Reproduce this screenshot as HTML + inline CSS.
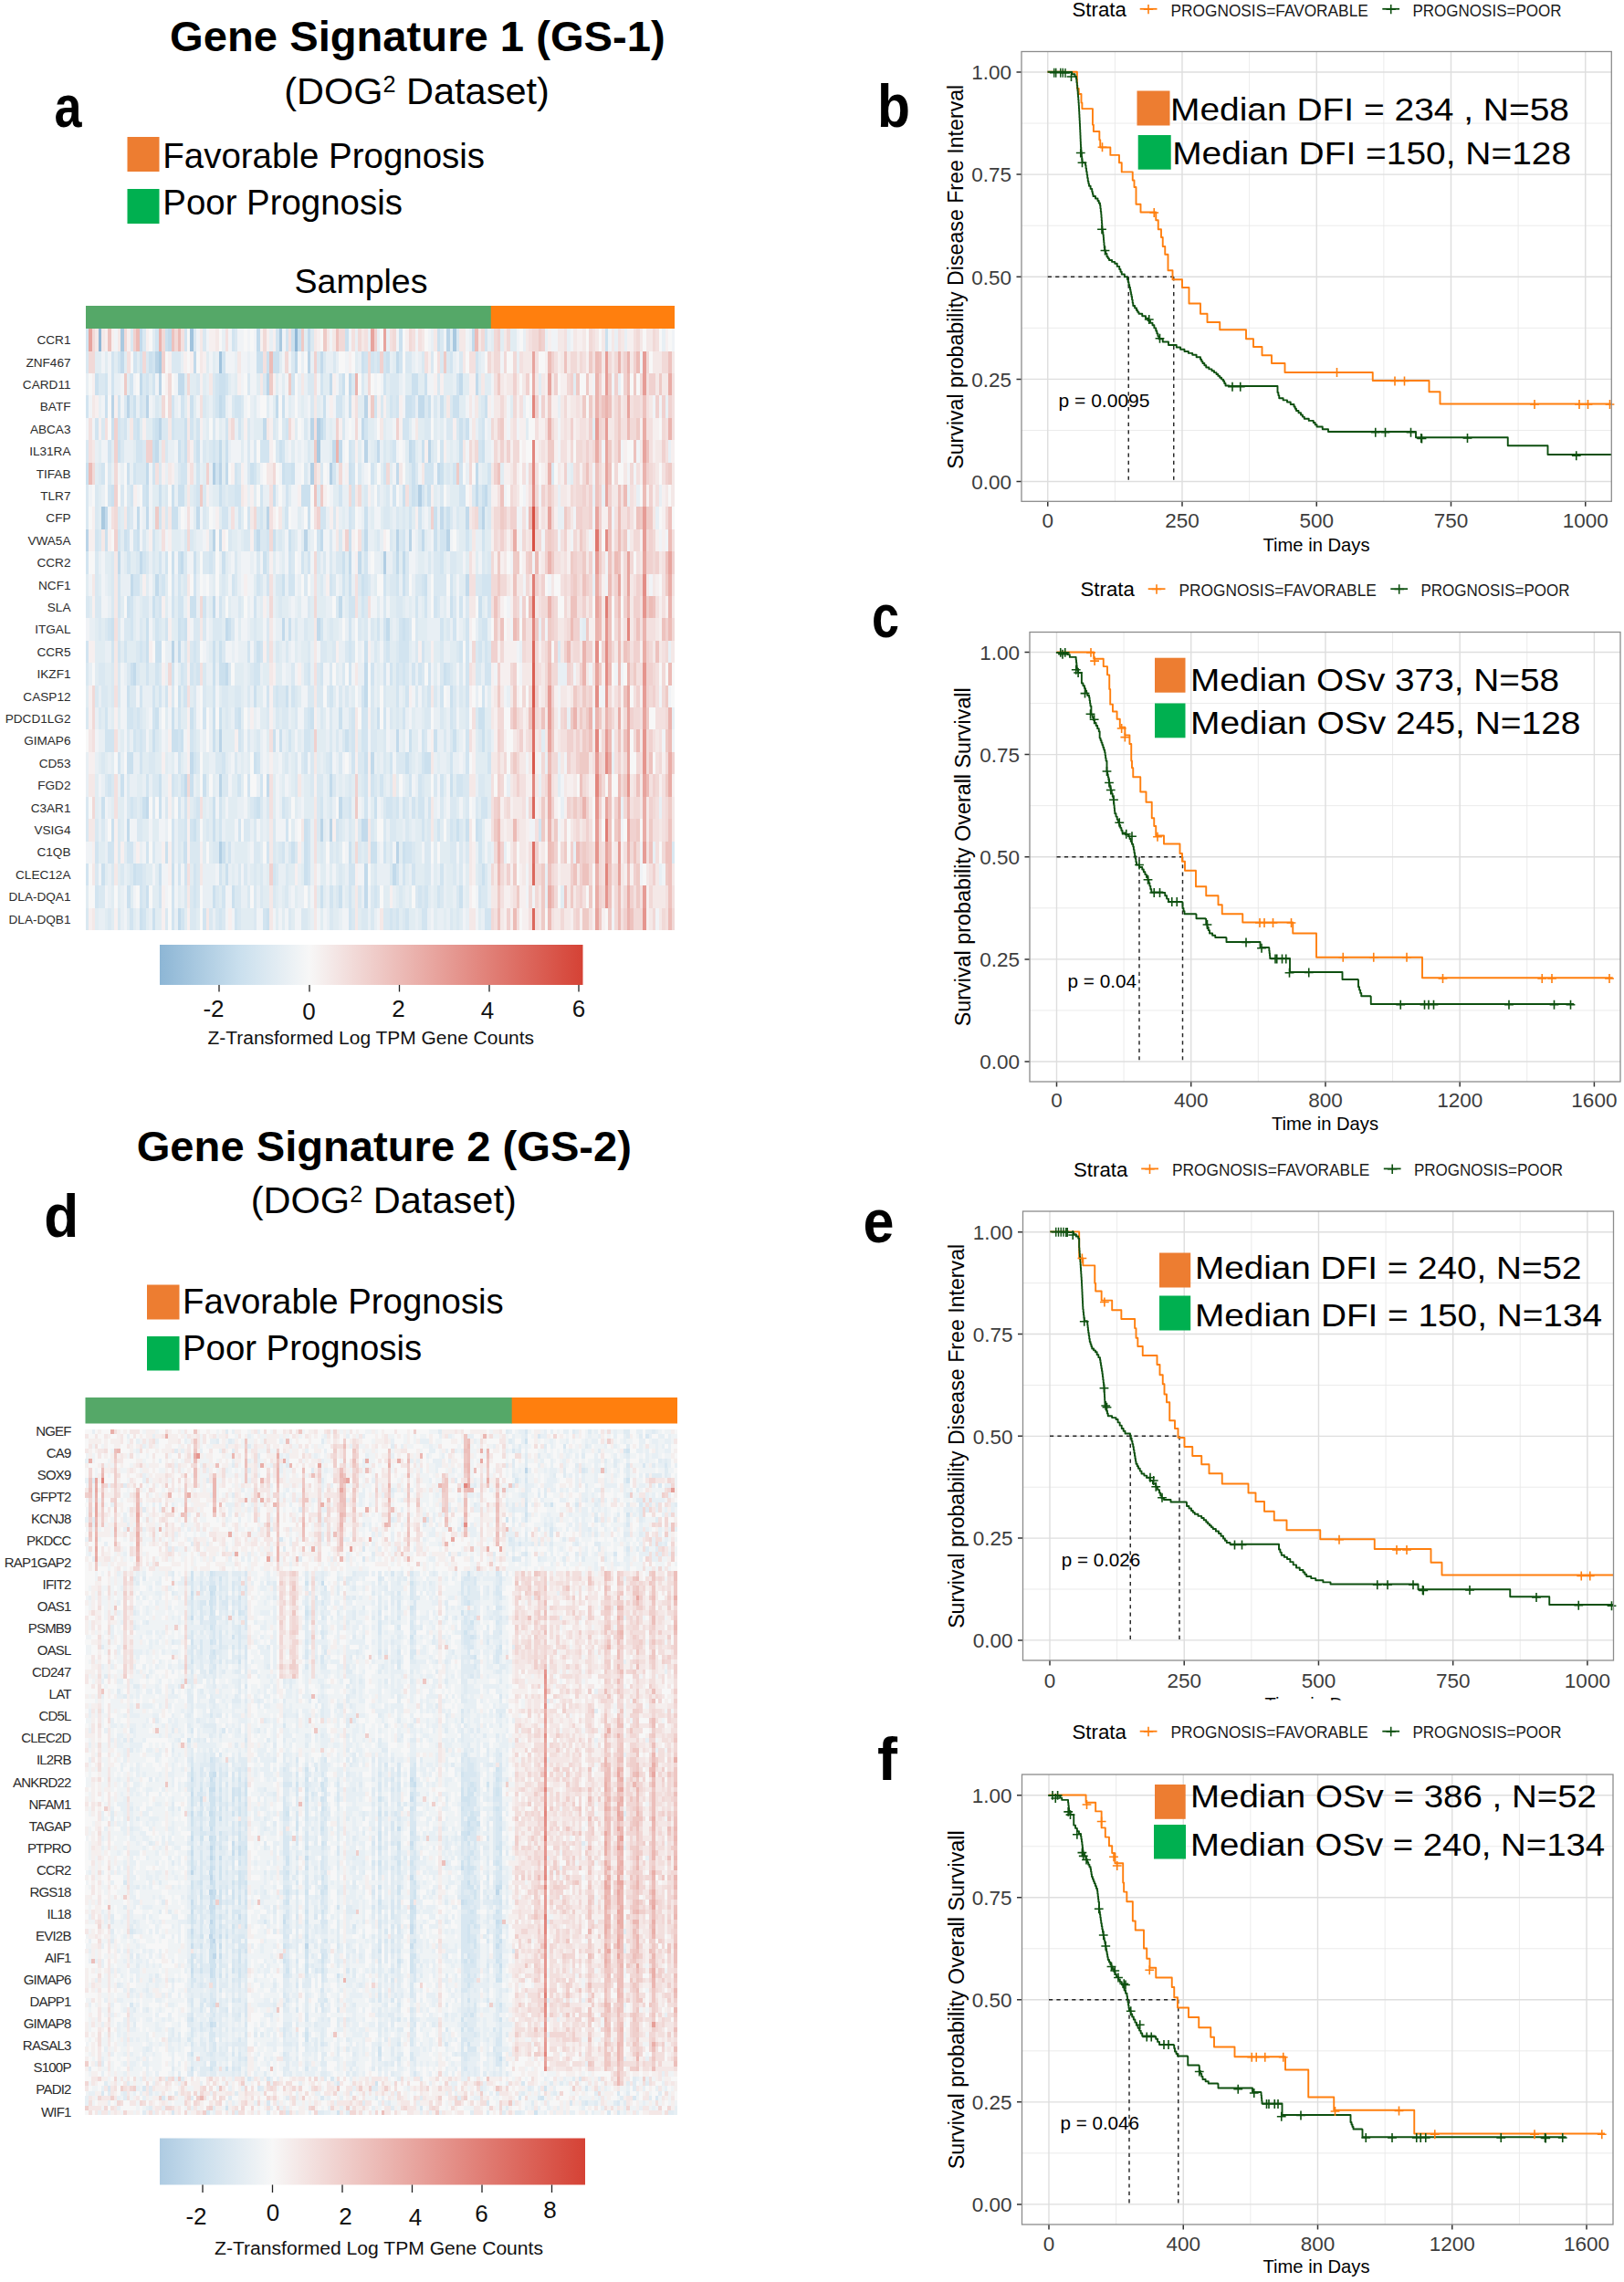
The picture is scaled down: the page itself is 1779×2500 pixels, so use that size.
<!DOCTYPE html>
<html lang="en"><head><meta charset="utf-8"><title>Gene signatures GS-1 and GS-2: heatmaps and Kaplan-Meier curves</title>
<style>html,body{margin:0;padding:0;background:#fff}svg{display:block}text{font-family:'Liberation Sans',Arial,sans-serif}</style></head><body>
<svg width="1779" height="2500" viewBox="0 0 1779 2500">
<rect width="1779" height="2500" fill="#fff"/>
<text x="186.1" y="55.8" font-size="47" font-weight="bold" textLength="542.6" lengthAdjust="spacingAndGlyphs">Gene Signature 1 (GS-1)</text>
<text x="311.3" y="113.5" font-size="41.2" textLength="290.5" lengthAdjust="spacingAndGlyphs">(DOG<tspan font-size="25" dy="-12.7">2</tspan><tspan dy="12.7"> Dataset)</tspan></text>
<text x="59.5" y="139.3" font-size="65" font-weight="bold" textLength="30" lengthAdjust="spacingAndGlyphs">a</text>
<rect x="139.5" y="150" width="35" height="38" fill="#ed7d31"/>
<rect x="139.5" y="207" width="35" height="38" fill="#00b050"/>
<text x="178.3" y="184" font-size="38.4" textLength="352.8" lengthAdjust="spacingAndGlyphs">Favorable Prognosis</text>
<text x="178.3" y="235.2" font-size="38.4" textLength="262.6" lengthAdjust="spacingAndGlyphs">Poor Prognosis</text>
<text x="322.5" y="321" font-size="36" textLength="146" lengthAdjust="spacingAndGlyphs">Samples</text>
<rect x="94" y="335" width="444" height="25.3" fill="#55a868"/>
<rect x="537.8" y="335" width="201.2" height="25.3" fill="#ff7f0e"/>
<g font-size="13.6" fill="#2b2b2b" text-anchor="end">
<text x="77.5" y="377.2">CCR1</text>
<text x="77.5" y="401.6">ZNF467</text>
<text x="77.5" y="426">CARD11</text>
<text x="77.5" y="450.4">BATF</text>
<text x="77.5" y="474.8">ABCA3</text>
<text x="77.5" y="499.2">IL31RA</text>
<text x="77.5" y="523.6">TIFAB</text>
<text x="77.5" y="548">TLR7</text>
<text x="77.5" y="572.4">CFP</text>
<text x="77.5" y="596.8">VWA5A</text>
<text x="77.5" y="621.2">CCR2</text>
<text x="77.5" y="645.6">NCF1</text>
<text x="77.5" y="670">SLA</text>
<text x="77.5" y="694.4">ITGAL</text>
<text x="77.5" y="718.8">CCR5</text>
<text x="77.5" y="743.2">IKZF1</text>
<text x="77.5" y="767.6">CASP12</text>
<text x="77.5" y="792">PDCD1LG2</text>
<text x="77.5" y="816.4">GIMAP6</text>
<text x="77.5" y="840.8">CD53</text>
<text x="77.5" y="865.2">FGD2</text>
<text x="77.5" y="889.6">C3AR1</text>
<text x="77.5" y="914">VSIG4</text>
<text x="77.5" y="938.4">C1QB</text>
<text x="77.5" y="962.8">CLEC12A</text>
<text x="77.5" y="987.2">DLA-DQA1</text>
<text x="77.5" y="1011.6">DLA-DQB1</text>
</g>
<g transform="translate(94 360.3) scale(3.4677 24.4000)" shape-rendering="crispEdges" fill="none" stroke-width="1.03">
<rect x="0" y="0" width="186" height="27" fill="#e1ecf2" stroke="none"/>
<path stroke="#8fb7d6" d="M4.5 0v1M66.5 0v1"/>
<path stroke="#a0c3dd" d="M33.5 0v1M42.5 1v1"/>
<path stroke="#a9c9e0" d="M5.5 8v1M11.5 0v1M23.5 1v1M61.5 0v1M73.5 5v1M116.5 0v1"/>
<path stroke="#b1cee4" d="M40.5 6v1M42.5 23v1M71.5 6v1M73.5 4v1M77.5 6v1M94.5 10v1M105.5 7v1"/>
<path stroke="#bad4e7" d="M0.5 9v1M8.5 3v1M13.5 3v1M19.5 3v1M22.5 1v1M23.5 2v1M23.5 4v1M27.5 14v1M40.5 9v1M42.5 6v1M42.5 18v1M42.5 20v1M57.5 2v1M57.5 8v1M69.5 9v1M70.5 1v1M71.5 4v1M74.5 22v1M77.5 22v1M88.5 3v1M88.5 5v1M98.5 9v1M98.5 23v1M102.5 9v1M108.5 5v1M114.5 0v1M114.5 9v1M125.5 8v1"/>
<path stroke="#c2daeb" d="M6.5 8v1M10.5 10v1M11.5 1v1M13.5 22v1M14.5 11v1M15.5 15v1M16.5 8v1M17.5 0v1M17.5 2v1M17.5 10v1M19.5 6v1M19.5 8v1M19.5 21v1M22.5 5v1M22.5 11v1M26.5 0v1M29.5 2v1M29.5 14v1M29.5 26v1M30.5 2v1M30.5 10v1M31.5 20v1M33.5 19v1M34.5 1v1M35.5 8v1M40.5 12v1M42.5 3v1M42.5 5v1M42.5 9v1M44.5 6v1M44.5 13v1M44.5 15v1M54.5 0v1M54.5 9v1M56.5 4v1M57.5 20v1M60.5 3v1M62.5 13v1M66.5 1v1M70.5 0v1M73.5 13v1M74.5 1v1M74.5 4v1M74.5 9v1M77.5 2v1M77.5 20v1M78.5 5v1M80.5 5v1M80.5 12v1M80.5 21v1M83.5 2v1M83.5 10v1M86.5 10v1M87.5 4v1M87.5 22v1M88.5 9v1M88.5 15v2M88.5 22v1M88.5 24v2M90.5 19v1M92.5 5v1M95.5 13v1M97.5 24v1M98.5 1v1M98.5 6v1M98.5 10v1M98.5 18v1M100.5 10v1M102.5 5v1M105.5 3v1M106.5 3v1M106.5 9v1M111.5 6v1M112.5 8v1M118.5 2v1M120.5 8v1M120.5 11v1M122.5 0v1M123.5 2v1M123.5 6v2M126.5 7v1"/>
<path stroke="#cbe0ee" d="M0.5 6v1M3.5 2v1M5.5 21v1M5.5 24v1M6.5 3v1M6.5 9v1M8.5 4v1M8.5 7v1M8.5 13v1M8.5 22v1M10.5 5v1M11.5 20v1M12.5 9v1M13.5 6v1M13.5 12v1M13.5 16v1M13.5 19v1M13.5 25v1M14.5 15v1M14.5 19v1M15.5 3v1M15.5 24v1M16.5 4v1M16.5 9v1M17.5 26v1M18.5 21v1M19.5 7v1M19.5 13v2M19.5 25v1M20.5 1v1M21.5 5v1M21.5 12v1M21.5 18v1M21.5 26v1M22.5 4v1M22.5 14v1M22.5 17v1M23.5 7v1M23.5 14v1M23.5 20v2M23.5 24v1M25.5 0v1M25.5 23v1M27.5 7v2M27.5 10v1M27.5 17v2M27.5 24v1M28.5 8v1M28.5 18v1M29.5 5v1M29.5 7v1M29.5 10v1M29.5 13v1M29.5 16v1M30.5 7v1M30.5 18v1M31.5 4v2M31.5 13v1M31.5 23v1M33.5 3v1M33.5 12v1M33.5 17v1M33.5 20v1M34.5 10v1M34.5 12v1M34.5 22v1M35.5 5v1M37.5 20v1M40.5 14v2M40.5 17v2M40.5 21v2M40.5 25v1M42.5 2v1M42.5 7v1M42.5 14v2M42.5 17v1M43.5 2v2M43.5 10v1M43.5 15v1M43.5 23v1M44.5 5v1M44.5 24v1M45.5 13v1M46.5 25v1M48.5 17v1M52.5 6v1M53.5 16v1M53.5 19v1M54.5 1v1M54.5 14v1M54.5 21v1M55.5 1v1M56.5 10v1M57.5 1v1M57.5 26v1M59.5 1v1M59.5 7v1M59.5 9v1M59.5 18v1M60.5 1v1M61.5 5v1M61.5 18v1M62.5 3v1M62.5 6v1M62.5 11v1M63.5 16v1M64.5 9v1M64.5 13v1M65.5 0v1M65.5 6v1M65.5 23v1M67.5 0v1M68.5 7v1M69.5 7v1M69.5 22v3M70.5 7v2M71.5 17v1M74.5 25v1M75.5 3v1M80.5 17v1M80.5 25v1M81.5 2v1M81.5 10v1M82.5 0v1M82.5 18v1M83.5 3v1M83.5 6v1M83.5 9v1M83.5 11v1M83.5 23v1M87.5 1v1M87.5 11v1M88.5 8v1M88.5 14v1M88.5 19v1M90.5 23v1M91.5 21v1M91.5 23v1M92.5 17v1M95.5 1v1M99.5 0v1M100.5 7v1M100.5 11v1M100.5 13v1M100.5 23v1M101.5 3v1M101.5 19v1M102.5 3v1M102.5 18v1M103.5 2v1M103.5 5v3M104.5 2v1M106.5 5v1M107.5 2v1M107.5 11v1M107.5 19v1M108.5 3v1M108.5 7v1M108.5 19v1M110.5 8v2M110.5 18v1M111.5 0v1M112.5 3v1M112.5 6v1M113.5 15v1M114.5 8v1M115.5 12v1M115.5 16v1M115.5 20v1M116.5 3v1M116.5 18v1M117.5 3v1M117.5 22v1M118.5 4v2M118.5 25v1M120.5 4v1M120.5 22v1M123.5 22v1M124.5 12v1M124.5 17v1M125.5 5v1M125.5 7v1M125.5 17v2M125.5 24v1M126.5 3v1M164.5 0v1"/>
<path stroke="#d2e4f0" d="M0.5 0v1M0.5 3v1M0.5 10v1M0.5 14v1M0.5 24v1M3.5 4v1M3.5 9v1M3.5 23v1M3.5 25v1M5.5 6v1M6.5 2v1M6.5 17v2M7.5 5v1M7.5 7v1M7.5 13v1M7.5 18v1M7.5 20v1M7.5 23v1M8.5 1v2M8.5 14v1M8.5 18v1M8.5 23v1M10.5 1v1M10.5 3v2M10.5 9v1M10.5 11v2M10.5 14v1M10.5 19v1M12.5 4v1M12.5 14v1M13.5 8v3M13.5 17v1M13.5 23v1M14.5 2v1M14.5 7v1M14.5 12v2M14.5 17v1M14.5 21v1M14.5 23v1M14.5 26v1M15.5 1v1M15.5 4v1M15.5 6v1M15.5 9v1M15.5 11v1M15.5 18v1M16.5 5v1M16.5 11v1M16.5 17v1M16.5 24v1M17.5 1v1M17.5 3v1M17.5 5v1M17.5 14v1M17.5 16v1M17.5 18v2M17.5 24v2M18.5 7v1M18.5 10v1M18.5 26v1M19.5 2v1M19.5 15v1M19.5 20v1M19.5 23v1M21.5 1v2M21.5 4v1M21.5 6v1M21.5 9v1M21.5 16v2M22.5 0v1M22.5 13v1M22.5 15v1M23.5 8v1M23.5 10v1M23.5 12v1M23.5 16v1M23.5 25v1M24.5 11v1M25.5 10v1M25.5 13v1M25.5 16v1M27.5 3v2M27.5 11v2M27.5 15v1M27.5 20v1M27.5 22v2M27.5 25v2M29.5 11v2M29.5 17v3M29.5 21v1M29.5 24v1M30.5 3v1M30.5 6v1M30.5 12v2M30.5 15v1M30.5 20v1M30.5 26v1M31.5 0v1M31.5 6v1M31.5 16v1M31.5 21v2M31.5 24v1M33.5 4v1M33.5 15v1M33.5 18v1M33.5 22v1M34.5 11v1M34.5 14v1M34.5 19v1M34.5 24v2M35.5 4v1M35.5 6v2M35.5 15v1M35.5 21v1M37.5 12v1M37.5 17v1M37.5 26v1M39.5 10v1M40.5 5v1M40.5 16v1M41.5 2v2M41.5 6v1M42.5 12v1M42.5 21v2M42.5 24v1M42.5 26v1M43.5 1v1M43.5 8v1M43.5 19v1M43.5 25v1M44.5 2v1M44.5 4v1M44.5 8v1M45.5 23v1M46.5 0v1M46.5 11v1M47.5 3v1M47.5 6v2M47.5 17v1M47.5 26v1M48.5 3v2M48.5 7v2M48.5 18v1M48.5 20v1M48.5 22v1M51.5 8v1M51.5 14v1M51.5 20v1M53.5 6v1M53.5 9v1M53.5 12v1M53.5 15v1M53.5 21v1M54.5 11v1M54.5 15v1M54.5 19v1M55.5 5v1M55.5 7v2M55.5 14v1M55.5 20v1M56.5 5v1M56.5 26v1M57.5 5v1M57.5 9v1M57.5 11v1M57.5 16v1M57.5 23v1M59.5 24v1M60.5 0v1M60.5 16v1M62.5 5v1M62.5 21v1M62.5 23v1M63.5 0v1M63.5 4v1M63.5 6v3M63.5 22v1M64.5 6v1M64.5 10v2M64.5 18v1M65.5 2v1M65.5 11v1M65.5 16v1M68.5 10v1M69.5 18v2M70.5 10v1M70.5 15v1M70.5 17v2M70.5 22v3M73.5 9v1M74.5 2v1M74.5 8v1M74.5 13v1M74.5 15v1M74.5 21v1M75.5 4v1M75.5 8v1M77.5 11v1M77.5 16v1M77.5 19v1M77.5 25v1M78.5 6v1M79.5 3v1M79.5 22v1M80.5 3v1M80.5 7v1M81.5 11v1M83.5 5v1M83.5 8v1M83.5 12v4M83.5 21v1M83.5 24v3M84.5 6v2M84.5 12v1M84.5 17v3M84.5 24v1M87.5 12v1M87.5 16v3M88.5 1v1M88.5 4v1M88.5 10v2M88.5 17v2M88.5 20v2M90.5 1v1M90.5 6v1M90.5 15v1M90.5 20v1M91.5 3v1M91.5 25v1M92.5 1v1M92.5 13v1M93.5 20v1M94.5 1v2M94.5 6v1M94.5 11v1M94.5 13v1M94.5 15v1M94.5 17v1M94.5 23v1M95.5 14v1M95.5 21v1M96.5 3v1M96.5 15v1M96.5 19v1M96.5 21v1M96.5 26v1M97.5 5v1M97.5 7v1M98.5 3v1M98.5 11v1M98.5 15v2M98.5 21v1M98.5 24v1M98.5 26v1M99.5 1v1M99.5 13v2M100.5 4v1M100.5 9v1M100.5 14v2M100.5 17v1M100.5 21v1M100.5 24v1M101.5 4v1M101.5 13v2M101.5 16v1M101.5 23v1M101.5 26v1M102.5 8v1M102.5 20v1M102.5 23v1M103.5 3v1M103.5 15v1M103.5 21v1M103.5 24v1M104.5 7v1M104.5 12v1M105.5 8v1M105.5 15v1M105.5 20v2M105.5 25v1M106.5 7v1M106.5 11v1M106.5 14v1M106.5 18v2M106.5 21v2M106.5 26v1M107.5 6v1M107.5 12v1M107.5 25v2M108.5 6v1M108.5 15v2M108.5 21v1M109.5 6v1M110.5 12v1M111.5 22v1M111.5 25v1M112.5 5v1M112.5 9v2M112.5 13v1M112.5 16v1M112.5 20v1M112.5 24v1M113.5 9v1M114.5 15v1M115.5 1v1M115.5 11v1M115.5 17v1M115.5 19v1M115.5 22v1M116.5 6v1M116.5 13v1M117.5 2v1M117.5 20v1M118.5 6v2M118.5 12v1M118.5 14v1M118.5 20v1M119.5 7v1M120.5 9v1M120.5 13v4M120.5 18v2M123.5 1v1M124.5 5v1M124.5 8v1M124.5 14v1M124.5 22v2M124.5 25v1M125.5 4v1M125.5 9v1M125.5 11v1M125.5 13v1M125.5 16v1M125.5 21v1M126.5 0v1M126.5 11v1M126.5 13v3M126.5 21v1M126.5 26v1M127.5 6v1M127.5 11v2M127.5 15v1M127.5 19v1M127.5 26v1M143.5 22v1"/>
<path stroke="#dae8f1" d="M0.5 1v1M0.5 5v1M0.5 7v2M0.5 12v1M0.5 15v1M0.5 17v1M0.5 21v2M0.5 26v1M3.5 7v2M3.5 10v3M3.5 16v1M3.5 22v1M3.5 24v1M4.5 2v1M4.5 6v1M4.5 9v1M4.5 12v2M4.5 15v1M4.5 17v1M4.5 25v1M5.5 2v1M5.5 4v1M5.5 15v2M5.5 19v1M5.5 22v1M5.5 25v1M6.5 13v1M6.5 16v1M6.5 20v1M7.5 6v1M7.5 26v1M8.5 10v3M8.5 15v2M8.5 20v1M8.5 24v1M10.5 8v1M10.5 13v1M10.5 15v2M10.5 22v2M10.5 26v1M11.5 4v2M11.5 7v1M11.5 24v1M12.5 3v1M12.5 13v1M13.5 7v1M13.5 13v1M13.5 15v1M13.5 18v1M13.5 20v2M14.5 0v1M14.5 3v1M14.5 8v1M14.5 16v1M14.5 24v1M15.5 16v2M15.5 21v1M16.5 6v1M16.5 10v1M16.5 14v2M16.5 18v1M16.5 22v1M17.5 6v1M17.5 13v1M17.5 17v1M17.5 21v2M18.5 0v1M18.5 2v2M18.5 5v2M18.5 9v1M18.5 12v1M18.5 14v1M18.5 18v1M18.5 24v2M19.5 1v1M19.5 10v1M19.5 12v1M20.5 19v1M21.5 10v1M21.5 19v3M21.5 23v1M22.5 3v1M22.5 12v1M22.5 18v1M22.5 20v1M23.5 6v1M23.5 11v1M23.5 13v1M23.5 15v1M24.5 4v1M25.5 4v2M25.5 7v2M25.5 21v1M25.5 26v1M27.5 1v1M27.5 16v1M28.5 1v1M28.5 4v1M28.5 20v1M29.5 1v1M29.5 4v1M29.5 6v1M29.5 22v2M30.5 4v2M30.5 22v1M31.5 9v3M31.5 14v2M31.5 25v1M33.5 9v1M33.5 14v1M33.5 23v1M33.5 25v2M34.5 0v1M34.5 5v1M34.5 7v1M34.5 13v1M34.5 15v4M34.5 21v1M34.5 23v1M34.5 26v1M35.5 2v1M35.5 13v2M35.5 19v1M35.5 22v4M37.5 0v1M37.5 3v1M37.5 5v1M37.5 7v2M37.5 10v1M37.5 13v1M37.5 15v2M38.5 10v1M38.5 22v1M39.5 5v1M39.5 9v1M39.5 26v1M40.5 2v3M40.5 10v1M40.5 13v1M40.5 23v1M41.5 5v1M41.5 13v1M41.5 19v1M41.5 23v1M41.5 25v2M42.5 13v1M42.5 19v1M43.5 7v1M43.5 11v1M43.5 14v1M43.5 16v1M43.5 20v1M43.5 26v1M44.5 16v2M44.5 20v1M45.5 7v1M45.5 9v1M45.5 15v1M46.5 3v1M46.5 7v1M46.5 13v1M47.5 0v1M47.5 10v2M47.5 16v1M47.5 19v1M47.5 25v1M48.5 6v1M48.5 12v1M48.5 16v1M48.5 24v3M49.5 3v1M49.5 18v1M50.5 9v1M50.5 22v1M50.5 24v1M51.5 2v1M51.5 4v3M51.5 9v1M51.5 16v1M51.5 18v1M51.5 22v1M51.5 25v1M52.5 15v1M52.5 21v1M53.5 5v1M53.5 13v2M53.5 22v5M54.5 8v1M54.5 10v1M54.5 18v1M54.5 23v1M55.5 9v1M55.5 11v1M55.5 21v1M55.5 24v2M56.5 2v1M56.5 9v1M57.5 10v1M57.5 13v2M57.5 17v1M57.5 21v1M59.5 4v1M59.5 16v1M59.5 22v2M59.5 25v1M60.5 5v1M60.5 11v1M60.5 14v1M60.5 17v1M60.5 24v1M61.5 9v1M61.5 11v2M61.5 16v1M61.5 23v1M62.5 4v1M62.5 16v2M63.5 14v1M63.5 17v1M63.5 19v1M63.5 21v1M63.5 24v2M64.5 23v1M64.5 26v1M65.5 1v1M65.5 9v2M65.5 15v1M66.5 13v1M66.5 16v2M66.5 19v2M66.5 23v1M68.5 19v1M68.5 26v1M69.5 4v1M69.5 6v1M69.5 11v1M69.5 13v1M69.5 15v1M69.5 17v1M69.5 26v1M70.5 2v1M70.5 5v1M70.5 12v1M70.5 14v1M70.5 16v1M71.5 0v1M71.5 2v2M71.5 16v1M71.5 18v3M73.5 1v1M73.5 7v1M73.5 10v1M73.5 15v2M73.5 20v3M74.5 6v1M74.5 11v1M74.5 14v1M74.5 16v2M74.5 20v1M74.5 23v1M75.5 1v1M75.5 10v1M75.5 14v1M76.5 16v1M76.5 19v1M77.5 9v2M77.5 13v1M77.5 15v1M77.5 17v2M77.5 21v1M77.5 23v1M77.5 26v1M78.5 1v1M78.5 8v1M78.5 11v1M78.5 14v1M78.5 20v1M79.5 10v1M79.5 12v1M79.5 18v1M79.5 23v1M79.5 25v1M80.5 2v1M80.5 9v2M80.5 16v1M80.5 19v1M80.5 22v1M80.5 24v1M81.5 4v1M81.5 15v1M81.5 18v1M81.5 21v1M82.5 14v1M82.5 16v1M82.5 21v1M83.5 17v2M83.5 20v1M83.5 22v1M84.5 2v1M84.5 5v1M84.5 8v1M84.5 14v1M84.5 26v1M86.5 6v1M86.5 11v1M86.5 13v1M86.5 19v1M86.5 22v2M86.5 25v1M87.5 2v1M87.5 9v1M87.5 19v2M87.5 26v1M88.5 7v1M88.5 12v2M88.5 23v1M88.5 26v1M89.5 11v1M90.5 13v1M90.5 16v3M90.5 22v1M90.5 25v2M91.5 1v1M91.5 5v1M91.5 14v1M91.5 18v1M91.5 20v1M91.5 24v1M92.5 7v1M92.5 9v1M92.5 25v1M93.5 3v1M94.5 5v1M94.5 8v1M94.5 12v1M94.5 14v1M94.5 16v1M94.5 18v2M94.5 21v2M94.5 26v1M95.5 7v2M95.5 26v1M96.5 2v1M96.5 5v1M96.5 9v1M96.5 11v1M96.5 17v1M96.5 20v1M96.5 22v3M97.5 2v2M97.5 10v2M97.5 21v2M97.5 26v1M98.5 2v1M98.5 8v1M98.5 12v1M98.5 14v1M98.5 17v1M98.5 19v1M99.5 9v1M99.5 12v1M99.5 15v1M99.5 19v1M99.5 25v1M100.5 8v1M100.5 19v1M100.5 26v1M101.5 1v1M101.5 10v2M101.5 15v1M101.5 21v2M102.5 1v1M102.5 6v2M102.5 13v1M102.5 19v1M103.5 23v1M104.5 6v1M104.5 11v1M104.5 13v2M104.5 16v1M104.5 25v1M105.5 9v1M105.5 11v1M106.5 1v1M106.5 15v2M106.5 20v1M106.5 25v1M107.5 3v2M107.5 17v2M107.5 23v2M108.5 4v1M108.5 10v1M108.5 17v1M108.5 22v3M109.5 1v1M109.5 5v1M110.5 3v1M110.5 10v2M110.5 16v1M110.5 20v1M111.5 2v1M111.5 10v3M112.5 0v2M112.5 7v1M112.5 11v1M112.5 14v2M112.5 17v1M112.5 21v1M112.5 25v1M113.5 8v1M113.5 11v1M113.5 18v1M114.5 1v1M114.5 4v1M114.5 6v1M114.5 13v1M115.5 3v2M115.5 8v1M115.5 10v1M115.5 15v1M115.5 18v1M115.5 21v1M115.5 23v1M115.5 26v1M116.5 10v1M116.5 12v1M116.5 16v2M116.5 21v4M117.5 0v1M117.5 4v1M117.5 8v1M117.5 14v1M117.5 25v2M118.5 1v1M118.5 15v2M118.5 22v3M119.5 4v1M119.5 20v1M120.5 12v1M120.5 17v1M120.5 20v2M120.5 23v1M122.5 7v1M123.5 11v1M123.5 14v2M123.5 17v1M123.5 21v1M124.5 4v1M124.5 7v1M124.5 11v1M124.5 13v1M124.5 15v1M124.5 18v1M124.5 20v1M124.5 24v1M125.5 3v1M125.5 10v1M125.5 20v1M125.5 25v1M126.5 24v2M127.5 7v2M127.5 10v1M127.5 14v1M127.5 18v1M147.5 6v1M149.5 14v1M185.5 23v1"/>
<path stroke="#e8eff4" d="M0.5 2v1M0.5 19v2M1.5 13v1M1.5 15v1M2.5 13v1M3.5 5v1M3.5 17v1M3.5 19v1M4.5 3v1M4.5 10v1M4.5 16v1M4.5 18v1M4.5 21v2M4.5 26v1M5.5 7v1M5.5 18v1M5.5 20v1M5.5 26v1M6.5 11v1M6.5 14v1M6.5 22v2M7.5 12v1M7.5 14v1M7.5 17v1M7.5 19v1M7.5 21v1M7.5 24v2M8.5 6v1M9.5 2v1M10.5 2v1M10.5 18v1M10.5 20v1M11.5 6v1M11.5 10v2M11.5 19v1M11.5 25v2M12.5 5v1M12.5 11v1M12.5 15v1M12.5 24v1M13.5 4v2M13.5 11v1M14.5 5v2M14.5 18v1M14.5 20v1M15.5 19v2M15.5 23v1M16.5 3v1M16.5 12v2M16.5 19v1M16.5 26v1M17.5 23v1M18.5 8v1M18.5 16v1M18.5 20v1M19.5 9v1M19.5 16v2M20.5 10v1M20.5 12v1M20.5 16v1M20.5 20v1M20.5 26v1M21.5 3v1M22.5 23v1M23.5 9v1M23.5 17v1M23.5 23v1M24.5 10v1M24.5 16v1M24.5 20v1M25.5 6v1M25.5 14v2M25.5 18v1M25.5 20v1M25.5 22v1M26.5 5v1M26.5 14v1M26.5 19v1M27.5 5v1M28.5 3v1M28.5 6v2M28.5 11v1M28.5 14v1M28.5 17v1M28.5 22v2M28.5 26v1M29.5 8v1M30.5 1v1M30.5 9v1M30.5 14v1M30.5 21v1M30.5 25v1M31.5 12v1M31.5 19v1M34.5 6v1M34.5 20v1M35.5 9v1M35.5 11v2M36.5 6v1M36.5 9v1M37.5 4v1M37.5 18v1M37.5 24v2M38.5 2v1M38.5 12v1M38.5 14v2M38.5 21v1M38.5 24v2M39.5 3v1M39.5 6v2M39.5 11v1M39.5 13v1M39.5 15v1M39.5 17v3M39.5 24v2M40.5 19v1M40.5 24v1M40.5 26v1M41.5 1v1M41.5 15v1M41.5 20v1M42.5 10v1M43.5 0v1M43.5 4v1M43.5 22v1M44.5 3v1M45.5 5v1M45.5 8v1M45.5 10v1M45.5 19v1M45.5 24v1M46.5 2v1M46.5 12v1M46.5 14v1M46.5 17v1M46.5 23v1M47.5 1v1M47.5 4v1M47.5 8v1M47.5 12v1M47.5 24v1M48.5 9v3M48.5 14v1M48.5 19v1M48.5 21v1M49.5 14v1M49.5 21v1M49.5 25v1M50.5 14v3M50.5 19v1M50.5 25v1M51.5 1v1M51.5 7v1M51.5 12v2M51.5 17v1M51.5 23v2M52.5 3v2M52.5 10v1M52.5 16v1M52.5 18v1M52.5 22v1M53.5 17v1M54.5 12v1M54.5 20v1M54.5 25v1M55.5 15v1M55.5 18v2M56.5 7v1M56.5 11v1M56.5 21v2M56.5 24v1M57.5 7v1M57.5 12v1M57.5 19v1M58.5 0v1M59.5 11v2M59.5 14v1M59.5 17v1M59.5 19v1M60.5 7v1M60.5 13v1M60.5 19v1M61.5 10v1M61.5 13v1M61.5 20v2M61.5 24v2M62.5 7v1M62.5 14v1M62.5 18v1M62.5 24v1M63.5 5v1M63.5 11v1M63.5 13v1M63.5 15v1M63.5 23v1M64.5 12v1M64.5 14v4M64.5 19v2M64.5 25v1M65.5 3v1M65.5 13v1M66.5 12v1M67.5 2v2M67.5 5v1M67.5 11v1M67.5 13v2M67.5 21v1M67.5 24v2M68.5 1v1M68.5 8v1M68.5 13v1M68.5 15v1M68.5 18v1M68.5 20v1M68.5 23v1M68.5 25v1M69.5 2v2M69.5 5v1M70.5 4v1M70.5 6v1M71.5 1v1M71.5 9v1M71.5 11v1M71.5 14v2M71.5 22v3M71.5 26v1M73.5 17v1M74.5 3v1M74.5 5v1M74.5 10v1M74.5 19v1M75.5 5v1M75.5 11v1M75.5 13v1M75.5 20v2M76.5 1v1M76.5 4v2M76.5 8v1M76.5 12v1M76.5 18v1M76.5 22v1M76.5 25v2M77.5 1v1M77.5 12v1M78.5 4v1M78.5 10v1M78.5 17v2M78.5 21v1M79.5 1v1M79.5 6v1M79.5 17v1M79.5 19v2M80.5 8v1M80.5 11v1M80.5 13v3M80.5 18v1M80.5 26v1M81.5 7v1M81.5 12v1M81.5 14v1M81.5 16v2M81.5 20v1M81.5 25v1M82.5 7v2M82.5 13v1M82.5 17v1M82.5 22v1M82.5 24v1M83.5 16v1M83.5 19v1M84.5 11v1M84.5 13v1M84.5 21v1M85.5 0v1M86.5 1v1M86.5 14v3M87.5 6v1M87.5 8v1M87.5 15v1M87.5 21v1M87.5 25v1M88.5 2v1M89.5 0v1M89.5 5v1M89.5 8v2M89.5 26v1M90.5 7v1M90.5 9v1M90.5 11v1M90.5 14v1M91.5 4v1M91.5 10v1M91.5 15v2M91.5 19v1M91.5 26v1M92.5 0v1M92.5 10v1M92.5 23v2M93.5 5v1M93.5 7v1M93.5 9v1M93.5 13v1M93.5 15v1M93.5 19v1M93.5 21v1M93.5 24v1M94.5 24v1M95.5 0v1M95.5 4v1M95.5 10v1M95.5 20v1M95.5 22v1M95.5 24v1M96.5 1v1M96.5 4v1M96.5 10v1M96.5 18v1M97.5 8v1M97.5 13v1M97.5 18v1M97.5 25v1M99.5 2v1M99.5 7v1M99.5 11v1M99.5 16v1M99.5 18v1M99.5 21v1M99.5 24v1M100.5 20v1M100.5 22v1M101.5 9v1M101.5 12v1M101.5 17v1M101.5 25v1M102.5 15v1M102.5 21v1M102.5 24v1M103.5 1v1M103.5 11v2M103.5 14v1M103.5 22v1M104.5 3v1M104.5 9v2M104.5 15v1M104.5 17v1M104.5 19v2M104.5 26v1M105.5 1v1M105.5 5v1M105.5 12v1M105.5 17v1M106.5 8v1M107.5 10v1M107.5 21v1M108.5 9v1M108.5 11v3M108.5 26v1M109.5 0v1M109.5 10v1M109.5 13v1M109.5 25v1M110.5 13v1M110.5 17v1M110.5 19v1M110.5 21v1M111.5 3v2M111.5 7v2M111.5 13v1M111.5 16v3M111.5 24v1M111.5 26v1M112.5 12v1M112.5 18v2M112.5 26v1M113.5 14v1M113.5 19v1M113.5 21v1M113.5 24v2M114.5 5v1M114.5 7v1M114.5 10v1M114.5 14v1M114.5 17v2M114.5 26v1M115.5 13v1M116.5 1v2M116.5 5v1M116.5 8v1M116.5 19v1M116.5 25v1M117.5 9v1M117.5 16v1M117.5 19v1M117.5 24v1M118.5 13v1M118.5 18v1M119.5 19v1M119.5 23v1M119.5 25v1M120.5 6v1M120.5 26v1M121.5 0v1M123.5 4v1M123.5 9v1M123.5 13v1M123.5 16v1M123.5 20v1M123.5 23v1M124.5 6v1M124.5 9v1M125.5 1v1M125.5 15v1M125.5 26v1M126.5 5v1M126.5 12v1M127.5 0v1M127.5 4v2M127.5 13v1M127.5 24v2M128.5 18v1M128.5 23v1M132.5 23v1M133.5 16v1M133.5 20v1M136.5 1v1M137.5 14v1M138.5 0v1M138.5 3v1M143.5 13v1M143.5 20v1M145.5 0v1M145.5 19v1M145.5 24v2M149.5 3v1M149.5 7v2M149.5 15v1M149.5 19v1M150.5 8v1M150.5 15v1M150.5 21v1M151.5 15v1M152.5 0v1M152.5 6v1M152.5 17v1M154.5 23v1M156.5 13v1M160.5 7v1M160.5 11v1M163.5 7v1M166.5 19v1M167.5 0v1M168.5 2v1M169.5 21v1M170.5 0v1M171.5 7v1M174.5 7v1M179.5 23v1M180.5 8v1M181.5 7v1M181.5 21v1M181.5 24v1M182.5 0v1M183.5 3v1M184.5 5v1M184.5 14v1M185.5 17v1"/>
<path stroke="#f0f3f6" d="M0.5 4v1M0.5 13v1M0.5 23v1M1.5 3v1M1.5 7v1M1.5 11v1M1.5 23v1M2.5 4v1M3.5 18v1M4.5 20v1M4.5 24v1M5.5 1v1M5.5 3v1M5.5 5v1M5.5 10v3M6.5 5v1M6.5 12v1M6.5 21v1M6.5 25v1M7.5 1v2M7.5 8v1M9.5 0v1M10.5 6v1M11.5 2v2M11.5 13v1M11.5 15v3M12.5 16v3M12.5 20v3M12.5 25v2M14.5 9v1M14.5 22v1M15.5 2v1M15.5 8v1M15.5 22v1M15.5 25v1M16.5 7v1M16.5 16v1M17.5 8v2M18.5 23v1M19.5 18v1M20.5 3v1M20.5 6v3M20.5 11v1M20.5 13v1M20.5 17v1M20.5 22v1M21.5 24v1M22.5 2v1M23.5 22v1M24.5 18v1M24.5 21v2M24.5 24v1M25.5 9v1M25.5 24v2M26.5 12v1M26.5 17v1M28.5 2v1M28.5 5v1M28.5 10v1M28.5 15v1M28.5 19v1M28.5 24v2M29.5 3v1M30.5 24v1M31.5 8v1M31.5 18v1M32.5 10v1M33.5 8v1M33.5 10v1M33.5 13v1M35.5 0v1M35.5 3v1M35.5 16v2M36.5 5v1M36.5 8v1M36.5 18v1M37.5 9v1M37.5 11v1M37.5 14v1M38.5 0v1M38.5 13v1M39.5 1v1M40.5 8v1M41.5 4v1M41.5 12v1M41.5 16v1M41.5 21v1M41.5 24v1M44.5 1v1M44.5 14v1M44.5 21v1M44.5 25v2M45.5 0v2M45.5 3v1M45.5 11v1M45.5 14v1M45.5 20v1M45.5 25v1M46.5 1v1M46.5 5v1M46.5 10v1M46.5 19v1M46.5 26v1M47.5 5v1M47.5 13v2M47.5 22v1M48.5 0v1M48.5 5v1M49.5 0v3M49.5 10v2M49.5 13v1M49.5 24v1M50.5 1v1M50.5 3v1M50.5 5v2M50.5 10v1M50.5 13v1M50.5 18v1M50.5 21v1M51.5 0v1M51.5 10v2M52.5 1v2M52.5 5v1M52.5 11v2M52.5 14v1M52.5 23v1M53.5 0v3M53.5 10v1M54.5 3v1M54.5 17v1M54.5 22v1M54.5 26v1M55.5 6v1M55.5 10v1M55.5 26v1M56.5 13v1M56.5 16v1M56.5 18v2M58.5 3v1M59.5 13v1M59.5 26v1M60.5 10v1M60.5 18v1M60.5 20v3M61.5 2v1M61.5 6v1M61.5 19v1M61.5 22v1M61.5 26v1M62.5 0v2M62.5 15v1M62.5 22v1M63.5 2v2M63.5 9v2M63.5 20v1M63.5 26v1M64.5 1v1M64.5 5v1M65.5 7v2M65.5 12v1M65.5 14v1M65.5 25v1M66.5 5v4M66.5 11v1M66.5 15v1M66.5 18v1M66.5 22v1M66.5 26v1M67.5 6v1M67.5 9v2M67.5 17v1M67.5 19v1M67.5 26v1M68.5 4v2M68.5 12v1M68.5 16v2M68.5 21v1M69.5 12v1M69.5 16v1M70.5 3v1M70.5 19v1M71.5 10v1M71.5 25v1M73.5 2v1M73.5 14v1M73.5 24v1M73.5 26v1M75.5 9v1M75.5 15v1M75.5 26v1M76.5 3v1M76.5 6v1M76.5 9v2M76.5 15v1M76.5 17v1M76.5 24v1M77.5 0v1M77.5 7v1M78.5 3v1M78.5 9v1M78.5 19v1M78.5 24v1M79.5 2v1M79.5 11v1M79.5 16v1M81.5 5v2M81.5 19v1M81.5 26v1M82.5 1v1M82.5 3v2M82.5 23v1M82.5 26v1M83.5 0v1M84.5 4v1M84.5 10v1M84.5 15v1M86.5 4v1M86.5 8v1M86.5 21v1M86.5 24v1M87.5 5v1M87.5 14v1M87.5 24v1M88.5 6v1M89.5 10v1M89.5 13v1M89.5 18v1M89.5 21v1M89.5 25v1M90.5 12v1M91.5 2v1M91.5 8v1M91.5 12v1M92.5 8v1M92.5 21v1M92.5 26v1M93.5 2v1M93.5 12v1M93.5 14v1M93.5 23v1M95.5 12v1M95.5 15v1M95.5 17v2M96.5 7v1M97.5 4v1M97.5 6v1M97.5 19v1M97.5 23v1M98.5 0v1M98.5 5v1M100.5 2v2M100.5 5v1M101.5 18v1M102.5 10v1M102.5 17v1M103.5 4v1M103.5 9v2M103.5 16v1M103.5 20v1M104.5 0v2M105.5 6v1M105.5 16v1M105.5 18v1M106.5 23v1M107.5 8v1M108.5 0v1M108.5 2v1M108.5 18v1M109.5 2v2M109.5 9v1M109.5 15v1M109.5 24v1M109.5 26v1M110.5 6v1M111.5 15v1M111.5 20v2M113.5 0v1M113.5 4v1M114.5 12v1M114.5 16v1M114.5 20v2M115.5 9v1M117.5 1v1M117.5 11v3M117.5 15v1M117.5 17v1M117.5 23v1M118.5 19v1M118.5 21v1M119.5 10v1M119.5 12v1M119.5 15v1M119.5 18v1M119.5 24v1M119.5 26v1M120.5 0v1M120.5 3v1M120.5 5v1M121.5 4v1M121.5 14v1M122.5 3v1M122.5 21v1M123.5 25v2M124.5 10v1M126.5 4v1M126.5 16v1M126.5 22v2M127.5 22v1M128.5 2v2M128.5 5v1M129.5 15v1M131.5 1v1M132.5 7v1M132.5 16v1M133.5 3v2M133.5 12v1M134.5 10v1M134.5 13v1M136.5 0v1M136.5 4v1M136.5 8v1M136.5 14v1M137.5 8v2M137.5 12v1M137.5 15v1M138.5 7v1M138.5 11v1M139.5 6v1M139.5 8v1M139.5 19v1M139.5 21v1M139.5 24v2M140.5 3v1M140.5 22v1M141.5 10v1M141.5 22v1M141.5 25v1M143.5 3v1M143.5 7v1M143.5 19v1M144.5 9v1M145.5 13v1M146.5 11v1M147.5 0v1M148.5 0v1M149.5 4v2M149.5 9v1M149.5 16v2M149.5 22v1M150.5 20v1M151.5 19v1M153.5 0v1M153.5 9v1M154.5 8v1M154.5 15v1M159.5 9v1M159.5 15v1M160.5 2v1M160.5 6v1M160.5 8v1M160.5 10v1M160.5 17v1M162.5 16v1M163.5 5v1M163.5 16v1M164.5 10v2M165.5 0v1M166.5 2v1M166.5 8v1M166.5 18v1M166.5 26v1M167.5 15v1M169.5 5v1M169.5 15v1M169.5 22v1M171.5 6v1M171.5 9v1M173.5 6v1M174.5 5v1M175.5 1v1M175.5 23v2M178.5 11v1M179.5 3v1M180.5 26v1M181.5 3v1M181.5 9v1M181.5 16v1M182.5 18v1M182.5 24v1M183.5 9v1M184.5 16v1M185.5 0v1M185.5 18v1"/>
<path stroke="#f7f7f7" d="M0.5 18v1M1.5 2v1M1.5 8v1M1.5 10v1M1.5 21v1M1.5 24v2M2.5 7v1M2.5 10v1M2.5 15v1M2.5 25v1M6.5 6v2M7.5 3v2M7.5 22v1M8.5 9v1M9.5 19v1M9.5 25v1M10.5 7v1M12.5 6v2M12.5 12v1M12.5 19v1M14.5 1v1M16.5 2v1M16.5 25v1M17.5 7v1M20.5 0v1M20.5 21v1M20.5 23v1M20.5 25v1M21.5 14v1M22.5 21v1M24.5 2v1M24.5 14v1M24.5 17v1M25.5 1v1M25.5 3v1M26.5 7v1M26.5 10v2M26.5 22v1M26.5 25v2M27.5 2v1M28.5 16v1M28.5 21v1M30.5 8v1M32.5 0v2M33.5 11v1M35.5 1v1M36.5 10v2M36.5 14v1M36.5 16v2M36.5 19v2M36.5 22v1M36.5 25v2M38.5 11v1M38.5 17v2M38.5 23v1M39.5 4v1M39.5 8v1M39.5 20v1M41.5 9v3M41.5 17v1M42.5 0v1M44.5 9v1M44.5 12v1M45.5 6v1M46.5 15v1M49.5 22v1M50.5 0v1M50.5 2v1M50.5 8v1M50.5 12v1M50.5 17v1M50.5 20v1M51.5 3v1M52.5 0v1M52.5 19v2M52.5 25v1M53.5 20v1M54.5 5v1M54.5 7v1M55.5 3v1M56.5 3v1M56.5 6v1M56.5 20v1M56.5 23v1M59.5 5v1M60.5 6v1M60.5 8v1M61.5 3v2M61.5 7v1M64.5 8v1M64.5 22v1M65.5 21v1M66.5 2v2M66.5 10v1M67.5 1v1M67.5 4v1M67.5 22v1M68.5 6v1M68.5 11v1M69.5 1v1M69.5 8v1M69.5 25v1M70.5 11v1M71.5 7v2M72.5 9v1M74.5 0v1M75.5 6v1M75.5 16v1M76.5 7v1M76.5 23v1M78.5 12v1M78.5 15v1M79.5 21v1M80.5 1v1M81.5 1v1M81.5 13v1M81.5 23v1M82.5 2v1M82.5 5v1M82.5 15v1M82.5 19v1M83.5 4v1M84.5 1v1M85.5 6v1M85.5 8v2M85.5 13v2M85.5 16v1M86.5 2v1M86.5 17v1M89.5 6v1M89.5 15v2M89.5 24v1M90.5 2v1M90.5 10v1M91.5 7v1M92.5 2v1M92.5 4v1M92.5 6v1M92.5 11v1M92.5 22v1M93.5 0v1M93.5 11v1M93.5 16v2M93.5 22v1M93.5 25v1M95.5 9v1M98.5 7v1M99.5 5v1M99.5 20v1M100.5 0v2M100.5 6v1M102.5 11v1M103.5 13v1M103.5 25v1M107.5 0v1M107.5 15v1M109.5 4v1M109.5 11v2M109.5 17v1M109.5 20v1M109.5 23v1M110.5 1v1M111.5 5v1M111.5 23v1M113.5 7v1M113.5 16v1M113.5 22v1M114.5 11v1M116.5 9v1M119.5 6v1M119.5 14v1M120.5 1v1M120.5 7v1M121.5 17v1M121.5 19v1M121.5 21v1M122.5 6v1M122.5 13v1M122.5 16v1M122.5 22v1M122.5 25v1M123.5 12v1M124.5 16v1M126.5 1v1M128.5 13v1M129.5 20v1M132.5 12v2M132.5 17v1M132.5 20v1M133.5 1v1M133.5 7v1M133.5 10v1M133.5 17v3M133.5 23v1M134.5 1v1M134.5 18v1M136.5 15v1M136.5 23v2M137.5 0v1M137.5 2v1M137.5 5v3M137.5 10v1M137.5 13v1M137.5 16v1M137.5 26v1M139.5 3v1M139.5 5v1M139.5 12v1M139.5 16v1M140.5 2v1M140.5 4v2M141.5 4v1M143.5 1v1M143.5 6v1M144.5 1v1M145.5 11v1M145.5 23v1M145.5 26v1M147.5 14v1M148.5 6v1M148.5 11v1M149.5 2v1M149.5 11v2M149.5 21v1M149.5 23v1M149.5 25v1M150.5 12v1M152.5 22v2M154.5 5v1M155.5 20v1M156.5 2v1M157.5 2v1M158.5 0v1M158.5 3v1M158.5 25v1M160.5 12v1M160.5 21v2M160.5 24v2M162.5 0v1M162.5 14v1M163.5 9v1M163.5 22v1M164.5 20v1M164.5 26v1M166.5 6v1M166.5 12v2M166.5 15v1M166.5 20v1M166.5 22v1M167.5 20v1M168.5 6v1M169.5 2v1M169.5 6v1M169.5 12v1M170.5 15v1M170.5 22v1M171.5 5v1M172.5 2v1M172.5 5v1M172.5 16v1M172.5 18v2M173.5 10v1M173.5 19v1M174.5 2v1M175.5 7v1M175.5 22v1M176.5 0v1M176.5 24v1M178.5 1v1M178.5 17v1M179.5 17v1M179.5 19v1M181.5 0v1M181.5 4v1M181.5 6v1M181.5 8v1M181.5 11v1M181.5 15v1M181.5 23v1M183.5 15v1M184.5 0v1M184.5 7v1M185.5 8v1M185.5 15v2"/>
<path stroke="#f6efef" d="M1.5 9v1M1.5 14v1M1.5 16v2M1.5 19v1M1.5 26v1M2.5 2v1M2.5 8v2M2.5 12v1M2.5 14v1M2.5 19v1M2.5 23v1M3.5 3v1M4.5 4v1M6.5 0v1M7.5 9v1M8.5 0v1M9.5 3v1M9.5 17v1M9.5 22v2M9.5 26v1M11.5 23v1M13.5 0v1M15.5 7v1M16.5 23v1M18.5 4v1M18.5 11v1M19.5 0v1M20.5 9v1M20.5 14v1M24.5 6v1M24.5 12v1M24.5 15v1M24.5 19v1M24.5 23v1M24.5 25v2M25.5 2v1M26.5 1v1M26.5 9v1M26.5 13v1M26.5 16v1M26.5 18v1M26.5 20v2M26.5 23v2M27.5 6v1M31.5 1v1M32.5 3v1M32.5 6v1M32.5 12v2M32.5 15v1M32.5 17v3M32.5 22v2M32.5 26v1M33.5 1v1M33.5 5v1M36.5 2v1M36.5 4v1M36.5 23v1M37.5 1v1M38.5 7v1M38.5 9v1M39.5 0v1M40.5 0v1M41.5 8v1M43.5 9v1M45.5 26v1M46.5 6v1M47.5 18v1M48.5 2v1M49.5 6v1M50.5 4v1M50.5 7v1M50.5 11v1M52.5 7v1M52.5 9v1M52.5 17v1M55.5 0v1M56.5 12v1M56.5 14v1M57.5 0v1M58.5 4v2M58.5 10v1M58.5 16v2M58.5 19v1M59.5 0v1M59.5 2v1M59.5 8v1M59.5 15v1M65.5 4v1M66.5 24v1M67.5 7v1M67.5 15v1M67.5 23v1M72.5 17v1M72.5 20v1M73.5 0v1M75.5 7v1M76.5 11v1M77.5 3v1M77.5 8v1M78.5 2v1M78.5 22v1M79.5 8v1M79.5 14v1M80.5 4v1M81.5 9v1M82.5 6v1M83.5 1v1M84.5 3v1M84.5 9v1M85.5 5v1M85.5 10v1M85.5 19v1M85.5 22v1M85.5 24v1M89.5 3v1M89.5 7v1M89.5 14v1M89.5 17v1M89.5 19v2M92.5 3v1M94.5 3v1M94.5 9v1M96.5 25v1M99.5 3v2M101.5 0v1M102.5 16v1M104.5 8v1M105.5 14v1M107.5 5v1M108.5 1v1M109.5 7v1M109.5 14v1M109.5 18v1M110.5 2v1M112.5 2v1M113.5 5v1M116.5 4v1M121.5 2v1M121.5 7v1M121.5 13v1M121.5 16v1M121.5 25v1M122.5 2v1M122.5 10v1M122.5 18v2M122.5 23v2M127.5 3v1M128.5 7v1M128.5 9v1M128.5 15v2M129.5 7v1M129.5 10v1M129.5 17v2M130.5 14v1M131.5 10v1M131.5 12v1M131.5 15v1M131.5 21v1M132.5 2v1M132.5 4v1M132.5 6v1M132.5 14v2M132.5 18v1M132.5 22v1M132.5 25v2M133.5 6v1M133.5 9v1M133.5 13v3M133.5 25v1M134.5 5v1M134.5 11v2M134.5 14v1M134.5 21v1M134.5 24v1M134.5 26v1M135.5 14v1M136.5 3v1M136.5 6v1M136.5 9v1M136.5 16v1M137.5 4v1M137.5 24v2M138.5 4v2M138.5 10v1M138.5 17v2M138.5 25v2M139.5 7v1M139.5 20v1M139.5 22v2M139.5 26v1M140.5 20v1M142.5 5v1M142.5 19v1M142.5 21v1M143.5 4v1M143.5 8v1M143.5 10v1M143.5 14v1M143.5 16v1M143.5 23v1M144.5 4v1M144.5 6v1M145.5 1v3M145.5 22v1M146.5 0v1M147.5 3v1M148.5 3v1M148.5 5v1M148.5 8v1M148.5 16v1M148.5 18v1M148.5 21v1M149.5 1v1M149.5 24v1M150.5 2v1M150.5 6v1M150.5 22v1M151.5 2v1M151.5 21v1M152.5 3v1M152.5 5v1M152.5 7v1M152.5 9v2M152.5 16v1M152.5 20v1M153.5 20v1M153.5 26v1M154.5 4v1M155.5 0v1M156.5 0v1M156.5 6v1M156.5 26v1M158.5 1v1M159.5 2v1M159.5 13v1M159.5 20v1M160.5 9v1M160.5 13v2M160.5 16v1M160.5 20v1M160.5 26v1M162.5 18v1M163.5 2v1M163.5 8v1M163.5 11v1M163.5 15v1M163.5 21v1M163.5 26v1M164.5 8v1M166.5 9v1M166.5 16v1M166.5 21v1M166.5 23v1M166.5 25v1M169.5 10v2M169.5 13v1M169.5 16v2M169.5 23v1M170.5 5v1M170.5 24v1M171.5 0v1M172.5 0v1M172.5 24v1M173.5 8v1M175.5 4v1M175.5 6v1M175.5 9v1M175.5 14v1M175.5 16v1M177.5 7v1M177.5 25v2M179.5 4v2M179.5 7v1M180.5 4v1M180.5 9v1M180.5 11v1M181.5 12v2M181.5 20v1M182.5 7v3M182.5 19v1M183.5 0v1M183.5 12v1M185.5 5v1M185.5 20v1"/>
<path stroke="#f4e8e7" d="M1.5 18v1M1.5 20v1M1.5 22v1M2.5 3v1M2.5 5v1M2.5 11v1M2.5 20v1M2.5 22v1M2.5 24v1M2.5 26v1M3.5 0v1M5.5 0v1M5.5 9v1M9.5 10v3M9.5 14v2M9.5 24v1M10.5 0v1M12.5 8v1M14.5 4v1M24.5 8v1M26.5 4v1M26.5 6v1M26.5 8v1M32.5 4v1M32.5 7v1M32.5 11v1M32.5 14v1M32.5 21v1M32.5 25v1M36.5 0v2M36.5 13v1M36.5 24v1M38.5 26v1M39.5 2v1M41.5 0v1M45.5 4v1M48.5 1v1M49.5 7v1M52.5 8v1M55.5 2v1M57.5 4v1M57.5 6v1M58.5 6v1M58.5 13v1M58.5 15v1M58.5 22v2M58.5 25v2M61.5 8v1M67.5 20v1M68.5 2v1M68.5 22v1M72.5 0v1M72.5 3v1M72.5 13v2M72.5 16v1M72.5 19v1M72.5 21v1M72.5 24v1M72.5 26v1M73.5 6v1M76.5 0v1M78.5 0v1M79.5 9v1M85.5 7v1M85.5 15v1M85.5 17v2M85.5 25v2M87.5 0v1M89.5 22v2M93.5 4v1M93.5 26v1M97.5 20v1M99.5 6v1M104.5 4v1M106.5 0v1M106.5 6v1M109.5 16v1M109.5 19v1M109.5 21v2M110.5 0v1M114.5 3v1M118.5 0v1M119.5 0v2M119.5 5v1M121.5 3v1M121.5 8v1M121.5 12v1M121.5 20v1M121.5 22v3M121.5 26v1M122.5 4v2M122.5 9v1M122.5 12v1M122.5 15v1M122.5 20v1M122.5 26v1M123.5 3v1M124.5 0v1M125.5 2v1M128.5 1v1M128.5 6v1M128.5 8v1M128.5 17v1M128.5 19v1M128.5 25v1M129.5 3v2M129.5 16v1M129.5 19v1M129.5 24v2M130.5 3v1M130.5 5v1M131.5 2v1M131.5 16v1M131.5 19v1M131.5 22v1M131.5 26v1M132.5 0v1M132.5 3v1M132.5 5v1M132.5 10v1M132.5 24v1M133.5 2v1M133.5 11v1M133.5 22v1M134.5 2v1M134.5 4v1M134.5 6v1M134.5 16v1M134.5 20v1M134.5 22v2M134.5 25v1M135.5 18v1M135.5 21v1M136.5 2v1M136.5 7v1M136.5 11v1M136.5 21v1M137.5 11v1M137.5 19v1M137.5 21v3M138.5 1v2M138.5 15v1M138.5 19v1M138.5 22v3M139.5 0v2M139.5 9v1M139.5 15v1M139.5 17v1M140.5 1v1M140.5 11v1M140.5 15v1M140.5 19v1M142.5 2v1M142.5 12v1M142.5 18v1M142.5 20v1M143.5 5v1M143.5 21v1M143.5 25v2M144.5 2v1M144.5 10v1M144.5 15v2M144.5 23v1M145.5 5v2M145.5 8v1M145.5 17v2M145.5 21v1M147.5 2v1M147.5 11v1M148.5 4v1M148.5 7v1M148.5 17v1M148.5 20v1M148.5 26v1M149.5 0v1M149.5 6v1M149.5 13v1M149.5 18v1M149.5 26v1M150.5 0v2M150.5 3v2M150.5 7v1M150.5 10v1M150.5 13v2M150.5 16v1M150.5 19v1M150.5 24v1M151.5 7v1M151.5 16v1M151.5 20v1M151.5 24v1M151.5 26v1M152.5 1v1M152.5 4v1M152.5 12v1M152.5 24v3M153.5 3v1M153.5 8v1M153.5 16v1M153.5 22v1M154.5 0v1M154.5 3v1M154.5 20v1M154.5 25v1M155.5 1v1M155.5 4v1M155.5 9v1M155.5 15v1M155.5 24v1M156.5 3v1M156.5 14v1M156.5 22v1M157.5 0v1M158.5 4v1M158.5 9v2M158.5 12v1M158.5 15v1M159.5 19v1M159.5 21v1M160.5 3v1M160.5 18v1M161.5 0v1M163.5 0v2M163.5 6v1M163.5 12v2M163.5 17v1M165.5 4v1M166.5 0v2M166.5 3v3M166.5 7v1M167.5 7v1M167.5 14v1M167.5 17v1M167.5 23v1M169.5 0v1M169.5 3v1M169.5 14v1M169.5 18v2M169.5 24v2M170.5 6v1M172.5 1v1M172.5 9v1M172.5 11v3M172.5 20v1M173.5 7v1M175.5 0v1M175.5 5v1M175.5 10v1M175.5 18v1M175.5 20v2M177.5 0v1M177.5 11v1M177.5 21v2M177.5 24v1M178.5 0v1M178.5 3v1M178.5 26v1M179.5 1v1M179.5 8v1M179.5 11v1M179.5 14v1M179.5 25v1M180.5 1v2M180.5 5v2M180.5 13v1M180.5 18v1M180.5 24v2M181.5 1v1M181.5 5v1M181.5 10v1M181.5 14v1M181.5 22v1M181.5 25v2M182.5 2v1M182.5 25v1M183.5 2v1M183.5 7v1M185.5 1v1M185.5 6v2M185.5 12v1M185.5 14v1M185.5 21v2M185.5 24v1"/>
<path stroke="#f3e0df" d="M1.5 4v2M2.5 18v1M6.5 4v1M8.5 8v1M9.5 13v1M9.5 16v1M9.5 18v1M9.5 20v2M13.5 1v1M22.5 6v1M24.5 5v1M24.5 9v1M30.5 0v1M32.5 5v1M32.5 8v1M32.5 16v1M32.5 24v1M33.5 6v1M36.5 3v1M36.5 15v1M36.5 21v1M44.5 0v1M46.5 8v1M56.5 1v1M58.5 7v2M58.5 11v1M58.5 14v1M58.5 18v1M58.5 20v2M64.5 0v1M72.5 2v1M72.5 4v1M72.5 8v1M72.5 11v1M72.5 15v1M72.5 22v2M72.5 25v1M84.5 0v1M85.5 3v1M85.5 11v2M86.5 9v1M88.5 0v1M89.5 12v1M96.5 0v1M101.5 7v1M103.5 0v1M105.5 0v1M107.5 1v1M111.5 1v1M121.5 1v1M121.5 10v2M121.5 15v1M121.5 18v1M122.5 1v1M122.5 8v1M122.5 11v1M122.5 17v1M128.5 12v1M128.5 20v3M129.5 2v1M129.5 26v1M130.5 7v1M130.5 9v1M130.5 13v1M131.5 25v1M132.5 9v1M132.5 21v1M133.5 8v1M134.5 9v1M135.5 4v1M135.5 7v1M135.5 20v1M135.5 25v1M136.5 18v1M136.5 22v1M136.5 26v1M137.5 1v1M137.5 3v1M137.5 17v1M137.5 20v1M138.5 6v1M138.5 8v1M138.5 20v2M139.5 13v2M139.5 18v1M140.5 0v1M140.5 7v1M140.5 9v1M140.5 13v2M140.5 23v2M140.5 26v1M142.5 1v1M142.5 4v1M142.5 6v1M142.5 22v1M142.5 26v1M143.5 11v2M143.5 15v1M143.5 17v2M144.5 5v1M144.5 8v1M144.5 14v1M144.5 20v1M145.5 4v1M145.5 7v1M147.5 20v1M147.5 22v1M147.5 26v1M148.5 1v1M148.5 10v1M148.5 24v1M149.5 10v1M150.5 5v1M150.5 9v1M150.5 11v1M150.5 18v1M151.5 0v1M151.5 4v2M151.5 10v1M151.5 13v1M151.5 18v1M152.5 11v1M153.5 14v1M153.5 19v1M154.5 6v2M154.5 18v2M154.5 22v1M155.5 3v1M155.5 12v1M155.5 17v1M156.5 4v1M156.5 11v2M156.5 16v1M156.5 18v1M157.5 1v1M157.5 4v2M157.5 22v1M157.5 25v1M158.5 7v1M158.5 20v1M159.5 5v2M159.5 22v1M159.5 26v1M160.5 0v2M160.5 15v1M160.5 19v1M160.5 23v1M163.5 10v1M163.5 23v2M166.5 10v2M166.5 24v1M167.5 8v1M167.5 16v1M167.5 18v2M168.5 0v1M169.5 1v1M169.5 4v1M169.5 7v2M169.5 26v1M170.5 3v2M170.5 8v1M170.5 13v1M170.5 23v1M172.5 3v1M172.5 7v2M172.5 14v1M172.5 21v1M173.5 0v1M173.5 11v1M173.5 16v1M173.5 20v1M173.5 25v1M174.5 6v1M174.5 10v1M174.5 15v1M175.5 3v1M175.5 12v2M175.5 15v1M175.5 17v1M175.5 19v1M175.5 25v1M177.5 2v3M177.5 13v1M177.5 23v1M178.5 4v2M178.5 13v1M178.5 20v1M178.5 24v1M179.5 6v1M179.5 13v1M179.5 18v1M179.5 22v1M180.5 0v1M180.5 7v1M180.5 12v1M180.5 15v3M180.5 19v1M180.5 21v3M181.5 17v2M182.5 6v1M182.5 10v3M182.5 14v1M182.5 17v1M182.5 20v3M183.5 4v2M183.5 25v2M185.5 2v3M185.5 9v1M185.5 11v1M185.5 25v1"/>
<path stroke="#f1d9d7" d="M1.5 1v1M2.5 0v2M2.5 6v1M2.5 16v2M2.5 21v1M9.5 6v1M9.5 8v1M12.5 0v1M18.5 1v1M24.5 0v1M24.5 3v1M26.5 2v2M26.5 15v1M28.5 0v1M32.5 2v1M32.5 9v1M32.5 20v1M36.5 12v1M46.5 4v1M53.5 8v1M56.5 0v1M58.5 9v1M58.5 12v1M59.5 6v1M63.5 1v1M64.5 4v1M72.5 6v1M72.5 10v1M72.5 12v1M80.5 0v1M80.5 6v1M81.5 0v1M83.5 7v1M85.5 4v1M85.5 23v1M86.5 0v1M86.5 7v1M89.5 1v2M95.5 6v1M97.5 0v1M102.5 0v1M121.5 5v2M122.5 14v1M123.5 5v1M123.5 8v1M125.5 0v1M127.5 1v1M128.5 4v1M128.5 10v2M128.5 24v1M128.5 26v1M129.5 0v2M129.5 5v1M129.5 8v2M129.5 11v1M129.5 23v1M130.5 1v1M130.5 8v1M130.5 12v1M130.5 17v1M130.5 19v1M131.5 3v1M131.5 11v1M131.5 14v1M131.5 17v2M131.5 20v1M131.5 24v1M132.5 1v1M132.5 11v1M132.5 19v1M133.5 0v1M133.5 21v1M134.5 7v1M134.5 15v1M134.5 19v1M135.5 1v1M135.5 3v1M135.5 5v2M135.5 23v1M136.5 5v1M136.5 12v1M136.5 17v1M136.5 19v1M138.5 9v1M138.5 14v1M138.5 16v1M139.5 11v1M140.5 6v1M140.5 16v1M140.5 18v1M140.5 21v1M140.5 25v1M141.5 0v1M142.5 0v1M142.5 7v1M142.5 9v1M142.5 14v2M142.5 17v1M142.5 24v2M143.5 9v1M143.5 24v1M144.5 12v1M144.5 19v1M145.5 12v1M145.5 14v3M145.5 20v1M147.5 4v1M147.5 7v2M147.5 15v1M147.5 19v1M147.5 24v1M148.5 9v1M148.5 12v2M148.5 15v1M148.5 19v1M148.5 25v1M150.5 17v1M150.5 23v1M150.5 26v1M151.5 3v1M151.5 11v2M151.5 22v1M152.5 2v1M152.5 8v1M152.5 13v1M153.5 1v1M153.5 5v1M153.5 7v1M153.5 15v1M153.5 21v1M154.5 1v1M154.5 9v1M154.5 14v1M154.5 26v1M155.5 5v3M155.5 10v2M155.5 14v1M155.5 16v1M155.5 21v2M155.5 25v1M156.5 1v1M156.5 5v1M156.5 7v1M156.5 10v1M157.5 6v1M157.5 8v2M157.5 17v1M157.5 20v1M158.5 8v1M158.5 16v1M159.5 0v1M159.5 11v2M159.5 23v2M160.5 5v1M162.5 6v1M162.5 22v3M163.5 4v1M163.5 18v3M163.5 25v1M165.5 1v1M165.5 16v1M166.5 14v1M166.5 17v1M167.5 1v1M167.5 3v4M167.5 9v1M167.5 13v1M167.5 24v3M169.5 9v1M169.5 20v1M170.5 10v2M170.5 17v1M170.5 19v1M170.5 21v1M170.5 25v1M172.5 4v1M172.5 6v1M172.5 10v1M172.5 15v1M172.5 23v1M173.5 3v2M173.5 9v1M173.5 13v1M173.5 17v2M173.5 21v1M173.5 26v1M174.5 0v1M174.5 3v1M174.5 9v1M174.5 17v1M174.5 19v1M174.5 21v1M174.5 23v1M174.5 26v1M175.5 2v1M175.5 11v1M175.5 26v1M177.5 1v1M177.5 9v1M177.5 18v2M178.5 6v1M178.5 14v1M178.5 16v1M178.5 25v1M179.5 0v1M179.5 9v2M179.5 15v1M179.5 21v1M179.5 26v1M180.5 20v1M181.5 19v1M182.5 1v1M182.5 4v1M182.5 15v2M182.5 23v1M182.5 26v1M183.5 1v1M183.5 8v1M183.5 14v1M183.5 17v1M183.5 19v1M183.5 21v2M185.5 13v1M185.5 26v1"/>
<path stroke="#f0d1cf" d="M9.5 4v2M9.5 7v1M9.5 9v1M15.5 0v1M19.5 5v1M20.5 5v1M24.5 1v1M38.5 6v1M58.5 24v1M72.5 1v1M72.5 18v1M73.5 8v1M79.5 4v1M82.5 9v1M85.5 20v1M91.5 0v1M93.5 1v1M98.5 4v1M109.5 8v1M128.5 14v1M129.5 6v1M129.5 14v1M129.5 21v1M130.5 0v1M130.5 4v1M130.5 15v1M130.5 18v1M130.5 20v1M131.5 5v1M131.5 9v1M131.5 23v1M132.5 8v1M133.5 5v1M133.5 24v1M133.5 26v1M134.5 8v1M134.5 17v1M135.5 2v1M135.5 8v1M135.5 12v1M135.5 15v1M136.5 20v1M137.5 18v1M138.5 12v1M139.5 2v1M139.5 10v1M142.5 3v1M142.5 11v1M142.5 16v1M142.5 23v1M144.5 0v1M144.5 3v1M144.5 7v1M144.5 11v1M144.5 13v1M145.5 9v2M147.5 1v1M147.5 9v1M147.5 12v2M147.5 16v1M147.5 21v1M148.5 2v1M148.5 14v1M148.5 23v1M151.5 6v1M151.5 9v1M151.5 14v1M151.5 17v1M152.5 15v1M152.5 18v2M152.5 21v1M153.5 2v1M153.5 4v1M153.5 11v1M153.5 18v1M153.5 23v2M154.5 10v1M154.5 13v1M155.5 8v1M155.5 13v1M155.5 18v2M155.5 26v1M156.5 8v1M156.5 15v1M156.5 21v1M156.5 23v3M157.5 7v1M157.5 12v1M158.5 5v1M158.5 11v1M158.5 14v1M158.5 18v1M158.5 21v3M159.5 4v1M159.5 7v2M159.5 10v1M159.5 14v1M159.5 16v1M162.5 2v4M162.5 7v2M162.5 11v1M162.5 19v1M162.5 21v1M162.5 25v1M163.5 14v1M165.5 7v1M167.5 2v1M167.5 11v2M167.5 21v1M168.5 16v1M168.5 19v1M170.5 1v2M170.5 12v1M170.5 26v1M171.5 8v1M172.5 17v1M172.5 22v1M172.5 25v1M173.5 1v1M173.5 12v1M173.5 14v1M173.5 22v1M173.5 24v1M174.5 11v2M174.5 14v1M174.5 16v1M177.5 6v1M177.5 10v1M177.5 14v3M178.5 2v1M178.5 7v1M178.5 9v2M178.5 15v1M178.5 18v1M178.5 21v1M179.5 2v1M179.5 16v1M179.5 20v1M179.5 24v1M180.5 3v1M180.5 10v1M182.5 3v1M182.5 5v1M183.5 6v1M183.5 13v1M184.5 3v1M185.5 10v1M185.5 19v1"/>
<path stroke="#eecac6" d="M12.5 2v1M22.5 8v1M36.5 7v1M58.5 2v1M64.5 2v1M68.5 0v1M72.5 5v1M74.5 7v1M75.5 0v1M85.5 21v1M90.5 3v1M113.5 1v1M117.5 6v1M129.5 13v1M129.5 22v1M130.5 2v1M130.5 10v2M130.5 16v1M130.5 21v1M130.5 25v1M131.5 4v1M131.5 8v1M135.5 10v1M135.5 16v1M135.5 19v1M135.5 24v1M136.5 10v1M136.5 13v1M136.5 25v1M138.5 13v1M140.5 10v1M142.5 13v1M143.5 0v1M144.5 21v2M144.5 24v3M146.5 3v1M146.5 5v1M146.5 7v1M146.5 9v1M146.5 13v1M147.5 5v1M147.5 10v1M147.5 17v2M148.5 22v1M151.5 8v1M151.5 23v1M153.5 10v1M153.5 17v1M153.5 25v1M154.5 11v1M154.5 16v1M154.5 21v1M155.5 2v1M156.5 9v1M156.5 17v1M156.5 19v1M157.5 3v1M157.5 10v1M157.5 16v1M157.5 18v2M157.5 23v1M157.5 26v1M158.5 2v1M158.5 13v1M158.5 17v1M158.5 19v1M158.5 26v1M159.5 1v1M159.5 3v1M159.5 25v1M162.5 9v2M162.5 15v1M162.5 17v1M162.5 26v1M165.5 2v1M165.5 5v1M165.5 17v1M165.5 26v1M167.5 22v1M168.5 3v2M170.5 9v1M170.5 20v1M171.5 14v1M173.5 2v1M173.5 15v1M174.5 4v1M174.5 22v1M174.5 24v2M175.5 8v1M177.5 8v1M177.5 12v1M177.5 17v1M178.5 8v1M178.5 22v1M181.5 2v1M183.5 11v1M183.5 16v1M183.5 18v1M183.5 20v1M183.5 24v1M184.5 6v1M184.5 21v1"/>
<path stroke="#edc2be" d="M7.5 0v1M27.5 0v1M72.5 7v1M79.5 0v1M129.5 12v1M130.5 6v1M130.5 26v1M131.5 7v1M131.5 13v1M135.5 11v1M135.5 17v1M140.5 12v1M140.5 17v1M142.5 8v1M144.5 17v1M146.5 14v1M146.5 24v1M147.5 23v1M147.5 25v1M151.5 1v1M151.5 25v1M153.5 12v1M154.5 12v1M154.5 24v1M156.5 20v1M157.5 11v1M157.5 24v1M158.5 6v1M158.5 24v1M159.5 18v1M161.5 6v2M162.5 1v1M162.5 20v1M163.5 3v1M165.5 3v1M165.5 6v1M165.5 8v3M165.5 12v3M165.5 20v3M165.5 24v2M168.5 5v1M168.5 7v1M168.5 10v1M168.5 13v1M168.5 18v1M170.5 14v1M170.5 16v1M170.5 18v1M172.5 26v1M173.5 5v1M173.5 23v1M174.5 8v1M174.5 13v1M174.5 20v1M176.5 3v1M177.5 5v1M178.5 19v1M178.5 23v1M179.5 12v1M180.5 14v1M182.5 13v1M183.5 10v1M183.5 23v1M184.5 1v1M184.5 8v1M184.5 22v4"/>
<path stroke="#ecbbb6" d="M1.5 6v1M16.5 0v1M29.5 0v1M58.5 1v1M123.5 0v1M130.5 22v1M130.5 24v1M135.5 13v1M135.5 22v1M135.5 26v1M140.5 8v1M142.5 10v1M146.5 1v1M146.5 15v1M146.5 19v1M146.5 23v1M146.5 26v1M152.5 14v1M153.5 13v1M155.5 23v1M161.5 1v1M162.5 12v2M165.5 11v1M165.5 15v1M165.5 18v1M165.5 23v1M167.5 10v1M168.5 8v2M168.5 12v1M168.5 14v2M168.5 20v1M168.5 22v1M168.5 25v2M170.5 7v1M171.5 2v1M171.5 4v1M171.5 24v1M174.5 1v1M174.5 18v1M176.5 7v1M177.5 20v1M178.5 12v1M184.5 9v1M184.5 13v1M184.5 15v1M184.5 18v1M184.5 26v1"/>
<path stroke="#eab3ae" d="M23.5 0v1M79.5 5v1M85.5 2v1M130.5 23v1M146.5 4v1M146.5 6v1M146.5 10v1M146.5 12v1M146.5 22v1M154.5 17v1M157.5 14v2M157.5 21v1M159.5 17v1M161.5 2v2M161.5 13v1M161.5 17v1M161.5 24v1M164.5 3v1M164.5 17v1M168.5 1v1M168.5 21v1M171.5 1v1M171.5 12v1M171.5 15v1M171.5 21v1M171.5 26v1M176.5 6v1M176.5 13v1M184.5 4v1M184.5 12v1M184.5 17v1"/>
<path stroke="#e9aca6" d="M135.5 9v1M141.5 2v1M146.5 20v2M146.5 25v1M161.5 5v1M161.5 11v1M161.5 25v1M165.5 19v1M168.5 17v1M171.5 23v1M171.5 25v1M176.5 4v1M176.5 14v1M176.5 21v2M184.5 2v1M184.5 11v1M184.5 19v2"/>
<path stroke="#e7a49e" d="M1.5 0v1M90.5 0v1M94.5 0v1M141.5 1v1M146.5 2v1M146.5 8v1M146.5 18v1M161.5 8v1M161.5 12v1M161.5 15v1M161.5 26v1M164.5 5v3M164.5 21v1M164.5 23v1M168.5 11v1M168.5 24v1M171.5 3v1M171.5 10v2M171.5 16v4M171.5 22v1M176.5 5v1M176.5 10v1M176.5 17v1M176.5 20v1M184.5 10v1"/>
<path stroke="#e69c96" d="M146.5 16v2M161.5 4v1M161.5 10v1M161.5 19v1M161.5 22v1M164.5 1v2M164.5 4v1M164.5 18v1M168.5 23v1M176.5 1v2M176.5 8v2M176.5 16v1M176.5 23v1M176.5 25v1"/>
<path stroke="#e5958e" d="M161.5 21v1M161.5 23v1M164.5 13v1M164.5 16v1M164.5 25v1M171.5 20v1M176.5 12v1M176.5 15v1M176.5 18v2M176.5 26v1"/>
<path stroke="#e38d86" d="M141.5 7v1M161.5 14v1M161.5 16v1M164.5 9v1M164.5 14v2M164.5 19v1M176.5 11v1"/>
<path stroke="#e2867e" d="M141.5 3v1M141.5 5v2M141.5 13v1M141.5 20v1M161.5 18v1M161.5 20v1M164.5 24v1M171.5 13v1"/>
<path stroke="#e07e76" d="M141.5 11v1M164.5 12v1M164.5 22v1"/>
<path stroke="#df776e" d="M161.5 9v1"/>
<path stroke="#de6f66" d="M141.5 17v2M141.5 23v1"/>
<path stroke="#dc685d" d="M141.5 12v1M141.5 14v1M141.5 21v1M141.5 24v1M141.5 26v1"/>
<path stroke="#db6055" d="M141.5 15v1"/>
<path stroke="#d9594d" d="M141.5 16v1M141.5 19v1"/>
<path stroke="#d85145" d="M141.5 8v2"/>
</g>
<defs><linearGradient id="cb1" x1="0" x2="1" y1="0" y2="0"><stop offset="0" stop-color="#8db6d5"/><stop offset="0.193" stop-color="#cbe0ee"/><stop offset="0.3538" stop-color="#f7f7f7"/><stop offset="1" stop-color="#d54235"/></linearGradient>
<linearGradient id="cb2" x1="0" x2="1" y1="0" y2="0"><stop offset="0" stop-color="#aecbe2"/><stop offset="0.09" stop-color="#c8ddec"/><stop offset="0.265" stop-color="#f7f7f7"/><stop offset="1" stop-color="#d54235"/></linearGradient></defs>
<rect x="175" y="1035" width="463.5" height="44" fill="url(#cb1)"/>
<path d="M240 1079v7.5M339 1079v7.5M437.5 1079v7.5M536 1079v7.5M634 1079v7.5" stroke="#222" stroke-width="1.3" fill="none"/>
<text x="234" y="1114" font-size="26" text-anchor="middle" fill="#111">-2</text>
<text x="338.5" y="1116.5" font-size="26" text-anchor="middle" fill="#111">0</text>
<text x="436.5" y="1114" font-size="26" text-anchor="middle" fill="#111">2</text>
<text x="534" y="1116" font-size="26" text-anchor="middle" fill="#111">4</text>
<text x="634" y="1114" font-size="26" text-anchor="middle" fill="#111">6</text>
<text x="227.5" y="1143.5" font-size="19.6" fill="#111" textLength="357.5" lengthAdjust="spacingAndGlyphs">Z-Transformed Log TPM Gene Counts</text>
<text x="149.7" y="1271.5" font-size="47" font-weight="bold" textLength="542.3" lengthAdjust="spacingAndGlyphs">Gene Signature 2 (GS-2)</text>
<text x="274.7" y="1329.2" font-size="41.2" textLength="291.1" lengthAdjust="spacingAndGlyphs">(DOG<tspan font-size="25" dy="-12.7">2</tspan><tspan dy="12.7"> Dataset)</tspan></text>
<text x="48.3" y="1355" font-size="66" font-weight="bold" textLength="38" lengthAdjust="spacingAndGlyphs">d</text>
<rect x="161" y="1407.5" width="35.5" height="38" fill="#ed7d31"/>
<rect x="161" y="1464" width="35.5" height="37.5" fill="#00b050"/>
<text x="200" y="1438.5" font-size="38.4" textLength="351.8" lengthAdjust="spacingAndGlyphs">Favorable Prognosis</text>
<text x="200" y="1490.2" font-size="38.4" textLength="262.1" lengthAdjust="spacingAndGlyphs">Poor Prognosis</text>
<rect x="93.5" y="1531" width="467.5" height="28.5" fill="#55a868"/>
<rect x="560.7" y="1531" width="181.3" height="28.5" fill="#ff7f0e"/>
<g font-size="15" fill="#2b2b2b" text-anchor="end" letter-spacing="-0.8">
<text x="77.6" y="1572.5">NGEF</text>
<text x="77.6" y="1596.57">CA9</text>
<text x="77.6" y="1620.63">SOX9</text>
<text x="77.6" y="1644.69">GFPT2</text>
<text x="77.6" y="1668.76">KCNJ8</text>
<text x="77.6" y="1692.83">PKDCC</text>
<text x="77.6" y="1716.89">RAP1GAP2</text>
<text x="77.6" y="1740.95">IFIT2</text>
<text x="77.6" y="1765.02">OAS1</text>
<text x="77.6" y="1789.09">PSMB9</text>
<text x="77.6" y="1813.15">OASL</text>
<text x="77.6" y="1837.21">CD247</text>
<text x="77.6" y="1861.28">LAT</text>
<text x="77.6" y="1885.35">CD5L</text>
<text x="77.6" y="1909.41">CLEC2D</text>
<text x="77.6" y="1933.48">IL2RB</text>
<text x="77.6" y="1957.54">ANKRD22</text>
<text x="77.6" y="1981.61">NFAM1</text>
<text x="77.6" y="2005.67">TAGAP</text>
<text x="77.6" y="2029.73">PTPRO</text>
<text x="77.6" y="2053.8">CCR2</text>
<text x="77.6" y="2077.86">RGS18</text>
<text x="77.6" y="2101.93">IL18</text>
<text x="77.6" y="2125.99">EVI2B</text>
<text x="77.6" y="2150.06">AIF1</text>
<text x="77.6" y="2174.12">GIMAP6</text>
<text x="77.6" y="2198.19">DAPP1</text>
<text x="77.6" y="2222.25">GIMAP8</text>
<text x="77.6" y="2246.32">RASAL3</text>
<text x="77.6" y="2270.38">S100P</text>
<text x="77.6" y="2294.45">PADI2</text>
<text x="77.6" y="2318.51">WIF1</text>
</g>
<g transform="translate(93.5 1565.5) scale(3.4866 5.3714)" shape-rendering="crispEdges" fill="none" stroke-width="1.03">
<rect x="0" y="0" width="186" height="140" fill="#eff3f5" stroke="none"/>
<path stroke="#bed7e9" d="M33.5 90v1M39.5 85v1M39.5 87v1M39.5 91v1M39.5 94v1M39.5 100v1M39.5 103v1M40.5 104v1M40.5 107v1M69.5 105v1M129.5 94v1M138.5 8v1"/>
<path stroke="#c8deed" d="M33.5 33v1M33.5 38v1M33.5 71v1M33.5 74v1M33.5 78v1M33.5 83v1M33.5 86v1M33.5 96v1M33.5 98v1M33.5 102v1M33.5 105v1M33.5 110v1M36.5 75v1M39.5 33v1M39.5 71v1M39.5 73v1M39.5 78v1M39.5 81v1M39.5 83v1M39.5 86v1M39.5 89v2M39.5 92v1M39.5 95v4M39.5 102v1M39.5 104v2M39.5 110v2M39.5 121v1M40.5 70v1M40.5 73v1M40.5 94v2M40.5 97v1M42.5 79v1M42.5 87v1M42.5 103v1M42.5 105v1M42.5 107v1M46.5 84v1M46.5 86v1M48.5 85v2M48.5 99v1M62.5 100v1M69.5 87v1M74.5 31v1M98.5 81v1M102.5 71v1M102.5 75v1M102.5 84v1M102.5 91v1M102.5 97v1M102.5 101v2M102.5 105v1M103.5 72v1M118.5 89v1M118.5 96v1M120.5 80v1M120.5 82v1M120.5 92v1M129.5 93v1M129.5 100v1M129.5 105v1M130.5 93v1M130.5 104v1M130.5 109v1M130.5 128v1"/>
<path stroke="#d0e3ef" d="M32.5 63v1M33.5 29v2M33.5 34v1M33.5 43v1M33.5 47v1M33.5 69v2M33.5 73v1M33.5 75v2M33.5 79v2M33.5 82v1M33.5 85v1M33.5 87v3M33.5 92v2M33.5 97v1M33.5 99v2M33.5 103v1M33.5 107v3M33.5 111v1M33.5 120v1M33.5 127v1M33.5 130v1M36.5 73v1M36.5 76v1M36.5 78v1M36.5 81v1M36.5 83v1M36.5 92v1M36.5 94v2M36.5 103v1M36.5 105v1M36.5 110v1M39.5 29v1M39.5 32v1M39.5 34v4M39.5 40v1M39.5 43v1M39.5 67v1M39.5 70v1M39.5 72v1M39.5 74v4M39.5 79v2M39.5 84v1M39.5 88v1M39.5 99v1M39.5 101v1M39.5 106v4M39.5 130v1M40.5 32v2M40.5 45v1M40.5 72v1M40.5 75v2M40.5 78v3M40.5 83v3M40.5 87v1M40.5 89v1M40.5 92v2M40.5 98v5M40.5 105v2M40.5 108v4M40.5 117v1M40.5 121v1M42.5 30v1M42.5 73v1M42.5 75v1M42.5 77v1M42.5 82v1M42.5 85v1M42.5 89v3M42.5 94v3M42.5 99v1M42.5 101v1M42.5 111v1M44.5 103v1M44.5 130v1M44.5 138v1M46.5 42v1M46.5 73v3M46.5 78v1M46.5 85v1M46.5 92v1M46.5 94v2M46.5 101v1M46.5 110v1M48.5 34v1M48.5 37v1M48.5 47v1M48.5 71v1M48.5 73v3M48.5 77v2M48.5 80v1M48.5 82v2M48.5 88v1M48.5 90v4M48.5 95v2M48.5 106v3M48.5 110v2M50.5 72v3M50.5 76v1M50.5 85v1M50.5 92v1M50.5 94v1M50.5 96v1M50.5 101v1M50.5 106v1M62.5 99v1M62.5 105v1M62.5 108v1M63.5 78v1M63.5 87v2M63.5 90v1M63.5 94v1M63.5 96v1M63.5 110v1M66.5 72v1M66.5 80v2M69.5 31v1M69.5 37v1M69.5 69v1M69.5 71v1M69.5 73v1M69.5 75v1M69.5 85v1M69.5 89v1M69.5 94v1M69.5 98v1M69.5 100v1M69.5 103v1M69.5 106v2M69.5 109v2M69.5 123v2M74.5 72v2M74.5 75v1M74.5 77v1M74.5 81v1M74.5 84v1M74.5 91v1M74.5 94v1M74.5 98v1M74.5 107v2M74.5 110v1M75.5 93v1M79.5 97v1M79.5 111v1M79.5 139v1M91.5 133v1M92.5 75v1M92.5 78v1M92.5 82v2M92.5 85v1M92.5 88v1M92.5 93v1M92.5 96v1M92.5 106v1M92.5 126v2M98.5 84v2M98.5 88v1M98.5 93v2M98.5 108v1M102.5 31v1M102.5 36v1M102.5 42v1M102.5 72v1M102.5 74v1M102.5 77v1M102.5 82v1M102.5 85v1M102.5 88v1M102.5 96v1M102.5 98v3M102.5 107v4M103.5 92v1M103.5 94v2M103.5 97v2M103.5 104v1M103.5 107v1M118.5 37v1M118.5 70v1M118.5 73v3M118.5 77v1M118.5 82v1M118.5 88v1M118.5 120v1M118.5 122v1M119.5 41v1M119.5 75v1M119.5 82v2M119.5 96v1M119.5 108v1M120.5 29v1M120.5 35v1M120.5 73v4M120.5 79v1M120.5 81v1M120.5 84v1M120.5 87v4M120.5 93v1M120.5 101v4M120.5 107v1M120.5 111v1M120.5 113v1M120.5 116v1M120.5 125v1M121.5 39v1M121.5 42v1M121.5 72v1M121.5 74v1M121.5 78v2M121.5 81v1M121.5 86v1M121.5 89v1M121.5 93v1M121.5 98v1M121.5 100v1M121.5 108v1M121.5 119v1M122.5 46v1M122.5 73v1M122.5 79v1M122.5 94v2M122.5 101v1M122.5 104v2M123.5 80v1M126.5 72v1M129.5 69v1M129.5 71v1M129.5 73v2M129.5 77v1M129.5 85v1M129.5 88v1M129.5 98v1M129.5 101v1M129.5 103v1M129.5 108v1M129.5 112v1M130.5 44v1M130.5 79v1M130.5 81v1M130.5 84v3M130.5 89v1M130.5 92v1M130.5 96v1M130.5 100v1M130.5 102v1M130.5 107v1M130.5 110v1M130.5 112v1M130.5 117v1M130.5 120v1M132.5 18v1M138.5 2v1M138.5 15v1M138.5 17v1M141.5 139v1M143.5 136v1M144.5 134v1M146.5 15v1M170.5 4v1M170.5 10v1M170.5 17v1"/>
<path stroke="#d8e7f1" d="M5.5 135v1M7.5 134v1M12.5 92v1M14.5 102v1M14.5 117v1M18.5 134v1M24.5 136v1M27.5 139v1M32.5 120v1M32.5 124v1M33.5 31v2M33.5 35v3M33.5 41v2M33.5 44v3M33.5 49v1M33.5 61v1M33.5 67v2M33.5 72v1M33.5 77v1M33.5 81v1M33.5 84v1M33.5 94v2M33.5 101v1M33.5 104v1M33.5 112v2M33.5 116v2M33.5 119v1M33.5 122v2M33.5 125v1M33.5 131v1M34.5 89v1M34.5 97v1M34.5 100v1M34.5 107v1M34.5 112v1M35.5 74v1M35.5 78v1M35.5 92v1M36.5 31v2M36.5 35v5M36.5 43v3M36.5 69v2M36.5 72v1M36.5 74v1M36.5 77v1M36.5 79v2M36.5 82v1M36.5 84v1M36.5 86v6M36.5 93v1M36.5 96v7M36.5 107v3M36.5 113v1M36.5 117v2M36.5 121v2M37.5 35v1M37.5 82v1M37.5 116v1M38.5 139v1M39.5 30v2M39.5 38v2M39.5 45v3M39.5 49v1M39.5 58v1M39.5 68v2M39.5 82v1M39.5 93v1M39.5 112v1M39.5 115v4M39.5 120v1M39.5 122v3M39.5 127v1M39.5 129v1M40.5 29v1M40.5 31v1M40.5 34v2M40.5 37v7M40.5 46v1M40.5 48v1M40.5 67v3M40.5 71v1M40.5 74v1M40.5 77v1M40.5 81v2M40.5 86v1M40.5 88v1M40.5 91v1M40.5 96v1M40.5 103v1M40.5 112v2M40.5 116v1M40.5 119v1M40.5 123v1M40.5 125v2M40.5 129v1M42.5 31v2M42.5 34v1M42.5 41v4M42.5 47v1M42.5 66v1M42.5 69v4M42.5 74v1M42.5 76v1M42.5 78v1M42.5 83v2M42.5 88v1M42.5 93v1M42.5 97v1M42.5 100v1M42.5 102v1M42.5 104v1M42.5 106v1M42.5 108v3M42.5 114v1M43.5 35v1M43.5 61v1M44.5 34v3M44.5 70v1M44.5 72v1M44.5 76v2M44.5 83v1M44.5 90v1M44.5 93v2M44.5 96v1M44.5 98v1M44.5 102v1M44.5 111v1M44.5 118v1M46.5 31v2M46.5 35v1M46.5 37v1M46.5 44v1M46.5 70v2M46.5 76v1M46.5 80v3M46.5 87v3M46.5 93v1M46.5 96v1M46.5 98v2M46.5 102v1M46.5 104v1M46.5 106v1M46.5 108v2M46.5 112v1M46.5 116v1M46.5 127v1M46.5 130v1M47.5 73v2M47.5 98v1M48.5 30v1M48.5 32v1M48.5 35v2M48.5 40v5M48.5 46v1M48.5 69v2M48.5 72v1M48.5 76v1M48.5 81v1M48.5 84v1M48.5 87v1M48.5 94v1M48.5 98v1M48.5 100v1M48.5 103v3M48.5 109v1M48.5 112v2M48.5 116v1M48.5 119v1M48.5 124v1M48.5 127v2M48.5 130v1M49.5 37v1M49.5 84v3M49.5 90v3M49.5 103v1M49.5 105v1M50.5 29v1M50.5 32v1M50.5 36v1M50.5 38v3M50.5 44v3M50.5 52v1M50.5 63v1M50.5 69v1M50.5 71v1M50.5 75v1M50.5 77v2M50.5 80v2M50.5 83v2M50.5 86v3M50.5 90v1M50.5 93v1M50.5 95v1M50.5 97v1M50.5 99v2M50.5 104v2M50.5 108v3M50.5 117v3M50.5 121v1M50.5 123v1M50.5 128v1M51.5 132v1M54.5 134v1M56.5 100v1M57.5 132v1M57.5 137v1M61.5 22v1M62.5 60v1M62.5 69v1M62.5 72v1M62.5 75v5M62.5 81v6M62.5 89v3M62.5 93v2M62.5 96v1M62.5 101v3M62.5 107v1M62.5 111v1M62.5 115v1M62.5 117v1M62.5 122v2M62.5 127v1M63.5 72v1M63.5 77v1M63.5 79v1M63.5 83v4M63.5 91v1M63.5 93v1M63.5 95v1M63.5 98v2M63.5 101v1M63.5 103v1M63.5 105v1M63.5 108v2M63.5 111v1M63.5 116v1M63.5 139v1M64.5 72v1M66.5 67v1M66.5 70v1M66.5 73v2M66.5 78v2M66.5 83v2M66.5 87v1M66.5 90v1M66.5 92v1M66.5 94v1M66.5 99v1M66.5 108v1M66.5 113v1M66.5 118v1M69.5 36v1M69.5 38v1M69.5 43v1M69.5 45v2M69.5 48v1M69.5 70v1M69.5 72v1M69.5 74v1M69.5 76v4M69.5 82v3M69.5 88v1M69.5 91v3M69.5 95v3M69.5 99v1M69.5 101v2M69.5 104v1M69.5 108v1M69.5 111v1M69.5 119v2M69.5 122v1M69.5 130v1M71.5 74v1M72.5 34v1M72.5 69v1M72.5 99v1M72.5 110v1M74.5 35v1M74.5 38v1M74.5 41v2M74.5 46v2M74.5 70v1M74.5 76v1M74.5 78v1M74.5 80v1M74.5 82v1M74.5 85v1M74.5 87v3M74.5 92v2M74.5 95v2M74.5 99v3M74.5 106v1M74.5 109v1M74.5 111v2M74.5 114v1M74.5 117v2M74.5 125v1M74.5 136v1M75.5 32v1M75.5 45v1M75.5 67v1M75.5 71v1M75.5 73v3M75.5 77v1M75.5 79v1M75.5 84v1M75.5 90v1M75.5 94v1M75.5 97v1M75.5 100v1M75.5 104v1M75.5 106v2M75.5 116v1M77.5 132v1M79.5 72v1M79.5 74v2M79.5 85v2M79.5 105v1M79.5 118v1M79.5 133v1M82.5 110v1M84.5 101v1M87.5 24v1M87.5 26v1M90.5 84v1M90.5 88v1M90.5 94v1M90.5 97v1M92.5 30v1M92.5 37v1M92.5 39v3M92.5 45v1M92.5 70v1M92.5 72v2M92.5 77v1M92.5 79v3M92.5 84v1M92.5 86v1M92.5 89v2M92.5 95v1M92.5 97v2M92.5 100v2M92.5 104v2M92.5 108v1M92.5 115v2M92.5 128v1M94.5 68v1M94.5 78v1M94.5 102v1M94.5 104v1M96.5 29v1M96.5 71v1M96.5 73v1M96.5 80v2M96.5 84v1M96.5 89v1M96.5 96v4M96.5 101v1M96.5 104v1M96.5 106v1M96.5 110v1M96.5 112v1M96.5 116v1M97.5 78v1M97.5 87v1M98.5 33v1M98.5 35v2M98.5 38v1M98.5 40v1M98.5 45v1M98.5 47v2M98.5 68v3M98.5 72v2M98.5 76v1M98.5 79v1M98.5 86v2M98.5 89v2M98.5 96v2M98.5 101v2M98.5 106v1M98.5 109v1M98.5 117v1M98.5 120v1M98.5 125v1M98.5 128v1M102.5 29v1M102.5 32v3M102.5 37v1M102.5 39v2M102.5 43v1M102.5 45v2M102.5 69v2M102.5 78v4M102.5 83v1M102.5 87v1M102.5 89v2M102.5 92v4M102.5 104v1M102.5 106v1M102.5 113v3M102.5 118v1M102.5 120v1M102.5 122v1M102.5 124v2M102.5 127v2M103.5 35v2M103.5 41v1M103.5 45v1M103.5 68v4M103.5 73v5M103.5 80v4M103.5 86v2M103.5 89v1M103.5 93v1M103.5 99v1M103.5 101v1M103.5 109v4M103.5 121v1M103.5 131v1M105.5 138v1M107.5 18v1M113.5 122v1M113.5 125v1M118.5 31v3M118.5 57v1M118.5 59v1M118.5 67v1M118.5 69v1M118.5 71v2M118.5 76v1M118.5 78v3M118.5 83v4M118.5 92v4M118.5 97v1M118.5 99v10M118.5 114v1M118.5 124v4M119.5 30v1M119.5 34v2M119.5 38v2M119.5 42v2M119.5 66v1M119.5 70v2M119.5 76v3M119.5 80v2M119.5 87v1M119.5 89v5M119.5 95v1M119.5 97v1M119.5 99v8M119.5 109v2M119.5 112v1M119.5 114v1M119.5 119v1M119.5 121v1M119.5 124v1M119.5 127v2M119.5 130v1M120.5 30v1M120.5 32v2M120.5 37v1M120.5 40v1M120.5 42v4M120.5 67v6M120.5 77v1M120.5 85v2M120.5 91v1M120.5 95v6M120.5 105v2M120.5 109v2M120.5 112v1M120.5 118v1M120.5 122v1M120.5 126v1M121.5 40v1M121.5 44v1M121.5 46v1M121.5 50v1M121.5 68v3M121.5 73v1M121.5 75v3M121.5 80v1M121.5 82v2M121.5 90v1M121.5 94v1M121.5 96v1M121.5 99v1M121.5 103v2M121.5 106v2M121.5 109v1M121.5 112v1M121.5 122v1M121.5 126v1M122.5 30v2M122.5 38v1M122.5 42v1M122.5 48v1M122.5 70v1M122.5 72v1M122.5 75v2M122.5 78v1M122.5 80v6M122.5 87v1M122.5 89v1M122.5 91v2M122.5 97v4M122.5 103v1M122.5 107v3M122.5 111v1M122.5 117v2M122.5 123v1M122.5 126v1M123.5 78v1M123.5 93v1M123.5 101v1M126.5 43v1M126.5 83v1M126.5 91v1M126.5 95v1M126.5 102v1M126.5 104v1M126.5 109v1M126.5 116v1M126.5 137v1M128.5 73v3M128.5 77v1M128.5 88v1M128.5 96v1M128.5 99v1M128.5 122v1M128.5 126v1M129.5 29v1M129.5 32v2M129.5 36v1M129.5 39v1M129.5 45v3M129.5 70v1M129.5 72v1M129.5 75v1M129.5 78v7M129.5 87v1M129.5 90v3M129.5 95v2M129.5 99v1M129.5 102v1M129.5 104v1M129.5 106v2M129.5 111v1M129.5 124v2M129.5 127v3M130.5 30v2M130.5 33v2M130.5 36v1M130.5 38v1M130.5 41v1M130.5 45v1M130.5 54v1M130.5 58v1M130.5 66v1M130.5 68v4M130.5 73v6M130.5 80v1M130.5 82v2M130.5 87v2M130.5 90v2M130.5 95v1M130.5 97v3M130.5 101v1M130.5 105v2M130.5 108v1M130.5 111v1M130.5 118v1M130.5 122v4M130.5 127v1M130.5 129v1M133.5 22v1M134.5 4v1M134.5 11v1M134.5 26v1M134.5 106v1M135.5 10v1M136.5 23v1M136.5 136v1M137.5 133v1M138.5 0v1M138.5 10v1M138.5 14v1M138.5 16v1M138.5 18v1M138.5 25v1M142.5 1v1M142.5 136v1M146.5 20v2M150.5 3v1M152.5 137v1M154.5 15v1M155.5 132v1M156.5 8v1M157.5 134v1M157.5 137v1M160.5 18v1M164.5 139v1M166.5 25v1M167.5 135v1M167.5 137v1M167.5 139v1M169.5 4v1M170.5 7v1M170.5 19v1M170.5 24v1M172.5 136v1M174.5 15v1M175.5 7v1M176.5 1v1M179.5 136v1M180.5 11v1M182.5 7v1"/>
<path stroke="#e0ebf2" d="M1.5 130v1M2.5 10v1M2.5 18v1M5.5 44v1M5.5 129v1M6.5 50v1M6.5 133v1M7.5 135v1M8.5 78v2M8.5 99v2M8.5 102v1M8.5 104v1M10.5 53v1M10.5 113v1M12.5 11v1M12.5 54v1M12.5 63v1M12.5 97v1M12.5 135v2M13.5 133v1M14.5 61v1M14.5 63v1M14.5 65v1M14.5 77v1M14.5 81v1M14.5 101v1M14.5 107v1M14.5 114v1M15.5 30v1M15.5 37v1M15.5 40v1M15.5 52v1M15.5 100v1M15.5 102v1M15.5 118v1M15.5 121v1M16.5 31v1M16.5 52v1M16.5 79v1M16.5 93v1M16.5 107v1M16.5 109v1M18.5 16v1M18.5 30v1M18.5 139v1M19.5 39v1M19.5 50v1M19.5 114v1M19.5 118v1M19.5 126v1M20.5 71v1M20.5 84v1M20.5 112v1M20.5 134v2M20.5 138v1M22.5 59v1M22.5 111v1M23.5 92v1M23.5 98v1M24.5 96v1M25.5 132v1M26.5 24v1M26.5 98v1M26.5 124v1M27.5 29v1M27.5 33v1M27.5 43v1M27.5 53v1M27.5 61v1M27.5 65v1M27.5 76v2M27.5 88v1M27.5 112v1M27.5 122v2M27.5 130v1M28.5 4v1M28.5 135v1M29.5 52v1M29.5 63v1M29.5 77v1M29.5 123v2M29.5 131v1M30.5 132v1M32.5 31v1M32.5 35v1M32.5 38v1M32.5 42v1M32.5 45v1M32.5 48v1M32.5 51v1M32.5 53v3M32.5 58v1M32.5 60v1M32.5 64v1M32.5 67v1M32.5 70v1M32.5 72v2M32.5 78v1M32.5 84v1M32.5 86v1M32.5 88v1M32.5 90v1M32.5 95v1M32.5 99v2M32.5 102v2M32.5 108v1M32.5 114v1M32.5 116v1M32.5 119v1M32.5 121v1M32.5 127v1M32.5 131v1M33.5 23v1M33.5 39v1M33.5 48v1M33.5 50v3M33.5 54v4M33.5 65v2M33.5 91v1M33.5 115v1M33.5 118v1M33.5 121v1M33.5 124v1M33.5 126v1M33.5 128v2M33.5 136v1M34.5 44v1M34.5 70v3M34.5 75v2M34.5 79v4M34.5 88v1M34.5 90v1M34.5 92v5M34.5 99v1M34.5 102v2M34.5 105v1M34.5 109v2M34.5 122v1M35.5 35v2M35.5 45v2M35.5 59v1M35.5 63v1M35.5 75v1M35.5 79v1M35.5 81v2M35.5 85v1M35.5 93v1M35.5 97v2M35.5 103v3M35.5 108v1M35.5 110v1M35.5 113v1M36.5 29v2M36.5 33v1M36.5 41v1M36.5 46v4M36.5 53v1M36.5 68v1M36.5 71v1M36.5 85v1M36.5 104v1M36.5 106v1M36.5 111v2M36.5 115v2M36.5 124v2M36.5 128v1M36.5 130v2M37.5 32v1M37.5 37v1M37.5 39v2M37.5 49v2M37.5 60v1M37.5 63v1M37.5 66v3M37.5 70v1M37.5 74v1M37.5 79v1M37.5 88v1M37.5 91v1M37.5 95v1M37.5 97v1M37.5 99v1M37.5 109v2M37.5 113v1M37.5 122v1M37.5 125v2M37.5 129v3M38.5 10v1M38.5 31v1M38.5 39v1M38.5 60v1M38.5 68v1M38.5 72v1M38.5 77v1M38.5 82v1M38.5 85v1M38.5 87v1M38.5 89v1M38.5 91v1M38.5 93v1M38.5 95v1M38.5 98v1M38.5 104v1M38.5 109v2M38.5 117v1M38.5 121v1M38.5 127v1M38.5 130v1M39.5 41v2M39.5 44v1M39.5 48v1M39.5 54v2M39.5 57v1M39.5 60v1M39.5 62v1M39.5 65v2M39.5 114v1M39.5 119v1M39.5 125v2M39.5 128v1M39.5 131v1M40.5 30v1M40.5 36v1M40.5 47v1M40.5 49v4M40.5 55v2M40.5 60v2M40.5 66v1M40.5 90v1M40.5 114v2M40.5 118v1M40.5 120v1M40.5 124v1M40.5 127v2M40.5 130v2M40.5 138v1M41.5 2v1M41.5 29v1M41.5 38v1M41.5 45v1M41.5 58v1M41.5 67v1M41.5 75v1M41.5 78v1M41.5 84v1M41.5 95v1M41.5 97v1M41.5 99v1M41.5 102v2M42.5 29v1M42.5 33v1M42.5 35v4M42.5 40v1M42.5 45v2M42.5 58v1M42.5 62v1M42.5 68v1M42.5 80v1M42.5 86v1M42.5 92v1M42.5 98v1M42.5 112v2M42.5 116v9M42.5 126v2M43.5 29v1M43.5 32v1M43.5 36v1M43.5 44v1M43.5 49v1M43.5 70v1M43.5 76v1M43.5 82v2M43.5 85v2M43.5 92v2M43.5 96v1M43.5 99v1M43.5 101v1M43.5 109v1M43.5 113v1M43.5 118v1M43.5 127v1M44.5 0v1M44.5 29v5M44.5 37v3M44.5 41v1M44.5 44v1M44.5 47v1M44.5 68v2M44.5 73v3M44.5 78v3M44.5 82v1M44.5 85v1M44.5 88v2M44.5 91v2M44.5 95v1M44.5 97v1M44.5 99v3M44.5 104v4M44.5 109v2M44.5 112v2M44.5 116v1M44.5 119v1M44.5 122v1M44.5 125v2M44.5 128v1M45.5 2v1M45.5 87v1M45.5 96v1M45.5 136v1M46.5 4v1M46.5 7v1M46.5 13v1M46.5 29v1M46.5 33v2M46.5 36v1M46.5 39v2M46.5 45v3M46.5 55v1M46.5 67v2M46.5 72v1M46.5 77v1M46.5 83v1M46.5 90v2M46.5 97v1M46.5 100v1M46.5 103v1M46.5 105v1M46.5 107v1M46.5 113v3M46.5 118v2M46.5 122v1M46.5 125v2M46.5 129v1M46.5 131v1M47.5 29v1M47.5 31v1M47.5 35v1M47.5 40v2M47.5 46v1M47.5 49v1M47.5 54v2M47.5 64v1M47.5 69v1M47.5 77v1M47.5 82v1M47.5 85v1M47.5 90v1M47.5 92v1M47.5 100v2M47.5 103v2M47.5 106v1M47.5 108v3M47.5 112v1M47.5 116v1M47.5 119v2M47.5 125v1M47.5 130v1M47.5 135v1M47.5 139v1M48.5 29v1M48.5 31v1M48.5 33v1M48.5 38v1M48.5 45v1M48.5 48v2M48.5 51v3M48.5 55v1M48.5 61v1M48.5 66v2M48.5 89v1M48.5 97v1M48.5 102v1M48.5 114v2M48.5 118v1M48.5 120v1M48.5 125v2M48.5 129v1M48.5 131v1M49.5 42v1M49.5 67v3M49.5 72v1M49.5 74v1M49.5 76v5M49.5 82v2M49.5 87v3M49.5 93v1M49.5 97v1M49.5 99v4M49.5 106v1M49.5 109v3M49.5 125v1M49.5 128v1M50.5 30v2M50.5 33v3M50.5 37v1M50.5 42v1M50.5 47v3M50.5 55v1M50.5 57v1M50.5 62v1M50.5 64v1M50.5 67v2M50.5 70v1M50.5 79v1M50.5 82v1M50.5 89v1M50.5 91v1M50.5 98v1M50.5 102v2M50.5 107v1M50.5 111v4M50.5 116v1M50.5 120v1M50.5 122v1M50.5 124v3M50.5 129v1M50.5 131v1M51.5 3v1M51.5 8v1M53.5 123v1M54.5 5v1M54.5 55v1M54.5 61v1M55.5 123v1M55.5 134v1M56.5 59v1M56.5 73v1M56.5 79v1M56.5 81v1M56.5 84v2M56.5 90v1M56.5 94v1M56.5 131v1M57.5 31v1M57.5 44v1M57.5 48v1M57.5 63v1M57.5 139v1M58.5 20v1M58.5 119v1M59.5 31v2M59.5 34v1M59.5 64v1M59.5 67v1M59.5 74v1M59.5 80v1M59.5 97v2M59.5 102v1M59.5 113v1M59.5 117v1M61.5 90v1M62.5 24v1M62.5 51v1M62.5 55v1M62.5 58v1M62.5 63v1M62.5 66v2M62.5 70v2M62.5 73v2M62.5 80v1M62.5 87v1M62.5 92v1M62.5 97v1M62.5 104v1M62.5 109v2M62.5 112v3M62.5 118v1M62.5 121v1M62.5 124v2M62.5 128v1M62.5 130v2M63.5 7v1M63.5 68v4M63.5 73v2M63.5 76v1M63.5 80v1M63.5 82v1M63.5 89v1M63.5 92v1M63.5 97v1M63.5 100v1M63.5 102v1M63.5 104v1M63.5 106v2M63.5 112v2M63.5 115v1M63.5 118v1M63.5 121v2M63.5 125v1M63.5 127v4M63.5 136v1M64.5 51v2M64.5 70v1M64.5 83v1M64.5 93v2M64.5 102v1M64.5 105v1M64.5 111v1M64.5 121v1M64.5 123v1M64.5 125v1M64.5 131v1M65.5 91v1M66.5 58v1M66.5 68v1M66.5 71v1M66.5 75v2M66.5 82v1M66.5 86v1M66.5 89v1M66.5 95v4M66.5 100v7M66.5 109v2M66.5 112v1M66.5 116v1M66.5 121v1M66.5 123v1M66.5 125v2M66.5 128v1M67.5 16v1M67.5 26v1M68.5 113v1M69.5 29v2M69.5 32v1M69.5 34v2M69.5 39v4M69.5 44v1M69.5 62v1M69.5 64v1M69.5 68v1M69.5 80v2M69.5 86v1M69.5 90v1M69.5 112v2M69.5 115v4M69.5 125v2M69.5 129v1M70.5 33v1M70.5 37v1M70.5 55v1M70.5 70v1M70.5 72v1M70.5 112v2M71.5 8v1M71.5 75v1M71.5 81v1M71.5 104v1M71.5 107v1M71.5 109v1M72.5 30v1M72.5 35v2M72.5 46v1M72.5 68v1M72.5 71v1M72.5 74v1M72.5 77v1M72.5 79v1M72.5 83v2M72.5 89v1M72.5 91v2M72.5 95v1M72.5 97v2M72.5 101v2M72.5 105v1M72.5 118v1M72.5 121v1M72.5 124v3M73.5 55v1M73.5 93v1M73.5 108v1M73.5 110v1M73.5 116v1M73.5 139v1M74.5 2v1M74.5 10v1M74.5 19v1M74.5 21v2M74.5 29v2M74.5 33v1M74.5 37v1M74.5 40v1M74.5 44v1M74.5 48v1M74.5 52v1M74.5 54v1M74.5 56v3M74.5 62v1M74.5 67v3M74.5 79v1M74.5 83v1M74.5 86v1M74.5 90v1M74.5 97v1M74.5 102v1M74.5 104v2M74.5 113v1M74.5 115v2M74.5 120v1M74.5 122v3M74.5 127v3M74.5 131v1M74.5 139v1M75.5 33v2M75.5 36v1M75.5 38v1M75.5 41v1M75.5 44v1M75.5 48v1M75.5 68v2M75.5 72v1M75.5 76v1M75.5 78v1M75.5 80v4M75.5 85v1M75.5 87v3M75.5 91v2M75.5 95v2M75.5 98v1M75.5 101v2M75.5 108v1M75.5 110v3M75.5 118v1M75.5 125v1M75.5 127v1M75.5 129v1M75.5 131v2M76.5 78v1M76.5 120v1M79.5 30v1M79.5 32v2M79.5 37v1M79.5 56v1M79.5 71v1M79.5 73v1M79.5 76v2M79.5 79v5M79.5 88v2M79.5 94v1M79.5 100v5M79.5 106v1M79.5 108v2M79.5 112v1M79.5 116v1M79.5 120v2M79.5 126v2M80.5 56v1M82.5 30v2M82.5 34v1M82.5 39v1M82.5 48v2M82.5 52v1M82.5 54v2M82.5 59v2M82.5 62v1M82.5 65v1M82.5 67v1M82.5 70v1M82.5 79v1M82.5 97v2M82.5 105v1M82.5 107v1M82.5 120v1M82.5 124v1M82.5 126v1M82.5 131v1M82.5 139v1M83.5 30v1M83.5 46v1M83.5 49v1M83.5 51v1M83.5 56v1M83.5 68v1M83.5 97v2M83.5 130v1M83.5 135v1M84.5 29v1M84.5 32v1M84.5 34v1M84.5 37v2M84.5 42v1M84.5 53v1M84.5 59v1M84.5 66v2M84.5 73v1M84.5 83v1M84.5 87v1M84.5 89v1M84.5 92v2M84.5 98v1M84.5 102v1M84.5 106v1M84.5 110v2M84.5 117v1M84.5 127v1M84.5 129v1M84.5 131v1M85.5 45v1M86.5 51v1M86.5 72v1M86.5 107v1M86.5 113v1M87.5 19v1M87.5 36v1M87.5 42v1M87.5 78v2M87.5 82v1M87.5 88v1M87.5 90v1M87.5 100v1M87.5 103v1M87.5 137v1M90.5 25v1M90.5 33v1M90.5 38v1M90.5 67v1M90.5 71v1M90.5 73v2M90.5 76v1M90.5 81v1M90.5 83v1M90.5 85v2M90.5 89v1M90.5 91v1M90.5 93v1M90.5 95v1M90.5 98v2M90.5 103v1M90.5 106v2M90.5 110v1M90.5 116v1M90.5 130v1M90.5 134v1M91.5 134v1M91.5 136v1M92.5 29v1M92.5 31v1M92.5 34v3M92.5 38v1M92.5 42v3M92.5 46v1M92.5 49v1M92.5 58v1M92.5 63v2M92.5 67v3M92.5 71v1M92.5 74v1M92.5 76v1M92.5 87v1M92.5 91v1M92.5 94v1M92.5 99v1M92.5 102v2M92.5 107v1M92.5 109v3M92.5 113v2M92.5 118v2M92.5 121v3M92.5 125v1M92.5 130v1M93.5 30v1M93.5 48v1M93.5 65v1M93.5 75v1M93.5 97v1M94.5 32v1M94.5 36v1M94.5 38v1M94.5 45v1M94.5 51v1M94.5 60v1M94.5 65v1M94.5 69v1M94.5 71v2M94.5 76v1M94.5 81v2M94.5 84v2M94.5 88v2M94.5 97v1M94.5 99v2M94.5 105v4M94.5 111v2M94.5 115v1M94.5 117v1M94.5 122v1M94.5 124v1M94.5 129v1M95.5 119v1M95.5 137v1M96.5 3v1M96.5 12v1M96.5 18v1M96.5 33v3M96.5 39v1M96.5 43v1M96.5 47v1M96.5 67v1M96.5 69v2M96.5 72v1M96.5 74v2M96.5 78v1M96.5 82v2M96.5 87v1M96.5 90v6M96.5 102v2M96.5 105v1M96.5 107v1M96.5 109v1M96.5 113v2M96.5 119v3M96.5 126v2M96.5 129v1M96.5 131v1M96.5 138v1M97.5 83v2M97.5 99v2M97.5 115v1M98.5 30v2M98.5 34v1M98.5 37v1M98.5 42v1M98.5 44v1M98.5 46v1M98.5 54v2M98.5 59v1M98.5 63v1M98.5 71v1M98.5 74v2M98.5 77v2M98.5 80v1M98.5 82v2M98.5 91v2M98.5 95v1M98.5 98v3M98.5 103v3M98.5 107v1M98.5 110v4M98.5 116v1M98.5 118v1M98.5 122v1M98.5 124v1M98.5 127v1M98.5 129v1M98.5 132v1M99.5 29v1M99.5 62v1M99.5 77v1M99.5 91v1M99.5 93v1M99.5 103v1M99.5 108v1M99.5 115v1M99.5 122v1M99.5 127v1M100.5 30v1M100.5 76v1M100.5 87v1M102.5 30v1M102.5 38v1M102.5 41v1M102.5 44v1M102.5 47v1M102.5 49v1M102.5 51v1M102.5 60v1M102.5 63v1M102.5 67v2M102.5 73v1M102.5 76v1M102.5 86v1M102.5 103v1M102.5 111v2M102.5 119v1M102.5 121v1M102.5 123v1M103.5 31v4M103.5 37v2M103.5 40v1M103.5 43v1M103.5 47v1M103.5 59v1M103.5 63v1M103.5 67v1M103.5 78v2M103.5 84v2M103.5 88v1M103.5 90v2M103.5 100v1M103.5 102v2M103.5 105v2M103.5 108v1M103.5 115v2M103.5 118v1M103.5 120v1M103.5 123v1M103.5 128v2M104.5 34v1M104.5 74v1M104.5 83v1M104.5 87v1M104.5 93v1M104.5 108v1M105.5 40v1M105.5 67v1M105.5 101v1M105.5 109v1M105.5 111v1M105.5 132v1M105.5 136v1M106.5 19v1M108.5 31v1M109.5 29v1M109.5 42v2M109.5 94v1M109.5 121v1M110.5 47v1M110.5 49v1M110.5 56v1M111.5 0v1M112.5 81v1M113.5 35v2M113.5 38v1M113.5 47v1M113.5 51v1M113.5 58v1M113.5 61v1M113.5 65v1M113.5 75v1M113.5 83v3M113.5 88v1M113.5 93v1M113.5 96v1M113.5 100v1M113.5 107v1M113.5 111v1M113.5 117v1M113.5 119v1M114.5 16v1M114.5 25v1M115.5 45v1M115.5 68v1M116.5 10v1M116.5 38v1M116.5 83v1M116.5 127v1M117.5 20v1M117.5 25v1M117.5 95v1M117.5 136v1M118.5 19v1M118.5 30v1M118.5 34v2M118.5 39v5M118.5 46v6M118.5 54v2M118.5 58v1M118.5 61v3M118.5 66v1M118.5 68v1M118.5 81v1M118.5 87v1M118.5 90v1M118.5 98v1M118.5 109v5M118.5 115v5M118.5 121v1M118.5 123v1M118.5 128v4M119.5 31v1M119.5 40v1M119.5 44v1M119.5 46v1M119.5 48v2M119.5 51v3M119.5 55v1M119.5 60v1M119.5 65v1M119.5 67v3M119.5 72v3M119.5 84v3M119.5 88v1M119.5 94v1M119.5 98v1M119.5 111v1M119.5 113v1M119.5 118v1M119.5 123v1M119.5 129v1M120.5 31v1M120.5 34v1M120.5 38v2M120.5 41v1M120.5 46v5M120.5 57v1M120.5 64v1M120.5 78v1M120.5 83v1M120.5 94v1M120.5 108v1M120.5 114v2M120.5 117v1M120.5 119v3M120.5 123v2M120.5 127v2M120.5 131v1M121.5 30v6M121.5 37v1M121.5 43v1M121.5 48v2M121.5 61v1M121.5 65v1M121.5 67v1M121.5 71v1M121.5 85v1M121.5 87v2M121.5 91v2M121.5 95v1M121.5 97v1M121.5 101v2M121.5 105v1M121.5 110v2M121.5 113v1M121.5 118v1M121.5 120v2M121.5 123v2M121.5 127v1M121.5 139v1M122.5 11v1M122.5 15v1M122.5 32v3M122.5 36v2M122.5 41v1M122.5 47v1M122.5 67v3M122.5 71v1M122.5 86v1M122.5 96v1M122.5 102v1M122.5 106v1M122.5 110v1M122.5 112v1M122.5 114v1M122.5 116v1M122.5 119v3M122.5 127v1M122.5 130v2M123.5 33v2M123.5 47v1M123.5 49v2M123.5 61v1M123.5 70v5M123.5 77v1M123.5 81v1M123.5 86v2M123.5 92v1M123.5 94v4M123.5 99v1M123.5 102v1M123.5 105v3M123.5 110v1M123.5 123v1M124.5 134v1M125.5 62v1M125.5 85v1M125.5 94v1M125.5 96v1M125.5 103v1M125.5 131v1M126.5 32v2M126.5 36v1M126.5 40v1M126.5 42v1M126.5 65v2M126.5 68v1M126.5 73v1M126.5 75v1M126.5 80v2M126.5 85v1M126.5 87v2M126.5 90v1M126.5 92v2M126.5 96v1M126.5 99v2M126.5 108v1M126.5 110v1M126.5 112v1M126.5 114v1M126.5 124v1M126.5 127v1M126.5 139v1M127.5 38v1M127.5 68v1M127.5 79v1M127.5 96v2M128.5 25v1M128.5 33v1M128.5 37v1M128.5 41v2M128.5 46v2M128.5 70v1M128.5 72v1M128.5 76v1M128.5 78v10M128.5 90v1M128.5 92v2M128.5 95v1M128.5 102v6M128.5 109v1M128.5 127v1M128.5 131v1M129.5 30v2M129.5 34v2M129.5 37v2M129.5 40v3M129.5 44v1M129.5 49v1M129.5 57v1M129.5 62v1M129.5 65v3M129.5 76v1M129.5 86v1M129.5 89v1M129.5 97v1M129.5 109v2M129.5 116v5M129.5 123v1M129.5 126v1M129.5 135v1M130.5 29v1M130.5 32v1M130.5 39v2M130.5 43v1M130.5 48v2M130.5 51v1M130.5 55v1M130.5 57v1M130.5 60v1M130.5 67v1M130.5 72v1M130.5 94v1M130.5 103v1M130.5 114v2M130.5 121v1M130.5 126v1M130.5 130v2M131.5 48v1M131.5 57v1M131.5 139v1M132.5 0v1M132.5 7v1M132.5 15v1M132.5 38v1M132.5 71v1M132.5 86v1M132.5 93v1M132.5 96v1M132.5 101v1M132.5 114v1M132.5 123v1M132.5 129v1M132.5 131v1M132.5 138v1M133.5 2v1M133.5 23v1M134.5 6v2M134.5 9v1M134.5 15v2M134.5 18v1M134.5 22v3M134.5 44v1M135.5 26v1M135.5 139v1M136.5 3v2M136.5 26v1M136.5 139v1M137.5 13v1M137.5 25v1M137.5 135v1M138.5 1v1M138.5 5v3M138.5 9v1M138.5 11v3M138.5 21v2M139.5 134v1M140.5 23v1M140.5 137v1M142.5 5v1M142.5 13v1M142.5 20v1M142.5 23v1M142.5 26v1M144.5 3v1M144.5 12v2M144.5 15v1M144.5 19v1M145.5 55v1M145.5 100v1M145.5 116v1M146.5 19v1M146.5 23v1M146.5 133v1M147.5 9v1M147.5 135v1M149.5 133v1M150.5 8v2M150.5 22v1M150.5 26v1M153.5 0v1M153.5 132v1M154.5 7v1M154.5 23v1M154.5 25v1M156.5 5v1M156.5 26v1M156.5 84v1M156.5 137v1M157.5 3v1M157.5 8v1M157.5 11v1M157.5 14v1M158.5 0v1M158.5 20v1M160.5 15v1M160.5 17v1M160.5 21v1M160.5 23v1M160.5 57v1M160.5 135v1M160.5 137v1M161.5 4v1M161.5 14v1M161.5 23v2M161.5 132v1M163.5 6v1M163.5 8v1M163.5 26v1M166.5 6v2M166.5 18v1M166.5 137v1M167.5 17v1M168.5 136v1M169.5 0v1M169.5 10v1M169.5 21v1M169.5 78v1M169.5 102v1M169.5 106v1M169.5 137v1M170.5 0v2M170.5 3v1M170.5 5v1M170.5 8v2M170.5 13v1M170.5 15v1M170.5 18v1M170.5 21v1M170.5 25v1M170.5 133v1M170.5 135v1M172.5 132v3M173.5 12v1M173.5 14v1M173.5 24v1M174.5 1v1M174.5 14v1M174.5 16v3M174.5 21v1M176.5 9v1M176.5 16v1M176.5 24v1M176.5 133v1M177.5 15v1M177.5 136v1M178.5 0v1M178.5 7v1M178.5 9v1M179.5 9v1M179.5 15v1M179.5 18v1M179.5 24v1M180.5 6v1M180.5 9v1M180.5 23v1M180.5 25v1M180.5 135v1M182.5 6v1M182.5 8v2M182.5 23v1M183.5 139v1M184.5 139v1M185.5 15v1"/>
<path stroke="#e7eff4" d="M0.5 6v1M0.5 10v1M0.5 18v1M0.5 22v1M0.5 136v2M1.5 25v1M1.5 34v1M1.5 57v2M1.5 61v1M1.5 64v1M1.5 67v1M1.5 90v1M1.5 99v1M1.5 104v1M1.5 106v1M1.5 108v1M1.5 117v1M1.5 135v1M2.5 0v1M2.5 19v1M2.5 26v1M2.5 135v1M3.5 108v1M3.5 112v1M3.5 129v1M4.5 139v1M5.5 48v1M5.5 51v1M5.5 54v1M5.5 57v1M5.5 78v2M5.5 83v1M5.5 85v1M5.5 90v1M5.5 98v1M5.5 105v1M5.5 108v2M5.5 121v1M5.5 128v1M5.5 131v1M5.5 134v1M6.5 23v1M6.5 61v1M6.5 81v1M6.5 99v2M6.5 116v1M6.5 126v1M7.5 11v1M7.5 137v1M7.5 139v1M8.5 15v1M8.5 40v3M8.5 48v1M8.5 59v2M8.5 63v1M8.5 77v1M8.5 80v1M8.5 90v1M8.5 92v1M8.5 103v1M8.5 110v1M8.5 117v1M8.5 119v1M8.5 127v1M9.5 60v1M10.5 29v1M10.5 35v1M10.5 37v1M10.5 44v2M10.5 51v1M10.5 54v1M10.5 62v3M10.5 71v1M10.5 76v1M10.5 80v1M10.5 86v1M10.5 89v2M10.5 106v1M10.5 110v1M10.5 116v1M10.5 121v3M10.5 136v1M10.5 138v1M11.5 32v1M11.5 39v1M11.5 51v1M11.5 54v1M11.5 60v1M11.5 62v1M11.5 64v1M11.5 68v2M11.5 74v1M11.5 76v2M11.5 81v1M11.5 100v1M11.5 111v1M11.5 113v1M11.5 116v1M11.5 135v1M12.5 17v2M12.5 20v1M12.5 25v1M12.5 58v1M12.5 65v3M12.5 72v1M12.5 75v8M12.5 85v1M12.5 88v2M12.5 91v1M12.5 99v1M12.5 103v1M12.5 106v1M12.5 108v1M12.5 114v1M12.5 118v1M12.5 120v2M12.5 123v3M12.5 127v1M12.5 129v1M12.5 131v1M13.5 1v1M13.5 19v1M14.5 51v1M14.5 54v1M14.5 56v3M14.5 60v1M14.5 64v1M14.5 69v1M14.5 71v1M14.5 73v2M14.5 76v1M14.5 78v3M14.5 82v2M14.5 86v10M14.5 98v3M14.5 103v1M14.5 106v1M14.5 108v1M14.5 110v1M14.5 112v1M14.5 115v1M14.5 118v3M14.5 122v1M14.5 124v1M14.5 127v1M14.5 129v2M15.5 31v1M15.5 36v1M15.5 39v1M15.5 45v1M15.5 48v1M15.5 58v1M15.5 60v3M15.5 64v1M15.5 72v2M15.5 81v1M15.5 83v1M15.5 86v1M15.5 88v1M15.5 91v1M15.5 93v1M15.5 95v3M15.5 104v1M15.5 110v1M15.5 114v1M15.5 120v1M15.5 122v1M15.5 129v1M15.5 135v1M16.5 2v1M16.5 4v1M16.5 29v2M16.5 34v1M16.5 37v1M16.5 40v1M16.5 45v2M16.5 49v1M16.5 53v2M16.5 58v1M16.5 64v2M16.5 68v3M16.5 72v1M16.5 74v1M16.5 77v1M16.5 81v1M16.5 84v1M16.5 86v1M16.5 96v1M16.5 100v3M16.5 105v1M16.5 108v1M16.5 110v3M16.5 115v1M16.5 117v1M16.5 124v1M16.5 128v1M16.5 134v1M17.5 15v1M17.5 33v1M17.5 42v1M17.5 45v1M17.5 64v1M17.5 82v1M17.5 102v1M17.5 108v1M17.5 132v1M17.5 135v1M18.5 3v1M18.5 9v2M18.5 20v1M18.5 29v1M18.5 34v1M18.5 39v1M18.5 48v1M18.5 56v1M18.5 60v1M18.5 63v1M18.5 70v1M18.5 78v1M18.5 82v2M18.5 85v1M18.5 93v1M18.5 97v1M18.5 99v1M18.5 106v1M18.5 114v1M18.5 118v1M18.5 126v2M18.5 129v1M18.5 136v1M19.5 36v2M19.5 41v1M19.5 45v1M19.5 53v1M19.5 56v1M19.5 59v1M19.5 65v1M19.5 73v2M19.5 77v2M19.5 80v1M19.5 83v1M19.5 87v1M19.5 90v2M19.5 97v1M19.5 108v2M19.5 113v1M19.5 115v1M19.5 120v1M19.5 123v2M19.5 128v4M19.5 138v1M20.5 32v1M20.5 41v1M20.5 43v2M20.5 49v1M20.5 53v1M20.5 56v1M20.5 65v1M20.5 73v1M20.5 77v1M20.5 79v1M20.5 81v1M20.5 91v3M20.5 97v1M20.5 99v1M20.5 102v1M20.5 106v2M20.5 111v1M20.5 115v1M20.5 120v1M20.5 125v2M21.5 1v1M21.5 15v1M21.5 58v1M21.5 79v2M21.5 84v1M21.5 95v1M21.5 100v1M21.5 109v1M21.5 127v1M21.5 133v1M21.5 139v1M22.5 2v1M22.5 31v1M22.5 33v1M22.5 35v1M22.5 41v1M22.5 43v1M22.5 48v1M22.5 52v2M22.5 58v1M22.5 66v2M22.5 71v1M22.5 76v1M22.5 79v1M22.5 86v1M22.5 88v1M22.5 90v2M22.5 101v2M22.5 112v2M22.5 116v1M22.5 119v1M22.5 121v2M22.5 131v1M22.5 135v1M23.5 6v1M23.5 15v2M23.5 30v2M23.5 33v2M23.5 42v1M23.5 47v1M23.5 51v1M23.5 53v1M23.5 56v1M23.5 62v1M23.5 65v2M23.5 70v1M23.5 74v1M23.5 76v1M23.5 85v1M23.5 90v1M23.5 95v1M23.5 100v1M23.5 106v2M23.5 109v1M23.5 112v1M23.5 116v1M23.5 118v1M23.5 122v1M23.5 125v1M24.5 41v1M24.5 45v1M24.5 60v1M24.5 73v1M24.5 83v2M24.5 103v1M24.5 115v1M24.5 120v1M24.5 138v1M26.5 29v1M26.5 32v1M26.5 36v1M26.5 48v1M26.5 52v1M26.5 54v1M26.5 56v1M26.5 59v1M26.5 62v1M26.5 70v1M26.5 77v1M26.5 81v1M26.5 83v2M26.5 87v1M26.5 112v1M26.5 115v1M26.5 117v1M26.5 119v2M26.5 122v2M26.5 125v2M27.5 15v1M27.5 30v1M27.5 38v1M27.5 45v1M27.5 49v1M27.5 52v1M27.5 54v1M27.5 58v1M27.5 60v1M27.5 64v1M27.5 66v1M27.5 68v5M27.5 75v1M27.5 78v1M27.5 80v3M27.5 84v1M27.5 90v1M27.5 93v1M27.5 99v1M27.5 101v1M27.5 103v1M27.5 108v1M27.5 113v2M27.5 117v1M27.5 124v1M27.5 126v4M27.5 131v1M28.5 7v1M28.5 21v1M28.5 24v1M28.5 33v1M28.5 43v1M28.5 45v1M28.5 54v1M28.5 59v2M28.5 63v1M28.5 67v1M28.5 85v1M28.5 91v1M28.5 99v1M28.5 124v1M28.5 132v1M29.5 31v1M29.5 34v1M29.5 38v2M29.5 43v1M29.5 47v2M29.5 61v1M29.5 66v1M29.5 72v2M29.5 85v1M29.5 87v2M29.5 93v1M29.5 100v5M29.5 109v1M29.5 112v1M29.5 115v1M29.5 121v1M29.5 125v2M29.5 129v1M29.5 133v1M30.5 4v1M30.5 19v1M30.5 30v2M30.5 48v1M30.5 51v1M30.5 57v1M30.5 62v1M30.5 69v1M30.5 95v1M30.5 100v1M31.5 2v1M31.5 58v1M31.5 72v1M31.5 100v1M31.5 110v1M31.5 125v1M32.5 17v1M32.5 20v1M32.5 22v1M32.5 30v1M32.5 34v1M32.5 36v2M32.5 39v3M32.5 44v1M32.5 46v2M32.5 50v1M32.5 56v2M32.5 59v1M32.5 61v1M32.5 65v2M32.5 68v1M32.5 71v1M32.5 75v3M32.5 79v3M32.5 83v1M32.5 87v1M32.5 89v1M32.5 91v1M32.5 93v2M32.5 96v2M32.5 104v4M32.5 109v1M32.5 112v2M32.5 115v1M32.5 117v1M32.5 123v1M32.5 128v1M32.5 130v1M33.5 40v1M33.5 53v1M33.5 58v3M33.5 62v1M33.5 114v1M33.5 138v1M34.5 31v3M34.5 35v3M34.5 40v2M34.5 43v1M34.5 46v2M34.5 63v1M34.5 68v2M34.5 73v2M34.5 78v1M34.5 83v5M34.5 91v1M34.5 98v1M34.5 101v1M34.5 104v1M34.5 106v1M34.5 111v1M34.5 113v3M34.5 118v1M34.5 120v2M34.5 123v1M34.5 125v2M34.5 129v2M35.5 30v2M35.5 34v1M35.5 38v1M35.5 40v1M35.5 42v2M35.5 47v2M35.5 50v2M35.5 53v4M35.5 61v2M35.5 64v10M35.5 77v1M35.5 80v1M35.5 83v1M35.5 86v2M35.5 89v3M35.5 94v1M35.5 100v3M35.5 107v1M35.5 111v2M35.5 114v2M35.5 118v2M35.5 121v2M35.5 126v1M35.5 129v1M35.5 131v1M36.5 4v1M36.5 7v1M36.5 34v1M36.5 40v1M36.5 42v1M36.5 50v2M36.5 54v1M36.5 56v1M36.5 59v2M36.5 63v2M36.5 66v2M36.5 114v1M36.5 119v2M36.5 123v1M36.5 126v2M36.5 129v1M36.5 133v1M37.5 30v2M37.5 34v1M37.5 36v1M37.5 42v6M37.5 54v1M37.5 56v4M37.5 61v1M37.5 64v2M37.5 72v2M37.5 76v1M37.5 78v1M37.5 80v2M37.5 84v4M37.5 89v2M37.5 92v3M37.5 96v1M37.5 98v1M37.5 101v2M37.5 105v4M37.5 111v1M37.5 115v1M37.5 118v1M37.5 120v2M37.5 124v1M37.5 127v2M38.5 8v1M38.5 23v1M38.5 29v1M38.5 33v2M38.5 36v2M38.5 40v2M38.5 43v3M38.5 47v1M38.5 50v3M38.5 58v1M38.5 61v1M38.5 64v1M38.5 66v2M38.5 69v1M38.5 71v1M38.5 76v1M38.5 79v1M38.5 81v1M38.5 84v1M38.5 86v1M38.5 88v1M38.5 92v1M38.5 96v1M38.5 99v2M38.5 102v1M38.5 105v1M38.5 111v6M38.5 119v1M38.5 122v1M38.5 128v1M38.5 131v1M39.5 2v1M39.5 13v1M39.5 50v1M39.5 52v2M39.5 56v1M39.5 59v1M39.5 61v1M39.5 63v2M39.5 135v1M40.5 2v1M40.5 26v1M40.5 44v1M40.5 53v2M40.5 57v3M40.5 62v1M40.5 64v1M40.5 122v1M40.5 139v1M41.5 30v2M41.5 33v1M41.5 40v3M41.5 44v1M41.5 47v1M41.5 54v1M41.5 56v2M41.5 65v1M41.5 68v2M41.5 71v4M41.5 76v1M41.5 79v4M41.5 85v9M41.5 98v1M41.5 100v2M41.5 104v1M41.5 108v1M41.5 110v2M41.5 119v2M41.5 122v2M41.5 127v2M41.5 130v1M41.5 134v1M42.5 4v1M42.5 39v1M42.5 48v3M42.5 53v2M42.5 57v1M42.5 61v1M42.5 63v1M42.5 67v1M42.5 81v1M42.5 115v1M42.5 125v1M42.5 128v2M42.5 131v1M43.5 30v2M43.5 33v2M43.5 37v1M43.5 39v2M43.5 42v2M43.5 45v2M43.5 52v1M43.5 55v1M43.5 68v2M43.5 71v1M43.5 73v3M43.5 77v5M43.5 84v1M43.5 87v5M43.5 94v1M43.5 98v1M43.5 102v2M43.5 107v2M43.5 112v1M43.5 116v2M43.5 119v1M43.5 121v1M43.5 123v1M43.5 125v2M43.5 128v1M43.5 130v2M44.5 3v1M44.5 8v1M44.5 15v1M44.5 18v1M44.5 24v1M44.5 40v1M44.5 42v2M44.5 45v2M44.5 48v1M44.5 52v1M44.5 54v1M44.5 56v1M44.5 58v1M44.5 60v1M44.5 65v1M44.5 71v1M44.5 81v1M44.5 84v1M44.5 86v2M44.5 108v1M44.5 114v2M44.5 117v1M44.5 120v2M44.5 123v2M44.5 127v1M44.5 129v1M44.5 131v1M44.5 137v1M45.5 15v3M45.5 26v1M45.5 34v1M45.5 43v1M45.5 47v1M45.5 61v1M45.5 67v1M45.5 76v1M45.5 78v2M45.5 81v2M45.5 88v1M45.5 90v4M45.5 95v1M45.5 100v1M45.5 102v2M45.5 105v1M45.5 114v1M45.5 125v1M45.5 131v1M45.5 134v1M46.5 0v1M46.5 2v1M46.5 6v1M46.5 15v1M46.5 25v1M46.5 30v1M46.5 38v1M46.5 41v1M46.5 43v1M46.5 49v1M46.5 51v1M46.5 56v3M46.5 60v1M46.5 66v1M46.5 69v1M46.5 79v1M46.5 111v1M46.5 117v1M46.5 120v2M46.5 123v2M46.5 128v1M46.5 132v1M46.5 137v1M47.5 30v1M47.5 32v1M47.5 34v1M47.5 36v1M47.5 42v3M47.5 47v1M47.5 51v2M47.5 56v1M47.5 58v1M47.5 61v2M47.5 68v1M47.5 71v2M47.5 75v2M47.5 78v1M47.5 80v2M47.5 84v1M47.5 86v2M47.5 93v3M47.5 97v1M47.5 99v1M47.5 102v1M47.5 107v1M47.5 111v1M47.5 113v2M47.5 117v2M47.5 122v1M47.5 124v1M47.5 128v2M47.5 131v1M48.5 18v1M48.5 39v1M48.5 50v1M48.5 54v1M48.5 56v1M48.5 58v3M48.5 62v1M48.5 65v1M48.5 68v1M48.5 117v1M48.5 121v3M49.5 12v1M49.5 15v1M49.5 26v1M49.5 29v1M49.5 32v1M49.5 34v3M49.5 38v1M49.5 40v2M49.5 43v2M49.5 46v1M49.5 50v1M49.5 59v1M49.5 70v2M49.5 73v1M49.5 75v1M49.5 81v1M49.5 94v3M49.5 98v1M49.5 107v2M49.5 112v1M49.5 114v5M49.5 122v1M49.5 124v1M49.5 126v2M49.5 129v1M49.5 134v1M50.5 41v1M50.5 43v1M50.5 50v2M50.5 53v2M50.5 56v1M50.5 58v4M50.5 65v1M50.5 115v1M50.5 127v1M50.5 130v1M51.5 1v1M51.5 6v1M51.5 10v1M51.5 16v1M51.5 25v2M52.5 15v1M52.5 31v1M52.5 47v1M52.5 49v1M52.5 96v1M52.5 105v1M52.5 132v1M53.5 39v1M53.5 43v1M53.5 49v1M53.5 54v2M53.5 61v1M53.5 67v1M53.5 69v2M53.5 77v3M53.5 88v1M53.5 94v1M53.5 112v1M53.5 122v1M53.5 125v1M53.5 128v1M53.5 131v1M53.5 137v1M54.5 0v1M54.5 6v2M54.5 9v1M54.5 16v1M54.5 18v1M54.5 20v1M54.5 44v1M54.5 50v1M54.5 53v1M54.5 56v1M54.5 65v2M54.5 73v1M54.5 75v1M54.5 79v1M54.5 100v1M54.5 110v1M54.5 117v1M54.5 127v1M54.5 130v1M55.5 31v2M55.5 37v1M55.5 40v1M55.5 42v1M55.5 44v2M55.5 55v1M55.5 65v3M55.5 69v1M55.5 73v2M55.5 77v1M55.5 80v3M55.5 93v4M55.5 99v2M55.5 105v2M55.5 109v1M55.5 113v1M55.5 117v1M55.5 121v1M55.5 132v1M56.5 32v1M56.5 35v1M56.5 37v1M56.5 39v2M56.5 45v4M56.5 52v3M56.5 56v1M56.5 61v1M56.5 64v2M56.5 67v4M56.5 75v3M56.5 80v1M56.5 91v2M56.5 95v1M56.5 97v1M56.5 99v1M56.5 102v1M56.5 104v1M56.5 108v1M56.5 110v2M56.5 116v2M56.5 119v1M56.5 128v1M57.5 29v2M57.5 34v1M57.5 37v1M57.5 45v3M57.5 50v1M57.5 52v1M57.5 54v1M57.5 56v1M57.5 59v1M57.5 66v6M57.5 74v1M57.5 78v2M57.5 81v1M57.5 85v1M57.5 88v1M57.5 95v1M57.5 97v2M57.5 100v2M57.5 109v2M57.5 116v2M57.5 119v1M57.5 122v2M57.5 125v1M57.5 129v1M58.5 7v1M58.5 11v1M58.5 18v1M58.5 24v1M58.5 26v1M58.5 31v1M58.5 43v1M58.5 51v1M58.5 67v1M58.5 70v1M58.5 74v1M58.5 82v1M58.5 90v2M58.5 107v1M58.5 114v1M58.5 117v1M58.5 120v1M58.5 122v1M58.5 125v1M58.5 128v1M58.5 132v2M58.5 138v1M59.5 33v1M59.5 36v4M59.5 41v8M59.5 50v1M59.5 52v2M59.5 55v1M59.5 59v5M59.5 65v2M59.5 69v1M59.5 71v1M59.5 75v1M59.5 78v1M59.5 81v2M59.5 84v5M59.5 90v1M59.5 93v1M59.5 99v2M59.5 105v1M59.5 108v1M59.5 112v1M59.5 114v1M59.5 116v1M59.5 118v1M59.5 123v4M60.5 84v1M60.5 95v1M60.5 132v1M60.5 137v1M61.5 2v1M61.5 5v1M61.5 7v2M61.5 69v2M61.5 78v2M61.5 86v1M61.5 94v1M61.5 97v1M61.5 102v1M61.5 122v1M61.5 138v1M62.5 13v1M62.5 52v1M62.5 56v2M62.5 59v1M62.5 61v2M62.5 64v1M62.5 68v1M62.5 88v1M62.5 95v1M62.5 98v1M62.5 116v1M62.5 119v2M62.5 126v1M63.5 5v2M63.5 12v1M63.5 51v1M63.5 53v2M63.5 57v2M63.5 61v2M63.5 65v2M63.5 75v1M63.5 114v1M63.5 117v1M63.5 119v2M63.5 123v2M63.5 126v1M63.5 131v1M63.5 138v1M64.5 15v1M64.5 20v1M64.5 22v2M64.5 27v1M64.5 53v2M64.5 56v3M64.5 62v1M64.5 64v1M64.5 66v3M64.5 71v1M64.5 76v1M64.5 79v1M64.5 82v1M64.5 86v5M64.5 92v1M64.5 95v1M64.5 97v5M64.5 108v3M64.5 113v2M64.5 116v1M64.5 119v2M64.5 122v1M64.5 124v1M64.5 126v1M64.5 128v1M65.5 51v1M65.5 58v1M65.5 63v1M65.5 73v1M65.5 77v1M65.5 85v1M65.5 94v1M65.5 104v2M65.5 115v1M65.5 124v2M65.5 129v1M66.5 14v1M66.5 53v3M66.5 57v1M66.5 59v3M66.5 66v1M66.5 69v1M66.5 77v1M66.5 85v1M66.5 88v1M66.5 91v1M66.5 93v1M66.5 107v1M66.5 111v1M66.5 114v2M66.5 117v1M66.5 120v1M66.5 124v1M66.5 127v1M66.5 129v3M66.5 135v2M66.5 139v1M67.5 86v1M67.5 101v1M67.5 104v1M67.5 131v1M67.5 133v1M68.5 35v1M68.5 40v1M68.5 46v1M68.5 49v1M68.5 54v1M68.5 57v1M68.5 69v1M68.5 72v1M68.5 81v1M68.5 83v1M68.5 90v1M68.5 92v1M68.5 103v1M68.5 112v1M68.5 123v1M68.5 125v1M68.5 127v1M69.5 4v1M69.5 47v1M69.5 49v6M69.5 57v4M69.5 63v1M69.5 66v2M69.5 114v1M69.5 121v1M69.5 127v2M69.5 131v1M70.5 36v1M70.5 38v1M70.5 41v3M70.5 45v1M70.5 54v1M70.5 58v1M70.5 62v2M70.5 73v1M70.5 79v2M70.5 83v1M70.5 85v1M70.5 87v1M70.5 93v1M70.5 95v1M70.5 101v1M70.5 104v1M70.5 106v1M70.5 109v1M70.5 111v1M70.5 115v1M70.5 121v1M70.5 123v1M70.5 125v3M70.5 129v1M70.5 131v1M70.5 139v1M71.5 14v1M71.5 67v1M71.5 72v2M71.5 77v1M71.5 79v1M71.5 83v1M71.5 85v4M71.5 92v1M71.5 95v2M71.5 102v2M71.5 110v1M71.5 124v1M71.5 126v1M71.5 130v2M72.5 5v1M72.5 29v1M72.5 32v1M72.5 37v2M72.5 40v2M72.5 43v3M72.5 47v1M72.5 50v1M72.5 56v1M72.5 58v1M72.5 62v2M72.5 70v1M72.5 72v1M72.5 75v2M72.5 78v1M72.5 80v3M72.5 85v2M72.5 88v1M72.5 90v1M72.5 93v2M72.5 96v1M72.5 104v1M72.5 107v3M72.5 111v3M72.5 117v1M72.5 122v1M72.5 127v2M72.5 130v1M72.5 135v1M73.5 29v3M73.5 35v1M73.5 39v1M73.5 43v1M73.5 51v1M73.5 54v1M73.5 70v1M73.5 73v1M73.5 85v2M73.5 91v1M73.5 95v1M73.5 98v1M73.5 101v2M73.5 109v1M73.5 120v3M73.5 135v1M74.5 6v1M74.5 11v2M74.5 16v1M74.5 18v1M74.5 32v1M74.5 34v1M74.5 36v1M74.5 39v1M74.5 43v1M74.5 45v1M74.5 49v1M74.5 51v1M74.5 53v1M74.5 55v1M74.5 61v1M74.5 63v2M74.5 66v1M74.5 71v1M74.5 74v1M74.5 103v1M74.5 119v1M74.5 121v1M74.5 126v1M74.5 130v1M75.5 1v1M75.5 4v1M75.5 8v1M75.5 16v1M75.5 29v1M75.5 35v1M75.5 37v1M75.5 39v2M75.5 42v2M75.5 47v1M75.5 49v2M75.5 52v1M75.5 54v6M75.5 61v4M75.5 70v1M75.5 86v1M75.5 99v1M75.5 103v1M75.5 105v1M75.5 109v1M75.5 115v1M75.5 119v5M75.5 130v1M75.5 139v1M76.5 33v3M76.5 37v1M76.5 46v1M76.5 49v1M76.5 52v1M76.5 57v2M76.5 63v1M76.5 68v1M76.5 74v1M76.5 77v1M76.5 79v1M76.5 85v1M76.5 89v1M76.5 105v2M76.5 108v1M76.5 114v1M76.5 117v2M76.5 121v1M76.5 131v1M76.5 136v1M76.5 138v2M77.5 11v1M77.5 26v1M77.5 38v1M77.5 47v1M77.5 81v1M77.5 92v1M77.5 99v1M77.5 102v1M77.5 104v1M78.5 35v1M78.5 47v1M78.5 57v1M78.5 64v1M78.5 72v1M78.5 75v1M78.5 107v2M78.5 128v1M78.5 133v1M78.5 137v1M79.5 29v1M79.5 31v1M79.5 35v1M79.5 38v6M79.5 45v1M79.5 47v4M79.5 55v1M79.5 58v3M79.5 62v1M79.5 64v1M79.5 66v2M79.5 69v2M79.5 78v1M79.5 84v1M79.5 87v1M79.5 90v4M79.5 95v2M79.5 98v2M79.5 107v1M79.5 113v1M79.5 115v1M79.5 117v1M79.5 122v1M79.5 124v2M79.5 128v3M80.5 30v1M80.5 36v1M80.5 38v1M80.5 40v1M80.5 48v1M80.5 51v1M80.5 57v2M80.5 69v2M80.5 73v1M80.5 75v1M80.5 81v1M80.5 93v2M80.5 105v2M80.5 108v1M80.5 111v1M80.5 114v1M80.5 120v1M80.5 122v1M80.5 136v1M80.5 138v1M81.5 22v1M82.5 1v1M82.5 14v1M82.5 22v1M82.5 25v2M82.5 35v1M82.5 37v2M82.5 40v1M82.5 44v4M82.5 50v1M82.5 58v1M82.5 63v2M82.5 69v1M82.5 71v1M82.5 73v3M82.5 77v2M82.5 82v3M82.5 86v3M82.5 92v2M82.5 95v2M82.5 99v4M82.5 104v1M82.5 106v1M82.5 108v2M82.5 111v3M82.5 116v1M82.5 118v1M82.5 121v1M82.5 129v1M83.5 3v1M83.5 32v1M83.5 34v2M83.5 37v2M83.5 43v1M83.5 45v1M83.5 47v1M83.5 50v1M83.5 53v2M83.5 58v1M83.5 64v1M83.5 66v1M83.5 70v1M83.5 72v4M83.5 77v2M83.5 85v3M83.5 89v2M83.5 93v3M83.5 99v1M83.5 102v1M83.5 104v3M83.5 112v2M83.5 115v4M83.5 120v1M83.5 122v1M83.5 124v2M83.5 129v1M83.5 132v1M84.5 30v2M84.5 36v1M84.5 40v2M84.5 43v1M84.5 45v1M84.5 48v1M84.5 50v3M84.5 54v1M84.5 56v3M84.5 61v3M84.5 68v1M84.5 70v3M84.5 74v4M84.5 79v3M84.5 84v3M84.5 88v1M84.5 90v2M84.5 94v4M84.5 104v1M84.5 107v2M84.5 112v1M84.5 114v2M84.5 118v6M84.5 126v1M84.5 128v1M84.5 134v1M85.5 29v2M85.5 39v2M85.5 43v1M85.5 46v1M85.5 60v2M85.5 64v2M85.5 67v2M85.5 71v1M85.5 74v1M85.5 77v1M85.5 81v3M85.5 87v2M85.5 91v1M85.5 93v1M85.5 96v2M85.5 100v1M85.5 113v1M85.5 115v1M85.5 121v1M85.5 123v1M85.5 125v4M85.5 130v2M86.5 13v3M86.5 29v1M86.5 34v1M86.5 37v1M86.5 39v1M86.5 43v3M86.5 50v1M86.5 52v4M86.5 58v1M86.5 65v2M86.5 70v2M86.5 73v3M86.5 78v1M86.5 84v1M86.5 86v6M86.5 95v1M86.5 105v2M86.5 108v1M86.5 115v1M86.5 122v2M87.5 1v1M87.5 6v2M87.5 12v2M87.5 17v1M87.5 23v1M87.5 29v2M87.5 32v1M87.5 37v1M87.5 40v2M87.5 43v1M87.5 46v1M87.5 49v1M87.5 51v2M87.5 55v1M87.5 58v1M87.5 60v2M87.5 63v1M87.5 67v2M87.5 74v1M87.5 81v1M87.5 84v4M87.5 89v1M87.5 93v2M87.5 96v4M87.5 102v1M87.5 106v3M87.5 111v3M87.5 118v1M87.5 120v1M87.5 122v1M87.5 124v4M87.5 131v1M88.5 5v1M88.5 29v1M88.5 44v1M88.5 78v1M88.5 104v1M88.5 110v1M88.5 123v1M89.5 15v1M89.5 19v2M89.5 80v1M89.5 116v1M89.5 121v1M90.5 10v1M90.5 21v1M90.5 23v1M90.5 26v1M90.5 29v1M90.5 31v2M90.5 35v1M90.5 37v1M90.5 40v1M90.5 43v1M90.5 47v1M90.5 56v1M90.5 63v1M90.5 66v1M90.5 68v3M90.5 75v1M90.5 77v4M90.5 87v1M90.5 90v1M90.5 96v1M90.5 100v2M90.5 104v2M90.5 108v2M90.5 112v1M90.5 114v2M90.5 118v1M90.5 121v1M90.5 125v5M90.5 138v1M91.5 57v1M91.5 105v3M91.5 119v1M91.5 125v1M92.5 21v1M92.5 24v1M92.5 32v2M92.5 48v1M92.5 51v5M92.5 57v1M92.5 61v1M92.5 66v1M92.5 92v1M92.5 112v1M92.5 120v1M92.5 124v1M92.5 129v1M92.5 131v1M92.5 137v1M93.5 13v1M93.5 32v1M93.5 39v1M93.5 57v3M93.5 64v1M93.5 67v1M93.5 70v1M93.5 79v1M93.5 85v1M93.5 87v1M93.5 89v2M93.5 96v1M93.5 100v1M93.5 110v1M93.5 117v1M93.5 119v1M93.5 121v1M93.5 129v1M93.5 136v1M94.5 29v1M94.5 31v1M94.5 33v1M94.5 35v1M94.5 39v1M94.5 41v1M94.5 43v2M94.5 47v3M94.5 52v1M94.5 56v2M94.5 64v1M94.5 66v2M94.5 70v1M94.5 73v1M94.5 75v1M94.5 77v1M94.5 79v2M94.5 83v1M94.5 86v2M94.5 90v7M94.5 98v1M94.5 101v1M94.5 103v1M94.5 113v2M94.5 116v1M94.5 118v4M94.5 123v1M94.5 130v2M94.5 137v1M95.5 33v1M95.5 71v1M95.5 110v1M95.5 129v1M96.5 2v1M96.5 5v1M96.5 13v1M96.5 21v2M96.5 30v3M96.5 36v3M96.5 42v1M96.5 44v3M96.5 48v7M96.5 56v2M96.5 66v1M96.5 76v2M96.5 79v1M96.5 85v2M96.5 88v1M96.5 100v1M96.5 108v1M96.5 111v1M96.5 115v1M96.5 118v1M96.5 122v1M96.5 124v2M96.5 128v1M97.5 12v1M97.5 18v1M97.5 24v1M97.5 31v2M97.5 34v1M97.5 39v3M97.5 43v1M97.5 45v3M97.5 49v1M97.5 53v1M97.5 56v1M97.5 70v1M97.5 72v4M97.5 79v1M97.5 82v1M97.5 86v1M97.5 88v3M97.5 92v1M97.5 94v1M97.5 97v1M97.5 103v1M97.5 105v2M97.5 110v2M97.5 118v1M97.5 120v1M97.5 124v2M97.5 128v1M97.5 131v1M97.5 135v1M98.5 29v1M98.5 32v1M98.5 39v1M98.5 41v1M98.5 43v1M98.5 49v1M98.5 51v3M98.5 56v3M98.5 61v2M98.5 67v1M98.5 114v2M98.5 119v1M98.5 123v1M98.5 126v1M98.5 130v2M99.5 3v1M99.5 12v1M99.5 14v1M99.5 16v1M99.5 19v1M99.5 30v1M99.5 32v1M99.5 34v1M99.5 37v1M99.5 41v2M99.5 46v2M99.5 49v2M99.5 52v1M99.5 54v1M99.5 56v2M99.5 60v1M99.5 63v1M99.5 67v1M99.5 79v3M99.5 86v1M99.5 88v1M99.5 90v1M99.5 92v1M99.5 95v1M99.5 98v1M99.5 102v1M99.5 105v1M99.5 111v2M99.5 114v1M99.5 130v1M100.5 70v1M100.5 72v1M100.5 79v1M100.5 86v1M100.5 88v3M100.5 97v2M100.5 101v1M100.5 120v1M101.5 60v1M101.5 99v1M101.5 134v1M102.5 6v1M102.5 12v1M102.5 35v1M102.5 48v1M102.5 50v1M102.5 52v4M102.5 58v1M102.5 61v1M102.5 64v3M102.5 116v2M102.5 126v1M102.5 129v3M103.5 24v1M103.5 29v2M103.5 39v1M103.5 42v1M103.5 44v1M103.5 46v1M103.5 48v1M103.5 51v3M103.5 61v2M103.5 64v3M103.5 114v1M103.5 119v1M103.5 122v1M103.5 124v4M103.5 130v1M104.5 6v1M104.5 29v1M104.5 31v1M104.5 40v1M104.5 47v3M104.5 71v2M104.5 76v1M104.5 78v1M104.5 86v1M104.5 88v2M104.5 92v1M104.5 95v2M104.5 98v1M104.5 103v3M104.5 107v1M104.5 110v1M104.5 112v1M104.5 120v1M104.5 126v2M104.5 131v1M104.5 137v1M105.5 2v1M105.5 8v1M105.5 33v1M105.5 38v2M105.5 42v1M105.5 45v1M105.5 47v1M105.5 50v1M105.5 55v3M105.5 61v1M105.5 63v1M105.5 68v2M105.5 72v1M105.5 76v1M105.5 78v1M105.5 85v1M105.5 88v1M105.5 96v2M105.5 102v1M105.5 104v3M105.5 110v1M105.5 114v1M105.5 116v1M105.5 118v1M105.5 122v1M105.5 125v1M105.5 129v1M105.5 139v1M106.5 2v1M106.5 17v1M106.5 22v1M106.5 31v2M106.5 38v1M106.5 44v2M106.5 47v1M106.5 62v1M106.5 69v2M106.5 82v2M106.5 87v2M106.5 90v1M106.5 92v1M106.5 95v1M106.5 98v1M106.5 100v1M106.5 108v1M106.5 121v1M106.5 126v1M107.5 2v1M107.5 5v1M107.5 30v1M107.5 33v1M107.5 37v2M107.5 41v1M107.5 50v1M107.5 54v4M107.5 59v2M107.5 62v1M107.5 68v1M107.5 72v1M107.5 74v1M107.5 76v2M107.5 79v2M107.5 89v1M107.5 94v1M107.5 97v2M107.5 104v2M107.5 108v2M107.5 115v1M107.5 118v1M107.5 120v1M107.5 123v1M107.5 129v1M108.5 3v2M108.5 10v1M108.5 21v1M108.5 26v1M108.5 29v1M108.5 32v1M108.5 34v1M108.5 39v1M108.5 46v1M108.5 50v1M108.5 53v2M108.5 56v1M108.5 63v1M108.5 68v1M108.5 70v1M108.5 79v1M108.5 82v2M108.5 89v2M108.5 95v1M108.5 97v3M108.5 101v1M108.5 115v1M108.5 119v2M108.5 124v3M108.5 131v1M108.5 133v1M108.5 139v1M109.5 4v1M109.5 6v1M109.5 17v2M109.5 20v2M109.5 26v1M109.5 31v3M109.5 35v1M109.5 37v1M109.5 40v1M109.5 47v1M109.5 51v2M109.5 54v1M109.5 57v1M109.5 60v2M109.5 69v1M109.5 72v1M109.5 81v3M109.5 85v1M109.5 90v2M109.5 93v1M109.5 97v1M109.5 99v1M109.5 101v1M109.5 106v1M109.5 108v4M109.5 115v3M109.5 120v1M110.5 6v3M110.5 13v1M110.5 19v1M110.5 29v1M110.5 34v2M110.5 38v1M110.5 43v2M110.5 51v1M110.5 54v1M110.5 59v2M110.5 64v1M110.5 66v3M110.5 71v1M110.5 75v1M110.5 79v1M110.5 81v1M110.5 83v1M110.5 90v1M110.5 93v1M110.5 100v2M110.5 105v1M110.5 113v1M110.5 116v1M110.5 120v2M110.5 129v1M111.5 1v1M111.5 6v2M111.5 12v1M111.5 15v1M111.5 23v1M111.5 139v1M112.5 5v1M112.5 17v1M112.5 39v1M112.5 42v1M112.5 55v1M112.5 57v1M112.5 60v1M112.5 63v1M112.5 74v1M112.5 77v1M112.5 80v1M112.5 83v2M112.5 86v1M112.5 105v1M112.5 107v1M112.5 112v1M112.5 123v2M113.5 4v1M113.5 30v1M113.5 37v1M113.5 43v1M113.5 46v1M113.5 48v3M113.5 52v1M113.5 54v1M113.5 59v2M113.5 63v2M113.5 67v3M113.5 71v2M113.5 74v1M113.5 76v2M113.5 79v1M113.5 81v1M113.5 87v1M113.5 89v1M113.5 95v1M113.5 99v1M113.5 102v1M113.5 105v2M113.5 108v1M113.5 112v2M113.5 120v1M113.5 126v1M113.5 128v1M113.5 130v2M113.5 135v1M114.5 1v1M114.5 6v1M114.5 15v1M114.5 34v1M114.5 42v1M114.5 45v3M114.5 57v2M114.5 64v1M114.5 71v1M114.5 84v3M114.5 88v2M114.5 91v2M114.5 100v1M114.5 106v1M114.5 108v1M114.5 114v1M114.5 123v2M115.5 8v1M115.5 30v1M115.5 34v1M115.5 36v1M115.5 38v1M115.5 50v1M115.5 54v1M115.5 63v1M115.5 65v2M115.5 81v1M115.5 83v1M115.5 87v1M115.5 92v1M115.5 97v1M115.5 99v1M115.5 102v1M115.5 106v1M115.5 109v1M115.5 115v1M115.5 119v2M115.5 127v1M115.5 129v1M115.5 131v1M115.5 133v2M116.5 4v1M116.5 16v1M116.5 29v1M116.5 40v2M116.5 46v1M116.5 59v1M116.5 69v2M116.5 82v1M116.5 84v1M116.5 86v1M116.5 89v1M116.5 97v1M116.5 105v2M116.5 108v1M116.5 111v2M116.5 114v1M116.5 116v1M116.5 119v1M116.5 124v1M116.5 130v1M116.5 133v1M116.5 135v1M117.5 14v1M117.5 33v1M117.5 36v1M117.5 41v1M117.5 60v2M117.5 63v1M117.5 69v1M117.5 76v1M117.5 83v1M117.5 85v3M117.5 89v1M117.5 91v1M117.5 93v2M117.5 118v1M117.5 121v1M117.5 127v1M118.5 4v1M118.5 11v1M118.5 18v1M118.5 29v1M118.5 36v1M118.5 38v1M118.5 44v2M118.5 52v2M118.5 64v1M118.5 91v1M118.5 132v1M119.5 29v1M119.5 32v2M119.5 37v1M119.5 45v1M119.5 47v1M119.5 50v1M119.5 54v1M119.5 56v3M119.5 62v3M119.5 79v1M119.5 107v1M119.5 115v3M119.5 120v1M119.5 122v1M119.5 125v1M119.5 131v2M120.5 1v1M120.5 13v1M120.5 20v1M120.5 52v2M120.5 55v2M120.5 58v6M120.5 65v2M120.5 129v2M121.5 1v1M121.5 11v1M121.5 13v1M121.5 19v3M121.5 26v1M121.5 29v1M121.5 38v1M121.5 41v1M121.5 52v5M121.5 63v1M121.5 84v1M121.5 114v4M121.5 125v1M121.5 128v4M122.5 2v1M122.5 10v1M122.5 16v1M122.5 20v2M122.5 28v1M122.5 35v1M122.5 39v2M122.5 43v3M122.5 49v3M122.5 53v1M122.5 55v3M122.5 59v1M122.5 62v1M122.5 74v1M122.5 77v1M122.5 88v1M122.5 90v1M122.5 93v1M122.5 113v1M122.5 115v1M122.5 122v1M122.5 124v2M122.5 128v2M122.5 136v1M123.5 13v1M123.5 15v2M123.5 29v2M123.5 32v1M123.5 35v3M123.5 39v1M123.5 42v1M123.5 45v1M123.5 48v1M123.5 53v1M123.5 58v3M123.5 63v7M123.5 75v2M123.5 79v1M123.5 82v1M123.5 84v2M123.5 88v4M123.5 100v1M123.5 103v2M123.5 108v2M123.5 111v1M123.5 113v4M123.5 118v1M123.5 120v1M123.5 122v1M123.5 124v2M123.5 127v2M123.5 130v2M123.5 136v1M124.5 29v1M124.5 55v1M124.5 67v1M124.5 84v1M124.5 113v1M125.5 30v1M125.5 32v3M125.5 38v1M125.5 41v3M125.5 45v1M125.5 52v1M125.5 58v1M125.5 60v1M125.5 64v1M125.5 67v2M125.5 74v2M125.5 77v1M125.5 82v1M125.5 84v1M125.5 86v1M125.5 90v1M125.5 92v1M125.5 95v1M125.5 100v1M125.5 110v1M125.5 112v3M125.5 116v1M125.5 118v1M125.5 120v5M125.5 129v1M125.5 133v2M126.5 29v2M126.5 34v1M126.5 37v2M126.5 41v1M126.5 44v5M126.5 50v1M126.5 52v2M126.5 64v1M126.5 67v1M126.5 69v3M126.5 74v1M126.5 77v3M126.5 82v1M126.5 84v1M126.5 86v1M126.5 89v1M126.5 94v1M126.5 97v2M126.5 101v1M126.5 103v1M126.5 105v3M126.5 111v1M126.5 113v1M126.5 115v1M126.5 117v2M126.5 122v1M126.5 125v2M126.5 128v3M127.5 12v1M127.5 30v1M127.5 37v1M127.5 42v1M127.5 44v1M127.5 48v1M127.5 52v1M127.5 57v2M127.5 60v1M127.5 75v1M127.5 77v1M127.5 94v1M127.5 99v1M127.5 101v2M127.5 108v1M127.5 123v1M127.5 127v1M127.5 131v1M127.5 135v1M128.5 3v1M128.5 26v1M128.5 30v3M128.5 34v2M128.5 38v1M128.5 43v1M128.5 45v1M128.5 49v1M128.5 52v1M128.5 56v1M128.5 66v1M128.5 68v1M128.5 71v1M128.5 91v1M128.5 94v1M128.5 98v1M128.5 100v2M128.5 108v1M128.5 110v2M128.5 113v1M128.5 117v1M128.5 119v2M128.5 123v3M128.5 128v3M129.5 43v1M129.5 52v2M129.5 58v2M129.5 63v1M129.5 113v3M129.5 121v2M129.5 131v1M130.5 35v1M130.5 37v1M130.5 42v1M130.5 46v2M130.5 50v1M130.5 53v1M130.5 56v1M130.5 59v1M130.5 64v2M130.5 113v1M130.5 116v1M131.5 30v1M131.5 34v1M131.5 36v1M131.5 38v2M131.5 56v1M131.5 58v1M131.5 62v3M131.5 69v1M131.5 71v1M131.5 77v1M131.5 80v2M131.5 84v1M131.5 89v1M131.5 91v2M131.5 97v1M131.5 99v1M131.5 101v1M131.5 104v3M131.5 108v2M131.5 114v1M131.5 117v2M131.5 121v1M131.5 126v1M131.5 128v1M132.5 4v1M132.5 12v1M132.5 14v1M132.5 21v1M132.5 25v1M132.5 29v1M132.5 39v1M132.5 43v1M132.5 45v1M132.5 47v3M132.5 52v1M132.5 54v1M132.5 56v1M132.5 59v1M132.5 61v1M132.5 63v3M132.5 67v2M132.5 76v1M132.5 78v1M132.5 83v1M132.5 85v1M132.5 89v4M132.5 94v2M132.5 97v1M132.5 102v2M132.5 106v1M132.5 108v1M132.5 111v1M132.5 118v1M132.5 120v2M132.5 126v1M132.5 133v1M133.5 0v1M133.5 16v1M133.5 20v2M133.5 47v1M133.5 121v1M133.5 127v1M134.5 1v3M134.5 8v1M134.5 17v1M134.5 19v1M134.5 21v1M134.5 25v1M134.5 59v1M134.5 64v1M134.5 87v1M134.5 137v1M135.5 4v1M135.5 9v1M135.5 16v1M135.5 23v1M136.5 0v1M136.5 8v1M136.5 10v1M136.5 13v1M136.5 15v2M136.5 19v1M136.5 22v1M136.5 135v1M137.5 0v3M137.5 16v1M137.5 18v1M137.5 23v1M137.5 139v1M138.5 3v2M138.5 20v1M138.5 23v2M138.5 26v2M138.5 138v1M139.5 8v1M139.5 11v2M139.5 17v1M139.5 23v1M140.5 11v1M140.5 15v1M140.5 34v1M140.5 134v1M140.5 138v1M142.5 7v1M142.5 12v1M142.5 22v1M142.5 134v2M142.5 138v1M143.5 1v1M143.5 6v1M143.5 14v1M143.5 26v1M144.5 0v2M144.5 4v1M144.5 8v1M144.5 11v1M144.5 18v1M144.5 20v1M144.5 23v1M144.5 25v2M144.5 132v1M144.5 139v1M145.5 5v1M145.5 10v2M145.5 15v1M145.5 17v1M145.5 19v1M145.5 67v1M145.5 87v1M145.5 120v1M145.5 123v1M145.5 137v2M146.5 0v1M146.5 2v2M146.5 6v7M146.5 18v1M146.5 22v1M146.5 24v2M146.5 27v1M146.5 135v1M147.5 8v1M147.5 10v1M147.5 12v1M147.5 20v1M147.5 26v1M147.5 134v1M147.5 139v1M148.5 18v1M148.5 33v1M148.5 120v1M148.5 138v1M149.5 12v1M149.5 14v1M149.5 24v1M149.5 38v1M149.5 89v1M150.5 0v1M150.5 4v1M150.5 6v2M150.5 14v1M150.5 27v1M150.5 132v1M150.5 139v1M151.5 0v1M151.5 2v1M151.5 5v1M151.5 12v1M151.5 20v1M151.5 25v1M151.5 133v1M152.5 4v1M152.5 9v1M152.5 17v1M152.5 19v1M152.5 139v1M153.5 23v1M153.5 139v1M154.5 0v1M154.5 5v1M154.5 8v5M154.5 14v1M154.5 16v1M154.5 18v3M154.5 22v1M154.5 26v1M155.5 136v1M156.5 4v1M156.5 7v1M156.5 9v2M156.5 13v2M156.5 16v6M156.5 25v1M156.5 116v1M156.5 138v1M157.5 2v1M157.5 12v2M157.5 16v2M157.5 19v2M157.5 24v2M157.5 129v1M157.5 139v1M158.5 1v1M158.5 3v1M158.5 21v1M158.5 137v1M159.5 2v1M159.5 13v1M159.5 16v1M159.5 137v1M159.5 139v1M160.5 0v1M160.5 2v1M160.5 5v6M160.5 12v1M160.5 14v1M160.5 20v1M160.5 25v1M160.5 27v2M160.5 53v1M160.5 63v1M161.5 1v1M161.5 6v1M161.5 8v1M161.5 12v1M161.5 15v2M161.5 18v1M161.5 134v1M161.5 136v1M162.5 19v1M162.5 138v1M163.5 3v1M163.5 7v1M163.5 10v2M163.5 14v1M163.5 16v3M163.5 20v1M163.5 25v1M163.5 134v1M164.5 11v1M165.5 11v1M166.5 0v2M166.5 3v1M166.5 5v1M166.5 9v1M166.5 11v1M166.5 20v1M166.5 22v1M166.5 26v2M167.5 6v1M167.5 8v1M167.5 14v1M167.5 27v1M169.5 1v2M169.5 5v1M169.5 8v1M169.5 11v3M169.5 16v1M169.5 19v2M169.5 22v1M169.5 24v1M169.5 26v1M169.5 30v1M169.5 38v1M169.5 47v1M169.5 66v1M169.5 85v1M169.5 105v1M169.5 117v1M169.5 128v1M169.5 138v2M170.5 6v1M170.5 11v1M170.5 16v1M170.5 20v1M170.5 23v1M170.5 26v3M170.5 134v1M171.5 12v1M171.5 16v1M172.5 17v1M173.5 0v1M173.5 4v1M173.5 16v1M173.5 22v1M173.5 132v1M173.5 135v1M173.5 139v1M174.5 0v1M174.5 2v3M174.5 6v1M174.5 9v1M174.5 11v1M174.5 19v2M174.5 23v1M174.5 25v2M174.5 138v1M175.5 2v1M175.5 11v1M175.5 15v1M175.5 18v1M175.5 21v1M175.5 25v1M175.5 134v1M175.5 137v1M176.5 0v1M176.5 4v3M176.5 13v2M176.5 20v1M176.5 25v1M176.5 63v1M176.5 87v1M176.5 128v1M176.5 132v1M177.5 0v2M178.5 2v1M178.5 5v1M178.5 11v1M178.5 13v2M178.5 22v2M178.5 25v2M178.5 138v1M179.5 0v1M179.5 2v4M179.5 14v1M179.5 16v1M179.5 26v1M179.5 65v1M179.5 134v1M180.5 1v1M180.5 7v1M180.5 14v1M180.5 20v2M181.5 1v1M181.5 3v1M181.5 6v2M181.5 14v1M181.5 17v1M181.5 23v1M181.5 131v1M181.5 133v1M182.5 2v1M182.5 4v1M182.5 11v1M182.5 16v1M182.5 22v1M182.5 49v1M182.5 119v1M182.5 134v1M183.5 1v4M183.5 6v2M183.5 9v1M183.5 11v1M183.5 13v1M183.5 17v1M183.5 20v1M183.5 25v1M184.5 15v2M185.5 7v1M185.5 20v1M185.5 138v2"/>
<path stroke="#f7f7f7" d="M0.5 0v1M0.5 2v2M0.5 8v2M0.5 15v1M0.5 21v1M0.5 27v6M0.5 36v2M0.5 43v1M0.5 46v3M0.5 52v2M0.5 55v1M0.5 57v1M0.5 60v1M0.5 63v1M0.5 66v2M0.5 70v1M0.5 74v1M0.5 78v3M0.5 84v6M0.5 93v2M0.5 97v1M0.5 99v1M0.5 101v1M0.5 104v1M0.5 107v3M0.5 115v1M0.5 118v3M0.5 124v1M0.5 127v1M0.5 131v2M0.5 139v1M1.5 0v2M1.5 7v1M1.5 23v1M1.5 26v1M1.5 29v3M1.5 33v1M1.5 38v1M1.5 41v1M1.5 43v1M1.5 46v1M1.5 48v1M1.5 51v3M1.5 55v1M1.5 66v1M1.5 73v1M1.5 76v1M1.5 79v2M1.5 83v1M1.5 88v1M1.5 91v2M1.5 94v1M1.5 101v1M1.5 109v4M1.5 114v2M1.5 123v1M1.5 125v2M1.5 128v2M1.5 132v1M1.5 134v1M2.5 1v1M2.5 4v1M2.5 7v3M2.5 15v1M2.5 17v1M2.5 21v5M2.5 27v5M2.5 38v1M2.5 42v1M2.5 44v2M2.5 53v1M2.5 55v1M2.5 68v1M2.5 70v1M2.5 79v1M2.5 81v1M2.5 95v1M2.5 97v1M2.5 101v1M2.5 104v1M2.5 109v1M2.5 111v1M2.5 115v1M2.5 117v3M2.5 122v1M2.5 124v1M2.5 130v1M2.5 139v1M3.5 0v1M3.5 5v3M3.5 35v2M3.5 40v1M3.5 42v1M3.5 44v3M3.5 49v1M3.5 52v2M3.5 59v5M3.5 65v1M3.5 67v1M3.5 70v1M3.5 72v4M3.5 77v3M3.5 82v2M3.5 92v4M3.5 99v1M3.5 101v2M3.5 104v1M3.5 109v1M3.5 111v1M3.5 115v2M3.5 118v2M3.5 122v2M3.5 125v4M3.5 130v1M3.5 137v1M4.5 1v1M4.5 3v1M4.5 6v1M4.5 8v1M4.5 11v1M4.5 13v1M4.5 23v3M4.5 28v2M4.5 75v1M4.5 131v1M4.5 133v2M5.5 0v3M5.5 5v2M5.5 20v1M5.5 22v2M5.5 28v1M5.5 30v2M5.5 36v6M5.5 45v3M5.5 52v1M5.5 61v3M5.5 66v1M5.5 68v1M5.5 71v1M5.5 76v2M5.5 80v2M5.5 89v1M5.5 91v1M5.5 94v4M5.5 103v1M5.5 106v2M5.5 110v2M5.5 114v1M5.5 116v2M5.5 119v2M5.5 123v1M5.5 126v1M5.5 133v1M6.5 0v1M6.5 6v1M6.5 9v2M6.5 14v1M6.5 16v1M6.5 22v1M6.5 24v1M6.5 28v4M6.5 33v1M6.5 39v2M6.5 42v1M6.5 46v2M6.5 51v1M6.5 53v5M6.5 59v2M6.5 62v2M6.5 66v1M6.5 74v2M6.5 78v1M6.5 80v1M6.5 84v1M6.5 87v6M6.5 95v1M6.5 97v1M6.5 102v1M6.5 105v2M6.5 108v2M6.5 114v1M6.5 117v1M6.5 120v1M6.5 122v1M6.5 129v1M6.5 131v1M6.5 135v1M7.5 0v1M7.5 2v4M7.5 10v1M7.5 12v1M7.5 14v2M7.5 18v1M7.5 22v2M7.5 52v1M7.5 55v1M7.5 79v1M7.5 86v1M7.5 138v1M8.5 1v1M8.5 3v1M8.5 9v2M8.5 16v2M8.5 22v4M8.5 28v2M8.5 44v3M8.5 49v1M8.5 51v2M8.5 54v1M8.5 58v1M8.5 67v1M8.5 74v1M8.5 84v1M8.5 91v1M8.5 93v2M8.5 106v1M8.5 108v1M8.5 114v1M8.5 122v1M8.5 125v1M8.5 128v1M8.5 132v1M8.5 137v1M9.5 1v1M9.5 27v1M9.5 32v1M9.5 34v1M9.5 38v1M9.5 40v2M9.5 44v1M9.5 47v1M9.5 49v1M9.5 52v2M9.5 58v2M9.5 61v2M9.5 65v2M9.5 68v1M9.5 70v1M9.5 73v1M9.5 76v2M9.5 79v1M9.5 81v1M9.5 83v1M9.5 89v1M9.5 91v2M9.5 94v1M9.5 97v3M9.5 102v1M9.5 109v1M9.5 112v1M9.5 115v1M9.5 117v2M9.5 120v2M9.5 123v2M9.5 127v4M10.5 7v1M10.5 14v1M10.5 16v1M10.5 18v1M10.5 22v1M10.5 26v1M10.5 36v1M10.5 42v2M10.5 48v1M10.5 68v2M10.5 77v1M10.5 81v1M10.5 87v1M10.5 91v3M10.5 95v1M10.5 99v1M10.5 103v2M10.5 107v1M10.5 111v1M10.5 114v1M10.5 117v2M10.5 120v1M10.5 126v1M10.5 129v1M10.5 134v2M11.5 0v1M11.5 3v2M11.5 9v2M11.5 12v2M11.5 17v1M11.5 20v1M11.5 22v2M11.5 28v1M11.5 35v2M11.5 40v1M11.5 45v1M11.5 48v1M11.5 57v1M11.5 59v1M11.5 67v1M11.5 70v1M11.5 72v1M11.5 79v1M11.5 87v1M11.5 89v1M11.5 91v2M11.5 102v1M11.5 105v2M11.5 112v1M11.5 114v1M11.5 119v2M11.5 128v1M11.5 130v1M11.5 133v1M11.5 138v1M12.5 1v4M12.5 6v2M12.5 9v2M12.5 12v1M12.5 14v3M12.5 23v1M12.5 51v1M12.5 53v1M12.5 55v1M12.5 57v1M12.5 59v1M12.5 69v1M12.5 84v1M12.5 86v1M12.5 96v1M12.5 119v1M12.5 128v1M12.5 130v1M12.5 137v2M13.5 0v1M13.5 4v1M13.5 6v2M13.5 15v1M13.5 17v1M13.5 21v8M13.5 30v1M13.5 35v1M13.5 41v1M13.5 50v1M13.5 61v1M13.5 68v2M13.5 80v1M13.5 83v1M13.5 104v1M13.5 110v3M13.5 117v1M13.5 137v2M14.5 1v1M14.5 6v1M14.5 9v1M14.5 12v1M14.5 15v1M14.5 27v1M14.5 72v1M14.5 113v1M14.5 126v1M14.5 132v1M14.5 138v1M15.5 2v2M15.5 5v2M15.5 9v1M15.5 23v1M15.5 26v1M15.5 34v2M15.5 41v1M15.5 55v1M15.5 68v1M15.5 70v1M15.5 87v1M15.5 90v1M15.5 98v1M15.5 103v1M15.5 107v1M15.5 111v3M15.5 116v1M15.5 138v1M16.5 1v1M16.5 8v1M16.5 10v2M16.5 33v1M16.5 48v1M16.5 88v2M16.5 91v1M16.5 94v2M16.5 97v2M16.5 103v1M16.5 121v1M16.5 135v1M17.5 0v1M17.5 5v1M17.5 10v1M17.5 13v1M17.5 18v1M17.5 30v3M17.5 34v1M17.5 36v2M17.5 39v1M17.5 46v3M17.5 51v1M17.5 54v2M17.5 66v1M17.5 73v1M17.5 77v1M17.5 80v1M17.5 86v2M17.5 98v1M17.5 104v1M17.5 106v1M17.5 116v3M17.5 120v3M17.5 127v1M17.5 129v1M17.5 131v1M17.5 136v1M17.5 138v2M18.5 1v1M18.5 4v2M18.5 11v1M18.5 13v3M18.5 17v1M18.5 19v1M18.5 24v1M18.5 26v2M18.5 32v1M18.5 35v1M18.5 42v1M18.5 46v2M18.5 51v1M18.5 53v1M18.5 64v2M18.5 68v1M18.5 71v2M18.5 74v1M18.5 76v2M18.5 81v1M18.5 84v1M18.5 87v1M18.5 104v1M18.5 125v1M18.5 130v1M18.5 133v1M19.5 6v1M19.5 12v1M19.5 21v1M19.5 23v2M19.5 28v3M19.5 35v1M19.5 38v1M19.5 43v1M19.5 48v2M19.5 63v2M19.5 67v1M19.5 71v1M19.5 81v2M19.5 89v1M19.5 92v1M19.5 99v2M19.5 102v1M19.5 105v1M19.5 107v1M19.5 122v1M19.5 137v1M20.5 4v3M20.5 8v1M20.5 11v1M20.5 15v2M20.5 24v3M20.5 29v1M20.5 34v1M20.5 51v1M20.5 55v1M20.5 57v1M20.5 59v1M20.5 61v1M20.5 63v1M20.5 67v1M20.5 74v3M20.5 78v1M20.5 82v1M20.5 85v1M20.5 89v1M20.5 98v1M20.5 101v1M20.5 105v1M20.5 108v1M20.5 117v1M20.5 123v1M20.5 128v1M20.5 130v1M20.5 133v1M21.5 4v1M21.5 9v1M21.5 13v1M21.5 24v2M21.5 31v2M21.5 35v1M21.5 37v1M21.5 41v2M21.5 46v1M21.5 48v1M21.5 50v2M21.5 53v1M21.5 60v1M21.5 63v2M21.5 67v2M21.5 71v1M21.5 74v1M21.5 83v1M21.5 93v1M21.5 101v3M21.5 105v1M21.5 107v1M21.5 116v5M21.5 124v1M21.5 126v1M21.5 131v1M22.5 5v2M22.5 8v1M22.5 12v1M22.5 15v2M22.5 18v1M22.5 24v2M22.5 47v1M22.5 49v1M22.5 54v1M22.5 56v1M22.5 63v1M22.5 68v2M22.5 74v1M22.5 82v1M22.5 89v1M22.5 93v1M22.5 96v1M22.5 103v4M22.5 108v1M22.5 117v1M22.5 137v1M23.5 0v1M23.5 2v4M23.5 7v1M23.5 11v2M23.5 17v1M23.5 21v1M23.5 23v1M23.5 26v2M23.5 43v1M23.5 45v2M23.5 49v2M23.5 58v1M23.5 63v2M23.5 69v1M23.5 73v1M23.5 83v2M23.5 86v1M23.5 88v1M23.5 99v1M23.5 102v1M23.5 105v1M23.5 108v1M23.5 110v1M23.5 119v1M23.5 124v1M23.5 126v1M23.5 131v1M23.5 139v1M24.5 0v1M24.5 2v2M24.5 5v3M24.5 14v2M24.5 19v1M24.5 24v1M24.5 27v1M24.5 30v2M24.5 34v1M24.5 38v1M24.5 46v1M24.5 49v1M24.5 51v3M24.5 59v1M24.5 63v1M24.5 66v3M24.5 74v1M24.5 80v1M24.5 87v1M24.5 94v1M24.5 98v2M24.5 101v1M24.5 104v3M24.5 109v1M24.5 111v1M24.5 114v1M24.5 117v1M24.5 119v1M24.5 126v6M24.5 133v1M25.5 2v1M25.5 12v1M25.5 22v1M25.5 27v1M25.5 31v1M25.5 37v1M25.5 42v1M25.5 44v1M25.5 46v3M25.5 51v1M25.5 57v3M25.5 63v2M25.5 67v1M25.5 75v1M25.5 77v1M25.5 82v2M25.5 87v3M25.5 94v2M25.5 99v1M25.5 101v1M25.5 103v3M25.5 107v1M25.5 109v1M25.5 114v1M25.5 116v1M25.5 118v2M25.5 121v1M25.5 123v1M25.5 127v2M25.5 130v2M25.5 135v1M25.5 139v1M26.5 6v1M26.5 8v1M26.5 11v1M26.5 15v2M26.5 18v1M26.5 27v1M26.5 30v2M26.5 33v2M26.5 41v1M26.5 46v1M26.5 49v2M26.5 58v1M26.5 64v3M26.5 69v1M26.5 74v1M26.5 85v1M26.5 92v1M26.5 95v2M26.5 99v1M26.5 101v1M26.5 103v1M26.5 108v2M26.5 113v1M26.5 118v1M26.5 121v1M26.5 128v1M26.5 130v1M27.5 0v1M27.5 3v1M27.5 5v1M27.5 13v1M27.5 18v1M27.5 23v1M27.5 28v1M27.5 35v2M27.5 44v1M27.5 47v1M27.5 50v2M27.5 56v2M27.5 83v1M27.5 87v1M27.5 92v1M27.5 109v1M27.5 115v1M27.5 119v1M27.5 133v3M27.5 137v1M28.5 0v1M28.5 3v1M28.5 5v1M28.5 9v3M28.5 13v1M28.5 17v1M28.5 19v1M28.5 23v1M28.5 25v2M28.5 28v3M28.5 32v1M28.5 35v1M28.5 37v1M28.5 41v2M28.5 44v1M28.5 47v1M28.5 49v2M28.5 53v1M28.5 55v1M28.5 71v3M28.5 76v1M28.5 79v1M28.5 86v1M28.5 89v1M28.5 92v1M28.5 95v1M28.5 103v2M28.5 107v2M28.5 111v1M28.5 113v3M28.5 118v3M28.5 127v3M28.5 131v1M28.5 134v1M29.5 1v1M29.5 6v1M29.5 9v1M29.5 15v2M29.5 19v1M29.5 22v1M29.5 26v1M29.5 28v1M29.5 30v1M29.5 68v1M29.5 76v1M29.5 81v1M29.5 95v2M29.5 98v2M29.5 113v1M29.5 117v1M29.5 128v1M30.5 2v1M30.5 5v1M30.5 10v2M30.5 13v1M30.5 16v1M30.5 18v1M30.5 21v2M30.5 27v3M30.5 34v1M30.5 38v1M30.5 40v2M30.5 44v3M30.5 49v1M30.5 53v2M30.5 58v1M30.5 63v1M30.5 71v1M30.5 74v1M30.5 77v3M30.5 82v1M30.5 85v1M30.5 87v2M30.5 90v1M30.5 92v1M30.5 97v1M30.5 99v1M30.5 101v4M30.5 110v2M30.5 113v1M30.5 115v1M30.5 117v1M30.5 120v4M30.5 129v3M30.5 138v2M31.5 3v1M31.5 8v1M31.5 20v1M31.5 23v1M31.5 52v1M31.5 54v2M31.5 60v4M31.5 67v2M31.5 70v2M31.5 75v2M31.5 79v2M31.5 82v2M31.5 85v1M31.5 89v1M31.5 108v1M31.5 111v2M31.5 116v3M31.5 121v2M31.5 126v3M31.5 131v1M32.5 0v1M32.5 7v1M32.5 9v1M32.5 12v1M32.5 15v1M32.5 21v1M32.5 23v1M32.5 25v4M32.5 43v1M32.5 82v1M32.5 126v1M32.5 132v2M33.5 0v1M33.5 3v2M33.5 8v1M33.5 10v1M33.5 17v2M33.5 21v1M33.5 24v1M33.5 135v1M33.5 137v1M34.5 17v1M34.5 25v1M34.5 53v3M34.5 57v2M34.5 61v2M34.5 65v1M34.5 131v2M34.5 136v1M35.5 7v1M35.5 12v1M35.5 18v1M35.5 21v1M35.5 26v3M35.5 49v1M35.5 52v1M36.5 0v1M36.5 14v1M36.5 19v1M36.5 24v1M36.5 27v1M36.5 52v1M36.5 132v1M37.5 0v1M37.5 3v2M37.5 14v1M37.5 16v1M37.5 27v1M37.5 51v1M37.5 132v2M37.5 137v2M38.5 1v2M38.5 4v1M38.5 11v1M38.5 16v3M38.5 20v2M38.5 25v1M38.5 54v1M38.5 57v1M38.5 63v1M38.5 118v1M38.5 129v1M38.5 134v1M38.5 137v1M39.5 0v1M39.5 15v5M39.5 22v1M39.5 27v2M39.5 133v1M39.5 136v1M40.5 0v1M40.5 4v3M40.5 8v1M40.5 18v2M40.5 23v1M40.5 27v2M40.5 134v1M41.5 4v2M41.5 15v3M41.5 19v1M41.5 23v1M41.5 26v1M41.5 28v1M41.5 37v1M41.5 51v1M41.5 55v1M41.5 59v1M41.5 66v1M41.5 124v1M41.5 136v1M42.5 0v1M42.5 2v1M42.5 5v1M42.5 7v1M42.5 12v2M42.5 18v3M42.5 24v3M42.5 65v1M42.5 132v2M43.5 6v1M43.5 12v1M43.5 15v1M43.5 20v1M43.5 26v1M43.5 58v1M43.5 60v1M43.5 64v1M43.5 115v1M43.5 137v1M43.5 139v1M44.5 10v3M44.5 16v2M44.5 20v1M44.5 22v1M44.5 28v1M44.5 51v1M44.5 61v1M44.5 64v1M44.5 134v1M44.5 136v1M45.5 0v2M45.5 4v1M45.5 6v1M45.5 11v1M45.5 14v1M45.5 19v1M45.5 22v3M45.5 28v1M45.5 33v1M45.5 36v1M45.5 45v2M45.5 48v1M45.5 56v1M45.5 58v2M45.5 62v1M45.5 66v1M45.5 68v1M45.5 70v1M45.5 84v2M45.5 94v1M45.5 109v1M45.5 117v2M45.5 126v1M45.5 129v1M46.5 1v1M46.5 8v1M46.5 10v1M46.5 12v1M46.5 17v2M46.5 20v1M46.5 26v1M46.5 53v1M46.5 136v1M47.5 18v1M47.5 28v1M47.5 88v1M47.5 133v2M47.5 136v1M48.5 2v1M48.5 4v1M48.5 8v1M48.5 10v1M48.5 21v1M48.5 24v3M48.5 138v1M49.5 0v2M49.5 4v4M49.5 13v1M49.5 18v2M49.5 22v2M49.5 27v2M49.5 49v1M49.5 52v1M49.5 54v1M49.5 60v2M50.5 0v1M50.5 12v1M50.5 15v1M50.5 17v2M50.5 20v1M50.5 26v2M50.5 138v2M51.5 5v1M51.5 19v1M51.5 24v1M51.5 34v1M51.5 39v1M51.5 45v3M51.5 51v3M51.5 68v1M51.5 73v2M51.5 84v2M51.5 95v1M51.5 98v3M51.5 104v1M51.5 112v1M51.5 115v2M51.5 121v2M51.5 124v2M51.5 134v1M51.5 138v1M52.5 11v1M52.5 17v3M52.5 26v1M52.5 30v1M52.5 33v1M52.5 35v3M52.5 39v3M52.5 44v1M52.5 46v1M52.5 48v1M52.5 50v2M52.5 54v1M52.5 56v2M52.5 59v1M52.5 62v2M52.5 65v1M52.5 68v1M52.5 72v2M52.5 75v1M52.5 78v2M52.5 82v1M52.5 84v4M52.5 89v1M52.5 91v1M52.5 98v1M52.5 102v1M52.5 104v1M52.5 106v1M52.5 108v2M52.5 111v2M52.5 116v1M52.5 119v7M52.5 127v1M52.5 131v1M53.5 1v1M53.5 19v2M53.5 24v1M53.5 28v1M53.5 31v3M53.5 35v1M53.5 40v1M53.5 44v1M53.5 48v1M53.5 50v2M53.5 56v3M53.5 63v1M53.5 66v1M53.5 75v1M53.5 81v2M53.5 86v1M53.5 91v1M53.5 95v1M53.5 97v1M53.5 101v2M53.5 104v2M53.5 113v2M53.5 119v2M53.5 126v1M53.5 133v2M53.5 136v1M53.5 138v1M54.5 2v1M54.5 10v2M54.5 23v1M54.5 25v1M54.5 27v5M54.5 34v1M54.5 38v1M54.5 40v1M54.5 42v1M54.5 45v1M54.5 49v1M54.5 51v2M54.5 59v2M54.5 62v1M54.5 67v1M54.5 85v1M54.5 87v1M54.5 89v1M54.5 91v1M54.5 95v1M54.5 97v1M54.5 99v1M54.5 101v1M54.5 104v1M54.5 108v1M54.5 111v1M54.5 113v1M54.5 118v4M54.5 123v1M54.5 125v1M54.5 128v2M55.5 0v1M55.5 5v1M55.5 8v2M55.5 16v3M55.5 22v1M55.5 26v2M55.5 29v1M55.5 33v1M55.5 38v1M55.5 41v1M55.5 43v1M55.5 46v1M55.5 54v1M55.5 56v1M55.5 68v1M55.5 70v2M55.5 75v1M55.5 78v1M55.5 84v1M55.5 98v1M55.5 108v1M55.5 111v1M55.5 115v1M55.5 119v1M55.5 122v1M55.5 127v2M55.5 130v1M55.5 133v1M55.5 136v1M55.5 138v2M56.5 5v1M56.5 8v2M56.5 13v1M56.5 16v3M56.5 23v1M56.5 26v1M56.5 31v1M56.5 55v1M56.5 57v1M56.5 63v1M56.5 83v1M56.5 98v1M56.5 101v1M56.5 109v1M56.5 114v1M56.5 126v1M56.5 130v1M56.5 133v1M56.5 136v1M56.5 139v1M57.5 0v1M57.5 6v1M57.5 41v1M57.5 43v1M57.5 53v1M57.5 61v2M57.5 65v1M57.5 80v1M57.5 84v1M57.5 89v1M57.5 103v1M57.5 111v1M57.5 114v1M57.5 120v2M57.5 135v1M58.5 3v1M58.5 8v1M58.5 10v1M58.5 15v1M58.5 21v1M58.5 28v2M58.5 35v1M58.5 37v1M58.5 41v1M58.5 44v5M58.5 52v1M58.5 54v2M58.5 58v1M58.5 60v1M58.5 64v1M58.5 68v2M58.5 77v1M58.5 84v2M58.5 88v1M58.5 92v1M58.5 94v1M58.5 97v1M58.5 99v2M58.5 102v2M58.5 110v1M58.5 112v1M58.5 116v1M58.5 123v1M58.5 129v1M58.5 131v1M58.5 135v1M58.5 137v1M58.5 139v1M59.5 11v2M59.5 14v1M59.5 17v1M59.5 21v2M59.5 24v2M59.5 27v1M59.5 72v1M59.5 79v1M59.5 103v1M59.5 106v1M59.5 111v1M59.5 127v1M59.5 132v1M59.5 138v1M60.5 0v1M60.5 2v1M60.5 30v2M60.5 33v1M60.5 36v2M60.5 39v5M60.5 45v3M60.5 49v2M60.5 54v1M60.5 58v1M60.5 61v1M60.5 63v3M60.5 67v3M60.5 71v1M60.5 76v2M60.5 79v5M60.5 85v2M60.5 92v2M60.5 96v1M60.5 98v4M60.5 103v2M60.5 108v1M60.5 111v2M60.5 114v1M60.5 121v1M60.5 123v1M60.5 126v2M60.5 129v3M60.5 135v1M60.5 139v1M61.5 0v1M61.5 3v2M61.5 11v2M61.5 16v6M61.5 24v1M61.5 51v2M61.5 55v1M61.5 59v1M61.5 62v3M61.5 66v2M61.5 71v1M61.5 73v2M61.5 76v2M61.5 93v1M61.5 103v1M61.5 105v1M61.5 109v1M61.5 111v3M61.5 115v1M61.5 118v4M61.5 124v1M61.5 126v1M61.5 131v1M61.5 134v3M62.5 19v1M62.5 21v1M62.5 28v1M62.5 53v1M62.5 132v2M63.5 13v1M63.5 15v5M63.5 22v3M63.5 26v1M63.5 28v1M63.5 32v1M63.5 34v1M63.5 36v1M63.5 38v3M63.5 46v1M63.5 132v1M63.5 137v1M64.5 1v1M64.5 6v1M64.5 9v1M64.5 12v1M64.5 16v1M64.5 19v1M64.5 24v2M64.5 78v1M64.5 84v1M64.5 103v1M65.5 0v1M65.5 2v1M65.5 6v2M65.5 15v1M65.5 19v1M65.5 21v2M65.5 28v1M65.5 60v1M65.5 62v1M65.5 64v2M65.5 69v1M65.5 75v2M65.5 80v1M65.5 82v1M65.5 93v1M65.5 95v1M65.5 99v1M65.5 102v1M65.5 107v1M65.5 110v1M65.5 117v1M65.5 121v1M65.5 133v1M65.5 135v1M65.5 138v1M66.5 6v1M66.5 8v1M66.5 12v1M66.5 15v2M66.5 24v2M66.5 28v1M66.5 133v1M66.5 138v1M67.5 2v1M67.5 4v2M67.5 7v3M67.5 12v1M67.5 17v1M67.5 19v1M67.5 23v1M67.5 27v3M67.5 31v1M67.5 34v2M67.5 37v1M67.5 41v2M67.5 44v3M67.5 48v5M67.5 54v1M67.5 57v2M67.5 67v2M67.5 70v1M67.5 74v1M67.5 79v1M67.5 81v2M67.5 84v2M67.5 88v1M67.5 91v2M67.5 95v1M67.5 98v1M67.5 102v1M67.5 105v2M67.5 108v2M67.5 112v3M67.5 116v3M67.5 122v7M67.5 130v1M68.5 1v3M68.5 23v1M68.5 26v1M68.5 28v1M68.5 30v2M68.5 33v1M68.5 36v2M68.5 39v1M68.5 41v2M68.5 47v1M68.5 52v2M68.5 55v1M68.5 67v1M68.5 73v2M68.5 78v1M68.5 80v1M68.5 89v1M68.5 95v2M68.5 99v1M68.5 108v1M68.5 115v2M68.5 119v2M68.5 122v1M68.5 124v1M68.5 126v1M68.5 134v2M69.5 0v1M69.5 2v1M69.5 7v2M69.5 10v1M69.5 17v2M69.5 20v2M69.5 24v1M69.5 26v1M69.5 132v3M69.5 136v1M69.5 139v1M70.5 3v2M70.5 6v1M70.5 8v1M70.5 10v1M70.5 16v1M70.5 19v2M70.5 22v1M70.5 27v2M70.5 32v1M70.5 40v1M70.5 44v1M70.5 52v1M70.5 68v1M70.5 71v1M70.5 84v1M70.5 94v1M70.5 110v1M70.5 135v1M71.5 1v2M71.5 4v1M71.5 10v3M71.5 27v2M71.5 52v2M71.5 55v2M71.5 59v1M71.5 61v4M71.5 66v1M71.5 69v1M71.5 78v1M71.5 93v2M71.5 112v3M71.5 116v3M71.5 120v1M71.5 123v1M71.5 132v1M71.5 136v1M71.5 139v1M72.5 2v1M72.5 7v1M72.5 15v2M72.5 27v1M72.5 53v1M72.5 55v1M72.5 57v1M72.5 66v2M72.5 115v2M72.5 133v1M73.5 0v3M73.5 28v1M73.5 34v1M73.5 38v1M73.5 40v1M73.5 42v1M73.5 44v2M73.5 56v1M73.5 59v1M73.5 66v1M73.5 71v1M73.5 74v1M73.5 77v1M73.5 83v2M73.5 87v1M73.5 92v1M73.5 99v1M73.5 104v1M73.5 107v1M73.5 111v3M73.5 118v1M73.5 127v2M73.5 130v1M73.5 138v1M74.5 0v1M74.5 4v2M74.5 24v3M74.5 133v1M74.5 135v1M74.5 137v1M75.5 3v1M75.5 12v1M75.5 14v1M75.5 17v1M75.5 22v1M75.5 24v4M75.5 31v1M75.5 133v2M75.5 137v2M76.5 3v2M76.5 7v1M76.5 9v2M76.5 24v1M76.5 28v1M76.5 30v1M76.5 32v1M76.5 36v1M76.5 38v2M76.5 42v1M76.5 48v1M76.5 51v1M76.5 53v1M76.5 60v2M76.5 65v1M76.5 67v1M76.5 70v1M76.5 73v1M76.5 75v1M76.5 80v1M76.5 84v1M76.5 99v1M76.5 109v1M76.5 111v1M76.5 115v1M76.5 119v1M76.5 122v2M76.5 127v1M76.5 129v2M76.5 132v1M77.5 1v2M77.5 4v1M77.5 7v1M77.5 10v1M77.5 14v1M77.5 17v1M77.5 19v1M77.5 23v1M77.5 25v1M77.5 29v3M77.5 34v2M77.5 37v1M77.5 42v2M77.5 46v1M77.5 48v1M77.5 50v1M77.5 53v1M77.5 56v3M77.5 60v1M77.5 62v1M77.5 70v1M77.5 72v7M77.5 85v2M77.5 90v2M77.5 94v2M77.5 97v2M77.5 101v1M77.5 105v1M77.5 107v2M77.5 111v1M77.5 113v1M77.5 116v3M77.5 120v3M77.5 125v2M77.5 129v2M77.5 136v1M78.5 11v2M78.5 17v1M78.5 23v1M78.5 29v2M78.5 37v2M78.5 40v2M78.5 46v1M78.5 48v1M78.5 51v1M78.5 55v1M78.5 65v2M78.5 68v1M78.5 73v1M78.5 77v1M78.5 81v1M78.5 83v1M78.5 85v1M78.5 89v3M78.5 94v3M78.5 100v2M78.5 105v1M78.5 113v2M78.5 118v1M78.5 120v2M78.5 124v1M78.5 129v1M78.5 131v1M78.5 136v1M79.5 6v2M79.5 26v1M79.5 28v1M80.5 1v2M80.5 27v1M80.5 31v1M80.5 33v1M80.5 35v1M80.5 41v1M80.5 43v1M80.5 46v2M80.5 53v1M80.5 59v2M80.5 63v1M80.5 68v1M80.5 76v1M80.5 84v1M80.5 91v1M80.5 99v1M80.5 102v1M80.5 110v1M80.5 115v1M80.5 123v1M80.5 125v1M80.5 127v1M80.5 132v1M80.5 134v1M81.5 23v3M81.5 27v3M81.5 32v1M81.5 37v1M81.5 41v1M81.5 43v1M81.5 51v2M81.5 54v1M81.5 60v1M81.5 67v1M81.5 70v1M81.5 72v1M81.5 76v2M81.5 83v1M81.5 88v1M81.5 97v1M81.5 105v3M81.5 119v1M81.5 124v2M81.5 127v2M81.5 131v1M81.5 133v2M81.5 136v1M82.5 2v1M82.5 4v3M82.5 13v1M82.5 16v1M82.5 20v2M82.5 24v1M82.5 51v1M82.5 57v1M82.5 132v2M83.5 1v1M83.5 4v2M83.5 10v1M83.5 12v1M83.5 20v1M83.5 22v1M83.5 42v1M83.5 44v1M83.5 63v1M83.5 65v1M83.5 67v1M83.5 92v1M83.5 127v1M84.5 0v1M84.5 25v1M84.5 27v1M84.5 35v1M84.5 44v1M84.5 46v1M84.5 103v1M84.5 125v1M84.5 135v1M85.5 14v1M85.5 16v1M85.5 24v1M85.5 26v1M85.5 31v1M85.5 41v1M85.5 44v1M85.5 48v2M85.5 66v1M85.5 85v1M85.5 90v1M85.5 92v1M85.5 103v1M85.5 105v2M85.5 111v1M86.5 0v1M86.5 4v3M86.5 10v1M86.5 12v1M86.5 16v1M86.5 18v1M86.5 21v1M86.5 26v2M86.5 31v1M86.5 33v1M86.5 40v1M86.5 59v1M86.5 68v1M86.5 81v1M86.5 93v1M86.5 102v1M86.5 110v1M86.5 114v1M86.5 118v1M86.5 121v1M86.5 136v1M87.5 0v1M87.5 2v1M87.5 5v1M87.5 16v1M87.5 25v1M87.5 59v1M87.5 64v1M87.5 70v1M87.5 77v1M87.5 80v1M87.5 133v1M88.5 1v2M88.5 9v1M88.5 12v4M88.5 20v3M88.5 24v2M88.5 27v1M88.5 30v1M88.5 33v1M88.5 36v1M88.5 39v1M88.5 42v2M88.5 45v2M88.5 48v6M88.5 55v3M88.5 60v2M88.5 65v1M88.5 70v1M88.5 72v1M88.5 75v1M88.5 77v1M88.5 79v2M88.5 82v1M88.5 84v2M88.5 90v1M88.5 94v2M88.5 98v2M88.5 101v3M88.5 106v4M88.5 111v1M88.5 116v1M88.5 118v3M88.5 125v1M88.5 129v3M88.5 139v1M89.5 1v3M89.5 9v2M89.5 17v1M89.5 21v1M89.5 23v1M89.5 25v1M89.5 27v4M89.5 32v2M89.5 36v10M89.5 47v1M89.5 49v2M89.5 52v1M89.5 54v2M89.5 57v4M89.5 67v4M89.5 72v3M89.5 77v1M89.5 84v1M89.5 87v2M89.5 90v2M89.5 95v2M89.5 98v1M89.5 101v2M89.5 105v2M89.5 108v1M89.5 112v2M89.5 117v2M89.5 120v1M89.5 123v1M89.5 125v2M89.5 128v2M89.5 138v1M90.5 1v1M90.5 11v2M90.5 16v1M90.5 18v2M90.5 27v2M90.5 30v1M90.5 48v2M90.5 52v1M90.5 58v2M90.5 64v1M90.5 123v2M90.5 131v1M90.5 137v1M91.5 6v3M91.5 17v2M91.5 26v1M91.5 28v4M91.5 34v2M91.5 46v1M91.5 48v1M91.5 58v1M91.5 60v4M91.5 67v2M91.5 74v1M91.5 77v1M91.5 80v1M91.5 83v2M91.5 86v2M91.5 89v3M91.5 93v3M91.5 99v1M91.5 102v1M91.5 104v1M91.5 109v1M91.5 112v1M91.5 120v2M91.5 123v1M91.5 127v1M91.5 130v2M91.5 137v1M92.5 0v2M92.5 3v3M92.5 8v2M92.5 14v3M92.5 19v1M92.5 22v2M92.5 28v1M92.5 133v1M92.5 136v1M92.5 139v1M93.5 4v1M93.5 6v2M93.5 24v1M93.5 26v1M93.5 28v2M93.5 33v1M93.5 37v2M93.5 53v1M93.5 56v1M93.5 60v1M93.5 62v1M93.5 81v1M93.5 94v2M93.5 98v1M93.5 105v4M93.5 114v1M93.5 124v1M93.5 126v1M93.5 128v1M93.5 131v1M93.5 138v1M94.5 0v1M94.5 4v1M94.5 7v1M94.5 21v1M94.5 25v1M94.5 28v1M94.5 30v1M94.5 136v1M95.5 0v1M95.5 3v1M95.5 20v3M95.5 24v1M95.5 26v2M95.5 31v2M95.5 34v4M95.5 40v1M95.5 44v2M95.5 51v1M95.5 55v1M95.5 59v1M95.5 61v6M95.5 68v1M95.5 72v1M95.5 74v3M95.5 82v2M95.5 85v2M95.5 90v3M95.5 98v2M95.5 101v2M95.5 107v3M95.5 112v1M95.5 117v1M95.5 121v1M95.5 131v1M96.5 0v1M96.5 9v2M96.5 28v1M96.5 40v1M96.5 55v1M96.5 59v2M96.5 64v1M96.5 123v1M96.5 132v1M96.5 134v1M96.5 139v1M97.5 1v2M97.5 5v1M97.5 7v1M97.5 10v1M97.5 13v3M97.5 20v3M97.5 27v2M97.5 48v1M97.5 54v2M97.5 57v2M97.5 61v1M97.5 64v1M97.5 69v1M97.5 102v1M97.5 116v1M97.5 121v1M97.5 129v2M98.5 0v1M98.5 2v2M98.5 7v3M98.5 13v1M98.5 15v2M98.5 19v2M98.5 28v1M98.5 133v2M99.5 0v3M99.5 5v1M99.5 8v1M99.5 13v1M99.5 15v1M99.5 18v1M99.5 21v2M99.5 24v1M99.5 26v2M99.5 40v1M99.5 45v1M99.5 55v1M99.5 65v1M99.5 69v1M99.5 71v2M99.5 110v1M99.5 118v1M99.5 124v1M99.5 134v2M99.5 139v1M100.5 0v1M100.5 5v2M100.5 8v1M100.5 10v2M100.5 15v3M100.5 20v1M100.5 27v3M100.5 35v1M100.5 40v2M100.5 43v1M100.5 46v3M100.5 52v1M100.5 55v2M100.5 58v1M100.5 62v5M100.5 68v1M100.5 75v1M100.5 77v1M100.5 82v1M100.5 84v1M100.5 96v1M100.5 100v1M100.5 103v1M100.5 105v1M100.5 107v1M100.5 112v2M100.5 116v4M100.5 122v1M100.5 126v2M100.5 129v1M100.5 131v1M100.5 133v1M100.5 139v1M101.5 4v1M101.5 28v1M101.5 30v1M101.5 32v2M101.5 37v6M101.5 44v6M101.5 51v1M101.5 53v2M101.5 58v2M101.5 62v1M101.5 65v1M101.5 68v4M101.5 73v3M101.5 77v1M101.5 81v3M101.5 87v1M101.5 90v1M101.5 92v2M101.5 96v1M101.5 98v1M101.5 100v1M101.5 102v1M101.5 105v1M101.5 107v4M101.5 114v1M101.5 117v1M101.5 119v2M101.5 122v1M101.5 125v4M101.5 130v2M102.5 0v3M102.5 4v1M102.5 7v1M102.5 10v2M102.5 13v1M102.5 15v2M102.5 18v1M102.5 20v2M102.5 23v2M102.5 27v1M102.5 133v1M102.5 135v3M103.5 3v2M103.5 9v1M103.5 12v1M103.5 15v3M103.5 21v1M103.5 25v4M103.5 58v1M103.5 133v1M104.5 0v2M104.5 3v1M104.5 26v1M104.5 28v1M104.5 33v1M104.5 37v1M104.5 39v1M104.5 41v1M104.5 44v1M104.5 52v1M104.5 54v2M104.5 57v2M104.5 60v1M104.5 62v1M104.5 64v1M104.5 67v2M104.5 70v1M104.5 77v1M104.5 81v1M104.5 99v1M104.5 113v1M104.5 115v2M104.5 119v1M104.5 121v3M104.5 125v1M104.5 130v1M104.5 133v1M104.5 135v1M105.5 0v1M105.5 3v1M105.5 11v1M105.5 19v2M105.5 22v1M105.5 26v1M105.5 28v2M105.5 41v1M105.5 66v1M105.5 71v1M105.5 77v1M105.5 79v1M105.5 82v1M105.5 87v1M105.5 90v1M105.5 94v2M105.5 103v1M105.5 119v1M105.5 123v2M106.5 0v1M106.5 4v5M106.5 11v1M106.5 15v1M106.5 21v1M106.5 26v1M106.5 30v1M106.5 33v1M106.5 40v2M106.5 43v1M106.5 49v1M106.5 53v2M106.5 56v1M106.5 58v1M106.5 60v1M106.5 63v2M106.5 72v1M106.5 79v1M106.5 81v1M106.5 84v1M106.5 86v1M106.5 91v1M106.5 94v1M106.5 96v1M106.5 99v1M106.5 101v1M106.5 113v4M106.5 130v3M106.5 138v1M107.5 0v2M107.5 4v1M107.5 16v1M107.5 23v1M107.5 25v1M107.5 29v1M107.5 34v1M107.5 47v1M107.5 53v1M107.5 58v1M107.5 64v1M107.5 69v1M107.5 78v1M107.5 86v1M107.5 96v1M107.5 99v1M107.5 101v3M107.5 117v1M107.5 119v1M107.5 121v1M107.5 132v2M108.5 6v1M108.5 9v1M108.5 13v3M108.5 17v1M108.5 22v1M108.5 24v1M108.5 27v2M108.5 37v2M108.5 42v1M108.5 44v2M108.5 48v1M108.5 51v1M108.5 58v1M108.5 61v1M108.5 71v1M108.5 73v4M108.5 80v2M108.5 85v1M108.5 91v1M108.5 93v1M108.5 96v1M108.5 100v1M108.5 104v1M108.5 109v1M108.5 111v2M108.5 114v1M108.5 118v1M108.5 123v1M108.5 127v1M108.5 130v1M108.5 134v2M109.5 1v2M109.5 5v1M109.5 10v1M109.5 19v1M109.5 22v1M109.5 24v1M109.5 44v1M109.5 49v1M109.5 70v2M109.5 79v1M109.5 92v1M109.5 100v1M109.5 102v1M109.5 113v1M109.5 118v1M109.5 122v2M109.5 126v1M109.5 128v1M109.5 131v1M109.5 137v1M110.5 1v1M110.5 4v2M110.5 16v1M110.5 18v1M110.5 20v1M110.5 24v1M110.5 26v1M110.5 28v1M110.5 33v1M110.5 36v1M110.5 40v1M110.5 46v1M110.5 50v1M110.5 53v1M110.5 55v1M110.5 69v1M110.5 73v2M110.5 77v1M110.5 85v1M110.5 87v2M110.5 96v1M110.5 99v1M110.5 102v1M110.5 104v1M110.5 106v1M110.5 108v1M110.5 124v1M110.5 130v1M110.5 133v1M111.5 8v2M111.5 20v1M111.5 27v3M111.5 38v1M111.5 48v1M111.5 53v1M111.5 73v1M111.5 76v1M111.5 97v1M111.5 119v1M111.5 126v1M111.5 132v1M111.5 138v1M112.5 2v2M112.5 8v1M112.5 18v2M112.5 24v1M112.5 27v2M112.5 32v1M112.5 34v1M112.5 36v2M112.5 41v1M112.5 44v3M112.5 50v1M112.5 52v1M112.5 54v1M112.5 58v2M112.5 62v1M112.5 69v1M112.5 73v1M112.5 75v1M112.5 78v2M112.5 90v1M112.5 93v1M112.5 97v2M112.5 103v1M112.5 109v1M112.5 111v1M112.5 113v5M112.5 122v1M112.5 126v1M112.5 128v1M112.5 130v1M112.5 133v1M112.5 136v3M113.5 2v2M113.5 5v2M113.5 21v2M113.5 25v1M113.5 28v1M113.5 40v1M113.5 53v1M113.5 56v1M113.5 101v1M113.5 115v1M113.5 129v1M113.5 136v1M114.5 2v3M114.5 11v1M114.5 13v1M114.5 17v1M114.5 21v4M114.5 26v1M114.5 29v3M114.5 35v1M114.5 38v2M114.5 41v1M114.5 54v1M114.5 56v1M114.5 67v1M114.5 69v2M114.5 76v1M114.5 81v1M114.5 94v1M114.5 97v1M114.5 99v1M114.5 107v1M114.5 111v1M114.5 117v2M114.5 127v1M114.5 131v1M114.5 138v1M115.5 3v1M115.5 11v1M115.5 13v1M115.5 15v1M115.5 18v2M115.5 24v1M115.5 31v1M115.5 35v1M115.5 42v3M115.5 47v2M115.5 52v2M115.5 55v1M115.5 57v1M115.5 60v1M115.5 67v1M115.5 69v2M115.5 74v2M115.5 77v1M115.5 85v1M115.5 88v1M115.5 91v1M115.5 93v2M115.5 98v1M115.5 100v2M115.5 114v1M115.5 116v1M115.5 122v1M115.5 125v1M115.5 128v1M115.5 135v1M115.5 139v1M116.5 1v1M116.5 3v1M116.5 5v1M116.5 7v1M116.5 9v1M116.5 11v5M116.5 17v4M116.5 22v3M116.5 26v1M116.5 35v1M116.5 42v1M116.5 44v1M116.5 49v2M116.5 54v1M116.5 56v2M116.5 61v1M116.5 63v1M116.5 65v1M116.5 71v1M116.5 77v2M116.5 80v1M116.5 87v2M116.5 93v1M116.5 95v2M116.5 98v2M116.5 101v1M116.5 103v1M116.5 110v1M116.5 123v1M116.5 125v2M116.5 128v1M116.5 131v1M117.5 1v2M117.5 5v2M117.5 8v1M117.5 10v1M117.5 17v1M117.5 22v3M117.5 26v5M117.5 39v2M117.5 42v1M117.5 47v2M117.5 51v1M117.5 55v1M117.5 62v1M117.5 67v1M117.5 72v1M117.5 74v1M117.5 82v1M117.5 90v1M117.5 97v1M117.5 106v2M117.5 111v1M117.5 116v1M117.5 124v1M117.5 128v1M117.5 130v1M117.5 133v2M117.5 138v1M118.5 3v1M118.5 6v1M118.5 13v1M118.5 17v1M118.5 23v1M118.5 26v3M118.5 60v1M118.5 138v1M119.5 0v1M119.5 22v2M119.5 27v1M119.5 137v1M119.5 139v1M120.5 0v1M120.5 14v3M120.5 18v2M120.5 22v1M120.5 25v1M120.5 27v1M120.5 135v2M120.5 139v1M121.5 17v2M121.5 132v1M122.5 1v1M122.5 3v1M122.5 6v2M122.5 9v1M122.5 12v1M122.5 14v1M122.5 17v1M122.5 22v2M122.5 25v2M122.5 134v1M122.5 137v1M123.5 1v1M123.5 5v1M123.5 8v2M123.5 12v1M123.5 17v1M123.5 20v1M123.5 26v1M123.5 55v2M124.5 27v1M124.5 32v2M124.5 36v4M124.5 41v2M124.5 45v2M124.5 48v2M124.5 52v2M124.5 56v1M124.5 59v1M124.5 64v3M124.5 68v1M124.5 71v2M124.5 75v1M124.5 78v3M124.5 85v2M124.5 88v1M124.5 90v1M124.5 92v4M124.5 98v1M124.5 102v1M124.5 104v1M124.5 111v1M124.5 114v1M124.5 117v1M124.5 125v1M124.5 127v5M125.5 3v1M125.5 6v1M125.5 9v1M125.5 13v1M125.5 15v1M125.5 19v3M125.5 23v1M125.5 25v3M125.5 40v1M125.5 65v1M125.5 70v1M125.5 73v1M125.5 76v1M125.5 78v1M125.5 81v1M125.5 83v1M125.5 91v1M125.5 98v1M125.5 102v1M125.5 104v1M125.5 117v1M125.5 128v1M125.5 132v1M125.5 138v2M126.5 0v1M126.5 2v1M126.5 12v3M126.5 28v1M126.5 55v1M126.5 57v1M126.5 60v1M126.5 135v1M127.5 2v1M127.5 4v1M127.5 7v2M127.5 13v2M127.5 17v1M127.5 23v2M127.5 39v3M127.5 46v1M127.5 51v1M127.5 53v1M127.5 56v1M127.5 61v1M127.5 63v2M127.5 67v1M127.5 69v1M127.5 80v1M127.5 88v1M127.5 91v2M127.5 103v1M127.5 105v2M127.5 110v1M127.5 114v2M127.5 126v1M127.5 134v1M127.5 136v2M127.5 139v1M128.5 2v1M128.5 5v3M128.5 14v1M128.5 17v1M128.5 19v1M128.5 21v1M128.5 24v1M128.5 36v1M128.5 51v1M128.5 53v2M128.5 57v1M128.5 59v1M128.5 63v1M128.5 135v1M128.5 137v1M129.5 2v1M129.5 5v2M129.5 9v1M129.5 24v2M129.5 27v1M129.5 54v1M129.5 133v1M129.5 139v1M130.5 3v4M130.5 10v1M130.5 13v1M130.5 21v1M130.5 23v1M130.5 136v1M131.5 0v1M131.5 6v1M131.5 8v2M131.5 14v1M131.5 18v1M131.5 27v1M131.5 29v1M131.5 33v1M131.5 44v1M131.5 55v1M131.5 73v2M131.5 78v1M131.5 82v1M131.5 86v1M131.5 95v1M131.5 98v1M131.5 103v1M131.5 113v1M131.5 127v1M131.5 132v2M132.5 10v1M132.5 17v1M132.5 19v1M132.5 27v1M132.5 32v2M132.5 40v1M132.5 57v1M132.5 62v1M132.5 79v1M132.5 88v1M132.5 110v1M132.5 119v1M132.5 124v1M132.5 130v1M133.5 1v1M133.5 3v1M133.5 5v2M133.5 8v3M133.5 13v1M133.5 18v2M133.5 25v1M133.5 29v1M133.5 32v6M133.5 39v8M133.5 50v2M133.5 53v2M133.5 56v1M133.5 58v4M133.5 65v2M133.5 68v3M133.5 74v1M133.5 76v5M133.5 82v3M133.5 86v1M133.5 92v1M133.5 95v2M133.5 98v1M133.5 101v4M133.5 107v2M133.5 112v1M133.5 115v2M133.5 125v1M133.5 129v2M133.5 132v1M133.5 134v1M134.5 0v1M134.5 5v1M134.5 30v3M134.5 36v1M134.5 40v2M134.5 52v1M134.5 54v1M134.5 56v2M134.5 60v2M134.5 69v1M134.5 71v1M134.5 74v1M134.5 78v1M134.5 80v1M134.5 82v2M134.5 91v1M134.5 93v1M134.5 97v1M134.5 100v1M134.5 102v2M134.5 113v3M134.5 131v1M134.5 135v1M134.5 138v1M135.5 2v1M135.5 6v2M135.5 12v1M135.5 17v1M135.5 19v1M135.5 25v1M135.5 27v1M135.5 52v1M135.5 105v1M135.5 120v1M135.5 129v3M135.5 134v1M135.5 136v1M135.5 138v1M136.5 2v1M136.5 17v2M136.5 31v1M136.5 35v1M136.5 42v1M136.5 49v1M136.5 55v2M136.5 66v1M136.5 74v2M136.5 79v1M136.5 91v1M136.5 93v1M136.5 100v1M136.5 114v1M136.5 128v2M136.5 131v1M137.5 4v1M137.5 6v1M137.5 20v2M137.5 24v1M137.5 26v1M137.5 28v1M137.5 33v1M137.5 50v1M137.5 54v1M137.5 58v1M137.5 94v1M137.5 111v1M137.5 128v2M137.5 132v1M137.5 136v3M138.5 36v1M138.5 49v1M138.5 58v1M138.5 63v1M138.5 66v1M138.5 71v1M138.5 75v1M138.5 77v1M138.5 84v1M138.5 99v1M138.5 113v1M138.5 116v2M138.5 121v1M138.5 128v1M138.5 131v1M138.5 133v1M138.5 139v1M139.5 1v2M139.5 4v1M139.5 7v1M139.5 15v2M139.5 19v1M139.5 21v1M139.5 24v1M139.5 28v1M139.5 52v2M139.5 65v1M139.5 77v1M139.5 112v2M139.5 119v1M139.5 130v1M139.5 132v1M140.5 0v1M140.5 2v4M140.5 7v2M140.5 12v1M140.5 14v1M140.5 16v1M140.5 18v3M140.5 24v6M140.5 31v1M140.5 40v1M140.5 42v1M140.5 58v2M140.5 61v1M140.5 64v1M140.5 66v1M140.5 68v1M140.5 71v1M140.5 76v1M140.5 95v1M140.5 97v1M140.5 100v1M140.5 105v1M140.5 109v1M140.5 127v1M141.5 4v1M141.5 7v1M141.5 9v1M141.5 12v2M141.5 18v1M141.5 26v2M141.5 126v1M141.5 129v1M141.5 134v1M142.5 3v1M142.5 11v1M142.5 14v1M142.5 16v3M142.5 21v1M142.5 24v1M142.5 28v1M142.5 53v1M142.5 124v1M142.5 128v1M142.5 130v4M142.5 137v1M143.5 2v1M143.5 9v2M143.5 12v2M143.5 15v2M143.5 20v1M143.5 24v1M143.5 53v1M143.5 56v1M143.5 58v1M143.5 95v1M143.5 129v2M143.5 132v1M143.5 135v1M143.5 138v1M144.5 6v1M144.5 16v1M144.5 24v1M144.5 27v1M144.5 131v1M144.5 138v1M145.5 0v1M145.5 3v2M145.5 6v2M145.5 13v1M145.5 25v1M145.5 27v1M145.5 29v2M145.5 32v1M145.5 35v1M145.5 37v1M145.5 39v5M145.5 46v2M145.5 50v1M145.5 54v1M145.5 60v1M145.5 62v2M145.5 66v1M145.5 70v1M145.5 72v1M145.5 77v1M145.5 85v1M145.5 89v1M145.5 92v1M145.5 94v1M145.5 97v1M145.5 102v2M145.5 108v2M145.5 112v2M145.5 115v1M145.5 118v1M145.5 121v2M145.5 125v3M145.5 129v1M145.5 139v1M146.5 1v1M146.5 13v1M146.5 35v1M146.5 54v1M146.5 56v1M146.5 63v1M146.5 85v1M146.5 104v1M146.5 127v1M146.5 132v1M146.5 137v1M147.5 0v1M147.5 4v2M147.5 7v1M147.5 14v1M147.5 21v2M147.5 24v2M147.5 44v1M147.5 53v1M147.5 76v1M147.5 91v1M147.5 97v1M147.5 136v2M148.5 1v3M148.5 6v2M148.5 9v1M148.5 11v2M148.5 14v3M148.5 19v1M148.5 22v1M148.5 26v1M148.5 28v1M148.5 46v1M148.5 50v2M148.5 53v1M148.5 55v1M148.5 57v1M148.5 63v1M148.5 108v1M148.5 113v2M148.5 126v1M148.5 134v1M148.5 137v1M149.5 0v1M149.5 3v2M149.5 9v2M149.5 15v1M149.5 19v1M149.5 21v1M149.5 25v1M149.5 27v2M149.5 35v1M149.5 41v1M149.5 57v1M149.5 60v1M149.5 73v1M149.5 81v1M149.5 87v2M149.5 114v1M149.5 121v1M149.5 128v1M149.5 131v1M149.5 134v1M149.5 136v1M150.5 1v1M150.5 10v1M150.5 13v1M150.5 15v1M150.5 17v1M150.5 19v2M150.5 28v1M150.5 35v1M150.5 37v1M150.5 42v1M150.5 51v1M150.5 58v1M150.5 65v1M150.5 83v1M150.5 88v1M150.5 92v1M150.5 94v1M150.5 101v1M150.5 127v1M150.5 131v1M150.5 134v3M151.5 3v1M151.5 8v1M151.5 11v1M151.5 21v1M151.5 23v2M151.5 27v1M151.5 40v1M151.5 47v1M151.5 56v1M151.5 112v1M151.5 134v3M152.5 0v3M152.5 6v3M152.5 12v1M152.5 14v2M152.5 18v1M152.5 20v2M152.5 23v1M152.5 25v2M152.5 28v1M152.5 31v1M152.5 33v1M152.5 40v1M152.5 43v1M152.5 47v1M152.5 52v1M152.5 54v1M152.5 69v1M152.5 85v1M152.5 90v1M152.5 93v2M152.5 104v1M152.5 114v1M152.5 129v1M152.5 138v1M153.5 3v1M153.5 5v1M153.5 7v1M153.5 9v3M153.5 13v2M153.5 16v1M153.5 19v1M153.5 24v3M153.5 28v1M153.5 54v2M153.5 64v1M153.5 83v1M153.5 128v1M153.5 133v1M153.5 138v1M154.5 2v1M154.5 13v1M154.5 21v1M154.5 24v1M154.5 34v1M154.5 58v2M154.5 75v2M154.5 106v2M154.5 109v1M154.5 112v1M154.5 116v1M154.5 119v1M154.5 127v2M154.5 131v1M154.5 136v1M154.5 138v2M155.5 2v1M155.5 4v3M155.5 9v1M155.5 12v1M155.5 18v1M155.5 22v1M155.5 26v1M155.5 28v1M155.5 36v1M155.5 90v1M155.5 135v1M156.5 0v2M156.5 11v2M156.5 15v1M156.5 23v1M156.5 28v1M156.5 33v2M156.5 36v1M156.5 39v2M156.5 44v1M156.5 48v1M156.5 52v1M156.5 55v1M156.5 58v1M156.5 60v1M156.5 65v4M156.5 71v2M156.5 75v4M156.5 80v1M156.5 83v1M156.5 86v1M156.5 90v1M156.5 92v2M156.5 99v1M156.5 102v1M156.5 104v1M156.5 109v2M156.5 115v1M156.5 120v1M156.5 122v1M156.5 126v1M156.5 130v1M156.5 133v1M157.5 5v2M157.5 31v1M157.5 33v1M157.5 35v3M157.5 43v1M157.5 45v1M157.5 53v1M157.5 62v2M157.5 68v1M157.5 81v1M157.5 92v1M157.5 100v3M157.5 107v1M157.5 118v1M157.5 131v1M157.5 138v1M158.5 5v1M158.5 16v1M158.5 19v1M158.5 23v3M158.5 51v1M158.5 54v1M158.5 135v1M158.5 139v1M159.5 3v1M159.5 5v1M159.5 7v1M159.5 12v1M159.5 18v1M159.5 22v2M159.5 50v2M159.5 53v1M159.5 70v1M159.5 104v1M159.5 121v1M159.5 135v1M159.5 138v1M160.5 11v1M160.5 24v1M160.5 32v1M160.5 37v1M160.5 44v1M160.5 50v3M160.5 55v2M160.5 58v3M160.5 62v1M160.5 69v1M160.5 77v1M160.5 80v2M160.5 84v1M160.5 89v1M160.5 91v1M160.5 94v1M160.5 102v1M160.5 107v1M160.5 116v1M160.5 119v1M160.5 122v1M160.5 125v1M160.5 131v1M161.5 0v1M161.5 2v1M161.5 5v1M161.5 9v1M161.5 11v1M161.5 13v1M161.5 17v1M161.5 19v2M161.5 22v1M161.5 26v2M161.5 33v3M161.5 37v1M161.5 42v1M161.5 47v1M161.5 52v1M161.5 57v2M161.5 62v1M161.5 89v1M161.5 131v1M161.5 133v1M161.5 138v1M162.5 7v1M162.5 9v1M162.5 20v1M162.5 22v1M162.5 27v1M162.5 32v2M162.5 38v1M162.5 49v1M162.5 51v1M162.5 60v1M162.5 64v1M162.5 73v1M162.5 83v1M162.5 87v1M162.5 91v1M162.5 112v1M162.5 115v1M162.5 123v1M162.5 131v1M163.5 1v1M163.5 5v1M163.5 13v1M163.5 28v1M163.5 131v1M163.5 139v1M164.5 3v1M164.5 5v1M164.5 13v3M164.5 19v1M164.5 22v1M164.5 24v1M164.5 131v2M165.5 1v1M165.5 6v1M165.5 8v1M165.5 12v2M165.5 16v3M165.5 20v1M165.5 22v3M165.5 26v1M165.5 32v1M165.5 38v1M165.5 42v1M165.5 45v1M165.5 47v2M165.5 57v1M165.5 65v1M165.5 94v1M165.5 99v1M165.5 105v1M165.5 111v1M165.5 114v2M165.5 117v1M165.5 121v1M165.5 134v1M165.5 136v1M165.5 139v1M166.5 4v1M166.5 16v1M166.5 21v1M166.5 29v4M166.5 37v1M166.5 45v1M166.5 54v2M166.5 58v1M166.5 113v1M166.5 115v1M166.5 135v2M167.5 1v2M167.5 5v1M167.5 10v2M167.5 13v1M167.5 15v1M167.5 22v1M167.5 24v3M167.5 28v1M168.5 1v1M168.5 3v1M168.5 7v4M168.5 13v2M168.5 16v3M168.5 20v2M168.5 24v3M168.5 28v1M168.5 135v1M169.5 3v1M169.5 6v1M169.5 15v1M169.5 32v2M169.5 39v1M169.5 42v2M169.5 45v2M169.5 50v2M169.5 55v1M169.5 59v1M169.5 61v1M169.5 64v1M169.5 67v4M169.5 76v1M169.5 81v1M169.5 83v1M169.5 86v2M169.5 90v1M169.5 93v1M169.5 95v2M169.5 98v2M169.5 104v1M169.5 109v1M169.5 112v1M169.5 122v1M169.5 125v3M169.5 130v1M170.5 50v1M170.5 52v1M170.5 60v1M170.5 98v1M170.5 111v2M170.5 117v2M170.5 120v2M170.5 126v1M171.5 0v1M171.5 3v2M171.5 6v1M171.5 10v2M171.5 14v1M171.5 23v1M171.5 28v1M171.5 46v1M171.5 50v2M171.5 131v2M171.5 134v2M172.5 0v3M172.5 4v1M172.5 6v1M172.5 12v1M172.5 18v3M172.5 22v1M172.5 28v1M172.5 135v1M172.5 137v1M173.5 2v2M173.5 5v2M173.5 8v2M173.5 15v1M173.5 19v1M173.5 23v1M173.5 25v2M173.5 133v1M174.5 59v1M174.5 62v1M174.5 66v1M174.5 95v1M174.5 131v1M174.5 135v2M174.5 139v1M175.5 0v2M175.5 5v1M175.5 9v2M175.5 12v1M175.5 26v1M175.5 29v2M175.5 55v2M175.5 59v1M175.5 61v2M175.5 69v1M175.5 76v1M175.5 87v1M175.5 111v1M175.5 114v1M175.5 121v1M175.5 127v1M176.5 2v1M176.5 17v1M176.5 23v1M176.5 27v1M176.5 33v1M176.5 38v1M176.5 41v2M176.5 44v2M176.5 49v2M176.5 52v1M176.5 59v1M176.5 61v1M176.5 66v1M176.5 70v2M176.5 74v1M176.5 79v1M176.5 84v1M176.5 90v1M176.5 92v1M176.5 96v1M176.5 99v1M176.5 104v1M176.5 111v1M176.5 115v3M176.5 119v1M176.5 126v1M176.5 134v1M177.5 4v1M177.5 17v1M177.5 21v1M177.5 127v1M177.5 131v1M178.5 1v1M178.5 20v1M178.5 27v1M178.5 134v3M179.5 1v1M179.5 6v1M179.5 8v1M179.5 11v1M179.5 13v1M179.5 17v1M179.5 36v1M179.5 45v1M179.5 55v1M179.5 60v1M179.5 91v1M179.5 104v1M179.5 120v1M179.5 133v1M179.5 135v1M180.5 17v1M180.5 33v2M180.5 46v1M180.5 92v1M180.5 105v1M180.5 126v1M180.5 133v1M181.5 0v1M181.5 5v1M181.5 11v1M181.5 15v1M181.5 18v2M181.5 21v1M181.5 34v1M181.5 53v1M181.5 55v1M181.5 64v1M181.5 118v1M181.5 135v1M181.5 138v1M182.5 1v1M182.5 3v1M182.5 27v1M182.5 29v1M182.5 33v1M182.5 40v1M182.5 50v5M182.5 59v2M182.5 67v1M182.5 69v1M182.5 71v1M182.5 83v1M182.5 89v1M182.5 91v1M182.5 94v2M182.5 103v1M182.5 105v1M182.5 107v1M182.5 109v1M182.5 114v1M182.5 117v1M182.5 122v1M182.5 127v2M182.5 137v2M183.5 18v1M183.5 23v1M183.5 53v1M183.5 55v1M183.5 134v1M184.5 3v2M184.5 6v2M184.5 9v1M184.5 13v1M184.5 18v1M184.5 27v2M184.5 39v1M184.5 42v2M184.5 49v1M184.5 52v1M184.5 118v1M184.5 120v1M184.5 132v1M185.5 0v1M185.5 3v1M185.5 5v1M185.5 8v1M185.5 14v1M185.5 21v1M185.5 23v1M185.5 26v1M185.5 28v1M185.5 132v1M185.5 135v2"/>
<path stroke="#f5efee" d="M0.5 7v1M0.5 19v1M0.5 23v1M0.5 26v1M0.5 33v1M0.5 35v1M0.5 39v3M0.5 49v1M0.5 54v1M0.5 56v1M0.5 58v1M0.5 61v2M0.5 64v1M0.5 69v1M0.5 73v1M0.5 75v1M0.5 77v1M0.5 81v2M0.5 91v1M0.5 95v2M0.5 98v1M0.5 100v1M0.5 106v1M0.5 110v4M0.5 117v1M0.5 121v2M0.5 126v1M0.5 128v1M0.5 130v1M1.5 2v1M1.5 4v2M1.5 27v2M1.5 37v1M1.5 49v1M1.5 62v1M1.5 95v1M1.5 103v1M1.5 119v1M2.5 2v1M2.5 32v5M2.5 41v1M2.5 43v1M2.5 48v3M2.5 54v1M2.5 56v1M2.5 58v2M2.5 62v5M2.5 69v1M2.5 72v4M2.5 78v1M2.5 82v3M2.5 86v2M2.5 89v2M2.5 92v1M2.5 96v1M2.5 102v2M2.5 105v3M2.5 110v1M2.5 112v1M2.5 114v1M2.5 120v1M2.5 123v1M2.5 125v3M2.5 129v1M2.5 131v1M2.5 136v1M3.5 2v1M3.5 4v1M3.5 31v2M3.5 37v3M3.5 43v1M3.5 48v1M3.5 51v1M3.5 56v1M3.5 68v1M3.5 71v1M3.5 76v1M3.5 80v2M3.5 84v3M3.5 97v2M3.5 105v1M3.5 113v1M3.5 124v1M3.5 131v1M3.5 133v1M3.5 135v1M4.5 0v1M4.5 2v1M4.5 7v1M4.5 9v2M4.5 12v1M4.5 15v2M4.5 18v2M4.5 21v1M4.5 26v1M4.5 31v1M4.5 37v1M4.5 39v1M4.5 41v1M4.5 45v1M4.5 47v1M4.5 55v1M4.5 63v1M4.5 70v1M4.5 72v2M4.5 77v1M4.5 80v1M4.5 85v2M4.5 88v2M4.5 91v1M4.5 93v2M4.5 97v2M4.5 103v1M4.5 106v2M4.5 110v1M4.5 113v1M4.5 115v3M4.5 121v1M4.5 130v1M4.5 135v1M4.5 137v1M5.5 21v1M5.5 26v2M5.5 87v1M5.5 100v1M5.5 102v1M5.5 122v1M5.5 132v1M5.5 137v1M6.5 2v2M6.5 5v1M6.5 8v1M6.5 12v2M6.5 18v1M6.5 20v2M6.5 25v1M6.5 27v1M6.5 73v1M6.5 86v1M6.5 103v1M6.5 110v1M6.5 121v1M6.5 132v1M6.5 137v1M7.5 1v1M7.5 7v2M7.5 13v1M7.5 17v1M7.5 19v3M7.5 24v2M7.5 30v2M7.5 35v2M7.5 42v1M7.5 44v1M7.5 48v2M7.5 53v2M7.5 60v1M7.5 65v1M7.5 67v2M7.5 73v1M7.5 78v1M7.5 81v1M7.5 87v1M7.5 90v1M7.5 92v1M7.5 94v3M7.5 100v1M7.5 103v1M7.5 107v1M7.5 115v2M7.5 126v1M7.5 128v1M7.5 131v1M8.5 2v1M8.5 5v2M8.5 12v2M8.5 19v1M8.5 27v1M8.5 39v1M8.5 65v1M8.5 68v1M8.5 133v1M8.5 139v1M9.5 2v2M9.5 26v1M9.5 28v4M9.5 35v1M9.5 39v1M9.5 42v2M9.5 46v1M9.5 48v1M9.5 50v2M9.5 54v1M9.5 57v1M9.5 63v2M9.5 67v1M9.5 72v1M9.5 74v2M9.5 78v1M9.5 80v1M9.5 85v1M9.5 87v2M9.5 90v1M9.5 93v1M9.5 104v5M9.5 110v2M9.5 113v2M9.5 116v1M9.5 119v1M9.5 122v1M9.5 125v2M9.5 131v1M9.5 135v1M10.5 0v4M10.5 5v1M10.5 8v1M10.5 10v1M10.5 15v1M10.5 17v1M10.5 19v3M10.5 25v1M10.5 27v1M10.5 66v1M10.5 139v1M11.5 7v1M11.5 15v2M11.5 18v2M11.5 21v1M11.5 24v1M11.5 26v2M11.5 50v1M11.5 55v1M11.5 124v1M12.5 0v1M12.5 5v1M12.5 19v1M12.5 27v1M12.5 61v1M13.5 8v2M13.5 14v1M13.5 29v1M13.5 32v2M13.5 37v1M13.5 39v2M13.5 42v3M13.5 46v1M13.5 48v2M13.5 54v3M13.5 58v3M13.5 62v2M13.5 67v1M13.5 70v1M13.5 72v1M13.5 74v1M13.5 81v2M13.5 84v2M13.5 87v2M13.5 95v3M13.5 103v1M13.5 105v1M13.5 107v2M13.5 113v2M13.5 123v1M13.5 125v5M13.5 131v1M13.5 139v1M14.5 3v2M14.5 11v1M14.5 14v1M14.5 18v2M14.5 28v1M14.5 38v1M14.5 42v1M14.5 50v1M14.5 139v1M15.5 7v2M15.5 10v1M15.5 12v1M15.5 15v1M15.5 17v2M15.5 22v1M15.5 27v1M15.5 47v1M15.5 133v1M15.5 136v1M16.5 3v1M16.5 6v1M16.5 9v1M16.5 139v1M17.5 1v1M17.5 6v1M17.5 12v1M17.5 19v1M17.5 21v1M17.5 23v3M17.5 28v1M17.5 43v1M17.5 49v1M17.5 71v1M17.5 78v1M17.5 96v1M17.5 103v1M17.5 112v1M17.5 115v1M18.5 7v2M18.5 50v1M18.5 52v1M18.5 57v1M18.5 66v1M18.5 86v1M18.5 110v1M18.5 128v1M18.5 131v1M18.5 135v1M19.5 0v2M19.5 4v1M19.5 8v1M19.5 14v1M19.5 16v1M19.5 19v2M19.5 25v2M19.5 136v1M19.5 139v1M20.5 0v2M20.5 7v1M20.5 9v1M20.5 14v1M20.5 17v1M20.5 19v1M20.5 21v1M20.5 23v1M20.5 132v1M21.5 0v1M21.5 3v1M21.5 6v3M21.5 10v1M21.5 18v2M21.5 38v1M21.5 45v1M21.5 47v1M21.5 55v1M21.5 61v1M21.5 75v1M21.5 81v2M21.5 85v1M21.5 89v1M21.5 92v1M21.5 112v1M21.5 114v1M21.5 123v1M21.5 136v3M22.5 1v1M22.5 4v1M22.5 7v1M22.5 9v2M22.5 13v2M22.5 17v1M22.5 23v1M22.5 36v1M22.5 65v1M22.5 84v1M22.5 114v2M22.5 132v1M22.5 134v1M22.5 136v1M23.5 1v1M23.5 9v1M23.5 19v1M23.5 25v1M23.5 28v1M23.5 115v1M23.5 133v2M23.5 137v1M24.5 4v1M24.5 9v3M24.5 13v1M24.5 17v1M24.5 21v1M24.5 23v1M24.5 25v2M24.5 28v1M24.5 32v1M24.5 57v2M24.5 100v1M24.5 107v2M24.5 134v1M25.5 3v2M25.5 6v1M25.5 8v1M25.5 16v1M25.5 28v3M25.5 33v4M25.5 38v1M25.5 41v1M25.5 43v1M25.5 49v2M25.5 52v3M25.5 60v3M25.5 66v1M25.5 68v4M25.5 73v1M25.5 76v1M25.5 78v4M25.5 84v1M25.5 86v1M25.5 91v1M25.5 93v1M25.5 97v2M25.5 102v1M25.5 106v1M25.5 108v1M25.5 110v2M25.5 113v1M25.5 115v1M25.5 117v1M25.5 122v1M25.5 124v3M25.5 129v1M25.5 137v1M26.5 0v5M26.5 14v1M26.5 19v3M26.5 28v1M26.5 93v1M26.5 134v1M26.5 139v1M27.5 1v2M27.5 6v1M27.5 9v1M27.5 14v1M27.5 26v2M28.5 1v2M28.5 16v1M28.5 20v1M28.5 27v1M28.5 34v1M28.5 46v1M28.5 61v1M28.5 98v1M28.5 109v1M28.5 133v1M28.5 136v1M28.5 138v2M29.5 0v1M29.5 4v1M29.5 11v1M29.5 13v1M29.5 18v1M29.5 21v1M29.5 23v1M29.5 25v1M29.5 27v1M29.5 64v1M29.5 106v1M29.5 134v2M30.5 1v1M30.5 3v1M30.5 7v1M30.5 23v1M30.5 43v1M30.5 76v1M30.5 105v1M30.5 109v1M30.5 118v1M31.5 4v2M31.5 7v1M31.5 19v1M31.5 22v1M31.5 26v3M31.5 36v1M31.5 56v1M31.5 64v3M31.5 69v1M31.5 73v1M31.5 87v1M31.5 90v2M31.5 114v1M31.5 129v2M31.5 132v1M31.5 134v1M32.5 8v1M32.5 10v2M33.5 1v1M33.5 11v4M33.5 20v1M33.5 25v3M33.5 133v1M33.5 139v1M34.5 1v1M34.5 14v3M34.5 19v1M34.5 24v1M34.5 28v1M34.5 50v1M34.5 64v1M34.5 133v2M34.5 139v1M35.5 0v1M35.5 4v1M35.5 6v1M35.5 8v3M35.5 13v3M35.5 22v1M35.5 132v3M36.5 5v1M36.5 13v1M36.5 15v2M36.5 22v1M36.5 28v1M36.5 137v2M37.5 10v4M37.5 15v1M37.5 17v1M37.5 19v1M37.5 22v2M37.5 26v1M37.5 28v1M38.5 0v1M38.5 5v1M38.5 7v1M38.5 13v2M38.5 19v1M38.5 24v1M38.5 27v2M39.5 1v1M39.5 5v2M39.5 8v1M39.5 14v1M39.5 23v4M40.5 3v1M40.5 7v1M40.5 20v1M40.5 24v2M40.5 132v1M40.5 137v1M41.5 3v1M41.5 9v1M41.5 20v3M41.5 24v1M41.5 27v1M41.5 53v1M41.5 133v1M41.5 135v1M41.5 138v1M42.5 1v1M42.5 3v1M42.5 6v1M42.5 8v2M42.5 11v1M42.5 14v1M42.5 17v1M42.5 21v3M42.5 27v2M42.5 135v1M42.5 138v1M43.5 0v4M43.5 5v1M43.5 7v1M43.5 16v1M43.5 18v1M43.5 21v1M43.5 24v1M43.5 27v1M43.5 135v1M44.5 4v1M44.5 6v2M44.5 14v1M44.5 21v1M44.5 26v1M45.5 3v1M45.5 10v1M45.5 12v1M45.5 64v1M45.5 132v1M45.5 137v2M46.5 3v1M46.5 19v1M46.5 24v1M46.5 133v3M47.5 0v1M47.5 2v1M47.5 5v2M47.5 10v3M47.5 14v1M47.5 16v1M47.5 21v1M47.5 24v1M47.5 26v1M48.5 0v1M48.5 3v1M48.5 6v1M48.5 12v2M48.5 15v2M48.5 22v1M48.5 27v2M48.5 134v4M49.5 17v1M49.5 21v1M49.5 24v1M49.5 58v1M49.5 64v1M49.5 135v2M50.5 1v1M50.5 11v1M50.5 16v1M50.5 19v1M50.5 21v1M50.5 23v3M50.5 28v1M51.5 7v1M51.5 11v1M51.5 23v1M51.5 29v1M51.5 31v3M51.5 35v4M51.5 40v2M51.5 44v1M51.5 49v1M51.5 54v1M51.5 56v3M51.5 60v8M51.5 70v2M51.5 75v3M51.5 79v1M51.5 81v3M51.5 86v6M51.5 93v2M51.5 96v2M51.5 101v3M51.5 105v2M51.5 111v1M51.5 113v1M51.5 117v4M51.5 123v1M51.5 127v5M51.5 136v2M51.5 139v1M52.5 0v1M52.5 5v1M52.5 7v3M52.5 13v1M52.5 20v1M52.5 22v1M52.5 24v2M52.5 27v2M52.5 32v1M52.5 34v1M52.5 38v1M52.5 43v1M52.5 55v1M52.5 64v1M52.5 66v1M52.5 71v1M52.5 83v1M52.5 103v1M52.5 110v1M52.5 114v1M52.5 118v1M52.5 128v3M52.5 133v1M52.5 137v1M53.5 2v1M53.5 26v2M53.5 135v1M54.5 1v1M54.5 3v1M54.5 12v1M54.5 19v1M54.5 21v1M54.5 24v1M54.5 64v1M54.5 76v1M54.5 78v1M54.5 132v1M54.5 135v1M55.5 3v1M55.5 13v1M55.5 23v1M55.5 25v1M55.5 104v1M56.5 6v2M56.5 11v1M56.5 14v1M56.5 20v2M56.5 24v1M56.5 27v2M56.5 132v1M56.5 134v1M56.5 137v2M57.5 1v2M57.5 5v1M57.5 15v2M57.5 24v1M57.5 27v2M57.5 102v1M57.5 118v1M58.5 1v2M58.5 5v1M58.5 14v1M58.5 16v1M58.5 27v1M58.5 32v1M58.5 40v1M58.5 42v1M58.5 49v1M58.5 76v1M58.5 86v1M59.5 1v3M59.5 5v2M59.5 10v1M59.5 18v1M59.5 23v1M59.5 26v1M59.5 28v1M59.5 139v1M60.5 1v1M60.5 3v1M60.5 29v1M60.5 32v1M60.5 35v1M60.5 38v1M60.5 48v1M60.5 51v3M60.5 56v1M60.5 59v1M60.5 62v1M60.5 66v1M60.5 70v1M60.5 72v4M60.5 78v1M60.5 87v1M60.5 89v3M60.5 97v1M60.5 102v1M60.5 105v1M60.5 107v1M60.5 117v1M60.5 120v1M60.5 122v1M60.5 136v1M61.5 15v1M61.5 23v1M61.5 25v1M61.5 28v1M61.5 53v2M61.5 56v3M61.5 61v1M61.5 65v1M61.5 82v1M61.5 95v1M61.5 116v2M61.5 123v1M61.5 132v1M61.5 137v1M62.5 1v1M62.5 3v1M62.5 8v4M62.5 15v1M62.5 17v2M62.5 20v1M62.5 23v1M62.5 25v1M62.5 27v1M62.5 42v2M62.5 45v3M62.5 135v1M63.5 0v1M63.5 3v2M63.5 11v1M63.5 21v1M63.5 27v1M63.5 30v2M63.5 33v1M63.5 35v1M63.5 37v1M63.5 41v4M63.5 47v1M63.5 49v1M63.5 134v2M64.5 5v1M64.5 10v1M64.5 132v1M64.5 137v2M65.5 4v2M65.5 9v2M65.5 17v1M65.5 20v1M65.5 25v3M65.5 139v1M66.5 1v2M66.5 4v2M66.5 7v1M66.5 10v2M66.5 20v1M66.5 35v1M66.5 37v1M66.5 42v1M66.5 47v1M66.5 132v1M66.5 134v1M67.5 10v1M67.5 15v1M67.5 20v2M67.5 24v1M67.5 32v2M67.5 38v3M67.5 43v1M67.5 47v1M67.5 53v1M67.5 55v1M67.5 59v2M67.5 65v2M67.5 69v1M67.5 75v1M67.5 77v2M67.5 83v1M67.5 87v1M67.5 89v1M67.5 93v1M67.5 97v1M67.5 99v2M67.5 103v1M67.5 119v2M67.5 129v1M67.5 135v2M67.5 138v2M68.5 4v1M68.5 27v1M68.5 88v1M68.5 111v1M68.5 133v1M68.5 137v3M69.5 5v2M69.5 11v2M69.5 15v1M69.5 19v1M69.5 23v1M69.5 25v1M69.5 27v2M70.5 0v3M70.5 7v1M70.5 12v4M70.5 21v1M70.5 23v1M70.5 25v2M70.5 47v1M70.5 51v1M70.5 116v1M70.5 133v1M70.5 136v2M71.5 0v1M71.5 6v2M71.5 13v1M71.5 18v1M71.5 21v1M71.5 23v1M71.5 25v1M71.5 57v2M71.5 60v1M71.5 65v1M71.5 129v1M71.5 135v1M72.5 1v1M72.5 3v2M72.5 6v1M72.5 8v1M72.5 10v4M72.5 20v1M72.5 22v1M72.5 25v1M72.5 28v1M72.5 136v1M72.5 138v1M73.5 4v1M73.5 27v1M73.5 76v1M73.5 133v1M73.5 137v1M75.5 7v1M75.5 15v1M75.5 21v1M75.5 28v1M76.5 2v1M76.5 5v1M76.5 26v1M76.5 45v1M76.5 59v1M76.5 66v1M76.5 90v1M76.5 137v1M77.5 6v1M77.5 12v1M77.5 18v1M77.5 24v1M77.5 27v2M77.5 32v2M77.5 40v1M77.5 44v1M77.5 51v1M77.5 55v1M77.5 61v1M77.5 63v1M77.5 65v1M77.5 80v1M77.5 82v1M77.5 109v1M77.5 127v1M77.5 133v1M77.5 135v1M78.5 16v1M78.5 18v3M78.5 22v1M78.5 25v1M78.5 28v1M78.5 31v1M78.5 36v1M78.5 43v2M78.5 59v1M78.5 61v1M78.5 70v1M78.5 80v1M78.5 134v1M78.5 138v1M79.5 0v1M79.5 2v1M79.5 4v2M79.5 11v1M79.5 27v1M79.5 136v1M79.5 138v1M80.5 25v1M80.5 28v1M80.5 42v1M80.5 62v1M80.5 88v1M80.5 107v1M80.5 116v1M80.5 118v1M81.5 0v2M81.5 19v1M81.5 21v1M81.5 26v1M81.5 30v1M81.5 35v2M81.5 38v2M81.5 42v1M81.5 44v2M81.5 49v1M81.5 53v1M81.5 55v2M81.5 58v2M81.5 63v4M81.5 69v1M81.5 71v1M81.5 74v2M81.5 78v3M81.5 84v2M81.5 87v1M81.5 89v2M81.5 92v1M81.5 95v2M81.5 98v7M81.5 109v3M81.5 114v2M81.5 118v1M81.5 122v2M81.5 126v1M81.5 129v2M81.5 135v1M81.5 138v1M82.5 3v1M82.5 8v2M82.5 12v1M82.5 15v1M82.5 19v1M82.5 23v1M82.5 136v1M83.5 2v1M83.5 9v1M83.5 13v1M83.5 16v1M83.5 18v2M83.5 23v1M83.5 26v2M84.5 1v1M84.5 23v2M84.5 132v1M84.5 137v1M85.5 0v1M85.5 13v1M85.5 17v2M85.5 20v4M85.5 25v1M85.5 47v1M85.5 108v1M85.5 133v1M85.5 136v1M85.5 138v2M86.5 2v1M86.5 19v1M86.5 23v2M86.5 28v1M86.5 132v1M86.5 135v1M86.5 138v1M87.5 4v1M87.5 11v1M87.5 22v1M87.5 132v1M87.5 134v1M88.5 3v1M88.5 17v1M88.5 23v1M88.5 26v1M88.5 32v1M88.5 38v1M88.5 41v1M88.5 47v1M88.5 66v1M88.5 68v1M88.5 74v1M88.5 87v1M88.5 91v3M88.5 100v1M88.5 113v2M88.5 122v1M88.5 124v1M88.5 127v1M88.5 134v1M88.5 138v1M89.5 13v1M89.5 16v1M89.5 34v1M89.5 51v1M89.5 63v1M89.5 66v1M89.5 75v1M89.5 81v1M89.5 83v1M89.5 93v2M89.5 111v1M89.5 115v1M89.5 119v1M89.5 124v1M89.5 131v1M89.5 133v1M90.5 0v1M90.5 3v2M90.5 20v1M90.5 55v1M90.5 57v1M90.5 119v1M91.5 1v2M91.5 5v1M91.5 21v1M91.5 23v3M91.5 27v1M91.5 54v1M91.5 66v1M91.5 79v1M91.5 100v2M91.5 108v1M91.5 111v1M91.5 113v1M91.5 115v1M91.5 138v1M92.5 2v1M92.5 10v1M92.5 13v1M92.5 25v1M92.5 27v1M92.5 134v2M93.5 0v4M93.5 5v1M93.5 10v1M93.5 14v1M93.5 16v1M93.5 18v1M93.5 20v4M93.5 27v1M93.5 91v1M93.5 132v1M94.5 3v1M94.5 5v1M94.5 8v1M94.5 10v2M94.5 14v1M94.5 16v1M94.5 18v1M94.5 23v2M94.5 26v2M94.5 133v1M94.5 135v1M95.5 2v1M95.5 25v1M95.5 28v1M95.5 58v1M95.5 70v1M95.5 79v1M95.5 94v1M95.5 115v1M95.5 124v2M95.5 133v1M96.5 6v1M96.5 14v1M96.5 136v1M97.5 4v1M97.5 6v1M97.5 9v1M97.5 16v1M97.5 19v1M97.5 60v1M97.5 62v2M97.5 112v1M97.5 138v1M98.5 1v1M98.5 4v2M98.5 12v1M98.5 22v1M98.5 25v3M98.5 137v1M98.5 139v1M99.5 10v1M99.5 17v1M99.5 74v2M99.5 78v1M99.5 96v1M99.5 101v1M100.5 3v1M100.5 9v1M100.5 12v1M100.5 19v1M100.5 21v1M100.5 23v1M100.5 25v1M100.5 32v1M100.5 37v1M100.5 57v1M100.5 60v1M100.5 125v1M100.5 135v2M101.5 0v3M101.5 25v1M101.5 27v1M101.5 31v1M101.5 36v1M101.5 52v1M101.5 55v1M101.5 57v1M101.5 61v1M101.5 64v1M101.5 67v1M101.5 80v1M101.5 84v1M101.5 86v1M101.5 88v1M101.5 91v1M101.5 94v1M101.5 101v1M101.5 103v2M101.5 111v1M101.5 116v1M101.5 118v1M101.5 121v1M101.5 124v1M101.5 129v1M101.5 132v1M102.5 5v1M102.5 8v1M102.5 14v1M102.5 19v1M102.5 22v1M102.5 26v1M102.5 28v1M102.5 134v1M103.5 6v1M103.5 14v1M103.5 18v1M103.5 139v1M104.5 2v1M104.5 4v2M104.5 8v1M104.5 18v1M104.5 45v1M104.5 51v1M104.5 53v1M104.5 63v1M104.5 66v1M104.5 90v1M104.5 117v2M104.5 134v1M104.5 139v1M105.5 6v1M105.5 10v1M105.5 13v1M105.5 16v2M105.5 23v1M105.5 25v1M105.5 86v1M105.5 137v1M106.5 12v1M106.5 27v2M106.5 66v1M106.5 133v1M106.5 135v1M106.5 137v1M106.5 139v1M107.5 7v2M107.5 24v1M107.5 71v1M107.5 114v1M107.5 135v3M108.5 1v2M108.5 18v2M108.5 41v1M108.5 66v1M108.5 87v1M108.5 132v1M108.5 136v1M109.5 11v1M109.5 25v1M109.5 73v1M109.5 105v1M109.5 132v5M109.5 139v1M110.5 9v1M110.5 12v1M110.5 15v1M110.5 21v1M110.5 25v1M110.5 27v1M110.5 134v2M111.5 14v1M111.5 19v1M111.5 25v2M111.5 31v1M111.5 34v1M111.5 40v1M111.5 45v3M111.5 49v3M111.5 58v1M111.5 60v4M111.5 68v1M111.5 71v2M111.5 75v1M111.5 77v1M111.5 80v1M111.5 84v1M111.5 86v1M111.5 91v2M111.5 94v1M111.5 96v1M111.5 101v1M111.5 103v1M111.5 107v1M111.5 109v1M111.5 111v1M111.5 114v1M111.5 118v1M111.5 127v4M111.5 135v1M112.5 0v2M112.5 4v1M112.5 6v2M112.5 21v1M112.5 25v2M112.5 43v1M112.5 48v2M112.5 65v3M112.5 76v1M112.5 94v1M112.5 106v1M112.5 129v1M112.5 132v1M112.5 134v2M113.5 0v1M113.5 7v1M113.5 27v1M113.5 132v1M113.5 139v1M114.5 0v1M114.5 8v1M114.5 12v1M114.5 14v1M114.5 18v1M114.5 28v1M114.5 65v1M114.5 90v1M114.5 112v1M114.5 137v1M114.5 139v1M115.5 0v1M115.5 2v1M115.5 5v3M115.5 14v1M115.5 16v1M115.5 20v1M115.5 25v1M115.5 27v2M115.5 40v1M115.5 58v1M115.5 96v1M115.5 123v1M115.5 132v1M116.5 2v1M116.5 6v1M116.5 25v1M116.5 27v1M116.5 34v1M116.5 47v1M116.5 113v1M116.5 138v2M117.5 0v1M117.5 7v1M117.5 15v2M117.5 65v1M117.5 96v1M117.5 110v1M117.5 131v2M117.5 135v1M118.5 1v1M118.5 12v1M118.5 16v1M118.5 22v1M118.5 133v1M118.5 135v1M119.5 26v1M119.5 28v1M119.5 134v1M120.5 17v1M120.5 21v1M120.5 23v2M120.5 26v1M120.5 28v1M120.5 133v1M120.5 137v1M121.5 0v1M121.5 2v1M121.5 5v1M121.5 10v1M121.5 133v2M122.5 0v1M122.5 19v1M123.5 0v1M123.5 4v1M123.5 7v1M123.5 23v1M123.5 135v1M123.5 137v1M124.5 0v2M124.5 5v1M124.5 15v1M124.5 43v1M124.5 47v1M124.5 50v1M124.5 54v1M124.5 57v1M124.5 60v1M124.5 83v1M124.5 89v1M124.5 103v1M124.5 110v1M124.5 115v1M124.5 119v1M124.5 126v1M124.5 138v1M125.5 0v1M125.5 2v1M125.5 7v1M125.5 12v1M125.5 14v1M125.5 17v2M125.5 22v1M125.5 28v1M125.5 136v1M126.5 1v1M126.5 3v1M126.5 17v2M126.5 20v2M126.5 27v1M127.5 6v1M127.5 10v1M127.5 15v2M127.5 18v1M127.5 20v2M127.5 26v1M127.5 28v1M127.5 107v1M127.5 132v1M128.5 0v1M128.5 4v1M128.5 9v3M128.5 13v1M128.5 20v1M128.5 23v1M128.5 132v3M128.5 138v2M129.5 0v1M129.5 3v2M129.5 26v1M129.5 132v1M130.5 1v1M130.5 7v1M130.5 11v1M130.5 16v4M130.5 25v1M130.5 27v2M131.5 15v2M131.5 23v3M131.5 134v1M131.5 136v1M132.5 127v2M132.5 132v1M132.5 136v1M132.5 139v1M133.5 7v1M133.5 17v1M133.5 38v1M133.5 55v1M133.5 63v1M133.5 67v1M133.5 71v1M133.5 73v1M133.5 81v1M133.5 88v1M133.5 93v1M133.5 99v2M133.5 109v2M133.5 113v1M133.5 118v1M133.5 120v1M133.5 123v2M133.5 128v1M133.5 135v1M133.5 138v1M134.5 20v1M134.5 34v2M134.5 37v1M134.5 42v1M134.5 46v1M134.5 48v3M134.5 53v1M134.5 55v1M134.5 58v1M134.5 62v1M134.5 66v1M134.5 68v1M134.5 73v1M134.5 75v2M134.5 86v1M134.5 88v2M134.5 94v1M134.5 99v1M134.5 104v1M134.5 107v1M134.5 109v1M134.5 112v1M134.5 116v2M134.5 119v1M134.5 122v2M134.5 125v1M134.5 129v1M134.5 133v2M134.5 136v1M134.5 139v1M135.5 15v1M135.5 53v1M135.5 56v3M135.5 62v1M135.5 65v1M135.5 67v1M135.5 87v2M135.5 97v1M135.5 99v1M135.5 104v1M135.5 112v1M135.5 132v1M136.5 6v1M136.5 40v1M136.5 43v1M136.5 50v1M136.5 53v1M136.5 65v1M136.5 68v2M136.5 72v1M136.5 77v1M136.5 82v1M136.5 84v2M136.5 94v1M136.5 106v3M136.5 111v1M136.5 118v1M136.5 124v1M136.5 130v1M136.5 133v2M136.5 137v2M137.5 12v1M137.5 14v2M137.5 19v1M137.5 34v2M137.5 41v1M137.5 44v1M137.5 53v1M137.5 59v1M137.5 62v2M137.5 65v2M137.5 69v1M137.5 72v1M137.5 74v1M137.5 78v1M137.5 81v1M137.5 83v2M137.5 87v1M137.5 104v1M137.5 107v1M137.5 113v1M137.5 116v1M137.5 121v1M137.5 123v2M137.5 126v2M137.5 130v2M137.5 134v1M138.5 29v1M138.5 42v1M138.5 48v1M138.5 50v1M138.5 52v2M138.5 55v3M138.5 60v1M138.5 62v1M138.5 64v1M138.5 67v1M138.5 70v1M138.5 80v4M138.5 90v2M138.5 94v1M138.5 97v1M138.5 100v1M138.5 105v1M138.5 110v1M138.5 122v1M138.5 129v1M139.5 5v1M139.5 37v1M139.5 40v2M139.5 48v1M139.5 50v2M139.5 54v1M139.5 59v2M139.5 64v1M139.5 73v1M139.5 82v1M139.5 92v2M139.5 96v1M139.5 107v1M139.5 110v1M139.5 116v1M139.5 128v2M139.5 131v1M139.5 135v1M139.5 139v1M140.5 17v1M140.5 22v1M140.5 32v1M140.5 35v5M140.5 43v2M140.5 51v1M140.5 53v1M140.5 55v3M140.5 63v1M140.5 67v1M140.5 69v1M140.5 77v1M140.5 79v1M140.5 81v1M140.5 84v1M140.5 89v3M140.5 98v1M140.5 103v1M140.5 110v1M140.5 121v1M140.5 126v1M140.5 129v1M140.5 131v1M140.5 139v1M141.5 0v3M141.5 5v2M141.5 8v1M141.5 10v1M141.5 14v1M141.5 16v1M141.5 21v3M141.5 35v1M141.5 50v2M141.5 53v1M141.5 58v2M141.5 72v1M141.5 85v1M141.5 104v1M141.5 120v1M141.5 130v4M141.5 135v1M141.5 137v1M142.5 0v1M142.5 15v1M142.5 30v1M142.5 47v1M142.5 51v1M142.5 60v1M142.5 77v1M142.5 83v2M142.5 129v1M143.5 7v1M143.5 11v1M143.5 23v1M143.5 25v1M143.5 28v1M143.5 37v1M143.5 39v1M143.5 50v2M143.5 54v2M143.5 63v1M143.5 68v1M143.5 71v1M143.5 78v1M143.5 82v1M143.5 89v1M143.5 92v1M143.5 96v1M143.5 100v1M143.5 108v1M143.5 111v2M143.5 115v1M143.5 124v2M144.5 133v1M145.5 1v1M145.5 12v1M145.5 22v1M145.5 33v1M145.5 38v1M145.5 51v1M145.5 59v1M145.5 61v1M145.5 68v1M145.5 75v2M145.5 80v2M145.5 83v1M145.5 91v1M145.5 93v1M145.5 96v1M145.5 104v1M145.5 114v1M145.5 124v1M145.5 135v2M146.5 33v2M146.5 37v1M146.5 43v1M146.5 52v2M146.5 69v1M146.5 72v1M146.5 79v1M146.5 88v1M146.5 103v1M146.5 120v3M146.5 134v1M146.5 139v1M147.5 30v1M147.5 32v2M147.5 40v4M147.5 46v1M147.5 56v1M147.5 58v2M147.5 61v1M147.5 68v1M147.5 70v1M147.5 73v2M147.5 83v1M147.5 86v1M147.5 99v1M147.5 102v1M147.5 106v2M147.5 110v1M147.5 115v1M147.5 130v1M147.5 133v1M147.5 138v1M148.5 27v1M148.5 30v1M148.5 34v1M148.5 37v1M148.5 47v3M148.5 59v1M148.5 73v1M148.5 78v1M148.5 80v1M148.5 82v1M148.5 87v1M148.5 98v2M148.5 105v1M148.5 118v1M148.5 131v1M148.5 139v1M149.5 1v1M149.5 5v1M149.5 8v1M149.5 11v1M149.5 13v1M149.5 18v1M149.5 32v1M149.5 34v1M149.5 37v1M149.5 42v2M149.5 45v1M149.5 47v2M149.5 56v1M149.5 58v1M149.5 64v1M149.5 66v1M149.5 69v1M149.5 71v2M149.5 74v2M149.5 79v2M149.5 85v1M149.5 90v1M149.5 101v1M149.5 108v3M149.5 115v1M149.5 120v1M149.5 122v1M149.5 126v1M149.5 132v1M149.5 137v3M150.5 11v1M150.5 29v2M150.5 38v1M150.5 40v2M150.5 45v1M150.5 54v1M150.5 59v2M150.5 63v1M150.5 68v1M150.5 72v2M150.5 99v1M150.5 106v1M150.5 111v1M150.5 120v1M151.5 6v1M151.5 10v1M151.5 16v1M151.5 26v1M151.5 35v1M151.5 38v1M151.5 43v1M151.5 52v1M151.5 54v1M151.5 59v2M151.5 64v1M151.5 68v1M151.5 90v1M151.5 94v1M151.5 125v1M151.5 131v1M151.5 137v3M152.5 3v1M152.5 10v2M152.5 13v1M152.5 24v1M152.5 29v1M152.5 32v1M152.5 35v1M152.5 38v2M152.5 46v1M152.5 49v1M152.5 51v1M152.5 53v1M152.5 61v2M152.5 65v3M152.5 71v1M152.5 77v1M152.5 80v1M152.5 96v1M152.5 98v1M152.5 102v2M152.5 108v2M152.5 119v1M152.5 121v1M152.5 125v2M152.5 131v1M152.5 136v1M153.5 21v1M153.5 39v1M153.5 41v4M153.5 51v2M153.5 58v2M153.5 61v1M153.5 65v1M153.5 70v1M153.5 78v1M153.5 85v1M153.5 95v1M153.5 113v2M153.5 116v1M153.5 130v2M153.5 137v1M154.5 28v1M154.5 32v1M154.5 35v1M154.5 37v1M154.5 52v1M154.5 55v1M154.5 57v1M154.5 60v1M154.5 62v2M154.5 69v1M154.5 80v2M154.5 87v1M154.5 93v2M154.5 96v1M154.5 98v3M154.5 105v1M154.5 115v1M154.5 125v2M154.5 130v1M154.5 132v1M154.5 134v2M155.5 0v2M155.5 3v1M155.5 10v1M155.5 13v2M155.5 16v1M155.5 19v3M155.5 24v2M155.5 27v1M155.5 31v1M155.5 40v1M155.5 47v1M155.5 54v2M155.5 58v1M155.5 60v1M155.5 64v1M155.5 72v1M155.5 98v1M155.5 112v2M155.5 128v1M155.5 131v1M155.5 137v1M155.5 139v1M156.5 30v1M156.5 41v2M156.5 45v1M156.5 47v1M156.5 50v1M156.5 53v2M156.5 56v2M156.5 59v1M156.5 62v1M156.5 70v1M156.5 74v1M156.5 82v1M156.5 89v1M156.5 94v4M156.5 100v2M156.5 103v1M156.5 107v2M156.5 111v1M156.5 114v1M156.5 117v2M156.5 123v1M156.5 125v1M156.5 128v1M156.5 135v1M156.5 139v1M157.5 29v2M157.5 32v1M157.5 38v1M157.5 40v1M157.5 42v1M157.5 46v1M157.5 48v1M157.5 50v3M157.5 64v1M157.5 66v1M157.5 69v3M157.5 74v2M157.5 79v1M157.5 89v2M157.5 93v1M157.5 95v2M157.5 110v1M157.5 112v1M157.5 117v1M157.5 120v2M157.5 123v1M157.5 125v1M157.5 130v1M158.5 28v1M158.5 55v1M158.5 77v1M158.5 117v1M158.5 132v1M158.5 138v1M159.5 4v1M159.5 8v1M159.5 17v1M159.5 19v1M159.5 21v1M159.5 29v1M159.5 33v1M159.5 35v1M159.5 39v1M159.5 42v2M159.5 63v2M159.5 66v1M159.5 74v1M159.5 84v1M159.5 87v1M159.5 92v1M159.5 99v1M159.5 103v1M159.5 114v1M159.5 118v1M159.5 124v2M159.5 127v1M159.5 131v1M159.5 134v1M159.5 136v1M160.5 30v2M160.5 35v2M160.5 38v3M160.5 42v1M160.5 46v2M160.5 49v1M160.5 65v2M160.5 70v2M160.5 73v1M160.5 75v1M160.5 82v1M160.5 85v2M160.5 90v1M160.5 93v1M160.5 97v3M160.5 103v4M160.5 108v1M160.5 112v1M160.5 115v1M160.5 117v2M160.5 121v1M160.5 123v1M160.5 126v2M160.5 129v1M160.5 132v1M161.5 10v1M161.5 25v1M161.5 29v2M161.5 38v1M161.5 40v2M161.5 43v1M161.5 48v2M161.5 51v1M161.5 56v1M161.5 59v2M161.5 63v1M161.5 65v2M161.5 68v1M161.5 70v1M161.5 72v1M161.5 74v1M161.5 78v1M161.5 82v2M161.5 85v1M161.5 92v1M161.5 95v1M161.5 99v1M161.5 104v2M161.5 107v2M161.5 110v2M161.5 114v2M161.5 123v1M161.5 128v2M162.5 1v1M162.5 4v1M162.5 6v1M162.5 10v2M162.5 15v1M162.5 17v1M162.5 21v1M162.5 24v2M162.5 30v2M162.5 34v1M162.5 42v1M162.5 45v3M162.5 52v1M162.5 56v2M162.5 61v1M162.5 63v1M162.5 67v1M162.5 70v1M162.5 75v1M162.5 78v3M162.5 84v1M162.5 86v1M162.5 96v2M162.5 99v1M162.5 103v1M162.5 106v1M162.5 116v1M162.5 125v1M162.5 128v1M162.5 130v1M162.5 134v1M162.5 139v1M163.5 132v1M163.5 135v1M163.5 137v1M164.5 18v1M164.5 59v1M164.5 133v1M164.5 135v2M164.5 138v1M165.5 3v1M165.5 9v2M165.5 27v2M165.5 31v1M165.5 33v1M165.5 43v1M165.5 46v1M165.5 51v1M165.5 53v1M165.5 56v1M165.5 58v1M165.5 60v1M165.5 63v1M165.5 66v1M165.5 69v1M165.5 71v1M165.5 76v1M165.5 80v3M165.5 84v1M165.5 88v1M165.5 90v1M165.5 92v2M165.5 100v1M165.5 102v1M165.5 107v1M165.5 122v2M165.5 127v1M165.5 133v1M165.5 135v1M166.5 34v1M166.5 38v1M166.5 44v1M166.5 52v1M166.5 71v1M166.5 73v1M166.5 83v1M166.5 88v1M166.5 91v1M166.5 116v1M166.5 123v1M166.5 126v1M166.5 130v1M166.5 134v1M166.5 139v1M167.5 18v1M167.5 20v1M168.5 4v1M168.5 11v2M168.5 15v1M168.5 23v1M168.5 138v1M169.5 35v1M169.5 40v2M169.5 48v2M169.5 54v1M169.5 65v1M169.5 72v1M169.5 75v1M169.5 82v1M169.5 88v1M169.5 94v1M169.5 101v1M169.5 103v1M169.5 108v1M169.5 115v1M169.5 120v1M169.5 132v2M169.5 136v1M170.5 34v1M170.5 46v3M170.5 51v1M170.5 54v1M170.5 57v2M170.5 64v2M170.5 69v2M170.5 83v1M170.5 86v1M170.5 88v2M170.5 91v1M170.5 105v2M170.5 114v1M170.5 122v2M170.5 127v2M170.5 130v2M170.5 139v1M171.5 1v1M171.5 15v1M171.5 17v1M171.5 19v2M171.5 24v1M171.5 27v1M171.5 29v1M171.5 37v1M171.5 53v1M171.5 57v1M171.5 117v2M171.5 128v1M171.5 137v1M172.5 3v1M172.5 15v1M172.5 26v1M172.5 45v1M172.5 48v1M172.5 131v1M173.5 18v1M173.5 131v1M173.5 137v2M174.5 29v2M174.5 40v1M174.5 53v1M174.5 55v1M174.5 58v1M174.5 63v1M174.5 65v1M174.5 71v1M174.5 102v1M174.5 114v1M174.5 124v1M174.5 128v1M174.5 130v1M174.5 134v1M175.5 39v1M175.5 52v3M175.5 57v1M175.5 66v1M175.5 78v1M175.5 80v3M175.5 90v1M175.5 95v1M175.5 103v1M175.5 105v1M175.5 109v1M175.5 113v1M175.5 116v1M175.5 118v1M175.5 122v1M175.5 124v1M175.5 131v1M175.5 135v1M175.5 139v1M176.5 32v1M176.5 34v3M176.5 39v1M176.5 46v3M176.5 51v1M176.5 55v1M176.5 57v1M176.5 62v1M176.5 64v1M176.5 67v1M176.5 69v1M176.5 72v1M176.5 75v1M176.5 77v2M176.5 80v3M176.5 88v2M176.5 93v1M176.5 101v1M176.5 105v4M176.5 110v1M176.5 113v1M176.5 121v2M176.5 124v1M176.5 131v1M176.5 139v1M177.5 7v1M177.5 9v1M177.5 12v1M177.5 19v1M177.5 49v2M177.5 61v1M177.5 65v1M177.5 80v1M177.5 134v1M177.5 137v1M178.5 4v1M178.5 15v1M178.5 131v1M179.5 20v1M179.5 29v1M179.5 31v2M179.5 35v1M179.5 42v1M179.5 44v1M179.5 51v1M179.5 56v1M179.5 66v1M179.5 70v1M179.5 83v1M179.5 119v1M179.5 129v1M179.5 131v2M180.5 47v3M180.5 51v2M180.5 56v1M180.5 59v1M180.5 63v2M180.5 68v1M180.5 77v1M180.5 115v3M180.5 124v1M181.5 31v1M181.5 36v1M181.5 49v1M181.5 52v1M181.5 56v1M181.5 81v1M181.5 87v1M181.5 90v1M181.5 92v1M181.5 98v1M181.5 109v1M181.5 119v1M181.5 129v1M181.5 137v1M182.5 10v1M182.5 31v1M182.5 36v2M182.5 39v1M182.5 42v1M182.5 45v1M182.5 55v2M182.5 61v1M182.5 66v1M182.5 72v1M182.5 76v1M182.5 81v2M182.5 85v2M182.5 88v1M182.5 90v1M182.5 92v1M182.5 96v1M182.5 98v5M182.5 104v1M182.5 108v1M182.5 116v1M182.5 118v1M182.5 123v2M182.5 126v1M182.5 129v1M182.5 132v1M182.5 136v1M183.5 16v1M183.5 26v1M183.5 38v2M183.5 45v1M183.5 51v1M183.5 54v1M183.5 60v2M183.5 103v1M183.5 125v1M183.5 127v1M183.5 129v1M183.5 132v2M184.5 0v1M184.5 5v1M184.5 14v1M184.5 21v1M184.5 32v2M184.5 35v2M184.5 41v1M184.5 47v1M184.5 50v2M184.5 54v2M184.5 64v1M184.5 66v1M184.5 77v1M184.5 80v1M184.5 87v3M184.5 99v1M184.5 106v1M184.5 111v1M184.5 123v1M184.5 126v1M184.5 129v1M184.5 135v1M184.5 137v2M185.5 4v1M185.5 6v1M185.5 12v2M185.5 18v1M185.5 131v1M185.5 133v2"/>
<path stroke="#f4e7e6" d="M0.5 1v1M0.5 4v1M0.5 12v1M0.5 38v1M0.5 50v2M0.5 65v1M0.5 68v1M0.5 76v1M0.5 102v1M0.5 114v1M0.5 123v1M0.5 134v1M1.5 3v1M1.5 136v1M1.5 138v1M2.5 39v2M2.5 46v2M2.5 52v1M2.5 57v1M2.5 60v2M2.5 67v1M2.5 71v1M2.5 76v2M2.5 85v1M2.5 88v1M2.5 91v1M2.5 93v2M2.5 98v2M2.5 113v1M2.5 116v1M2.5 121v1M2.5 132v2M2.5 138v1M3.5 1v1M3.5 100v1M3.5 103v1M3.5 132v1M3.5 138v2M4.5 4v2M4.5 17v1M4.5 32v1M4.5 34v2M4.5 38v1M4.5 40v1M4.5 43v1M4.5 46v1M4.5 48v2M4.5 51v1M4.5 56v1M4.5 58v2M4.5 61v2M4.5 65v1M4.5 67v1M4.5 74v1M4.5 78v2M4.5 81v1M4.5 83v2M4.5 87v1M4.5 92v1M4.5 95v2M4.5 99v1M4.5 102v1M4.5 105v1M4.5 108v2M4.5 112v1M4.5 114v1M4.5 118v3M4.5 122v1M4.5 126v3M4.5 138v1M5.5 4v1M5.5 24v2M5.5 136v1M5.5 139v1M6.5 1v1M6.5 17v1M6.5 26v1M6.5 134v1M6.5 136v1M6.5 139v1M7.5 16v1M7.5 26v1M7.5 29v1M7.5 34v1M7.5 37v3M7.5 46v1M7.5 50v2M7.5 56v3M7.5 61v4M7.5 66v1M7.5 69v2M7.5 72v1M7.5 74v4M7.5 82v4M7.5 88v1M7.5 91v1M7.5 93v1M7.5 98v2M7.5 102v1M7.5 104v3M7.5 108v7M7.5 117v1M7.5 119v1M7.5 121v1M7.5 124v2M7.5 127v1M7.5 129v2M7.5 136v1M8.5 8v1M8.5 134v2M9.5 33v1M9.5 37v1M9.5 45v1M9.5 95v1M9.5 133v1M9.5 136v1M9.5 138v2M10.5 6v1M10.5 11v2M10.5 23v1M10.5 28v1M11.5 1v2M11.5 5v2M11.5 132v1M12.5 21v1M12.5 133v1M13.5 3v1M13.5 11v1M13.5 31v1M13.5 34v1M13.5 36v1M13.5 38v1M13.5 45v1M13.5 47v1M13.5 51v3M13.5 57v1M13.5 65v2M13.5 71v1M13.5 73v1M13.5 76v3M13.5 86v1M13.5 89v4M13.5 94v1M13.5 98v4M13.5 106v1M13.5 109v1M13.5 115v1M13.5 118v1M13.5 120v3M13.5 124v1M13.5 130v1M13.5 132v1M13.5 134v2M14.5 0v1M14.5 2v1M14.5 8v1M14.5 10v1M14.5 13v1M14.5 17v1M14.5 21v2M14.5 29v1M14.5 32v1M14.5 34v2M14.5 37v1M14.5 40v1M14.5 44v1M14.5 49v1M14.5 137v1M15.5 0v2M15.5 14v1M15.5 16v1M15.5 20v2M15.5 24v2M15.5 137v1M16.5 0v1M16.5 7v1M16.5 136v1M17.5 3v1M17.5 9v1M17.5 14v1M17.5 16v2M17.5 26v2M18.5 2v1M18.5 132v1M19.5 13v1M19.5 27v1M19.5 134v2M20.5 2v2M20.5 20v1M20.5 28v1M20.5 137v1M21.5 5v1M21.5 11v2M21.5 14v1M21.5 16v2M21.5 23v1M21.5 26v3M21.5 59v1M21.5 134v1M22.5 133v1M22.5 138v2M23.5 10v1M23.5 14v1M23.5 18v1M23.5 22v1M23.5 24v1M23.5 138v1M24.5 1v1M24.5 124v1M24.5 132v1M24.5 135v1M24.5 137v1M24.5 139v1M25.5 7v1M25.5 10v1M25.5 13v2M25.5 18v1M25.5 20v1M25.5 24v3M25.5 32v1M25.5 40v1M25.5 55v2M25.5 65v1M25.5 85v1M25.5 90v1M25.5 96v1M25.5 112v1M25.5 134v1M26.5 9v1M26.5 12v1M26.5 133v1M27.5 4v1M27.5 7v2M27.5 10v3M27.5 19v4M27.5 24v2M29.5 2v1M29.5 7v2M29.5 12v1M29.5 20v1M29.5 138v2M30.5 9v1M30.5 133v1M31.5 0v1M31.5 6v1M31.5 29v1M31.5 32v1M31.5 39v1M31.5 45v1M31.5 50v1M31.5 135v2M32.5 1v1M32.5 3v2M32.5 6v1M32.5 16v1M32.5 137v1M33.5 2v1M33.5 16v1M33.5 106v1M33.5 132v1M34.5 13v1M34.5 18v1M34.5 22v2M34.5 51v1M34.5 138v1M35.5 1v3M35.5 11v1M35.5 19v2M36.5 25v1M36.5 139v1M37.5 1v2M37.5 8v1M37.5 20v1M37.5 25v1M37.5 75v1M37.5 135v1M38.5 132v2M38.5 135v1M39.5 4v1M39.5 9v2M39.5 21v1M39.5 137v1M40.5 1v1M40.5 21v1M41.5 132v1M41.5 139v1M42.5 16v1M42.5 139v1M43.5 10v2M43.5 14v1M43.5 19v1M43.5 22v2M43.5 28v1M43.5 132v1M43.5 134v1M44.5 1v1M44.5 13v1M44.5 25v1M44.5 135v1M44.5 139v1M45.5 25v1M45.5 135v1M46.5 138v1M47.5 3v2M47.5 7v1M47.5 9v1M47.5 13v1M47.5 15v1M47.5 19v2M47.5 22v2M47.5 27v1M47.5 132v1M48.5 1v1M48.5 5v1M48.5 14v1M48.5 23v1M48.5 79v1M48.5 101v1M48.5 132v2M49.5 11v1M49.5 14v1M50.5 22v1M50.5 136v1M51.5 30v1M51.5 42v2M51.5 50v1M51.5 69v1M51.5 72v1M51.5 80v1M51.5 110v1M51.5 114v1M51.5 126v1M51.5 135v1M52.5 4v1M52.5 10v1M52.5 23v1M52.5 126v1M52.5 135v1M52.5 139v1M53.5 0v1M53.5 3v2M53.5 7v2M53.5 10v1M53.5 15v1M53.5 22v2M53.5 132v1M54.5 17v1M54.5 136v1M54.5 139v1M55.5 12v1M55.5 20v2M55.5 59v1M56.5 10v1M56.5 12v1M56.5 22v1M57.5 3v1M57.5 12v2M57.5 22v2M58.5 6v1M58.5 22v1M58.5 25v1M58.5 136v1M59.5 0v1M59.5 8v2M59.5 19v2M59.5 135v1M59.5 137v1M60.5 94v1M60.5 110v1M60.5 128v1M61.5 6v1M61.5 10v1M61.5 128v1M61.5 133v1M62.5 0v1M62.5 4v1M62.5 14v1M62.5 26v1M62.5 30v1M62.5 34v1M62.5 36v2M62.5 39v2M62.5 44v1M62.5 49v1M62.5 138v1M63.5 20v1M63.5 25v1M63.5 29v1M63.5 48v1M63.5 50v1M63.5 81v1M64.5 3v1M64.5 17v1M64.5 36v2M64.5 43v1M64.5 47v1M64.5 50v1M64.5 134v3M65.5 1v1M65.5 8v1M65.5 11v1M65.5 13v2M65.5 18v1M65.5 23v2M65.5 132v1M66.5 0v1M66.5 19v1M66.5 22v2M66.5 27v1M66.5 30v3M66.5 44v2M67.5 3v1M67.5 6v1M67.5 14v1M67.5 18v1M67.5 73v1M67.5 111v1M67.5 115v1M67.5 132v1M68.5 7v1M68.5 25v1M68.5 132v1M69.5 1v1M69.5 3v1M69.5 13v1M69.5 16v1M69.5 22v1M69.5 33v1M70.5 5v1M70.5 9v1M70.5 17v1M71.5 17v1M71.5 29v1M71.5 33v2M71.5 40v1M71.5 45v2M71.5 133v1M72.5 0v1M72.5 9v1M72.5 17v1M72.5 19v1M72.5 23v1M72.5 26v1M72.5 137v1M73.5 6v1M73.5 11v1M73.5 20v1M73.5 134v1M74.5 132v1M75.5 0v1M75.5 13v1M75.5 135v1M76.5 1v1M76.5 11v1M76.5 13v1M76.5 18v1M76.5 23v1M76.5 133v3M77.5 3v1M77.5 13v1M77.5 16v1M77.5 106v1M77.5 134v1M77.5 137v1M78.5 2v1M78.5 8v1M78.5 13v3M78.5 24v1M78.5 26v1M79.5 1v1M79.5 14v1M79.5 17v2M79.5 137v1M80.5 4v2M80.5 133v1M80.5 137v1M80.5 139v1M81.5 20v1M81.5 34v1M81.5 40v1M81.5 46v3M81.5 50v1M81.5 57v1M81.5 61v2M81.5 68v1M81.5 73v1M81.5 81v2M81.5 86v1M81.5 91v1M81.5 93v2M81.5 108v1M81.5 117v1M81.5 120v2M81.5 132v1M81.5 137v1M82.5 17v1M82.5 134v2M82.5 137v1M83.5 0v1M83.5 6v2M83.5 14v2M83.5 17v1M83.5 134v1M85.5 2v1M85.5 6v1M85.5 12v1M85.5 134v1M85.5 137v1M86.5 1v1M86.5 8v1M86.5 22v1M86.5 133v1M87.5 136v1M88.5 10v1M88.5 132v2M88.5 137v1M89.5 8v1M89.5 135v1M89.5 137v1M89.5 139v1M90.5 7v1M90.5 132v2M91.5 3v1M91.5 20v1M91.5 132v1M91.5 135v1M92.5 6v1M92.5 132v1M93.5 8v2M93.5 11v2M93.5 15v1M93.5 19v1M93.5 25v1M93.5 134v1M93.5 137v1M94.5 1v2M94.5 6v1M94.5 9v1M94.5 12v1M94.5 132v1M94.5 138v2M95.5 23v1M95.5 103v1M95.5 114v1M95.5 134v1M95.5 136v1M95.5 138v2M96.5 26v1M96.5 135v1M97.5 0v1M97.5 3v1M97.5 8v1M97.5 23v1M98.5 11v1M98.5 18v1M98.5 21v1M98.5 23v1M99.5 4v1M99.5 6v2M99.5 133v1M99.5 136v2M100.5 4v1M100.5 7v1M100.5 14v1M100.5 26v1M100.5 50v1M100.5 53v1M100.5 137v1M101.5 16v1M101.5 29v1M101.5 78v1M101.5 97v1M101.5 123v1M101.5 137v3M102.5 138v2M103.5 7v1M103.5 19v2M103.5 22v1M103.5 96v1M103.5 132v1M103.5 134v1M103.5 137v2M104.5 9v1M104.5 11v2M104.5 17v1M104.5 23v3M104.5 56v1M104.5 59v1M104.5 132v1M104.5 136v1M105.5 7v1M105.5 12v1M105.5 21v1M105.5 24v1M105.5 135v1M106.5 25v1M106.5 134v1M106.5 136v1M107.5 17v1M107.5 139v1M108.5 12v1M110.5 136v2M111.5 3v1M111.5 17v1M111.5 30v1M111.5 32v1M111.5 35v2M111.5 41v3M111.5 52v1M111.5 54v4M111.5 59v1M111.5 65v3M111.5 69v2M111.5 74v1M111.5 78v1M111.5 81v2M111.5 85v1M111.5 87v4M111.5 93v1M111.5 95v1M111.5 98v1M111.5 100v1M111.5 102v1M111.5 105v2M111.5 108v1M111.5 110v1M111.5 112v2M111.5 116v1M111.5 120v1M111.5 122v2M112.5 22v2M112.5 139v1M113.5 1v1M113.5 24v1M113.5 134v1M114.5 5v1M114.5 134v3M115.5 10v1M115.5 21v1M115.5 136v1M116.5 0v1M116.5 21v1M116.5 132v1M116.5 134v1M117.5 139v1M118.5 0v1M118.5 10v1M118.5 21v1M118.5 137v1M118.5 139v1M119.5 24v1M121.5 16v1M121.5 135v1M122.5 138v2M123.5 27v1M123.5 132v1M123.5 138v2M124.5 3v1M124.5 7v2M124.5 18v2M124.5 22v5M124.5 28v1M124.5 139v1M125.5 11v1M125.5 24v1M126.5 16v1M126.5 19v1M126.5 25v1M126.5 133v1M126.5 136v1M127.5 5v1M127.5 25v1M127.5 133v1M128.5 15v1M128.5 22v1M129.5 7v2M129.5 68v1M130.5 0v1M130.5 2v1M130.5 8v2M130.5 14v2M130.5 20v1M130.5 22v1M130.5 132v1M130.5 135v1M131.5 1v2M131.5 4v1M131.5 10v1M131.5 13v1M131.5 22v1M131.5 26v1M131.5 28v1M131.5 135v1M131.5 137v1M132.5 74v1M132.5 135v1M132.5 137v1M133.5 57v1M133.5 136v1M134.5 33v1M134.5 38v2M134.5 43v1M134.5 45v1M134.5 47v1M134.5 51v1M134.5 65v1M134.5 67v1M134.5 77v1M134.5 79v1M134.5 85v1M134.5 90v1M134.5 92v1M134.5 95v1M134.5 98v1M134.5 101v1M134.5 105v1M134.5 110v2M134.5 118v1M134.5 120v1M134.5 126v2M135.5 11v1M135.5 33v1M135.5 39v1M135.5 46v1M135.5 48v3M135.5 55v1M135.5 59v1M135.5 64v1M135.5 69v1M135.5 72v2M135.5 75v2M135.5 80v1M135.5 92v1M135.5 95v1M135.5 98v1M135.5 101v2M135.5 108v3M135.5 113v2M135.5 116v2M135.5 119v1M135.5 124v1M135.5 133v1M135.5 135v1M135.5 137v1M136.5 29v2M136.5 37v3M136.5 41v1M136.5 45v4M136.5 51v2M136.5 54v1M136.5 57v1M136.5 59v1M136.5 62v1M136.5 64v1M136.5 70v2M136.5 76v1M136.5 81v1M136.5 83v1M136.5 86v3M136.5 92v1M136.5 96v2M136.5 101v3M136.5 109v1M136.5 115v2M136.5 119v3M136.5 125v3M136.5 132v1M137.5 36v1M137.5 42v1M137.5 47v2M137.5 51v2M137.5 60v1M137.5 64v1M137.5 70v1M137.5 75v1M137.5 77v1M137.5 86v1M137.5 89v1M137.5 92v2M137.5 95v7M137.5 103v1M137.5 105v1M137.5 108v3M137.5 114v2M137.5 118v1M137.5 120v1M137.5 125v1M138.5 34v1M138.5 37v1M138.5 39v1M138.5 41v1M138.5 45v3M138.5 59v1M138.5 68v1M138.5 73v2M138.5 76v1M138.5 79v1M138.5 87v3M138.5 93v1M138.5 96v1M138.5 98v1M138.5 101v1M138.5 103v2M138.5 106v2M138.5 118v2M138.5 123v1M138.5 125v3M139.5 36v1M139.5 49v1M139.5 55v2M139.5 68v2M139.5 71v1M139.5 74v1M139.5 80v1M139.5 86v1M139.5 88v2M139.5 95v1M139.5 97v2M139.5 100v1M139.5 102v2M139.5 105v1M139.5 109v1M139.5 114v1M139.5 133v1M140.5 30v1M140.5 33v1M140.5 45v1M140.5 47v3M140.5 60v1M140.5 62v1M140.5 70v1M140.5 72v4M140.5 80v1M140.5 82v1M140.5 85v3M140.5 102v1M140.5 106v2M140.5 111v2M140.5 114v1M140.5 117v1M140.5 120v1M140.5 122v1M140.5 124v1M140.5 133v1M141.5 15v1M141.5 20v1M141.5 32v1M141.5 36v1M141.5 49v1M141.5 52v1M141.5 54v3M141.5 63v1M141.5 66v1M141.5 69v1M141.5 80v1M141.5 89v1M141.5 101v3M141.5 105v1M141.5 113v2M141.5 117v1M141.5 124v1M141.5 128v1M141.5 138v1M142.5 40v1M142.5 45v1M142.5 50v1M142.5 55v3M142.5 59v1M142.5 63v1M142.5 67v1M142.5 70v1M142.5 75v1M142.5 94v1M142.5 105v1M142.5 107v1M142.5 113v1M142.5 121v2M143.5 3v1M143.5 22v1M143.5 34v1M143.5 41v1M143.5 43v1M143.5 49v1M143.5 59v1M143.5 61v2M143.5 66v1M143.5 74v1M143.5 76v2M143.5 84v2M143.5 88v1M143.5 97v1M143.5 101v2M143.5 109v1M143.5 113v1M143.5 119v2M143.5 123v1M143.5 126v1M143.5 134v1M144.5 21v1M144.5 137v1M145.5 34v1M145.5 45v1M145.5 52v1M145.5 57v2M145.5 65v1M145.5 71v1M145.5 78v2M145.5 84v1M145.5 86v1M145.5 88v1M146.5 29v1M146.5 31v2M146.5 39v1M146.5 44v2M146.5 49v1M146.5 55v1M146.5 58v1M146.5 60v3M146.5 65v1M146.5 67v1M146.5 71v1M146.5 78v1M146.5 82v1M146.5 84v1M146.5 86v2M146.5 98v1M146.5 101v2M146.5 116v1M146.5 124v2M146.5 129v2M147.5 31v1M147.5 34v2M147.5 37v1M147.5 39v1M147.5 47v1M147.5 51v1M147.5 60v1M147.5 62v1M147.5 65v1M147.5 67v1M147.5 72v1M147.5 75v1M147.5 77v1M147.5 79v1M147.5 81v2M147.5 96v1M147.5 100v1M147.5 103v1M147.5 109v1M147.5 112v1M147.5 120v2M147.5 124v2M147.5 127v3M147.5 132v1M148.5 29v1M148.5 32v1M148.5 35v2M148.5 39v1M148.5 41v1M148.5 52v1M148.5 56v1M148.5 58v1M148.5 60v1M148.5 66v2M148.5 72v1M148.5 79v1M148.5 88v1M148.5 92v1M148.5 96v1M148.5 100v2M148.5 106v2M148.5 109v1M148.5 117v1M148.5 119v1M148.5 121v2M148.5 125v1M148.5 127v2M148.5 130v1M148.5 136v1M149.5 7v1M149.5 29v2M149.5 33v1M149.5 36v1M149.5 39v1M149.5 46v1M149.5 50v1M149.5 52v1M149.5 54v2M149.5 59v1M149.5 63v1M149.5 65v1M149.5 67v2M149.5 76v1M149.5 78v1M149.5 83v2M149.5 96v1M149.5 99v2M149.5 102v4M149.5 107v1M149.5 111v1M149.5 113v1M149.5 124v2M149.5 130v1M150.5 31v1M150.5 34v1M150.5 36v1M150.5 43v1M150.5 47v3M150.5 53v1M150.5 61v2M150.5 66v2M150.5 74v2M150.5 79v1M150.5 82v1M150.5 91v1M150.5 97v1M150.5 105v1M150.5 114v1M150.5 118v1M150.5 122v1M150.5 128v1M150.5 130v1M151.5 39v1M151.5 41v2M151.5 44v1M151.5 46v1M151.5 51v1M151.5 55v1M151.5 57v1M151.5 61v1M151.5 63v1M151.5 67v1M151.5 76v1M151.5 78v3M151.5 83v2M151.5 99v1M151.5 101v1M151.5 106v1M151.5 109v3M151.5 118v1M151.5 121v1M151.5 123v1M151.5 127v1M151.5 129v1M152.5 16v1M152.5 22v1M152.5 30v1M152.5 34v1M152.5 37v1M152.5 45v1M152.5 48v1M152.5 57v1M152.5 59v2M152.5 70v1M152.5 72v1M152.5 74v3M152.5 79v1M152.5 82v1M152.5 87v2M152.5 91v1M152.5 95v1M152.5 100v2M152.5 106v1M152.5 111v1M152.5 117v2M152.5 120v1M152.5 122v1M152.5 127v2M152.5 133v1M153.5 1v1M153.5 22v1M153.5 31v3M153.5 38v1M153.5 40v1M153.5 45v6M153.5 53v1M153.5 56v2M153.5 74v1M153.5 81v1M153.5 86v1M153.5 90v1M153.5 96v2M153.5 102v1M153.5 104v2M153.5 115v1M153.5 117v1M153.5 120v1M153.5 125v1M153.5 127v1M153.5 136v1M154.5 31v1M154.5 36v1M154.5 40v3M154.5 44v1M154.5 46v2M154.5 49v1M154.5 64v1M154.5 66v1M154.5 68v1M154.5 78v2M154.5 84v3M154.5 89v2M154.5 95v1M154.5 97v1M154.5 101v1M154.5 104v1M154.5 108v1M154.5 110v1M154.5 113v1M154.5 117v1M154.5 122v2M155.5 7v2M155.5 11v1M155.5 15v1M155.5 43v1M155.5 48v1M155.5 50v2M155.5 56v2M155.5 61v2M155.5 65v1M155.5 67v1M155.5 71v1M155.5 83v1M155.5 88v1M155.5 95v1M155.5 103v3M155.5 107v1M155.5 110v1M155.5 117v1M155.5 121v1M155.5 123v1M155.5 126v1M155.5 130v1M155.5 134v1M156.5 31v1M156.5 35v1M156.5 37v1M156.5 43v1M156.5 63v1M156.5 69v1M156.5 79v1M156.5 88v1M156.5 98v1M156.5 105v2M156.5 129v1M157.5 41v1M157.5 44v1M157.5 49v1M157.5 54v4M157.5 61v1M157.5 67v1M157.5 72v2M157.5 76v1M157.5 78v1M157.5 85v1M157.5 87v2M157.5 91v1M157.5 98v1M157.5 105v1M157.5 109v1M157.5 116v1M157.5 122v1M157.5 126v1M157.5 132v1M158.5 33v3M158.5 39v2M158.5 44v1M158.5 50v1M158.5 52v1M158.5 62v1M158.5 68v1M158.5 72v1M158.5 133v1M159.5 14v1M159.5 30v1M159.5 32v1M159.5 34v1M159.5 36v2M159.5 45v5M159.5 52v1M159.5 54v2M159.5 59v2M159.5 62v1M159.5 79v1M159.5 85v2M159.5 89v3M159.5 93v1M159.5 97v1M159.5 102v1M159.5 108v2M159.5 112v1M159.5 123v1M159.5 126v1M160.5 33v2M160.5 41v1M160.5 48v1M160.5 54v1M160.5 67v1M160.5 72v1M160.5 74v1M160.5 83v1M160.5 92v1M160.5 109v1M160.5 111v1M160.5 120v1M160.5 128v1M160.5 130v1M160.5 133v1M160.5 138v1M161.5 31v2M161.5 39v1M161.5 44v1M161.5 53v1M161.5 55v1M161.5 69v1M161.5 71v1M161.5 76v2M161.5 79v1M161.5 81v1M161.5 84v1M161.5 87v2M161.5 90v1M161.5 93v2M161.5 101v2M161.5 112v1M161.5 116v1M161.5 118v1M161.5 120v2M161.5 125v1M161.5 127v1M161.5 130v1M162.5 0v1M162.5 2v1M162.5 5v1M162.5 13v2M162.5 18v1M162.5 29v1M162.5 36v1M162.5 39v2M162.5 43v1M162.5 48v1M162.5 53v1M162.5 58v1M162.5 62v1M162.5 65v2M162.5 71v2M162.5 76v2M162.5 81v1M162.5 85v1M162.5 89v2M162.5 94v1M162.5 98v1M162.5 101v2M162.5 104v2M162.5 108v2M162.5 111v1M162.5 114v1M162.5 118v1M162.5 124v1M162.5 126v2M162.5 129v1M162.5 136v2M163.5 54v1M164.5 31v1M164.5 33v1M164.5 41v1M164.5 57v2M164.5 63v1M164.5 126v1M165.5 2v1M165.5 15v1M165.5 21v1M165.5 29v1M165.5 34v2M165.5 37v1M165.5 39v2M165.5 44v1M165.5 49v2M165.5 54v1M165.5 59v1M165.5 61v2M165.5 64v1M165.5 67v2M165.5 70v1M165.5 72v1M165.5 74v1M165.5 78v1M165.5 83v1M165.5 85v3M165.5 91v1M165.5 98v1M165.5 101v1M165.5 104v1M165.5 106v1M165.5 108v1M165.5 116v1M165.5 118v1M165.5 120v1M165.5 128v1M165.5 131v1M166.5 14v2M166.5 33v1M166.5 39v1M166.5 43v1M166.5 46v1M166.5 50v1M166.5 60v1M166.5 63v3M166.5 76v1M166.5 87v1M166.5 89v1M166.5 98v1M166.5 110v1M166.5 114v1M166.5 120v1M166.5 124v2M166.5 128v1M166.5 132v1M167.5 57v1M167.5 134v1M167.5 138v1M168.5 34v1M169.5 29v1M169.5 36v2M169.5 44v1M169.5 53v1M169.5 63v1M169.5 73v2M169.5 80v1M169.5 89v1M169.5 97v1M169.5 107v1M169.5 113v1M169.5 116v1M170.5 29v1M170.5 31v1M170.5 33v1M170.5 36v1M170.5 39v1M170.5 41v2M170.5 44v2M170.5 53v1M170.5 55v2M170.5 59v1M170.5 62v2M170.5 66v1M170.5 78v1M170.5 80v1M170.5 84v2M170.5 87v1M170.5 92v2M170.5 96v2M170.5 100v4M170.5 113v1M170.5 119v1M170.5 124v1M170.5 132v1M170.5 136v2M171.5 7v1M171.5 21v1M171.5 32v5M171.5 44v1M171.5 56v1M171.5 63v1M171.5 73v1M171.5 88v1M171.5 115v2M171.5 120v1M171.5 125v1M171.5 127v1M171.5 133v1M171.5 136v1M172.5 8v1M172.5 10v2M172.5 29v1M172.5 38v1M172.5 46v1M172.5 51v4M172.5 56v1M172.5 63v1M172.5 74v1M172.5 83v1M172.5 128v1M172.5 139v1M173.5 37v1M173.5 49v1M173.5 134v1M174.5 13v1M174.5 42v1M174.5 46v1M174.5 48v2M174.5 51v2M174.5 54v1M174.5 60v1M174.5 64v1M174.5 67v2M174.5 75v1M174.5 88v1M174.5 99v3M174.5 104v1M174.5 113v1M174.5 117v1M174.5 121v2M174.5 125v1M174.5 129v1M175.5 13v1M175.5 20v1M175.5 22v2M175.5 27v1M175.5 34v2M175.5 37v1M175.5 44v1M175.5 46v1M175.5 48v1M175.5 50v2M175.5 58v1M175.5 60v1M175.5 63v2M175.5 67v1M175.5 72v1M175.5 74v1M175.5 77v1M175.5 83v1M175.5 85v2M175.5 89v1M175.5 92v1M175.5 94v1M175.5 101v2M175.5 106v3M175.5 119v2M175.5 123v1M175.5 126v1M175.5 128v1M175.5 136v1M175.5 138v1M176.5 3v1M176.5 10v1M176.5 12v1M176.5 31v1M176.5 37v1M176.5 40v1M176.5 54v1M176.5 58v1M176.5 60v1M176.5 65v1M176.5 68v1M176.5 73v1M176.5 83v1M176.5 85v2M176.5 94v1M176.5 97v1M176.5 100v1M176.5 102v2M176.5 112v1M176.5 135v2M176.5 138v1M177.5 30v1M177.5 32v1M177.5 35v1M177.5 45v1M177.5 53v1M177.5 58v1M177.5 71v1M177.5 73v1M177.5 83v1M177.5 113v1M177.5 115v2M177.5 118v1M177.5 122v1M177.5 130v1M177.5 139v1M178.5 16v1M178.5 21v1M178.5 28v1M178.5 54v1M178.5 133v1M178.5 139v1M179.5 10v1M179.5 33v2M179.5 38v4M179.5 46v4M179.5 52v2M179.5 58v1M179.5 62v1M179.5 64v1M179.5 71v3M179.5 77v3M179.5 81v2M179.5 85v1M179.5 87v3M179.5 92v2M179.5 97v1M179.5 101v2M179.5 106v1M179.5 110v1M179.5 112v1M179.5 115v1M179.5 123v2M179.5 130v1M179.5 139v1M180.5 10v1M180.5 29v1M180.5 32v1M180.5 35v1M180.5 37v1M180.5 40v1M180.5 42v1M180.5 50v1M180.5 53v1M180.5 62v1M180.5 69v1M180.5 71v3M180.5 75v1M180.5 80v1M180.5 83v2M180.5 86v1M180.5 89v1M180.5 93v2M180.5 108v2M180.5 118v1M180.5 120v1M180.5 130v3M180.5 134v1M180.5 139v1M181.5 10v1M181.5 29v1M181.5 33v1M181.5 37v1M181.5 39v4M181.5 44v1M181.5 48v1M181.5 54v1M181.5 57v1M181.5 61v1M181.5 68v1M181.5 70v1M181.5 74v1M181.5 76v1M181.5 79v2M181.5 82v1M181.5 86v1M181.5 89v1M181.5 106v2M181.5 111v1M181.5 113v2M181.5 116v2M181.5 122v1M181.5 124v1M181.5 130v1M181.5 136v1M182.5 17v1M182.5 20v1M182.5 24v2M182.5 28v1M182.5 32v1M182.5 34v1M182.5 41v1M182.5 44v1M182.5 58v1M182.5 62v1M182.5 64v1M182.5 68v1M182.5 70v1M182.5 73v1M182.5 77v2M182.5 80v1M182.5 87v1M182.5 97v1M182.5 112v2M182.5 121v1M182.5 130v2M182.5 133v1M183.5 15v1M183.5 27v1M183.5 41v1M183.5 49v2M183.5 52v1M183.5 56v1M183.5 63v1M183.5 104v1M183.5 114v1M183.5 118v1M183.5 121v2M183.5 126v1M183.5 128v1M183.5 130v1M184.5 22v1M184.5 30v1M184.5 34v1M184.5 40v1M184.5 45v1M184.5 48v1M184.5 53v1M184.5 56v1M184.5 58v1M184.5 60v1M184.5 65v1M184.5 67v3M184.5 73v1M184.5 76v1M184.5 79v1M184.5 84v1M184.5 86v1M184.5 94v1M184.5 96v3M184.5 100v1M184.5 104v2M184.5 107v3M184.5 112v2M184.5 115v2M184.5 121v2M184.5 124v1M184.5 127v1M184.5 130v1M184.5 133v1M184.5 136v1M185.5 2v1M185.5 19v1M185.5 47v1"/>
<path stroke="#f2dfdd" d="M1.5 24v1M1.5 137v1M1.5 139v1M2.5 37v1M3.5 3v1M4.5 30v1M4.5 33v1M4.5 36v1M4.5 42v1M4.5 44v1M4.5 50v1M4.5 52v3M4.5 57v1M4.5 60v1M4.5 64v1M4.5 66v1M4.5 68v2M4.5 71v1M4.5 76v1M4.5 82v1M4.5 90v1M4.5 100v1M4.5 104v1M4.5 111v1M4.5 123v3M4.5 129v1M6.5 4v1M7.5 32v2M7.5 40v2M7.5 43v1M7.5 47v1M7.5 59v1M7.5 71v1M7.5 80v1M7.5 89v1M7.5 118v1M7.5 120v1M7.5 123v1M8.5 11v1M8.5 138v1M9.5 0v1M9.5 24v1M9.5 134v1M10.5 9v1M10.5 13v1M10.5 24v1M11.5 11v1M11.5 137v1M12.5 29v1M12.5 32v1M12.5 41v3M12.5 45v3M12.5 134v1M13.5 75v1M13.5 79v1M13.5 93v1M13.5 102v1M13.5 119v1M13.5 136v1M14.5 5v1M14.5 16v1M14.5 24v2M14.5 31v1M14.5 36v1M14.5 39v1M14.5 41v1M14.5 43v1M14.5 45v4M15.5 11v1M15.5 13v1M15.5 132v1M17.5 4v1M17.5 20v1M17.5 22v1M18.5 137v1M19.5 10v1M19.5 18v1M19.5 133v1M20.5 12v1M20.5 139v1M21.5 2v1M21.5 20v1M21.5 22v1M24.5 18v1M25.5 0v1M25.5 5v1M25.5 9v1M25.5 15v1M25.5 17v1M25.5 21v1M25.5 23v1M25.5 133v1M26.5 7v1M26.5 17v1M26.5 25v1M26.5 132v1M27.5 17v1M27.5 136v1M27.5 138v1M29.5 5v1M29.5 10v1M30.5 134v2M31.5 10v1M31.5 24v1M31.5 30v1M31.5 33v3M31.5 37v2M31.5 41v1M31.5 43v2M32.5 5v1M32.5 135v1M32.5 138v1M33.5 7v1M35.5 23v2M35.5 137v1M35.5 139v1M36.5 134v1M37.5 7v1M37.5 136v1M39.5 113v1M39.5 134v1M40.5 22v1M40.5 133v1M40.5 135v2M41.5 137v1M42.5 130v1M43.5 4v1M43.5 8v2M43.5 25v1M43.5 136v1M44.5 133v1M46.5 139v1M47.5 17v1M47.5 138v1M48.5 139v1M49.5 39v1M49.5 132v1M49.5 137v1M49.5 139v1M50.5 135v1M52.5 14v1M52.5 134v1M52.5 136v1M53.5 5v2M53.5 9v1M53.5 11v1M53.5 16v1M54.5 133v1M55.5 11v1M56.5 0v1M56.5 2v1M56.5 15v1M56.5 19v1M57.5 4v1M57.5 8v1M57.5 11v1M57.5 17v2M57.5 25v1M57.5 134v1M57.5 138v1M59.5 7v1M59.5 134v1M60.5 133v1M61.5 29v2M61.5 32v1M61.5 35v1M61.5 38v1M61.5 41v1M61.5 44v1M61.5 47v1M61.5 49v1M62.5 29v1M62.5 31v3M62.5 38v1M62.5 41v1M62.5 48v1M62.5 50v1M62.5 106v1M62.5 139v1M63.5 133v1M64.5 0v1M64.5 30v1M64.5 32v1M64.5 34v2M64.5 38v3M64.5 42v1M64.5 44v1M64.5 46v1M64.5 49v1M64.5 133v1M64.5 139v1M65.5 30v1M65.5 36v1M65.5 42v1M65.5 136v2M66.5 29v1M66.5 33v2M66.5 36v1M66.5 38v2M66.5 46v1M66.5 50v1M66.5 122v1M68.5 5v1M69.5 135v1M70.5 11v1M70.5 18v1M70.5 132v1M71.5 30v1M71.5 32v1M71.5 35v2M71.5 38v1M71.5 41v1M71.5 43v2M71.5 48v3M71.5 134v1M72.5 21v1M73.5 12v2M73.5 19v1M73.5 23v2M74.5 59v1M75.5 18v1M76.5 0v1M76.5 12v1M76.5 15v1M76.5 19v2M77.5 5v1M78.5 1v1M78.5 9v1M79.5 3v1M79.5 8v3M79.5 12v2M79.5 19v1M79.5 21v3M79.5 25v1M79.5 132v1M80.5 3v1M80.5 7v1M81.5 8v1M81.5 31v1M81.5 33v1M83.5 137v1M84.5 2v2M84.5 11v1M84.5 19v1M84.5 133v1M84.5 138v1M85.5 4v1M85.5 9v1M85.5 19v1M86.5 17v1M86.5 137v1M86.5 139v1M87.5 135v1M87.5 138v1M91.5 10v2M91.5 14v2M93.5 17v1M93.5 133v1M93.5 135v1M94.5 13v1M94.5 15v1M94.5 17v1M94.5 20v1M97.5 25v1M97.5 134v1M97.5 139v1M98.5 17v1M98.5 24v1M98.5 135v2M99.5 132v1M99.5 138v1M100.5 22v1M100.5 24v1M101.5 10v1M101.5 133v1M103.5 136v1M104.5 10v1M104.5 13v1M104.5 16v1M104.5 19v1M104.5 21v2M105.5 133v2M108.5 137v2M110.5 132v1M110.5 138v1M111.5 33v1M111.5 37v1M111.5 39v1M111.5 44v1M111.5 64v1M111.5 79v1M111.5 83v1M111.5 104v1M111.5 115v1M111.5 117v1M111.5 121v1M111.5 124v2M111.5 137v1M113.5 9v1M114.5 132v1M115.5 4v1M115.5 17v1M115.5 26v1M115.5 138v1M117.5 11v1M118.5 134v1M118.5 136v1M119.5 10v1M119.5 133v1M119.5 135v1M120.5 36v1M120.5 132v1M121.5 137v1M122.5 133v1M123.5 83v1M123.5 112v1M123.5 134v1M124.5 2v1M124.5 9v2M124.5 13v2M124.5 16v2M124.5 20v2M124.5 133v1M124.5 136v2M125.5 137v1M127.5 1v1M130.5 26v1M130.5 139v1M131.5 3v1M131.5 5v1M131.5 7v1M131.5 17v1M131.5 19v3M133.5 133v1M133.5 139v1M134.5 130v1M135.5 5v1M135.5 21v1M135.5 29v1M135.5 32v1M135.5 36v1M135.5 42v2M135.5 47v1M135.5 51v1M135.5 54v1M135.5 60v2M135.5 68v1M135.5 71v1M135.5 77v2M135.5 81v2M135.5 86v1M135.5 90v1M135.5 93v2M135.5 100v1M135.5 111v1M135.5 118v1M135.5 121v2M135.5 125v1M135.5 127v2M136.5 5v1M136.5 33v1M136.5 36v1M136.5 44v1M136.5 73v1M136.5 78v1M136.5 80v1M136.5 89v2M136.5 98v2M136.5 110v1M136.5 112v1M136.5 122v2M137.5 31v2M137.5 37v3M137.5 43v1M137.5 45v2M137.5 49v1M137.5 57v1M137.5 61v1M137.5 67v2M137.5 71v1M137.5 76v1M137.5 79v2M137.5 82v1M137.5 88v1M137.5 106v1M137.5 117v1M137.5 119v1M137.5 122v1M138.5 30v1M138.5 32v1M138.5 38v1M138.5 40v1M138.5 43v1M138.5 54v1M138.5 61v1M138.5 69v1M138.5 72v1M138.5 85v2M138.5 95v1M138.5 108v1M138.5 111v1M138.5 120v1M138.5 136v1M139.5 29v1M139.5 34v2M139.5 39v1M139.5 42v1M139.5 45v3M139.5 62v2M139.5 67v1M139.5 72v1M139.5 75v1M139.5 78v2M139.5 83v2M139.5 90v1M139.5 99v1M139.5 101v1M139.5 106v1M139.5 108v1M139.5 111v1M139.5 115v1M139.5 117v1M139.5 120v4M139.5 125v2M140.5 41v1M140.5 46v1M140.5 52v1M140.5 54v1M140.5 65v1M140.5 88v1M140.5 92v3M140.5 96v1M140.5 101v1M140.5 108v1M140.5 115v2M140.5 118v2M140.5 123v1M140.5 132v1M141.5 3v1M141.5 25v1M141.5 30v1M141.5 38v1M141.5 41v1M141.5 57v1M141.5 60v2M141.5 64v1M141.5 67v2M141.5 70v2M141.5 73v1M141.5 75v2M141.5 78v2M141.5 83v1M141.5 88v1M141.5 92v1M141.5 100v1M141.5 106v1M141.5 111v1M141.5 115v2M141.5 118v2M141.5 121v1M142.5 39v1M142.5 42v1M142.5 44v1M142.5 46v1M142.5 48v2M142.5 54v1M142.5 58v1M142.5 64v3M142.5 69v1M142.5 71v1M142.5 74v1M142.5 76v1M142.5 81v1M142.5 86v1M142.5 95v1M142.5 98v1M142.5 100v1M142.5 118v1M142.5 120v1M142.5 123v1M142.5 125v1M143.5 29v5M143.5 35v2M143.5 42v1M143.5 44v3M143.5 57v1M143.5 64v2M143.5 67v1M143.5 80v1M143.5 83v1M143.5 86v2M143.5 90v2M143.5 94v1M143.5 98v2M143.5 103v1M143.5 106v1M143.5 110v1M143.5 117v1M143.5 122v1M143.5 127v1M144.5 39v1M144.5 42v1M144.5 135v1M145.5 44v1M145.5 73v1M145.5 82v1M145.5 128v1M145.5 130v1M146.5 30v1M146.5 40v3M146.5 46v1M146.5 48v1M146.5 50v2M146.5 57v1M146.5 59v1M146.5 66v1M146.5 68v1M146.5 73v4M146.5 80v1M146.5 83v1M146.5 89v1M146.5 92v2M146.5 95v1M146.5 97v1M146.5 107v7M146.5 118v1M146.5 126v1M146.5 128v1M147.5 36v1M147.5 48v2M147.5 57v1M147.5 63v2M147.5 66v1M147.5 71v1M147.5 78v1M147.5 84v1M147.5 87v1M147.5 94v2M147.5 98v1M147.5 101v1M147.5 104v2M147.5 108v1M147.5 111v1M147.5 113v1M147.5 116v4M147.5 122v1M147.5 126v1M148.5 21v1M148.5 31v1M148.5 38v1M148.5 40v1M148.5 44v1M148.5 54v1M148.5 61v1M148.5 64v1M148.5 68v1M148.5 70v1M148.5 76v2M148.5 83v2M148.5 86v1M148.5 89v1M148.5 91v1M148.5 110v2M148.5 115v1M148.5 124v1M148.5 129v1M149.5 17v1M149.5 31v1M149.5 44v1M149.5 53v1M149.5 62v1M149.5 70v1M149.5 82v1M149.5 98v1M149.5 106v1M149.5 112v1M149.5 116v3M149.5 129v1M150.5 33v1M150.5 50v1M150.5 52v1M150.5 55v1M150.5 64v1M150.5 77v2M150.5 80v2M150.5 85v1M150.5 87v1M150.5 100v1M150.5 102v3M150.5 109v1M150.5 113v1M150.5 115v1M150.5 119v1M150.5 121v1M150.5 125v1M150.5 129v1M151.5 15v1M151.5 30v2M151.5 33v1M151.5 36v2M151.5 45v1M151.5 50v1M151.5 58v1M151.5 62v1M151.5 65v2M151.5 71v1M151.5 73v2M151.5 77v1M151.5 82v1M151.5 86v1M151.5 89v1M151.5 92v2M151.5 95v2M151.5 98v1M151.5 100v1M151.5 103v1M151.5 105v1M151.5 108v1M151.5 116v1M151.5 120v1M151.5 126v1M151.5 130v1M152.5 36v1M152.5 41v2M152.5 50v1M152.5 55v2M152.5 63v2M152.5 73v1M152.5 78v1M152.5 81v1M152.5 84v1M152.5 86v1M152.5 89v1M152.5 92v1M152.5 97v1M152.5 99v1M152.5 105v1M152.5 115v1M152.5 123v2M152.5 130v1M153.5 29v2M153.5 35v2M153.5 62v2M153.5 66v4M153.5 71v2M153.5 75v1M153.5 77v1M153.5 79v2M153.5 89v1M153.5 91v1M153.5 93v2M153.5 99v3M153.5 103v1M153.5 110v3M153.5 118v1M153.5 121v1M153.5 126v1M153.5 129v1M154.5 29v2M154.5 39v1M154.5 43v1M154.5 45v1M154.5 50v2M154.5 56v1M154.5 61v1M154.5 67v1M154.5 70v1M154.5 74v1M154.5 82v2M154.5 91v1M154.5 102v2M154.5 114v1M154.5 121v1M154.5 129v1M154.5 133v1M155.5 29v1M155.5 32v4M155.5 37v2M155.5 42v1M155.5 44v1M155.5 46v1M155.5 49v1M155.5 52v2M155.5 59v1M155.5 68v1M155.5 74v1M155.5 79v3M155.5 84v4M155.5 91v3M155.5 97v1M155.5 99v2M155.5 109v1M155.5 115v2M155.5 122v1M155.5 124v2M155.5 129v1M156.5 64v1M156.5 73v1M156.5 119v1M156.5 121v1M156.5 132v1M157.5 39v1M157.5 47v1M157.5 58v3M157.5 65v1M157.5 77v1M157.5 82v2M157.5 94v1M157.5 97v1M157.5 99v1M157.5 108v1M157.5 111v1M157.5 113v2M157.5 119v1M157.5 127v2M158.5 32v1M158.5 41v1M158.5 43v1M158.5 46v3M158.5 58v2M158.5 61v1M158.5 64v1M158.5 66v2M158.5 86v1M158.5 91v1M158.5 103v1M158.5 115v1M158.5 122v1M158.5 128v1M159.5 41v1M159.5 44v1M159.5 56v1M159.5 65v1M159.5 67v2M159.5 71v3M159.5 75v2M159.5 80v1M159.5 83v1M159.5 94v1M159.5 98v1M159.5 105v2M159.5 111v1M159.5 113v1M159.5 116v1M159.5 119v1M159.5 122v1M159.5 128v1M160.5 43v1M160.5 61v1M160.5 87v1M160.5 101v1M160.5 113v2M160.5 134v1M161.5 45v1M161.5 50v1M161.5 54v1M161.5 64v1M161.5 67v1M161.5 73v1M161.5 86v1M161.5 91v1M161.5 96v1M161.5 98v1M161.5 100v1M161.5 109v1M161.5 113v1M161.5 117v1M162.5 12v1M162.5 26v1M162.5 28v1M162.5 35v1M162.5 41v1M162.5 44v1M162.5 50v1M162.5 54v1M162.5 59v1M162.5 74v1M162.5 82v1M162.5 88v1M162.5 92v2M162.5 95v1M162.5 100v1M162.5 107v1M162.5 110v1M162.5 113v1M162.5 132v1M163.5 42v1M163.5 50v1M163.5 52v1M163.5 56v1M163.5 133v1M163.5 138v1M164.5 0v1M164.5 46v1M164.5 49v2M164.5 52v2M164.5 55v2M164.5 65v1M164.5 67v1M165.5 30v1M165.5 36v1M165.5 52v1M165.5 55v1M165.5 73v1M165.5 75v1M165.5 77v1M165.5 89v1M165.5 95v3M165.5 103v1M165.5 109v1M165.5 112v2M165.5 119v1M165.5 125v1M165.5 129v2M165.5 132v1M165.5 138v1M166.5 35v1M166.5 41v1M166.5 47v3M166.5 51v1M166.5 53v1M166.5 59v1M166.5 61v1M166.5 67v3M166.5 72v1M166.5 74v1M166.5 78v2M166.5 84v1M166.5 97v1M166.5 100v2M166.5 103v2M166.5 106v4M166.5 112v1M166.5 119v1M166.5 121v1M166.5 127v1M166.5 129v1M167.5 50v1M167.5 54v1M168.5 30v1M168.5 32v1M168.5 55v1M169.5 92v1M169.5 119v1M169.5 129v1M169.5 131v1M170.5 30v1M170.5 37v2M170.5 40v1M170.5 43v1M170.5 61v1M170.5 67v1M170.5 71v1M170.5 75v1M170.5 77v1M170.5 79v1M170.5 81v1M170.5 90v1M170.5 94v1M170.5 108v1M170.5 110v1M170.5 115v1M170.5 125v1M170.5 129v1M171.5 30v1M171.5 40v1M171.5 42v2M171.5 45v1M171.5 47v2M171.5 54v1M171.5 60v1M171.5 66v1M171.5 72v1M171.5 86v1M171.5 89v1M171.5 94v1M171.5 96v1M171.5 99v1M171.5 101v5M171.5 110v1M171.5 124v1M171.5 126v1M171.5 129v1M172.5 36v1M172.5 39v1M172.5 41v1M172.5 61v1M172.5 66v1M172.5 71v1M172.5 73v1M172.5 78v1M172.5 84v1M172.5 109v1M172.5 112v1M172.5 129v1M173.5 31v1M173.5 41v1M173.5 46v1M173.5 52v1M173.5 55v1M173.5 61v2M173.5 64v1M173.5 67v1M174.5 32v1M174.5 37v3M174.5 41v1M174.5 45v1M174.5 47v1M174.5 61v1M174.5 69v1M174.5 74v1M174.5 76v1M174.5 81v1M174.5 85v1M174.5 87v1M174.5 89v1M174.5 97v1M174.5 103v1M174.5 106v1M174.5 108v2M174.5 115v1M174.5 119v1M174.5 123v1M175.5 24v1M175.5 28v1M175.5 31v1M175.5 33v1M175.5 36v1M175.5 40v4M175.5 45v1M175.5 47v1M175.5 65v1M175.5 68v1M175.5 70v1M175.5 73v1M175.5 75v1M175.5 79v1M175.5 91v1M175.5 96v1M175.5 99v2M175.5 104v1M175.5 110v1M175.5 112v1M175.5 115v1M175.5 130v1M175.5 133v1M176.5 15v1M176.5 21v2M176.5 30v1M176.5 53v1M176.5 95v1M176.5 98v1M176.5 120v1M176.5 129v2M177.5 11v1M177.5 23v1M177.5 25v3M177.5 33v1M177.5 38v2M177.5 42v1M177.5 48v1M177.5 51v1M177.5 56v2M177.5 64v1M177.5 66v1M177.5 68v1M177.5 76v1M177.5 78v1M177.5 82v1M177.5 92v1M177.5 105v1M177.5 107v1M177.5 109v1M177.5 111v1M177.5 114v1M177.5 120v2M177.5 128v2M177.5 132v2M178.5 17v1M178.5 49v4M178.5 56v1M179.5 19v1M179.5 21v2M179.5 25v1M179.5 30v1M179.5 37v1M179.5 43v1M179.5 57v1M179.5 59v1M179.5 61v1M179.5 69v1M179.5 74v3M179.5 80v1M179.5 84v1M179.5 94v2M179.5 98v1M179.5 100v1M179.5 103v1M179.5 107v2M179.5 113v1M179.5 116v1M179.5 126v3M179.5 137v1M180.5 15v2M180.5 18v1M180.5 22v1M180.5 24v1M180.5 26v1M180.5 31v1M180.5 36v1M180.5 38v2M180.5 44v2M180.5 54v1M180.5 57v2M180.5 60v2M180.5 65v3M180.5 74v1M180.5 76v1M180.5 79v1M180.5 81v1M180.5 85v1M180.5 87v2M180.5 91v1M180.5 95v1M180.5 99v5M180.5 107v1M180.5 112v3M180.5 121v3M180.5 125v1M180.5 127v2M181.5 25v1M181.5 30v1M181.5 32v1M181.5 35v1M181.5 38v1M181.5 43v1M181.5 45v1M181.5 50v2M181.5 58v1M181.5 60v1M181.5 62v2M181.5 65v3M181.5 73v1M181.5 77v1M181.5 83v1M181.5 85v1M181.5 88v1M181.5 93v5M181.5 101v3M181.5 115v1M181.5 123v1M181.5 127v2M182.5 12v1M182.5 15v1M182.5 35v1M182.5 46v1M182.5 63v1M182.5 74v2M182.5 93v1M182.5 106v1M182.5 111v1M182.5 120v1M182.5 135v1M182.5 139v1M183.5 14v1M183.5 30v3M183.5 37v1M183.5 40v1M183.5 43v2M183.5 48v1M183.5 62v1M183.5 64v1M183.5 66v1M183.5 68v2M183.5 75v3M183.5 80v1M183.5 84v3M183.5 89v2M183.5 92v1M183.5 98v1M183.5 101v2M183.5 109v4M183.5 117v1M183.5 119v2M183.5 124v1M184.5 10v1M184.5 24v1M184.5 29v1M184.5 31v1M184.5 37v2M184.5 46v1M184.5 59v1M184.5 61v3M184.5 71v2M184.5 74v1M184.5 78v1M184.5 81v3M184.5 91v3M184.5 101v1M184.5 103v1M184.5 110v1M184.5 114v1M184.5 117v1M184.5 119v1M184.5 125v1M184.5 128v1M185.5 51v2M185.5 54v1M185.5 57v1M185.5 59v1M185.5 61v1M185.5 124v1M185.5 130v1"/>
<path stroke="#f1d7d5" d="M0.5 133v1M1.5 8v2M1.5 14v1M1.5 18v1M1.5 20v1M4.5 101v1M4.5 132v1M4.5 136v1M5.5 7v1M6.5 11v1M6.5 138v1M7.5 45v1M7.5 101v1M7.5 122v1M8.5 14v1M8.5 38v1M9.5 7v1M9.5 12v2M9.5 17v2M9.5 132v1M10.5 137v1M12.5 30v2M12.5 34v7M12.5 48v2M12.5 139v1M14.5 30v1M14.5 33v1M14.5 134v1M15.5 28v1M16.5 28v1M16.5 56v1M17.5 7v1M17.5 11v1M17.5 137v1M21.5 21v1M22.5 27v1M23.5 132v1M25.5 19v1M25.5 138v1M26.5 138v1M27.5 132v1M31.5 31v1M31.5 40v1M31.5 42v1M31.5 46v2M31.5 49v1M31.5 78v1M31.5 137v1M31.5 139v1M32.5 136v1M34.5 7v1M34.5 135v1M34.5 137v1M35.5 17v1M35.5 33v1M35.5 128v1M36.5 135v1M37.5 134v1M38.5 138v1M39.5 132v1M42.5 136v2M43.5 17v1M44.5 67v1M49.5 31v1M49.5 33v1M49.5 138v1M50.5 134v1M50.5 137v1M52.5 138v1M53.5 12v3M53.5 17v2M54.5 137v1M56.5 135v1M57.5 9v2M57.5 14v1M57.5 20v1M57.5 133v1M57.5 136v1M58.5 134v1M59.5 13v1M59.5 133v1M59.5 136v1M60.5 13v1M60.5 27v2M60.5 138v1M61.5 33v2M61.5 36v2M61.5 40v1M61.5 42v2M61.5 45v2M61.5 50v1M61.5 139v1M62.5 35v1M62.5 134v1M64.5 29v1M64.5 31v1M64.5 33v1M64.5 41v1M64.5 45v1M65.5 33v1M65.5 38v3M65.5 43v4M65.5 49v1M65.5 134v1M66.5 40v2M66.5 43v1M66.5 48v2M67.5 134v1M68.5 9v1M70.5 138v1M71.5 31v1M71.5 37v1M71.5 47v1M72.5 132v1M72.5 134v1M72.5 139v1M73.5 8v1M73.5 10v1M73.5 14v3M73.5 21v2M73.5 25v2M74.5 65v1M76.5 16v2M76.5 21v2M77.5 138v1M78.5 0v1M78.5 3v1M78.5 5v1M78.5 10v1M78.5 135v1M79.5 15v2M79.5 20v1M81.5 7v1M81.5 18v1M83.5 139v1M84.5 8v1M84.5 15v1M84.5 17v1M84.5 20v2M84.5 136v1M84.5 139v1M85.5 3v1M85.5 5v1M85.5 7v1M85.5 10v1M90.5 113v1M91.5 9v1M91.5 13v1M91.5 16v1M91.5 139v1M94.5 22v1M97.5 133v1M100.5 138v1M101.5 15v1M101.5 24v1M104.5 20v1M105.5 113v1M106.5 75v1M107.5 134v1M109.5 138v1M111.5 131v1M111.5 134v1M112.5 10v1M112.5 14v2M113.5 17v1M113.5 133v1M116.5 136v2M117.5 137v1M119.5 13v1M123.5 38v1M124.5 11v2M126.5 15v1M127.5 138v1M129.5 12v1M130.5 134v1M130.5 137v2M132.5 46v1M132.5 134v1M135.5 30v1M135.5 34v2M135.5 37v1M135.5 41v1M135.5 44v2M135.5 63v1M135.5 66v1M135.5 70v1M135.5 74v1M135.5 85v1M135.5 89v1M135.5 91v1M135.5 96v1M135.5 106v1M135.5 115v1M136.5 32v1M136.5 60v1M136.5 104v2M137.5 30v1M137.5 40v1M137.5 73v1M137.5 85v1M137.5 90v1M137.5 102v1M137.5 112v1M138.5 31v1M138.5 44v1M138.5 65v1M138.5 78v1M138.5 102v1M138.5 114v1M139.5 30v2M139.5 33v1M139.5 43v2M139.5 57v2M139.5 61v1M139.5 66v1M139.5 70v1M139.5 81v1M139.5 85v1M139.5 87v1M139.5 91v1M139.5 94v1M139.5 118v1M139.5 127v1M140.5 21v1M140.5 78v1M140.5 99v1M141.5 31v1M141.5 34v1M141.5 37v1M141.5 40v1M141.5 43v4M141.5 62v1M141.5 65v1M141.5 77v1M141.5 81v2M141.5 84v1M141.5 86v2M141.5 90v2M141.5 93v1M141.5 96v2M141.5 107v2M141.5 110v1M141.5 123v1M141.5 125v1M142.5 31v2M142.5 35v2M142.5 41v1M142.5 43v1M142.5 52v1M142.5 61v2M142.5 68v1M142.5 72v2M142.5 78v3M142.5 82v1M142.5 87v1M142.5 89v2M142.5 92v1M142.5 97v1M142.5 99v1M142.5 101v1M142.5 103v2M142.5 108v2M142.5 111v2M142.5 114v1M142.5 116v2M142.5 119v1M142.5 126v1M143.5 38v1M143.5 40v1M143.5 47v2M143.5 69v1M143.5 72v1M143.5 75v1M143.5 79v1M143.5 81v1M143.5 104v1M143.5 114v1M143.5 116v1M144.5 29v1M144.5 33v2M144.5 44v2M144.5 47v1M146.5 36v1M146.5 38v1M146.5 47v1M146.5 64v1M146.5 70v1M146.5 81v1M146.5 91v1M146.5 94v1M146.5 100v1M146.5 105v2M146.5 114v2M146.5 117v1M146.5 123v1M147.5 1v1M147.5 38v1M147.5 45v1M147.5 54v1M147.5 69v1M147.5 80v1M147.5 85v1M147.5 92v1M147.5 114v1M147.5 123v1M148.5 42v2M148.5 71v1M148.5 74v2M148.5 81v1M148.5 85v1M148.5 94v2M148.5 97v1M148.5 102v3M148.5 112v1M148.5 116v1M148.5 123v1M149.5 92v3M149.5 97v1M149.5 123v1M149.5 135v1M150.5 32v1M150.5 39v1M150.5 44v1M150.5 46v1M150.5 56v1M150.5 69v1M150.5 71v1M150.5 76v1M150.5 84v1M150.5 86v1M150.5 89v2M150.5 93v1M150.5 95v1M150.5 108v1M150.5 110v1M150.5 112v1M150.5 117v1M150.5 123v2M150.5 126v1M151.5 29v1M151.5 34v1M151.5 48v1M151.5 53v1M151.5 69v1M151.5 85v1M151.5 87v1M151.5 97v1M151.5 102v1M151.5 107v1M151.5 124v1M151.5 128v1M152.5 68v1M152.5 107v1M152.5 112v2M153.5 60v1M153.5 73v1M153.5 84v1M153.5 88v1M153.5 106v4M153.5 119v1M153.5 122v1M154.5 38v1M154.5 48v1M154.5 53v2M154.5 65v1M154.5 71v3M154.5 77v1M154.5 118v1M154.5 120v1M154.5 124v1M155.5 30v1M155.5 45v1M155.5 63v1M155.5 66v1M155.5 69v2M155.5 75v2M155.5 94v1M155.5 96v1M155.5 101v2M155.5 106v1M155.5 108v1M155.5 111v1M155.5 118v3M155.5 127v1M157.5 34v1M157.5 103v1M157.5 106v1M158.5 29v1M158.5 45v1M158.5 49v1M158.5 56v2M158.5 60v1M158.5 63v1M158.5 65v1M158.5 70v2M158.5 74v1M158.5 78v1M158.5 81v4M158.5 88v1M158.5 94v1M158.5 100v2M158.5 106v1M158.5 109v2M158.5 112v1M158.5 125v3M158.5 130v1M159.5 31v1M159.5 38v1M159.5 58v1M159.5 61v1M159.5 77v2M159.5 96v1M159.5 100v1M159.5 110v1M159.5 130v1M160.5 79v1M161.5 80v1M161.5 97v1M161.5 126v1M161.5 135v1M162.5 37v1M162.5 55v1M162.5 69v1M162.5 117v1M162.5 122v1M163.5 35v1M163.5 39v1M163.5 43v1M163.5 46v1M163.5 48v1M163.5 55v1M163.5 57v1M163.5 61v1M164.5 35v1M164.5 38v1M164.5 42v1M164.5 45v1M164.5 51v1M164.5 114v3M164.5 124v1M164.5 130v1M165.5 41v1M165.5 79v1M165.5 110v1M165.5 126v1M166.5 42v1M166.5 62v1M166.5 66v1M166.5 70v1M166.5 80v3M166.5 85v2M166.5 90v1M166.5 93v1M166.5 95v2M166.5 99v1M166.5 102v1M166.5 111v1M166.5 117v2M166.5 122v1M166.5 131v1M166.5 133v1M167.5 32v1M167.5 47v1M167.5 52v1M167.5 55v2M167.5 61v1M168.5 29v1M168.5 39v1M168.5 43v1M168.5 45v4M168.5 51v3M168.5 56v1M168.5 58v1M168.5 61v1M168.5 77v1M168.5 119v1M168.5 131v2M170.5 32v1M170.5 35v1M170.5 49v1M170.5 68v1M170.5 72v3M170.5 76v1M170.5 82v1M170.5 95v1M170.5 104v1M170.5 107v1M170.5 138v1M171.5 31v1M171.5 38v2M171.5 41v1M171.5 49v1M171.5 52v1M171.5 58v1M171.5 62v1M171.5 64v2M171.5 69v2M171.5 74v1M171.5 76v4M171.5 82v3M171.5 87v1M171.5 90v1M171.5 92v1M171.5 95v1M171.5 98v1M171.5 100v1M171.5 107v1M171.5 109v1M171.5 111v1M171.5 113v2M171.5 121v3M172.5 31v1M172.5 34v1M172.5 37v1M172.5 40v1M172.5 43v2M172.5 47v1M172.5 50v1M172.5 58v3M172.5 62v1M172.5 64v1M172.5 75v2M172.5 81v2M172.5 88v1M172.5 91v1M172.5 99v1M172.5 110v2M172.5 115v4M172.5 124v1M172.5 126v1M173.5 40v1M173.5 42v2M173.5 50v2M173.5 56v1M173.5 58v1M173.5 63v1M173.5 108v1M173.5 117v1M173.5 120v1M174.5 31v1M174.5 33v1M174.5 35v1M174.5 44v1M174.5 56v2M174.5 70v1M174.5 72v2M174.5 77v1M174.5 80v1M174.5 82v3M174.5 90v5M174.5 105v1M174.5 110v2M174.5 120v1M174.5 126v2M175.5 14v1M175.5 16v2M175.5 32v1M175.5 49v1M175.5 71v1M175.5 88v1M175.5 93v1M175.5 97v1M175.5 117v1M175.5 129v1M176.5 26v1M176.5 91v1M177.5 10v1M177.5 14v1M177.5 16v1M177.5 22v1M177.5 36v1M177.5 40v1M177.5 43v2M177.5 47v1M177.5 54v2M177.5 60v1M177.5 63v1M177.5 67v1M177.5 74v2M177.5 77v1M177.5 81v1M177.5 85v5M177.5 91v1M177.5 93v1M177.5 95v1M177.5 98v3M177.5 102v2M177.5 112v1M177.5 119v1M177.5 123v4M178.5 10v1M178.5 19v1M178.5 41v2M178.5 44v1M178.5 57v2M178.5 63v1M178.5 123v1M179.5 23v1M179.5 54v1M179.5 90v1M179.5 99v1M179.5 105v1M179.5 109v1M179.5 111v1M179.5 114v1M179.5 117v2M179.5 121v2M180.5 19v1M180.5 28v1M180.5 30v1M180.5 43v1M180.5 55v1M180.5 70v1M180.5 78v1M180.5 82v1M180.5 90v1M180.5 96v3M180.5 106v1M180.5 119v1M180.5 129v1M180.5 138v1M181.5 24v1M181.5 46v1M181.5 72v1M181.5 75v1M181.5 84v1M181.5 99v2M181.5 104v2M181.5 108v1M181.5 110v1M181.5 120v2M181.5 126v1M182.5 13v1M182.5 18v2M182.5 47v1M182.5 115v1M183.5 10v1M183.5 12v1M183.5 29v1M183.5 33v1M183.5 35v1M183.5 47v1M183.5 57v3M183.5 65v1M183.5 67v1M183.5 71v4M183.5 83v1M183.5 88v1M183.5 93v4M183.5 99v1M183.5 107v2M183.5 115v1M183.5 138v1M184.5 11v1M184.5 17v1M184.5 23v1M184.5 44v1M184.5 70v1M184.5 75v1M184.5 90v1M184.5 95v1M184.5 102v1M185.5 36v1M185.5 46v1M185.5 50v1M185.5 56v1M185.5 60v1M185.5 64v2M185.5 68v1M185.5 73v1M185.5 90v1M185.5 96v1M185.5 110v1M185.5 117v1M185.5 121v1M185.5 125v1M185.5 127v1"/>
<path stroke="#efcfcc" d="M0.5 13v1M0.5 129v1M0.5 138v1M1.5 15v2M1.5 22v1M5.5 12v1M5.5 16v3M6.5 77v1M8.5 136v1M9.5 6v1M9.5 8v4M9.5 14v2M9.5 22v1M11.5 134v1M12.5 33v1M12.5 44v1M12.5 50v1M12.5 95v1M15.5 134v1M16.5 27v1M23.5 136v1M24.5 16v1M25.5 11v1M26.5 136v1M27.5 46v1M28.5 40v1M29.5 132v1M30.5 52v1M31.5 11v2M31.5 48v1M31.5 133v1M34.5 3v1M35.5 136v1M37.5 139v1M39.5 138v1M41.5 96v1M41.5 117v1M49.5 133v1M50.5 3v1M50.5 5v1M50.5 8v1M57.5 21v1M60.5 4v1M60.5 14v1M60.5 20v1M60.5 22v1M61.5 31v1M61.5 39v1M61.5 48v1M61.5 107v1M64.5 48v1M65.5 29v1M65.5 31v1M65.5 34v2M65.5 41v1M65.5 47v2M65.5 83v1M68.5 16v2M68.5 136v1M70.5 59v1M71.5 39v1M71.5 42v1M71.5 138v1M73.5 9v1M73.5 17v2M78.5 4v1M78.5 6v2M79.5 24v1M81.5 2v1M81.5 4v2M81.5 11v1M82.5 138v1M83.5 59v1M84.5 5v1M84.5 9v2M84.5 13v1M84.5 18v1M84.5 22v1M85.5 8v1M85.5 11v1M85.5 58v1M85.5 86v1M85.5 98v1M86.5 134v1M88.5 62v1M89.5 46v1M89.5 134v1M91.5 12v1M94.5 46v1M94.5 134v1M95.5 5v1M95.5 8v3M95.5 13v1M95.5 16v1M101.5 5v1M101.5 7v2M101.5 12v1M101.5 14v1M101.5 17v1M101.5 19v1M101.5 22v1M103.5 0v1M104.5 14v1M104.5 27v1M107.5 83v1M109.5 76v1M110.5 139v1M111.5 136v1M112.5 9v1M112.5 13v1M113.5 12v5M113.5 44v1M116.5 28v1M119.5 9v1M119.5 136v1M123.5 28v1M123.5 133v1M124.5 135v1M126.5 8v2M127.5 27v1M127.5 117v1M129.5 10v1M129.5 14v1M129.5 20v1M129.5 28v1M132.5 72v1M135.5 38v1M135.5 40v1M135.5 79v1M135.5 83v2M135.5 103v1M135.5 107v1M135.5 123v1M135.5 126v1M136.5 34v1M136.5 117v1M137.5 29v1M137.5 91v1M138.5 33v1M139.5 32v1M139.5 76v1M139.5 104v1M140.5 83v1M141.5 39v1M141.5 42v1M141.5 47v2M141.5 74v1M141.5 94v2M141.5 98v1M141.5 109v1M141.5 112v1M141.5 127v1M142.5 29v1M142.5 33v1M142.5 37v2M142.5 85v1M142.5 88v1M142.5 93v1M142.5 96v1M142.5 102v1M142.5 106v1M142.5 110v1M142.5 115v1M142.5 127v1M143.5 73v1M143.5 93v1M143.5 107v1M143.5 118v1M144.5 30v2M144.5 36v1M144.5 40v1M144.5 43v1M144.5 46v1M145.5 53v1M146.5 77v1M146.5 90v1M146.5 96v1M146.5 119v1M147.5 88v2M147.5 93v1M148.5 62v1M148.5 65v1M148.5 69v1M148.5 90v1M148.5 93v1M150.5 57v1M150.5 96v1M150.5 98v1M150.5 107v1M151.5 70v1M151.5 72v1M151.5 75v1M151.5 88v1M151.5 91v1M151.5 113v2M151.5 117v1M151.5 122v1M153.5 34v1M153.5 37v1M153.5 76v1M153.5 82v1M153.5 87v1M153.5 92v1M153.5 98v1M153.5 123v2M153.5 134v1M155.5 41v1M155.5 73v1M155.5 78v1M157.5 86v1M158.5 36v3M158.5 42v1M158.5 53v1M158.5 76v1M158.5 80v1M158.5 87v1M158.5 89v1M158.5 92v1M158.5 95v1M158.5 97v1M158.5 104v2M158.5 108v1M158.5 111v1M158.5 114v1M158.5 120v2M158.5 123v1M159.5 57v1M159.5 81v2M159.5 88v1M159.5 95v1M159.5 101v1M159.5 107v1M159.5 117v1M159.5 129v1M161.5 75v1M161.5 103v1M161.5 106v1M162.5 68v1M162.5 119v1M163.5 31v1M163.5 34v1M163.5 37v2M163.5 44v2M163.5 47v1M163.5 49v1M163.5 51v1M163.5 60v1M163.5 66v1M163.5 87v1M163.5 111v1M163.5 123v2M164.5 2v1M164.5 32v1M164.5 34v1M164.5 37v1M164.5 39v1M164.5 47v2M164.5 60v1M164.5 62v1M164.5 64v1M164.5 66v1M164.5 86v2M164.5 90v1M164.5 98v1M164.5 104v1M164.5 113v1M164.5 119v2M164.5 125v1M164.5 128v1M166.5 75v1M166.5 77v1M166.5 92v1M166.5 94v1M167.5 29v1M167.5 33v1M167.5 35v1M167.5 37v1M167.5 44v1M167.5 49v1M167.5 63v2M167.5 66v1M167.5 117v1M168.5 31v1M168.5 35v1M168.5 37v1M168.5 44v1M168.5 50v1M168.5 54v1M168.5 59v1M168.5 62v2M168.5 68v1M168.5 80v1M168.5 91v1M168.5 120v1M168.5 129v2M168.5 133v1M170.5 99v1M170.5 116v1M171.5 13v1M171.5 67v2M171.5 71v1M171.5 80v1M171.5 85v1M171.5 93v1M171.5 97v1M171.5 106v1M171.5 108v1M171.5 119v1M171.5 130v1M172.5 32v1M172.5 35v1M172.5 42v1M172.5 49v1M172.5 57v1M172.5 67v3M172.5 77v1M172.5 85v3M172.5 89v2M172.5 92v1M172.5 94v2M172.5 101v1M172.5 104v2M172.5 114v1M172.5 121v3M172.5 127v1M172.5 130v1M173.5 29v1M173.5 36v1M173.5 38v2M173.5 44v1M173.5 47v1M173.5 53v2M173.5 57v1M173.5 59v2M173.5 72v1M173.5 84v1M173.5 90v1M173.5 95v1M173.5 99v1M173.5 102v1M173.5 111v1M173.5 113v1M173.5 119v1M173.5 121v1M173.5 123v1M173.5 125v2M173.5 129v1M174.5 34v1M174.5 36v1M174.5 43v1M174.5 78v1M174.5 86v1M174.5 96v1M174.5 98v1M174.5 107v1M174.5 112v1M175.5 84v1M175.5 98v1M175.5 132v1M177.5 29v1M177.5 34v1M177.5 37v1M177.5 41v1M177.5 46v1M177.5 52v1M177.5 59v1M177.5 62v1M177.5 72v1M177.5 79v1M177.5 84v1M177.5 90v1M177.5 97v1M177.5 101v1M177.5 104v1M178.5 31v1M178.5 36v2M178.5 40v1M178.5 47v2M178.5 61v1M178.5 65v1M178.5 88v1M178.5 104v1M178.5 117v2M178.5 120v1M178.5 122v1M178.5 124v1M178.5 127v1M178.5 129v1M179.5 67v2M179.5 86v1M179.5 96v1M179.5 125v1M180.5 41v1M180.5 104v1M180.5 110v2M181.5 13v1M181.5 47v1M181.5 69v1M181.5 71v1M181.5 78v1M181.5 112v1M181.5 125v1M182.5 21v1M183.5 34v1M183.5 36v1M183.5 42v1M183.5 46v1M183.5 78v1M183.5 91v1M183.5 97v1M183.5 100v1M183.5 113v1M183.5 116v1M183.5 123v1M184.5 25v2M184.5 85v1M185.5 37v1M185.5 42v4M185.5 48v2M185.5 53v1M185.5 55v1M185.5 58v1M185.5 62v1M185.5 66v1M185.5 75v1M185.5 77v1M185.5 100v1M185.5 102v1M185.5 113v1M185.5 116v1M185.5 120v1M185.5 123v1"/>
<path stroke="#eec7c3" d="M1.5 10v2M1.5 13v1M1.5 17v1M1.5 21v1M3.5 27v2M5.5 11v1M5.5 14v1M5.5 19v1M5.5 53v1M9.5 5v1M9.5 16v1M9.5 19v1M9.5 36v1M13.5 20v1M16.5 12v1M22.5 61v1M25.5 72v1M27.5 31v1M30.5 64v1M31.5 9v1M31.5 13v2M31.5 17v2M31.5 51v1M34.5 0v1M34.5 2v1M34.5 4v1M34.5 10v2M40.5 9v1M40.5 15v1M40.5 17v1M42.5 134v1M45.5 38v1M50.5 2v1M50.5 4v1M50.5 9v2M51.5 21v1M54.5 83v1M54.5 96v1M57.5 19v1M60.5 6v1M60.5 12v1M60.5 15v2M60.5 19v1M60.5 21v1M60.5 23v1M60.5 118v1M65.5 32v1M65.5 37v1M65.5 50v1M67.5 0v1M68.5 10v2M68.5 13v3M68.5 22v1M68.5 24v1M69.5 14v1M72.5 61v1M76.5 14v1M78.5 123v1M79.5 134v1M80.5 15v2M80.5 21v1M80.5 24v1M81.5 6v1M81.5 9v1M81.5 12v2M81.5 16v1M84.5 4v1M84.5 7v1M84.5 12v1M84.5 14v1M84.5 16v1M95.5 4v1M95.5 12v1M95.5 15v1M99.5 25v1M101.5 11v1M101.5 13v1M101.5 18v1M101.5 20v1M101.5 23v1M104.5 15v1M106.5 18v1M106.5 51v1M112.5 11v2M112.5 16v1M113.5 10v2M113.5 19v1M119.5 1v3M119.5 5v2M119.5 8v1M119.5 16v1M119.5 18v1M119.5 20v1M121.5 24v1M126.5 6v2M126.5 11v1M126.5 132v1M129.5 17v1M129.5 19v1M129.5 22v1M129.5 134v1M131.5 100v1M133.5 11v1M133.5 137v1M135.5 31v1M138.5 109v1M141.5 29v1M141.5 33v1M141.5 99v1M141.5 122v1M142.5 34v1M143.5 70v1M143.5 105v1M144.5 32v1M144.5 38v1M151.5 32v1M151.5 81v1M151.5 104v1M151.5 115v1M151.5 119v1M154.5 92v1M155.5 77v1M155.5 82v1M155.5 89v1M155.5 114v1M158.5 30v2M158.5 69v1M158.5 73v1M158.5 90v1M158.5 93v1M158.5 96v1M158.5 98v2M158.5 116v1M158.5 118v2M158.5 129v1M159.5 115v1M159.5 120v1M163.5 33v1M163.5 36v1M163.5 40v2M163.5 58v2M163.5 63v3M163.5 69v1M163.5 75v1M163.5 80v2M163.5 91v1M163.5 104v1M163.5 110v1M163.5 112v2M163.5 115v1M163.5 118v2M163.5 122v1M163.5 126v5M164.5 29v2M164.5 36v1M164.5 40v1M164.5 43v1M164.5 54v1M164.5 68v1M164.5 72v1M164.5 74v1M164.5 76v1M164.5 78v1M164.5 83v3M164.5 88v1M164.5 102v2M164.5 105v1M164.5 107v1M164.5 109v2M164.5 112v1M164.5 121v1M164.5 123v1M164.5 127v1M164.5 129v1M166.5 105v1M167.5 30v2M167.5 39v2M167.5 42v1M167.5 53v1M167.5 58v1M167.5 65v1M167.5 68v1M167.5 82v1M167.5 109v3M167.5 120v5M167.5 130v1M168.5 33v1M168.5 38v1M168.5 40v1M168.5 57v1M168.5 64v3M168.5 70v1M168.5 74v1M168.5 107v1M168.5 114v1M168.5 116v3M168.5 126v3M170.5 109v1M171.5 61v1M171.5 75v1M171.5 81v1M171.5 91v1M171.5 112v1M172.5 30v1M172.5 33v1M172.5 55v1M172.5 65v1M172.5 79v2M172.5 93v1M172.5 96v2M172.5 103v1M172.5 106v1M172.5 108v1M172.5 113v1M172.5 119v2M172.5 125v1M173.5 32v2M173.5 45v1M173.5 65v2M173.5 68v2M173.5 71v1M173.5 76v1M173.5 79v1M173.5 82v2M173.5 85v2M173.5 94v1M173.5 97v1M173.5 107v1M173.5 112v1M173.5 115v2M173.5 118v1M173.5 122v1M173.5 124v1M173.5 130v1M174.5 79v1M174.5 116v1M177.5 31v1M177.5 70v1M177.5 94v1M177.5 108v1M177.5 110v1M177.5 117v1M178.5 29v2M178.5 32v2M178.5 35v1M178.5 43v1M178.5 45v2M178.5 62v1M178.5 73v1M178.5 89v1M178.5 105v2M178.5 114v3M178.5 119v1M178.5 128v1M181.5 91v1M183.5 70v1M183.5 79v1M183.5 82v1M183.5 105v2M184.5 19v2M185.5 31v3M185.5 38v1M185.5 63v1M185.5 69v3M185.5 76v1M185.5 78v1M185.5 85v1M185.5 94v1M185.5 101v1M185.5 103v2M185.5 109v1M185.5 112v1M185.5 119v1M185.5 128v1"/>
<path stroke="#ecbfbb" d="M1.5 12v1M1.5 19v1M2.5 108v1M3.5 20v1M5.5 8v1M5.5 13v1M5.5 15v1M7.5 97v1M9.5 4v1M9.5 21v1M9.5 23v1M16.5 14v1M16.5 20v1M16.5 25v1M30.5 17v1M31.5 15v1M34.5 6v1M34.5 8v2M40.5 14v1M41.5 7v1M42.5 15v1M50.5 6v2M58.5 130v1M60.5 7v1M60.5 11v1M60.5 17v2M63.5 2v1M66.5 26v1M67.5 76v1M68.5 8v1M68.5 12v1M68.5 18v1M68.5 20v2M71.5 9v1M71.5 54v1M78.5 21v1M80.5 8v1M80.5 10v2M80.5 13v2M80.5 18v1M80.5 20v1M80.5 22v2M81.5 3v1M81.5 14v2M81.5 17v1M84.5 6v1M88.5 8v1M93.5 139v1M95.5 6v1M95.5 17v3M96.5 16v1M101.5 6v1M101.5 21v1M112.5 88v1M113.5 18v1M117.5 12v1M119.5 4v1M119.5 7v1M119.5 12v1M119.5 14v2M119.5 21v1M120.5 2v1M120.5 4v3M120.5 9v1M122.5 8v1M126.5 5v1M129.5 11v1M129.5 13v1M129.5 15v2M129.5 18v1M129.5 21v1M129.5 23v1M131.5 12v1M132.5 20v1M139.5 38v1M142.5 91v1M144.5 35v1M144.5 37v1M144.5 41v1M144.5 48v1M158.5 75v1M158.5 79v1M158.5 85v1M158.5 107v1M158.5 113v1M158.5 124v1M162.5 8v1M163.5 29v2M163.5 32v1M163.5 53v1M163.5 70v1M163.5 74v1M163.5 78v1M163.5 89v1M163.5 114v1M163.5 116v1M163.5 121v1M163.5 125v1M164.5 69v3M164.5 73v1M164.5 79v4M164.5 92v1M164.5 95v1M164.5 97v1M164.5 100v1M164.5 108v1M164.5 111v1M164.5 117v2M164.5 122v1M167.5 34v1M167.5 41v1M167.5 43v1M167.5 45v2M167.5 48v1M167.5 51v1M167.5 59v2M167.5 67v1M167.5 72v1M167.5 74v2M167.5 80v1M167.5 86v1M167.5 97v1M167.5 106v1M167.5 108v1M167.5 112v2M167.5 116v1M167.5 118v2M167.5 129v1M167.5 131v1M168.5 36v1M168.5 42v1M168.5 49v1M168.5 60v1M168.5 67v1M168.5 72v1M168.5 84v1M168.5 87v1M168.5 102v1M168.5 104v3M168.5 108v1M168.5 110v4M168.5 115v1M168.5 121v1M168.5 123v3M172.5 70v1M172.5 98v1M172.5 102v1M172.5 107v1M173.5 30v1M173.5 35v1M173.5 48v1M173.5 74v2M173.5 77v1M173.5 80v2M173.5 88v1M173.5 91v1M173.5 96v1M173.5 101v1M173.5 106v1M173.5 110v1M173.5 114v1M173.5 127v1M177.5 69v1M177.5 96v1M177.5 106v1M178.5 34v1M178.5 38v2M178.5 53v1M178.5 55v1M178.5 59v2M178.5 64v1M178.5 67v1M178.5 71v1M178.5 74v5M178.5 82v4M178.5 92v2M178.5 98v2M178.5 108v2M178.5 126v1M178.5 130v1M183.5 81v1M183.5 87v1M185.5 29v2M185.5 35v1M185.5 39v1M185.5 41v1M185.5 72v1M185.5 74v1M185.5 79v2M185.5 82v1M185.5 84v1M185.5 86v1M185.5 88v1M185.5 92v1M185.5 95v1M185.5 97v2M185.5 106v3M185.5 111v1M185.5 115v1M185.5 122v1M185.5 126v1M185.5 129v1"/>
<path stroke="#ebb7b2" d="M3.5 14v1M3.5 18v1M3.5 21v1M3.5 23v1M5.5 9v1M9.5 20v1M10.5 4v1M16.5 13v1M16.5 15v2M16.5 19v1M16.5 22v1M16.5 24v1M16.5 26v1M23.5 20v1M26.5 13v1M31.5 16v1M36.5 136v1M40.5 10v4M46.5 5v1M54.5 13v1M55.5 10v1M59.5 15v1M60.5 8v3M60.5 24v3M64.5 7v1M68.5 19v1M80.5 9v1M80.5 17v1M80.5 19v1M80.5 26v1M81.5 10v1M81.5 112v1M94.5 19v1M95.5 11v1M95.5 14v1M101.5 9v1M101.5 26v1M105.5 5v1M111.5 11v1M113.5 23v1M114.5 20v1M119.5 17v1M120.5 3v1M120.5 7v2M120.5 10v1M120.5 12v1M121.5 12v1M125.5 1v1M126.5 4v1M158.5 102v1M163.5 62v1M163.5 67v2M163.5 71v1M163.5 76v1M163.5 79v1M163.5 83v1M163.5 90v1M163.5 94v1M163.5 96v1M163.5 98v3M163.5 103v1M163.5 106v2M163.5 109v1M163.5 117v1M163.5 120v1M164.5 44v1M164.5 75v1M164.5 77v1M164.5 94v1M164.5 96v1M164.5 99v1M164.5 101v1M167.5 36v1M167.5 38v1M167.5 62v1M167.5 71v1M167.5 87v2M167.5 90v1M167.5 93v1M167.5 99v1M167.5 101v2M167.5 114v2M167.5 125v4M167.5 132v2M168.5 41v1M168.5 69v1M168.5 76v1M168.5 78v1M168.5 81v2M168.5 86v1M168.5 89v1M168.5 94v3M168.5 103v1M168.5 109v1M168.5 122v1M172.5 72v1M172.5 100v1M173.5 70v1M173.5 73v1M173.5 78v1M173.5 87v1M173.5 89v1M173.5 92v2M173.5 98v1M173.5 100v1M173.5 103v3M173.5 128v1M178.5 66v1M178.5 69v1M178.5 72v1M178.5 80v2M178.5 86v2M178.5 91v1M178.5 95v1M178.5 101v1M178.5 103v1M178.5 107v1M178.5 112v2M185.5 40v1M185.5 81v1M185.5 83v1M185.5 87v1M185.5 91v1M185.5 93v1M185.5 99v1M185.5 105v1M185.5 114v1M185.5 118v1"/>
<path stroke="#e9afa9" d="M1.5 6v1M3.5 11v1M3.5 13v1M3.5 19v1M3.5 22v1M3.5 25v1M8.5 0v1M16.5 18v1M16.5 21v1M16.5 23v1M25.5 1v1M27.5 16v1M32.5 13v1M34.5 5v1M40.5 16v1M45.5 21v1M47.5 25v1M50.5 14v1M55.5 7v1M55.5 14v1M60.5 5v1M62.5 6v1M71.5 24v1M74.5 15v1M88.5 6v1M88.5 16v1M95.5 7v1M98.5 6v1M124.5 4v1M126.5 10v1M126.5 24v1M144.5 57v1M144.5 61v1M163.5 72v2M163.5 77v1M163.5 85v2M163.5 88v1M163.5 95v1M163.5 97v1M163.5 101v2M163.5 105v1M163.5 108v1M164.5 61v1M164.5 89v1M164.5 91v1M164.5 93v1M167.5 69v1M167.5 73v1M167.5 76v2M167.5 79v1M167.5 83v2M167.5 89v1M167.5 95v2M167.5 103v1M168.5 71v1M168.5 75v1M168.5 79v1M168.5 85v1M168.5 88v1M168.5 90v1M168.5 93v1M168.5 97v5M173.5 109v1M178.5 68v1M178.5 79v1M178.5 90v1M178.5 94v1M178.5 96v1M178.5 100v1M178.5 102v1M178.5 110v2M178.5 125v1M185.5 34v1M185.5 67v1M185.5 89v1"/>
<path stroke="#e8a7a1" d="M3.5 10v1M3.5 12v1M3.5 15v3M3.5 24v1M3.5 26v1M16.5 17v1M57.5 26v1M73.5 7v1M80.5 12v1M82.5 10v1M89.5 22v1M115.5 22v1M120.5 11v1M124.5 6v1M130.5 24v1M144.5 55v1M144.5 58v1M144.5 60v1M144.5 64v2M144.5 92v1M144.5 120v1M144.5 123v1M144.5 128v1M163.5 82v1M163.5 84v1M163.5 92v2M164.5 106v1M167.5 70v1M167.5 78v1M167.5 81v1M167.5 91v2M167.5 94v1M167.5 98v1M167.5 100v1M167.5 104v2M167.5 107v1M168.5 73v1M168.5 92v1M173.5 34v1M178.5 70v1M178.5 97v1"/>
<path stroke="#e69f98" d="M83.5 24v1M144.5 52v1M144.5 54v1M144.5 59v1M144.5 63v1M144.5 66v1M144.5 69v1M144.5 71v2M144.5 74v2M144.5 84v1M144.5 88v1M144.5 94v1M144.5 98v1M144.5 106v1M144.5 112v1M144.5 116v1M144.5 124v1M144.5 129v1M167.5 85v1M168.5 83v1M178.5 121v1M184.5 12v1"/>
<path stroke="#e59690" d="M35.5 5v1M144.5 49v1M144.5 51v1M144.5 53v1M144.5 68v1M144.5 70v1M144.5 76v1M144.5 81v1M144.5 85v2M144.5 95v3M144.5 103v2M144.5 107v4M144.5 113v1M144.5 121v1M144.5 125v2"/>
<path stroke="#e38e87" d="M119.5 19v1M144.5 50v1M144.5 56v1M144.5 62v1M144.5 67v1M144.5 77v1M144.5 79v2M144.5 82v1M144.5 87v1M144.5 89v2M144.5 105v1M144.5 111v1M144.5 114v1M144.5 118v2M144.5 122v1M144.5 130v1"/>
<path stroke="#e2867e" d="M5.5 10v1M119.5 11v1M144.5 73v1M144.5 78v1M144.5 91v1M144.5 93v1M144.5 100v3M144.5 117v1M144.5 127v1"/>
<path stroke="#e07e76" d="M144.5 83v1M144.5 99v1M144.5 115v1"/>
</g>
<rect x="175" y="2342.5" width="466" height="51" fill="url(#cb2)"/>
<path d="M222 2393.5v8.5M298.5 2393.5v8.5M375 2393.5v8.5M451.5 2393.5v8.5M528 2393.5v8.5M604.5 2393.5v8.5" stroke="#222" stroke-width="1.3" fill="none"/>
<text x="215" y="2436.5" font-size="26" text-anchor="middle" fill="#111">-2</text>
<text x="299" y="2433" font-size="26" text-anchor="middle" fill="#111">0</text>
<text x="378.5" y="2436.5" font-size="26" text-anchor="middle" fill="#111">2</text>
<text x="455" y="2437.5" font-size="26" text-anchor="middle" fill="#111">4</text>
<text x="527.5" y="2434" font-size="26" text-anchor="middle" fill="#111">6</text>
<text x="602.5" y="2430" font-size="26" text-anchor="middle" fill="#111">8</text>
<text x="235" y="2469.5" font-size="19.6" fill="#111" textLength="360" lengthAdjust="spacingAndGlyphs">Z-Transformed Log TPM Gene Counts</text>
<text x="961" y="139" font-size="66" font-weight="bold" textLength="36" lengthAdjust="spacingAndGlyphs">b</text>
<path d="M1221.38 56.5V549.3M1368.62 56.5V549.3M1515.88 56.5V549.3M1663.12 56.5V549.3M1119 471.44H1765.3M1119 359.31H1765.3M1119 247.19H1765.3M1119 135.06H1765.3" stroke="#e9e9e9" stroke-width="0.9" fill="none"/>
<path d="M1147.75 56.5V549.3M1295 56.5V549.3M1442.25 56.5V549.3M1589.5 56.5V549.3M1736.75 56.5V549.3M1119 527.5H1765.3M1119 415.38H1765.3M1119 303.25H1765.3M1119 191.12H1765.3M1119 79H1765.3" stroke="#dedede" stroke-width="1.4" fill="none"/>
<path d="M1147.75 549.3v5.5M1295 549.3v5.5M1442.25 549.3v5.5M1589.5 549.3v5.5M1736.75 549.3v5.5M1119 527.5h-5.5M1119 415.38h-5.5M1119 303.25h-5.5M1119 191.12h-5.5M1119 79h-5.5" stroke="#333" stroke-width="1.5" fill="none"/>
<g font-size="22.5" fill="#3d3d3d">
<text x="1108" y="535.8" text-anchor="end">0.00</text>
<text x="1108" y="423.68" text-anchor="end">0.25</text>
<text x="1108" y="311.55" text-anchor="end">0.50</text>
<text x="1108" y="199.43" text-anchor="end">0.75</text>
<text x="1108" y="87.3" text-anchor="end">1.00</text>
<text x="1147.75" y="578.3" text-anchor="middle">0</text>
<text x="1295" y="578.3" text-anchor="middle">250</text>
<text x="1442.25" y="578.3" text-anchor="middle">500</text>
<text x="1589.5" y="578.3" text-anchor="middle">750</text>
<text x="1736.75" y="578.3" text-anchor="middle">1000</text>
</g>
<text x="1054.5" y="513.75" font-size="23" textLength="421" lengthAdjust="spacingAndGlyphs" transform="rotate(-90 1054.5 513.75)">Survival probability Disease Free Interval</text>
<text x="1383.5" y="604.3" font-size="21" textLength="117" lengthAdjust="spacingAndGlyphs">Time in Days</text>
<text x="1174.5" y="18" font-size="21.7" textLength="59.3" lengthAdjust="spacingAndGlyphs">Strata</text>
<path d="M1248.7 9.8h18.8" stroke="#ff7f0e" stroke-width="1.8"/>
<path d="M1252.8 10.1h10.4M1258 4.9v10.4" stroke="#ff7f0e" stroke-width="1.6" fill="none"/>
<text x="1282.5" y="17.5" font-size="18" fill="#1a1a1a" textLength="216.3" lengthAdjust="spacingAndGlyphs">PROGNOSIS=FAVORABLE</text>
<path d="M1514.3 9.8h18.8" stroke="#0e5010" stroke-width="1.8"/>
<path d="M1518.5 10.1h10.4M1523.7 4.9v10.4" stroke="#0e5010" stroke-width="1.6" fill="none"/>
<text x="1547.5" y="17.5" font-size="18" fill="#1a1a1a" textLength="163" lengthAdjust="spacingAndGlyphs">PROGNOSIS=POOR</text>
<path d="M1147.75 303.25H1285.75M1236.25 303.25V527.5M1285.75 303.25V527.5" stroke="#262626" stroke-width="1.45" stroke-dasharray="4.2 4.2" fill="none"/>
<path d="M1147.5 78.75H1179.88V97H1181.75V103H1184.5V112.5H1185.4V119.1H1196.95V136.65H1197.88V144H1204.35V153.25H1205.25V161.5H1216.35V169.9H1226V178.2H1228.75V188.38H1240.75V197.5H1242.5V205H1244.5V223.75H1249.5V232.5H1266.25V241.25H1268.75V251.25H1272V260H1273.75V270H1276.25V278.75H1279.5V296.25H1284.5V306.25H1295V315H1302.5V332.5H1315V343.75H1322.5V353H1336.25V361.25H1365V371.25H1373V380H1382.5V389.25H1393V398H1407.5V408H1503.75V417H1565.5V429.25H1577.5V442.5H1765.3" stroke="#ff7f0e" stroke-width="1.9" fill="none" stroke-linejoin="round"/>
<path d="M1147.5 78.75H1167.5V79H1174.25V81.25H1177.5V83.75H1179V86.75H1179.42V90.17H1179.83V93.58H1180.25V97H1180.5V100.08H1180.75V103.17H1181V106.25H1181.25V109.33H1181.5V112.42H1181.75V115.5H1181.93V118.79H1182.11V122.07H1182.29V125.36H1182.46V128.64H1182.64V131.93H1182.82V135.21H1183V138.5H1183.14V141.79H1183.29V145.07H1183.43V148.36H1183.57V151.64H1183.71V154.93H1183.86V158.21H1184V161.5H1184.3V164.85H1184.6V168.2H1184.9V171.55H1185.2V174.9H1185.5V178.25H1189V181H1189.55V184.5H1190.1V188H1190.65V191.5H1191.2V195H1191.75V198.5H1192.38V201.12H1193V203.75H1194.62V206.88H1196.25V210H1196.88V212.5H1197.5V215H1200V217.5H1202.5V220H1203.75V222.5H1205V225H1205.42V228.33H1205.83V231.67H1206.25V235H1206.5V238.25H1206.75V241.5H1207V244.75H1207.25V248H1207.5V251.25H1207.92V254.17H1208.33V257.08H1208.75V260H1209V262.9H1209.25V265.8H1209.5V268.7H1209.75V271.6H1210V274.5H1211.25V277.88H1212.5V281.25H1213.75V283.12H1215V285H1218.12V286.88H1221.25V288.75H1223.75V291.88H1226.25V295H1227.5V297.75H1228.75V300.5H1231.88V303.38H1235V306.25H1235.75V309.06H1236.5V311.88H1237.25V314.69H1238V317.5H1238.5V320H1239V322.5H1239.5V325H1240.08V328.33H1240.67V331.67H1241.25V335H1243.12V337.5H1245V340H1246.25V341.88H1247.5V343.75H1251.25V346.25H1255V348.75H1257.5V351.25H1260V353.75H1262.5V356.25H1264.38V359.38H1266.25V362.5H1267.33V365.42H1268.42V368.33H1269.5V371.25H1273.75V374.5H1280V378H1288.75V380.5H1293.12V382.75H1297.5V385H1301.88V386.88H1306.25V388.75H1310.62V391.25H1315V393.75H1316.25V395.88H1317.5V398H1319.38V400.25H1321.25V402.5H1324.38V404.38H1327.5V406.25H1330V408.12H1332.5V410H1334.38V411.88H1336.25V413.75H1338.12V415.62H1340V417.5H1341.25V420H1342.5V422.5H1346.25V423H1398.75V423H1399.5V430H1400.38V433.12H1401.25V436.25H1405.62V438.38H1410V440.5H1413.75V443H1417.5V445.5H1418.75V447.75H1420V450H1422.5V452.25H1425V454.5H1426.88V456.62H1428.75V458.75H1433.75V460.88H1438.75V463H1440.62V465.25H1442.5V467.5H1448.75V470.25H1455V473H1551V479.25H1651.75V488.25H1695.5V498H1765.3" stroke="#0e5010" stroke-width="1.9" fill="none" stroke-linejoin="round"/>
<path d="M1202.6 161.25h9.8M1207.5 156.35v9.8M1259.35 233h9.8M1264.25 228.1v9.8M1459.6 408h9.8M1464.5 403.1v9.8M1523.1 417.5h9.8M1528 412.6v9.8M1533.6 417.5h9.8M1538.5 412.6v9.8M1676.1 443h9.8M1681 438.1v9.8M1725.1 443h9.8M1730 438.1v9.8M1734.6 443h9.8M1739.5 438.1v9.8M1758.6 443h9.8M1763.5 438.1v9.8" stroke="#ff7f0e" stroke-width="1.6" fill="none"/>
<path d="M1149.85 79.75h9.8M1154.75 74.85v9.8M1151.85 79.75h9.8M1156.75 74.85v9.8M1156.85 79.75h9.8M1161.75 74.85v9.8M1159.35 79.75h9.8M1164.25 74.85v9.8M1162.1 80h9.8M1167 75.1v9.8" stroke="#0e5010" stroke-width="1.4" fill="none"/>
<path d="M1168.6 84h9.8M1173.5 79.1v9.8M1178.85 167.5h9.8M1183.75 162.6v9.8M1180.6 178.25h9.8M1185.5 173.35v9.8M1202.1 251.25h9.8M1207 246.35v9.8M1205.6 274.5h9.8M1210.5 269.6v9.8M1253.85 350h9.8M1258.75 345.1v9.8M1265.6 370.75h9.8M1270.5 365.85v9.8M1345.1 423.75h9.8M1350 418.85v9.8M1353.85 423.75h9.8M1358.75 418.85v9.8M1501.85 473.75h9.8M1506.75 468.85v9.8M1512.6 473.75h9.8M1517.5 468.85v9.8M1540.6 473.75h9.8M1545.5 468.85v9.8M1551.85 480h9.8M1556.75 475.1v9.8M1552.6 480.5h9.8M1557.5 475.6v9.8M1602.6 480h9.8M1607.5 475.1v9.8M1721.85 499.25h9.8M1726.75 494.35v9.8" stroke="#0e5010" stroke-width="1.6" fill="none"/>
<text x="1159.5" y="446" font-size="21" textLength="100" lengthAdjust="spacingAndGlyphs">p = 0.0095</text>
<rect x="1245.5" y="99.5" width="36" height="38" fill="#ed7d31"/>
<rect x="1246.7" y="148" width="36" height="37.7" fill="#00b050"/>
<text x="1282" y="132" font-size="35.5" textLength="437" lengthAdjust="spacingAndGlyphs">Median DFI = 234 , N=58</text>
<text x="1284.2" y="180" font-size="35.5" textLength="436.9" lengthAdjust="spacingAndGlyphs">Median DFI =150, N=128</text>
<rect x="1119" y="56.5" width="646.3" height="492.8" fill="none" stroke="#8c8c8c" stroke-width="1.3"/>
<text x="955" y="697.5" font-size="66" font-weight="bold" textLength="30" lengthAdjust="spacingAndGlyphs">c</text>
<path d="M1231.11 692.5V1185M1378.34 692.5V1185M1525.56 692.5V1185M1672.78 692.5V1185M1128 1106.94H1775M1128 994.81H1775M1128 882.69H1775M1128 770.56H1775" stroke="#e9e9e9" stroke-width="0.9" fill="none"/>
<path d="M1157.5 692.5V1185M1304.72 692.5V1185M1451.95 692.5V1185M1599.17 692.5V1185M1746.4 692.5V1185M1128 1163H1775M1128 1050.88H1775M1128 938.75H1775M1128 826.62H1775M1128 714.5H1775" stroke="#dedede" stroke-width="1.4" fill="none"/>
<path d="M1157.5 1185v5.5M1304.72 1185v5.5M1451.95 1185v5.5M1599.17 1185v5.5M1746.4 1185v5.5M1128 1163h-5.5M1128 1050.88h-5.5M1128 938.75h-5.5M1128 826.62h-5.5M1128 714.5h-5.5" stroke="#333" stroke-width="1.5" fill="none"/>
<g font-size="22.5" fill="#3d3d3d">
<text x="1117" y="1171.3" text-anchor="end">0.00</text>
<text x="1117" y="1059.17" text-anchor="end">0.25</text>
<text x="1117" y="947.05" text-anchor="end">0.50</text>
<text x="1117" y="834.92" text-anchor="end">0.75</text>
<text x="1117" y="722.8" text-anchor="end">1.00</text>
<text x="1157.5" y="1213.3" text-anchor="middle">0</text>
<text x="1304.72" y="1213.3" text-anchor="middle">400</text>
<text x="1451.95" y="1213.3" text-anchor="middle">800</text>
<text x="1599.17" y="1213.3" text-anchor="middle">1200</text>
<text x="1746.4" y="1213.3" text-anchor="middle">1600</text>
</g>
<text x="1063" y="1124.25" font-size="23" textLength="371" lengthAdjust="spacingAndGlyphs" transform="rotate(-90 1063 1124.25)">Survival probability Overall Survivall</text>
<text x="1393" y="1238.3" font-size="21" textLength="117" lengthAdjust="spacingAndGlyphs">Time in Days</text>
<text x="1183.5" y="653.4" font-size="21.7" textLength="59.3" lengthAdjust="spacingAndGlyphs">Strata</text>
<path d="M1257.7 645.2h18.8" stroke="#ff7f0e" stroke-width="1.8"/>
<path d="M1261.8 645.5h10.4M1267 640.3v10.4" stroke="#ff7f0e" stroke-width="1.6" fill="none"/>
<text x="1291.5" y="652.9" font-size="18" fill="#1a1a1a" textLength="216.3" lengthAdjust="spacingAndGlyphs">PROGNOSIS=FAVORABLE</text>
<path d="M1523.3 645.2h18.8" stroke="#0e5010" stroke-width="1.8"/>
<path d="M1527.5 645.5h10.4M1532.7 640.3v10.4" stroke="#0e5010" stroke-width="1.6" fill="none"/>
<text x="1556.5" y="652.9" font-size="18" fill="#1a1a1a" textLength="163" lengthAdjust="spacingAndGlyphs">PROGNOSIS=POOR</text>
<path d="M1157.5 938.75H1295.5M1248 938.75V1163M1295.5 938.75V1163" stroke="#262626" stroke-width="1.45" stroke-dasharray="4.2 4.2" fill="none"/>
<path d="M1157.5 714.5H1198.17V721.75H1208.75V730.1H1213V739.33H1215.25V755H1216.2V771.65H1218.95V779.5H1223.58V787.8H1226.8V796.58H1232.35V805.35H1237.42V815H1239.25V833.5H1240V841.25H1241.25V851.25H1249.25V867.5H1255.5V878.75H1261.75V896.25H1264.25V905H1266.25V915.5H1275V924.5H1292.5V935H1295V943.75H1298V953.75H1310V971.25H1321.25V981.25H1334.5V991.25H1338.75V1001.25H1361.25V1010.5H1416.25V1022.5H1442V1048.75H1558V1071.25H1766.75" stroke="#ff7f0e" stroke-width="1.9" fill="none" stroke-linejoin="round"/>
<path d="M1157.55 714.85H1165V715.5H1169.5V717.17H1171.85V719.92H1178.33V720H1178.67V722.99H1179.01V725.98H1179.36V728.96H1179.7V731.95H1180.35V734.48H1181V737H1184.75V738.4H1184.88V748.5H1186.44V751.3H1188V754.1H1189.08V756.73H1190.17V759.37H1191.25V762H1193.1V764.25H1193.57V767.33H1194.03V770.42H1194.5V773.5H1195.4V782.75H1196.63V785.83H1197.87V788.92H1199.1V792H1200.65V795.07H1202.2V798.13H1203.75V801.2H1204.65V808.6H1205.58V811.07H1206.5V813.53H1207.42V816H1208.34V818.75H1209.26V821.5H1210.17V824.25H1210.64V827.33H1211.11V830.42H1211.58V833.5H1212.5V845H1213.12V848.12H1213.75V851.25H1214.38V854.38H1215V857.5H1215.58V860.33H1216.17V863.17H1216.75V866H1217.75V869.42H1218.75V872.83H1219.75V876.25H1220.05V879.25H1220.35V882.25H1220.65V885.25H1220.95V888.25H1221.25V891.25H1222.5V894.58H1223.75V897.92H1225V901.25H1226.12V904.06H1227.25V906.88H1228.38V909.69H1229.5V912.5H1232.88V914.38H1236.25V916.25H1237.5V919.06H1238.75V921.88H1240V924.69H1241.25V927.5H1241.88V930.83H1242.5V934.17H1243.12V937.5H1243.75V940.83H1244.38V944.17H1245V947.5H1248.12V950H1251.25V952.5H1252.81V955.31H1254.38V958.12H1255.94V960.94H1257.5V963.75H1258.44V967.19H1259.38V970.62H1260.31V974.06H1261.25V977.5H1273.75V978H1276.25V981.25H1278.12V984.62H1280V988H1295V988.5H1295.5V995H1296.5V998.12H1297.5V1001.25H1310V1001.75H1310.5V1006.25H1320.5V1006.75H1321.25V1012.5H1322.5V1015.83H1323.75V1019.17H1325V1022.5H1328.12V1024.75H1331.25V1027H1343V1027.5H1343.5V1032H1380V1032H1380.5V1038H1390V1038.5H1390.31V1041.38H1390.62V1044.25H1390.94V1047.12H1391.25V1050H1412.5V1050H1413V1065H1470V1065H1470.5V1073H1487.5V1073.5H1488V1081.25H1489.08V1084.58H1490.17V1087.92H1491.25V1091.25H1501.25V1091.75H1501.75V1100H1724.25" stroke="#0e5010" stroke-width="1.9" fill="none" stroke-linejoin="round"/>
<path d="M1190.1 714.85h9.8M1195 709.95v9.8M1194.2 724.1h9.8M1199.1 719.2v9.8M1223.75 798h9.8M1228.65 793.1v9.8M1227.45 807.67h9.8M1232.35 802.77v9.8M1263.1 916.75h9.8M1268 911.85v9.8M1375.1 1011h9.8M1380 1006.1v9.8M1380.1 1011h9.8M1385 1006.1v9.8M1389.6 1011h9.8M1394.5 1006.1v9.8M1409.6 1011h9.8M1414.5 1006.1v9.8M1466.35 1048.75h9.8M1471.25 1043.85v9.8M1499.85 1048.75h9.8M1504.75 1043.85v9.8M1536.1 1048.75h9.8M1541 1043.85v9.8M1575.6 1072h9.8M1580.5 1067.1v9.8M1684.35 1072h9.8M1689.25 1067.1v9.8M1695.1 1072h9.8M1700 1067.1v9.8M1758.1 1072h9.8M1763 1067.1v9.8" stroke="#ff7f0e" stroke-width="1.6" fill="none"/>
<path d="M1156.85 714.85h9.8M1161.75 709.95v9.8M1159.1 716.75h9.8M1164 711.85v9.8M1161.85 714.85h9.8M1166.75 709.95v9.8M1173.85 733.75h9.8M1178.75 728.85v9.8M1176.2 737h9.8M1181.1 732.1v9.8M1183.6 759.65h9.8M1188.5 754.75v9.8M1189.6 782.25h9.8M1194.5 777.35v9.8M1193.75 788.25h9.8M1198.65 783.35v9.8M1207.6 845h9.8M1212.5 840.1v9.8M1210.1 857.5h9.8M1215 852.6v9.8M1211.85 865.5h9.8M1216.75 860.6v9.8M1215.1 876.25h9.8M1220 871.35v9.8M1221.35 901.25h9.8M1226.25 896.35v9.8M1228.85 913.75h9.8M1233.75 908.85v9.8M1235.1 916.25h9.8M1240 911.35v9.8M1243.1 947.5h9.8M1248 942.6v9.8M1252.6 963.75h9.8M1257.5 958.85v9.8M1259.35 978h9.8M1264.25 973.1v9.8M1265.6 978h9.8M1270.5 973.1v9.8M1278.85 988h9.8M1283.75 983.1v9.8M1284.35 988h9.8M1289.25 983.1v9.8M1317.6 1013h9.8M1322.5 1008.1v9.8M1360.1 1032.5h9.8M1365 1027.6v9.8M1377.1 1038.75h9.8M1382 1033.85v9.8M1392.1 1050.5h9.8M1397 1045.6v9.8M1393.85 1050.5h9.8M1398.75 1045.6v9.8M1399.6 1050.5h9.8M1404.5 1045.6v9.8M1403.85 1050.5h9.8M1408.75 1045.6v9.8M1407.6 1065.75h9.8M1412.5 1060.85v9.8M1428.85 1065.5h9.8M1433.75 1060.6v9.8M1529.35 1100.75h9.8M1534.25 1095.85v9.8M1555.6 1100.75h9.8M1560.5 1095.85v9.8M1560.1 1100.75h9.8M1565 1095.85v9.8M1565.6 1100.75h9.8M1570.5 1095.85v9.8M1648.1 1100.75h9.8M1653 1095.85v9.8M1697.6 1100.75h9.8M1702.5 1095.85v9.8M1715.6 1100.75h9.8M1720.5 1095.85v9.8" stroke="#0e5010" stroke-width="1.6" fill="none"/>
<text x="1169.5" y="1081.6" font-size="21" textLength="75.5" lengthAdjust="spacingAndGlyphs">p = 0.04</text>
<rect x="1265" y="720.7" width="33.5" height="38" fill="#ed7d31"/>
<rect x="1265" y="770.5" width="33.5" height="37.8" fill="#00b050"/>
<text x="1304" y="757" font-size="35.5" textLength="404" lengthAdjust="spacingAndGlyphs">Median OSv 373, N=58</text>
<text x="1304" y="803.75" font-size="35.5" textLength="427.5" lengthAdjust="spacingAndGlyphs">Median OSv 245, N=128</text>
<rect x="1128" y="692.5" width="647" height="492.5" fill="none" stroke="#8c8c8c" stroke-width="1.3"/>
<text x="945.5" y="1360.7" font-size="66" font-weight="bold" textLength="34" lengthAdjust="spacingAndGlyphs">e</text>
<path d="M1223.61 1327V1819M1370.84 1327V1819M1518.06 1327V1819M1665.29 1327V1819M1120.5 1741.01H1767.5M1120.5 1629.22H1767.5M1120.5 1517.43H1767.5M1120.5 1405.64H1767.5" stroke="#e9e9e9" stroke-width="0.9" fill="none"/>
<path d="M1150 1327V1819M1297.22 1327V1819M1444.45 1327V1819M1591.67 1327V1819M1738.9 1327V1819M1120.5 1796.9H1767.5M1120.5 1685.11H1767.5M1120.5 1573.33H1767.5M1120.5 1461.54H1767.5M1120.5 1349.75H1767.5" stroke="#dedede" stroke-width="1.4" fill="none"/>
<path d="M1150 1819v5.5M1297.22 1819v5.5M1444.45 1819v5.5M1591.67 1819v5.5M1738.9 1819v5.5M1120.5 1796.9h-5.5M1120.5 1685.11h-5.5M1120.5 1573.33h-5.5M1120.5 1461.54h-5.5M1120.5 1349.75h-5.5" stroke="#333" stroke-width="1.5" fill="none"/>
<g font-size="22.5" fill="#3d3d3d">
<text x="1109.5" y="1805.2" text-anchor="end">0.00</text>
<text x="1109.5" y="1693.41" text-anchor="end">0.25</text>
<text x="1109.5" y="1581.62" text-anchor="end">0.50</text>
<text x="1109.5" y="1469.84" text-anchor="end">0.75</text>
<text x="1109.5" y="1358.05" text-anchor="end">1.00</text>
<text x="1150" y="1848.8" text-anchor="middle">0</text>
<text x="1297.22" y="1848.8" text-anchor="middle">250</text>
<text x="1444.45" y="1848.8" text-anchor="middle">500</text>
<text x="1591.67" y="1848.8" text-anchor="middle">750</text>
<text x="1738.9" y="1848.8" text-anchor="middle">1000</text>
</g>
<text x="1056.5" y="1783.83" font-size="23" textLength="421" lengthAdjust="spacingAndGlyphs" transform="rotate(-90 1056.5 1783.83)">Survival probability Disease Free Interval</text>
<clipPath id="clipx1327"><rect x="1300" y="1832.5" width="300" height="30"/></clipPath>
<text x="1385.5" y="1873.5" font-size="21" textLength="117" lengthAdjust="spacingAndGlyphs" clip-path="url(#clipx1327)">Time in Days</text>
<text x="1176" y="1288.6" font-size="21.7" textLength="59.3" lengthAdjust="spacingAndGlyphs">Strata</text>
<path d="M1250.2 1280.4h18.8" stroke="#ff7f0e" stroke-width="1.8"/>
<path d="M1254.3 1280.7h10.4M1259.5 1275.5v10.4" stroke="#ff7f0e" stroke-width="1.6" fill="none"/>
<text x="1284" y="1288.1" font-size="18" fill="#1a1a1a" textLength="216.3" lengthAdjust="spacingAndGlyphs">PROGNOSIS=FAVORABLE</text>
<path d="M1515.8 1280.4h18.8" stroke="#0e5010" stroke-width="1.8"/>
<path d="M1520 1280.7h10.4M1525.2 1275.5v10.4" stroke="#0e5010" stroke-width="1.6" fill="none"/>
<text x="1549" y="1288.1" font-size="18" fill="#1a1a1a" textLength="163" lengthAdjust="spacingAndGlyphs">PROGNOSIS=POOR</text>
<path d="M1150 1573.33H1292M1238.25 1573.33V1796.9M1292 1573.33V1796.9" stroke="#262626" stroke-width="1.45" stroke-dasharray="4.2 4.2" fill="none"/>
<path d="M1150.33 1349.4H1182.17V1378.5H1186.33V1386.33H1199.25V1405.75H1200.17V1414.5H1206.65V1424.65H1218.2V1435.25H1228.35V1445H1243.12V1455.12H1244.5V1465.75H1246.35V1475H1251.75V1485H1267.5V1495H1270.5V1506.25H1273.75V1516.25H1275.5V1527.5H1278V1536.25H1281.25V1556.25H1287V1565H1290.5V1575H1297.5V1585H1306.25V1595H1316.25V1604.25H1324.5V1614.25H1338.75V1625.5H1367.5V1635.5H1375.5V1645H1385V1655.75H1395.75V1665.5H1409.5V1676.25H1446.25V1686.25H1505.75V1697H1567.5V1711.75H1579.5V1725.5H1767.5" stroke="#ff7f0e" stroke-width="1.9" fill="none" stroke-linejoin="round"/>
<path d="M1150.33 1349.4H1170.62V1349.85H1176.17V1352.17H1178.71V1354.46H1181.25V1356.75H1182.17V1366.95H1182.41V1370.03H1182.64V1373.1H1182.88V1376.18H1183.11V1379.25H1183.34V1382.33H1183.58V1385.4H1183.8V1388.79H1184.03V1392.18H1184.26V1395.58H1184.49V1398.97H1184.72V1402.36H1184.95V1405.75H1185.1V1408.93H1185.26V1412.11H1185.41V1415.28H1185.56V1418.46H1185.71V1421.64H1185.87V1424.82H1186.02V1427.99H1186.17V1431.17H1186.33V1434.35H1186.67V1437.57H1187.03V1440.8H1187.38V1444.03H1187.72V1447.25H1190.95V1449.12H1191.28V1451.84H1191.6V1454.56H1191.92V1457.28H1192.25V1460H1192.75V1463.33H1193.25V1466.67H1193.75V1470H1194.58V1472.5H1195.42V1475H1196.25V1477.5H1198.12V1479.38H1200V1481.25H1201.67V1484.17H1203.33V1487.08H1205V1490H1205.5V1493H1206V1496H1206.5V1499H1207V1502H1207.5V1505H1207.9V1508.25H1208.3V1511.5H1208.7V1514.75H1209.1V1518H1209.5V1521.25H1209.67V1524.38H1209.83V1527.5H1210V1530.62H1210.17V1533.75H1210.33V1536.88H1210.5V1540H1211.31V1542.81H1212.12V1545.62H1212.94V1548.44H1213.75V1551.25H1218.12V1553.12H1222.5V1555H1224.58V1558.33H1226.67V1561.67H1228.75V1565H1230.62V1567.75H1232.5V1570.5H1238V1572.5H1238.81V1575.62H1239.62V1578.75H1240.44V1581.88H1241.25V1585H1241.83V1588.33H1242.42V1591.67H1243V1595H1243.5V1597.92H1244V1600.83H1244.5V1603.75H1245.75V1606.25H1247V1608.75H1248.75V1611.62H1250.5V1614.5H1253.38V1616.62H1256.25V1618.75H1259.58V1622.08H1262.92V1625.42H1266.25V1628.75H1268.12V1632.12H1270V1635.5H1271.25V1638.38H1272.5V1641.25H1275V1643H1282.5V1645.5H1299.5V1646H1300V1650H1302.5V1652.5H1305V1655H1306.88V1656.88H1308.75V1658.75H1312.5V1660.88H1316.25V1663H1318.75V1665.25H1321.25V1667.5H1323.12V1669.38H1325V1671.25H1326.88V1673.12H1328.75V1675H1331.88V1677.5H1335V1680H1337.5V1682.75H1340V1685.5H1341.88V1687.75H1343.75V1690H1347.5V1691.75H1400.5V1691.75H1401V1697.5H1402.38V1700.62H1403.75V1703.75H1406.88V1705.88H1410V1708H1413.33V1711.17H1416.67V1714.33H1420V1717.5H1423.75V1720H1427.5V1722.5H1429.38V1724.75H1431.25V1727H1436.25V1729.12H1441.25V1731.25H1449.38V1733.38H1457.5V1735.5H1553.5V1741.25H1654.25V1749.25H1697.25V1758H1767.5" stroke="#0e5010" stroke-width="1.9" fill="none" stroke-linejoin="round"/>
<path d="M1180.5 1378.5h9.8M1185.4 1373.6v9.8M1204.97 1426.5h9.8M1209.88 1421.6v9.8M1462.1 1686.75h9.8M1467 1681.85v9.8M1525.1 1698h9.8M1530 1693.1v9.8M1536.1 1698h9.8M1541 1693.1v9.8M1727.35 1726.5h9.8M1732.25 1721.6v9.8M1736.85 1726.5h9.8M1741.75 1721.6v9.8" stroke="#ff7f0e" stroke-width="1.6" fill="none"/>
<path d="M1151.85 1349.75h9.8M1156.75 1344.85v9.8M1154.6 1349.75h9.8M1159.5 1344.85v9.8M1157.35 1349.75h9.8M1162.25 1344.85v9.8M1160.1 1349.75h9.8M1165 1344.85v9.8M1162.85 1350h9.8M1167.75 1345.1v9.8M1164.35 1350h9.8M1169.25 1345.1v9.8" stroke="#0e5010" stroke-width="1.4" fill="none"/>
<path d="M1170.35 1353h9.8M1175.25 1348.1v9.8M1182.85 1447.75h9.8M1187.75 1442.85v9.8M1204.6 1520.75h9.8M1209.5 1515.85v9.8M1206.35 1540h9.8M1211.25 1535.1v9.8M1207.6 1541.75h9.8M1212.5 1536.85v9.8M1255.1 1618.75h9.8M1260 1613.85v9.8M1258.85 1622h9.8M1263.75 1617.1v9.8M1261.35 1628.75h9.8M1266.25 1623.85v9.8M1268.1 1640.75h9.8M1273 1635.85v9.8M1347.6 1692.5h9.8M1352.5 1687.6v9.8M1355.6 1692.5h9.8M1360.5 1687.6v9.8M1503.85 1736.25h9.8M1508.75 1731.35v9.8M1515.1 1736.25h9.8M1520 1731.35v9.8M1543.1 1736.25h9.8M1548 1731.35v9.8M1553.6 1742h9.8M1558.5 1737.1v9.8M1554.35 1742.5h9.8M1559.25 1737.6v9.8M1605.1 1742h9.8M1610 1737.1v9.8M1678.1 1750h9.8M1683 1745.1v9.8M1724.35 1758.75h9.8M1729.25 1753.85v9.8M1760.6 1759.25h9.8M1765.5 1754.35v9.8" stroke="#0e5010" stroke-width="1.6" fill="none"/>
<text x="1162.75" y="1715.9" font-size="21" textLength="86.5" lengthAdjust="spacingAndGlyphs">p = 0.026</text>
<rect x="1270" y="1372.5" width="34.2" height="38" fill="#ed7d31"/>
<rect x="1270" y="1419.5" width="34.2" height="38" fill="#00b050"/>
<text x="1309" y="1400.5" font-size="35.5" textLength="423.5" lengthAdjust="spacingAndGlyphs">Median DFI = 240, N=52</text>
<text x="1309" y="1452.5" font-size="35.5" textLength="446" lengthAdjust="spacingAndGlyphs">Median DFI = 150, N=134</text>
<rect x="1120.5" y="1327" width="647" height="492" fill="none" stroke="#8c8c8c" stroke-width="1.3"/>
<text x="961" y="1949.7" font-size="66" font-weight="bold" textLength="22" lengthAdjust="spacingAndGlyphs">f</text>
<path d="M1222.63 1944V2437M1369.88 1944V2437M1517.13 1944V2437M1664.38 1944V2437M1119.5 2358.88H1767M1119.5 2246.84H1767M1119.5 2134.81H1767M1119.5 2022.77H1767" stroke="#e9e9e9" stroke-width="0.9" fill="none"/>
<path d="M1149 1944V2437M1296.25 1944V2437M1443.5 1944V2437M1590.76 1944V2437M1738.01 1944V2437M1119.5 2414.9H1767M1119.5 2302.86H1767M1119.5 2190.82H1767M1119.5 2078.79H1767M1119.5 1966.75H1767" stroke="#dedede" stroke-width="1.4" fill="none"/>
<path d="M1149 2437v5.5M1296.25 2437v5.5M1443.5 2437v5.5M1590.76 2437v5.5M1738.01 2437v5.5M1119.5 2414.9h-5.5M1119.5 2302.86h-5.5M1119.5 2190.82h-5.5M1119.5 2078.79h-5.5M1119.5 1966.75h-5.5" stroke="#333" stroke-width="1.5" fill="none"/>
<g font-size="22.5" fill="#3d3d3d">
<text x="1108.5" y="2423.2" text-anchor="end">0.00</text>
<text x="1108.5" y="2311.16" text-anchor="end">0.25</text>
<text x="1108.5" y="2199.12" text-anchor="end">0.50</text>
<text x="1108.5" y="2087.09" text-anchor="end">0.75</text>
<text x="1108.5" y="1975.05" text-anchor="end">1.00</text>
<text x="1149" y="2465.8" text-anchor="middle">0</text>
<text x="1296.25" y="2465.8" text-anchor="middle">400</text>
<text x="1443.5" y="2465.8" text-anchor="middle">800</text>
<text x="1590.76" y="2465.8" text-anchor="middle">1200</text>
<text x="1738.01" y="2465.8" text-anchor="middle">1600</text>
</g>
<text x="1056.5" y="2376.32" font-size="23" textLength="371" lengthAdjust="spacingAndGlyphs" transform="rotate(-90 1056.5 2376.32)">Survival probability Overall Survivall</text>
<text x="1383.5" y="2490.3" font-size="21" textLength="117" lengthAdjust="spacingAndGlyphs">Time in Days</text>
<text x="1174.5" y="1904.9" font-size="21.7" textLength="59.3" lengthAdjust="spacingAndGlyphs">Strata</text>
<path d="M1248.7 1896.7h18.8" stroke="#ff7f0e" stroke-width="1.8"/>
<path d="M1252.8 1897h10.4M1258 1891.8v10.4" stroke="#ff7f0e" stroke-width="1.6" fill="none"/>
<text x="1282.5" y="1904.4" font-size="18" fill="#1a1a1a" textLength="216.3" lengthAdjust="spacingAndGlyphs">PROGNOSIS=FAVORABLE</text>
<path d="M1514.3 1896.7h18.8" stroke="#0e5010" stroke-width="1.8"/>
<path d="M1518.5 1897h10.4M1523.7 1891.8v10.4" stroke="#0e5010" stroke-width="1.6" fill="none"/>
<text x="1547.5" y="1904.4" font-size="18" fill="#1a1a1a" textLength="163" lengthAdjust="spacingAndGlyphs">PROGNOSIS=POOR</text>
<path d="M1149 2190.82H1290.75M1237 2190.82V2414.9M1290.75 2190.82V2414.9" stroke="#262626" stroke-width="1.45" stroke-dasharray="4.2 4.2" fill="none"/>
<path d="M1148.75 1966.5H1189.58V1974.7H1200.17V1984.4H1206.65V2002.4H1210.8V2012.58H1214.95V2022.25H1218.2V2030.12H1221.42V2041.2H1230.2V2062.43H1231.12V2072.6H1234.35V2083.2H1240.83V2104.5H1243.75V2114.5H1253V2134.5H1256.25V2145.75H1259.5V2155.75H1266.25V2166.5H1283.75V2177H1286.25V2188.25H1290V2199.5H1302V2210H1313.25V2221.25H1326.25V2231.75H1330V2242.5H1352.5V2253.25H1408V2267.5H1433.25V2297.5H1461.25V2311.75H1549.25V2337.5H1758" stroke="#ff7f0e" stroke-width="1.9" fill="none" stroke-linejoin="round"/>
<path d="M1148.92 1966.85H1157.5V1967.5H1161.4V1969.62H1163.25V1971.92H1169.7V1972H1170.05V1974.99H1170.4V1977.97H1170.75V1980.96H1171.1V1983.95H1171.8V1986.03H1172.5V1988.1H1176.17V1989.5H1176.25V1999.65H1178.06V2002.88H1179.88V2006.1H1181.94V2008.88H1184V2011.65H1184.47V2014.73H1184.93V2017.8H1185.4V2020.88H1185.77V2023.96H1186.13V2027.04H1186.5V2030.12H1187.98V2033.5H1189.47V2036.88H1190.95V2040.25H1192.18V2042.72H1193.42V2045.18H1194.65V2047.65H1195.1V2050.43H1195.55V2053.22H1196V2056H1196.93V2058.45H1197.87V2060.9H1198.8V2063.35H1199.87V2066.12H1200.93V2068.9H1202V2071.68H1202.36V2074.68H1202.71V2077.68H1203.07V2080.68H1203.42V2083.68H1204V2091.25H1204.45V2094.4H1204.9V2097.55H1205.35V2100.7H1205.8V2103.85H1206.25V2107H1206.81V2110.25H1207.38V2113.5H1207.94V2116.75H1208.5V2120H1209.12V2123H1209.75V2126H1210.38V2129H1211V2132H1211.55V2135H1212.1V2138H1212.65V2141H1213.2V2144H1213.75V2147H1215V2149.5H1216.25V2152H1217.5V2154.5H1218.88V2157.31H1220.25V2160.12H1221.62V2162.94H1223V2165.75H1224.92V2168.5H1226.83V2171.25H1228.75V2174H1230.19V2177.25H1231.62V2180.5H1233.06V2183.75H1234.5V2187H1235V2190.25H1235.5V2193.5H1236V2196.75H1236.5V2200H1237V2203.25H1238.6V2206.35H1240.2V2209.45H1241.8V2212.55H1243.4V2215.65H1245V2218.75H1246.56V2221.69H1248.12V2224.62H1249.69V2227.56H1251.25V2230.5H1265V2231.25H1266.25V2233.75H1268.12V2236.88H1270V2240H1285.5V2240.5H1286.25V2244H1287V2247.5H1288.5V2250H1290V2252.5H1300.75V2253H1301.25V2262.5H1313.25V2263H1313.75V2268.75H1315V2271.83H1316.25V2274.92H1317.5V2278H1320.62V2280.25H1323.75V2282.5H1334V2283H1334.5V2287.5H1371.5V2287.5H1372V2292H1381.25V2292.5H1381.56V2295.5H1381.88V2298.5H1382.19V2301.5H1382.5V2304.5H1404V2304.5H1404.5V2317H1479V2317H1479.5V2325H1480.5V2327.5H1481.5V2330H1482.5V2332.5H1492V2333H1492.5V2341.25H1715.5" stroke="#0e5010" stroke-width="1.9" fill="none" stroke-linejoin="round"/>
<path d="M1185.6 1977h9.8M1190.5 1972.1v9.8M1201.75 1995.5h9.8M1206.65 1990.6v9.8M1215.1 2034.25h9.8M1220 2029.35v9.8M1218.85 2044h9.8M1223.75 2039.1v9.8M1254.35 2158.25h9.8M1259.25 2153.35v9.8M1366.35 2253.75h9.8M1371.25 2248.85v9.8M1371.35 2253.75h9.8M1376.25 2248.85v9.8M1380.85 2253.75h9.8M1385.75 2248.85v9.8M1400.85 2253.75h9.8M1405.75 2248.85v9.8M1457.6 2313h9.8M1462.5 2308.1v9.8M1527.6 2312.5h9.8M1532.5 2307.6v9.8M1566.85 2338.25h9.8M1571.75 2333.35v9.8M1676.1 2338.25h9.8M1681 2333.35v9.8M1749.85 2338.25h9.8M1754.75 2333.35v9.8" stroke="#ff7f0e" stroke-width="1.6" fill="none"/>
<path d="M1148.1 1966.85h9.8M1153 1961.95v9.8M1151.35 1970h9.8M1156.25 1965.1v9.8M1153.72 1966.85h9.8M1158.62 1961.95v9.8M1165.27 1984.88h9.8M1170.17 1979.97v9.8M1167.6 1988.1h9.8M1172.5 1983.2v9.8M1174.97 2009.75h9.8M1179.88 2004.85v9.8M1180.5 2029.65h9.8M1185.4 2024.75v9.8M1181.85 2033.35h9.8M1186.75 2028.45v9.8M1185.1 2037.5h9.8M1190 2032.6v9.8M1198.85 2091.25h9.8M1203.75 2086.35v9.8M1203.85 2120h9.8M1208.75 2115.1v9.8M1206.35 2132h9.8M1211.25 2127.1v9.8M1212.6 2154.5h9.8M1217.5 2149.6v9.8M1216.35 2159h9.8M1221.25 2154.1v9.8M1220.1 2166.5h9.8M1225 2161.6v9.8M1226.35 2173.25h9.8M1231.25 2168.35v9.8M1228.1 2174.5h9.8M1233 2169.6v9.8M1233.85 2203.25h9.8M1238.75 2198.35v9.8M1243.85 2218.25h9.8M1248.75 2213.35v9.8M1251.35 2231.5h9.8M1256.25 2226.6v9.8M1256.35 2231.5h9.8M1261.25 2226.6v9.8M1270.1 2240h9.8M1275 2235.1v9.8M1275.1 2240h9.8M1280 2235.1v9.8M1308.85 2269.5h9.8M1313.75 2264.6v9.8M1351.35 2288.75h9.8M1356.25 2283.85v9.8M1368.85 2293h9.8M1373.75 2288.1v9.8M1382.6 2305h9.8M1387.5 2300.1v9.8M1385.1 2305h9.8M1390 2300.1v9.8M1391.35 2305h9.8M1396.25 2300.1v9.8M1395.1 2305h9.8M1400 2300.1v9.8M1398.85 2318.75h9.8M1403.75 2313.85v9.8M1420.1 2317.5h9.8M1425 2312.6v9.8M1491.35 2342h9.8M1496.25 2337.1v9.8M1520.1 2342h9.8M1525 2337.1v9.8M1546.85 2342h9.8M1551.75 2337.1v9.8M1551.35 2342h9.8M1556.25 2337.1v9.8M1556.85 2342h9.8M1561.75 2337.1v9.8M1639.35 2342h9.8M1644.25 2337.1v9.8M1687.6 2342h9.8M1692.5 2337.1v9.8M1688.35 2342.5h9.8M1693.25 2337.6v9.8M1706.85 2342h9.8M1711.75 2337.1v9.8" stroke="#0e5010" stroke-width="1.6" fill="none"/>
<text x="1161.5" y="2333.3" font-size="21" textLength="86.5" lengthAdjust="spacingAndGlyphs">p = 0.046</text>
<rect x="1265" y="1955" width="33.7" height="37.8" fill="#ed7d31"/>
<rect x="1264" y="1999" width="35" height="37.5" fill="#00b050"/>
<text x="1304" y="1980.25" font-size="35.5" textLength="445" lengthAdjust="spacingAndGlyphs">Median OSv = 386 , N=52</text>
<text x="1304" y="2033.25" font-size="35.5" textLength="454.2" lengthAdjust="spacingAndGlyphs">Median OSv = 240, N=134</text>
<rect x="1119.5" y="1944" width="647.5" height="493" fill="none" stroke="#8c8c8c" stroke-width="1.3"/>
</svg></body></html>
